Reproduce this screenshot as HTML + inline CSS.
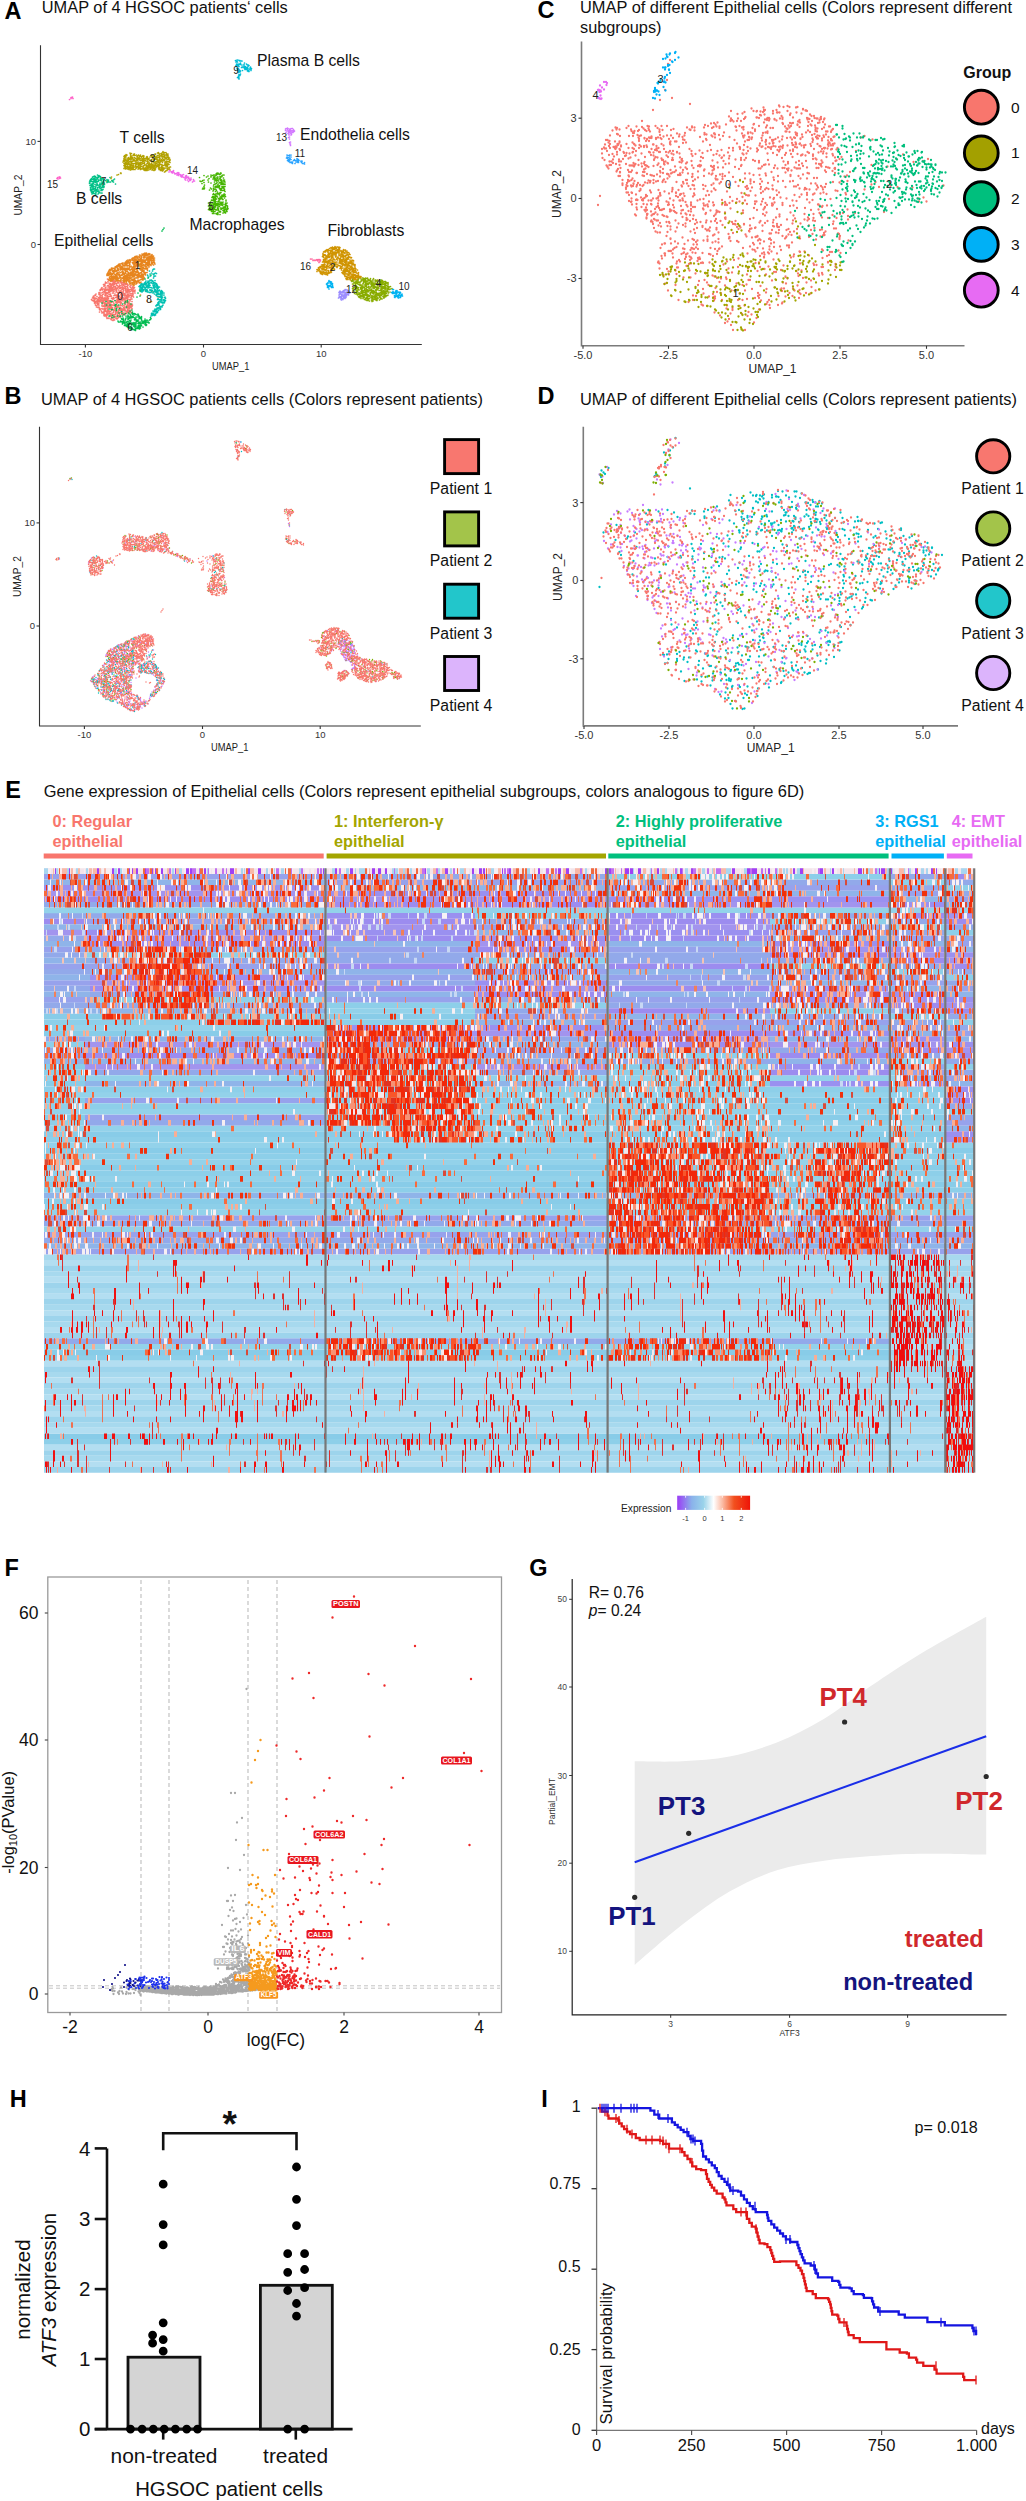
<!DOCTYPE html><html><head><meta charset="utf-8"><style>html,body{margin:0;padding:0;background:#fff;overflow:hidden}svg{display:block}text{font-family:"Liberation Sans",sans-serif}</style></head><body><svg width="1026" height="2501" viewBox="0 0 1026 2501"><rect width="1026" height="2501" fill="#fff"/><text x="4.4" y="18.7" font-size="23.5" font-weight="bold">A</text><text x="41.8" y="13.4" font-size="16.3" fill="#111" textLength="246" lengthAdjust="spacingAndGlyphs">UMAP of 4 HGSOC patients‘ cells</text><text x="4.4" y="404.3" font-size="23.5" font-weight="bold">B</text><text x="41" y="404.5" font-size="16.3" fill="#111" textLength="442" lengthAdjust="spacingAndGlyphs">UMAP of 4 HGSOC patients cells (Colors represent patients)</text><g><path transform="scale(.5)" stroke="#F8766D" stroke-width="3.4" stroke-linecap="round" d="M215 558h0m-4 6h0m0 1h0m1 0h0m0 1h0m2 0h0m0 0h0m2-3h0m1-3h0m0 0h0m1 6h0m3 1h0m1-4h0m2-2h0m0 0h0m1 2h0m1-1h0m0 4h0m0 1h0m1-3h0m0-3h0m1 0h0m1 1h0m0 3h0m0 1h0m1-3h0m0 4h0m0-5h0m1 2h0m2-3h0m0 6h0m2-3h0m1-2h0m0 4h0m0-4h0m0 1h0m1 3h0m0 0h0m1 0h0m3-4h0m0 2h0m1 2h0m1-2h0m0 1h0m2 0h0m2 0h0m1 0h0m3 1h0m18 9h0m-1 0h0m-1-1h0m-1-1h0m-1 1h0m-3-3h0m-1 4h0m-1-2h0m0-1h0m-4-1h0m0-1h0m-1 2h0m0-4h0m0 1h0m0 6h0m-1-6h0m0 4h0m0-5h0m-2 0h0m0 0h0m-1 5h0m0 0h0m0-4h0m-1-1h0m-1 6h0m0 0h0m0-2h0m0-4h0m-2 0h0m0 2h0m0-2h0m-1 7h0m0-4h0m-1 3h0m0 1h0m-1 0h0m0-6h0m0 0h0m0 5h0m0-6h0m-1 7h0m-1-4h0m0 0h0m0 0h0m-2 3h0m-1-1h0m0-3h0m-1 3h0m-1 1h0m-1 0h0m0 1h0m0 0h0m-1-4h0m-1 0h0m-1-1h0m-2 3h0m0 2h0m-2-6h0m0 4h0m-1 1h0m-1-2h0m0-4h0m0 6h0m-1 1h0m0-7h0m0 7h0m0-5h0m-1 0h0m-1-2h0m0 7h0m-1-3h0m0 2h0m0-5h0m-1 3h0m0-2h0m-1 0h0m0 5h0m-1 0h0m0 0h0m0 0h0m-1-2h0m0-4h0m-1 5h0m-1-3h0m-1 3h0m-1-3h0m-3 3h0m-1 1h0m-1-4h0m0-3h0m-2 4h0m0 1h0m0-4h0m-1 0h0m-3 6h0m-4 5h0m1-1h0m0 2h0m1-3h0m1-2h0m1 3h0m0-1h0m1 1h0m0 1h0m1-2h0m1 0h0m1 5h0m1-2h0m0 1h0m0-4h0m1 4h0m0-1h0m1-3h0m1 3h0m0-1h0m0 1h0m1-2h0m1-1h0m0 0h0m1 1h0m0 1h0m1-2h0m0 1h0m1 3h0m1-4h0m0 3h0m0-1h0m0 0h0m0 1h0m1-5h0m1 6h0m1-4h0m0 5h0m0 0h0m0-3h0m0 1h0m1 1h0m0-5h0m0 5h0m1-6h0m0 2h0m0 2h0m0 1h0m1-1h0m1 2h0m1-3h0m0 0h0m0 3h0m0-5h0m0 4h0m2-2h0m0 4h0m2-6h0m0 3h0m2-3h0m1 6h0m0-4h0m0-3h0m0 5h0m0-1h0m0 2h0m2-5h0m0 0h0m2 3h0m0 0h0m2-3h0m1-1h0m0 6h0m0 0h0m1 0h0m0-5h0m0-1h0m1 7h0m0-7h0m0 5h0m2-2h0m1-1h0m1 1h0m1-2h0m0 4h0m0-1h0m0 2h0m3-5h0m1 0h0m0-1h0m0 4h0m0 1h0m1 2h0m1-5h0m0 4h0m2-3h0m0 1h0m0-1h0m1 4h0m0-2h0m0-5h0m1 3h0m1 2h0m2 2h0m0-4h0m1 4h0m2-2h0m0-2h0m0 2h0m0-3h0m1-2h0m1 5h0m0 2h0m0-7h0m1 5h0m0 2h0m0-4h0m0 4h0m1-1h0m0-5h0m1-1h0m0 6h0m1 1h0m1-3h0m0 2h0m0 4h0m-4 3h0m0-3h0m0 1h0m-2 4h0m0-4h0m-2 4h0m0-3h0m0 0h0m-2-1h0m0 4h0m0 0h0m-1-7h0m0 7h0m-1-1h0m0 1h0m-2-1h0m0-4h0m0 4h0m0-2h0m-1 2h0m-1-6h0m0 6h0m0 1h0m-1-7h0m-1 0h0m0 2h0m-1 5h0m0-1h0m-1-1h0m-1-2h0m0 2h0m0-2h0m-1 3h0m0-3h0m0 2h0m-1-3h0m-1-2h0m0 3h0m-1 3h0m0 1h0m-1 0h0m0-5h0m0 4h0m0-6h0m0 1h0m-1 6h0m0-2h0m0-3h0m0 0h0m-1 3h0m0-4h0m0-1h0m-2 1h0m-1 1h0m-1-2h0m-2 4h0m0 3h0m-1-6h0m0 6h0m-2-1h0m-1 1h0m0-7h0m-2 7h0m0-3h0m-2 3h0m-1-5h0m-2 0h0m-4 2h0m0 2h0m-2-5h0m0 4h0m-1-5h0m0 5h0m-2-3h0m-1 1h0m0-1h0m0 5h0m-1-6h0m-1 3h0m-1-3h0m0 1h0m0-1h0m-1 6h0m0-2h0m-1-5h0m0 7h0m0-5h0m0 4h0m-1-6h0m-2 0h0m0 4h0m-1-4h0m-1 1h0m0 4h0m-1 2h0m-2-5h0m-1 4h0m-2-1h0m0-4h0m0 3h0m0 0h0m-1-1h0m0 2h0m0-4h0m0 0h0m-6 3h0m-1 3h0m-1-1h0m0 1h0m-7 8h0m2-3h0m1-1h0m0-1h0m1-1h0m0-1h0m1 2h0m0 3h0m0-3h0m0 2h0m1 2h0m0-1h0m2 1h0m0-2h0m2 1h0m1-4h0m1 6h0m1-1h0m1 1h0m0-4h0m2 1h0m0 1h0m1-3h0m0-2h0m1 4h0m0-2h0m0 0h0m1 5h0m1-2h0m1-2h0m0 0h0m0-3h0m1 6h0m0-1h0m0-3h0m1 2h0m2 1h0m0 2h0m1-3h0m1 3h0m0-4h0m1 1h0m0 1h0m1-5h0m1 4h0m0-4h0m0 0h0m0 7h0m1-4h0m1-2h0m0 0h0m0 1h0m0 3h0m1-3h0m0 3h0m0 0h0m0-1h0m1 1h0m1-4h0m1 0h0m3-1h0m0 1h0m1-1h0m0 5h0m1-1h0m2 2h0m0 1h0m0-2h0m1-2h0m1 2h0m3-2h0m2 0h0m1 4h0m0-6h0m1 1h0m0 3h0m1 1h0m0-5h0m1-1h0m1 2h0m0 5h0m0-5h0m1-2h0m1 5h0m2-2h0m1 1h0m0-4h0m1 1h0m0 2h0m0 4h0m1-1h0m0 0h0m1-3h0m0 1h0m0 1h0m1 0h0m0 2h0m2-7h0m0 4h0m0 1h0m0 2h0m1-3h0m0 3h0m0-3h0m2 0h0m0-1h0m0 2h0m0-5h0m1 5h0m1 0h0m0-4h0m0 1h0m1 1h0m0 4h0m0-5h0m1 4h0m0-5h0m2-1h0m0 2h0m0-2h0m1 7h0m2 0h0m1-1h0m0-3h0m1-2h0m1-1h0m0 6h0m2-6h0m1 2h0m-3 9h0m-4-1h0m0 5h0m0-7h0m-1 7h0m0-1h0m-2-2h0m-1 3h0m0-3h0m0-1h0m0 1h0m-1 0h0m-1 0h0m0 1h0m0-2h0m-1-2h0m0 0h0m0 4h0m-2 0h0m0-1h0m-1-3h0m0-1h0m0 3h0m-1 2h0m-1 2h0m-2-5h0m-1-2h0m-2 5h0m-1 2h0m0-1h0m0-2h0m0-3h0m-1 3h0m-1 1h0m-1-3h0m0 3h0m-1-4h0m0 2h0m0 2h0m0-5h0m-1 2h0m-1-1h0m-1 4h0m0-4h0m0 3h0m-1 3h0m-1-2h0m0-2h0m-1 2h0m0-3h0m0 0h0m-2-1h0m-2 6h0m-1-3h0m-2-1h0m-2 1h0m0 1h0m0-3h0m0 3h0m0 0h0m-1-1h0m-2-2h0m0-1h0m0 5h0m-2-2h0m0 1h0m0-4h0m-2-1h0m0 7h0m-1-4h0m0 4h0m0-3h0m0 0h0m0-4h0m-2 2h0m0 5h0m-1-6h0m0 6h0m0 0h0m-1-1h0m-1-5h0m-1 4h0m0 2h0m-1-3h0m-1-3h0m0 0h0m-1 5h0m0-4h0m-1 1h0m0-1h0m0 5h0m0-2h0m0-4h0m0 1h0m0-1h0m-3 0h0m0 3h0m-1-3h0m0-1h0m-1 1h0m0 1h0m0 0h0m0-2h0m-1 2h0m0 0h0m0 1h0m-1 3h0m-1-3h0m0-3h0m-2 1h0m0 0h0m0 3h0m0 3h0m0-5h0m-1 2h0m0 3h0m-1-5h0m0 0h0m-2 1h0m0 2h0m0-2h0m-1 0h0m0 4h0m-1-1h0m0-5h0m0 3h0m-1-4h0m0 0h0m-1 2h0m-1-1h0m-1 0h0m-1-1h0m7 10h0m1 1h0m1 3h0m2-4h0m1 5h0m0-5h0m0 4h0m1-5h0m1 5h0m0-4h0m6 2h0m0-2h0m2 3h0m2-2h0m0 2h0m0 0h0m0 0h0m1-2h0m0-2h0m1 2h0m0 2h0m1-4h0m1 1h0m0-1h0m0 4h0m1-4h0m1-1h0m1 4h0m0-2h0m0 0h0m1 5h0m0-2h0m1-1h0m1 0h0m0-4h0m1 5h0m0-2h0m1 2h0m1-1h0m0-3h0m0 5h0m0-3h0m1 2h0m0-2h0m0 3h0m0 1h0m1-4h0m0-1h0m1 5h0m0-5h0m0-1h0m1 6h0m2-4h0m1-2h0m1 2h0m0-2h0m2 5h0m1 0h0m0-4h0m0 1h0m1 1h0m0-2h0m0 5h0m1 0h0m0 0h0m1-2h0m0-2h0m1 1h0m0 2h0m1 0h0m2 1h0m1-5h0m0 5h0m0-4h0m1 0h0m0-3h0m0 7h0m0-7h0m3 3h0m1 1h0m2 3h0m1 0h0m0-4h0m1 3h0m1-5h0m1 0h0m1 5h0m1-2h0m1 1h0m0 1h0m0 0h0m0 0h0m0-1h0m1 2h0m0-4h0m0 0h0m0-3h0m1 2h0m0 3h0m1 0h0m1 2h0m0-3h0m0-2h0m1-1h0m0 1h0m1 4h0m0-1h0m0-5h0m1 4h0m0-4h0m0 3h0m1 4h0m0-4h0m0 2h0m0 2h0m2-7h0m0 5h0m0-4h0m0-1h0m0 4h0m0-1h0m1-1h0m-1 7h0m-2 3h0m-1 2h0m-2-5h0m0 6h0m0-7h0m-1 5h0m0-4h0m0 3h0m-2 2h0m-1-1h0m0-2h0m0-3h0m-2 0h0m-1 6h0m-2 0h0m0-2h0m0-2h0m-1-1h0m0 3h0m0-2h0m-1-1h0m0-1h0m-1 3h0m-1 2h0m0-1h0m-1 3h0m0-5h0m-1 4h0m-1-2h0m0-3h0m0 4h0m-1-3h0m0 2h0m-1 0h0m0-3h0m0 4h0m0-5h0m-1 5h0m0-1h0m0-3h0m-1 3h0m0-2h0m0 1h0m-1 1h0m-1 2h0m0-3h0m-4 2h0m0-4h0m0 5h0m-1 0h0m-1-3h0m0 4h0m0-5h0m-1 2h0m-1-4h0m0 0h0m0 4h0m-1 1h0m-1 1h0m0-2h0m-1-1h0m-2-3h0m0 1h0m0 0h0m-1 4h0m0-3h0m0 0h0m0 3h0m-1-3h0m-1 0h0m0 5h0m0-5h0m-2-2h0m0 7h0m0 0h0m-1-2h0m-2 0h0m0 2h0m-1-5h0m0 1h0m0 3h0m0 0h0m0-4h0m-1-2h0m0 6h0m-3-3h0m0 2h0m0-4h0m0 6h0m-1-2h0m0-5h0m0 3h0m-1 1h0m0-3h0m-1 5h0m0 1h0m-1-5h0m-2 0h0m-1-1h0m-1 5h0m-2-4h0m-1 2h0m-1-3h0m0 2h0m0-3h0m0 8h0m5 2h0m0-2h0m2 1h0m1 0h0m0 0h0m1 6h0m0-2h0m0-4h0m0 2h0m0 1h0m0 2h0m0-6h0m1 4h0m1 2h0m1-1h0m1 0h0m0 1h0m2-6h0m0 1h0m0 2h0m0 4h0m0 0h0m1-2h0m1-1h0m1-4h0m1 4h0m0-4h0m0 3h0m1-1h0m0 2h0m0-1h0m2 4h0m0-4h0m0 0h0m1 3h0m0-1h0m1 1h0m0 0h0m1 0h0m0-4h0m1 3h0m2 0h0m0 2h0m0-6h0m1 6h0m2-2h0m1-3h0m0 3h0m2-3h0m1-1h0m1 4h0m1 2h0m0-7h0m0 2h0m2 5h0m0 0h0m0-6h0m0 1h0m0 0h0m1 2h0m1 2h0m1-5h0m1 0h0m2 1h0m0 3h0m0-5h0m0 5h0m1-2h0m0 2h0m0-2h0m2-1h0m0 1h0m1 3h0m1-1h0m1-3h0m0 2h0m1-1h0m2 0h0m0-1h0m1-2h0m1 1h0m2-1h0m0 1h0m1 2h0m1-2h0m1-1h0m1 0h0m2 1h0m1 0h0m0 1h0m-23 8h0m-1-2h0m-1 1h0m-1 0h0m-1 2h0m0-3h0m-1 0h0m-1 5h0m-1 1h0m0-2h0m0-4h0m-2 5h0m-1-4h0m0 0h0m0 1h0m-3-1h0m0 5h0m0-4h0m-1-2h0m0 1h0m-1 2h0m-1 1h0m-1 0h0m-1-1h0m0-2h0m0 1h0m-1 5h0m0-2h0m0 0h0m-2-5h0m0 0h0m-2 4h0m0 1h0m-2-1h0m-2 1h0m-1-3h0m-1-2h0m-3 0h0m15 8h0m2 1h0m1-1h0m2 0h0"/><path transform="scale(.5)" stroke="#E7851E" stroke-width="3.4" stroke-linecap="round" d="M304 511h0m0-2h0m-2 2h0m-2-3h0m-1 1h0m-1-2h0m-1 2h0m-1 0h0m0-1h0m-1 2h0m-1-1h0m-1-3h0m0 4h0m0-1h0m-1-2h0m0 4h0m0-1h0m0 1h0m-1-1h0m0 1h0m-1-3h0m0-2h0m0 1h0m-1 4h0m-1-4h0m0 4h0m-1-2h0m0-1h0m-1 2h0m-2 1h0m0-3h0m-4 2h0m-1 0h0m0 0h0m-19 9h0m4-1h0m0-1h0m0 0h0m1-1h0m2 2h0m1-3h0m2-2h0m0 6h0m0-2h0m0-1h0m1-3h0m1 1h0m0-1h0m1 5h0m1-6h0m0 3h0m1-1h0m1 3h0m1 2h0m0 0h0m1-5h0m0-1h0m1 2h0m1 1h0m0 3h0m1-7h0m0 7h0m1-3h0m0 2h0m1 0h0m0-3h0m0-1h0m0-1h0m0 4h0m1 2h0m3-4h0m0-1h0m1-2h0m0 6h0m2-6h0m0 1h0m0 2h0m3 4h0m0-1h0m0 1h0m0-3h0m0 0h0m1-1h0m0 2h0m0 0h0m0-2h0m0-3h0m1 7h0m0-2h0m2-1h0m0 2h0m0-4h0m1-2h0m0 6h0m0-3h0m0-3h0m0 7h0m1-1h0m1 0h0m0-4h0m1 4h0m0-3h0m0 1h0m0-1h0m0 2h0m0-2h0m1-2h0m0 6h0m0-7h0m2 0h0m0 5h0m0-2h0m1 0h0m0-3h0m1 2h0m0 3h0m1 2h0m0-2h0m0-5h0m2 4h0m0 4h0m0 0h0m0 5h0m0 1h0m-1-3h0m0 1h0m-1-3h0m-1 4h0m0-5h0m-1 7h0m0 0h0m-1-5h0m0 5h0m0-6h0m-1-1h0m0 7h0m0-6h0m0 3h0m-1-4h0m-2 1h0m-1 5h0m0-3h0m0 2h0m-1-5h0m0 7h0m-1-7h0m0 1h0m0 3h0m0 1h0m-1-3h0m0 2h0m0 0h0m-1 3h0m0-3h0m0-4h0m0 0h0m0 7h0m-1-2h0m0 2h0m-1-7h0m0 0h0m-1 7h0m0-7h0m-1 2h0m0 3h0m0-5h0m-1 1h0m-1 2h0m0 2h0m-1-3h0m-1-1h0m0 3h0m-1 0h0m-1 2h0m0-6h0m0 2h0m-1 5h0m0-2h0m-1-2h0m-1 3h0m0-6h0m-1 3h0m0-1h0m0 5h0m0-7h0m-2 2h0m-1-1h0m0 2h0m0-2h0m-1-1h0m0 2h0m0 4h0m0 0h0m-1 0h0m0 1h0m0-7h0m0 6h0m0-3h0m-1 3h0m0-5h0m-1 5h0m-1 0h0m0 1h0m-1-5h0m0 1h0m0-3h0m-1 2h0m0 2h0m-1 1h0m0-3h0m0 4h0m0-3h0m0 4h0m-1-3h0m-1 1h0m0 0h0m0 0h0m0-4h0m-1 1h0m-1 5h0m0-6h0m-1 4h0m-1-5h0m-3 4h0m0-3h0m0-1h0m0 2h0m0 2h0m-2 3h0m0-2h0m0-5h0m-1 1h0m0 5h0m0-1h0m-1-2h0m0 2h0m-1 1h0m0-2h0m0-4h0m-1 3h0m0 1h0m-1-3h0m0 2h0m0 0h0m-1 2h0m0-3h0m0 0h0m-1 4h0m0-1h0m0 2h0m-1-3h0m-1 3h0m-2-1h0m0 0h0m-3 0h0m-1 1h0m-1 0h0m0 0h0m-13 7h0m0 0h0m2 1h0m0-2h0m1 1h0m0-2h0m2 2h0m0-3h0m1-1h0m2-2h0m0 4h0m0 1h0m0-3h0m1-2h0m0 6h0m1-3h0m1-3h0m0 7h0m1-2h0m0-1h0m0 2h0m1 1h0m0-2h0m1 1h0m1-5h0m0 5h0m1-3h0m0-2h0m2 3h0m0-1h0m1 0h0m1-3h0m0 0h0m0 4h0m1-2h0m1-2h0m1 2h0m1-2h0m0 4h0m1 0h0m1-1h0m0 0h0m0 0h0m2 0h0m1-2h0m0 0h0m0 4h0m0-1h0m1 2h0m0-6h0m2 4h0m2 2h0m2 0h0m1-6h0m0 7h0m1-3h0m0-2h0m0-2h0m0 1h0m0-1h0m1 4h0m0-3h0m0 5h0m2 0h0m0 0h0m1-4h0m0 1h0m2-2h0m0 3h0m1 2h0m0-1h0m0-2h0m1 1h0m1-3h0m1 0h0m0 1h0m1 2h0m0-3h0m1 0h0m1 4h0m0-4h0m0 4h0m1-1h0m0-2h0m0-1h0m1 5h0m1 1h0m0-5h0m0 2h0m2 0h0m1-2h0m0-1h0m0 6h0m3-4h0m0 2h0m0-3h0m1 3h0m0-1h0m0-3h0m1 5h0m0-5h0m2-1h0m0 4h0m1-1h0m0-2h0m1 1h0m1-2h0m0 1h0m1-1h0m0 6h0m0-4h0m0 2h0m1-3h0m1 0h0m2 2h0m1-3h0m0 0h0m2 0h0m0 0h0m2 2h0m3-2h0m-15 8h0m0 1h0m0 4h0m0-1h0m-1-2h0m-1 0h0m0-2h0m-2 1h0m-1 1h0m-2 5h0m0-1h0m0-1h0m0 1h0m0-5h0m-1 0h0m0 6h0m0-6h0m0 5h0m-1-4h0m-1 2h0m0-4h0m0 3h0m-1 4h0m0-7h0m0 6h0m-1-2h0m-1-2h0m0 2h0m-1-3h0m0 3h0m-1-3h0m0-1h0m-1 2h0m-3 5h0m-1-3h0m0 2h0m-1 1h0m0 0h0m0-1h0m0-3h0m-1 0h0m-2 4h0m-1-5h0m-1 5h0m0-3h0m-1-4h0m0 0h0m0 7h0m-1-1h0m0-2h0m0-2h0m-2 3h0m0-3h0m-1 0h0m0-2h0m0 2h0m-1 1h0m-1 0h0m-2 2h0m0-1h0m-1-4h0m-1 2h0m-1 1h0m-1-3h0m0 1h0m0 1h0m-1 5h0m-1-6h0m0-1h0m0 4h0m0-3h0m-1 1h0m-1 2h0m0 0h0m0 3h0m0-4h0m-1 0h0m0-2h0m-1 4h0m0-5h0m0 3h0m-1-1h0m-1-2h0m-1 3h0m-1 1h0m0-3h0m-1 0h0m0 6h0m0-6h0m0 2h0m0-2h0m-1 6h0m-1-4h0m-1-2h0m-1 3h0m0-3h0m-3 1h0m-1 3h0m0-2h0m0-1h0m-1 1h0m-1-2h0m0 3h0m-1 2h0m-1-1h0m-1 2h0m0 0h0m0-2h0m-1-1h0m-1-4h0m0 4h0m0-3h0m-1 3h0m0 3h0m-1 0h0m-1-6h0m-1 5h0m0-6h0m0 5h0m-1 2h0m-1-3h0m0-2h0m-1 2h0m0-2h0m0-2h0m-2 5h0m0-2h0m-1 0h0m-1 2h0m0-2h0m0 1h0m0 1h0m-1 0h0m-1 2h0m-3 7h0m0-2h0m0 3h0m1-1h0m1-5h0m0 1h0m1 2h0m0 3h0m0-7h0m1 6h0m1-1h0m0-2h0m1-3h0m0 0h0m1 4h0m0 0h0m0-3h0m0 1h0m1 3h0m1-2h0m0 4h0m0 0h0m1-4h0m0 2h0m1 0h0m0-1h0m2-3h0m0 0h0m0 2h0m1-3h0m1 0h0m0 4h0m1 1h0m1 2h0m1 0h0m0-2h0m1-2h0m0 3h0m1-3h0m0-1h0m2 4h0m0-5h0m0 4h0m0-2h0m0-1h0m1 4h0m2-6h0m0 7h0m0-1h0m0-2h0m2-3h0m0 6h0m2 0h0m0-1h0m1-6h0m0 5h0m1-1h0m0 2h0m0-3h0m1-1h0m1-1h0m0-1h0m0 5h0m0-5h0m1 4h0m0-1h0m1 3h0m0-3h0m0 3h0m0-2h0m1 3h0m1-6h0m0-1h0m1 3h0m1 3h0m0 0h0m1 0h0m0 0h0m1 1h0m1-5h0m0 2h0m1-3h0m0 6h0m0-1h0m0-2h0m1 2h0m1-3h0m1 3h0m1-5h0m0 4h0m1-2h0m0-3h0m0 7h0m0-4h0m1 0h0m0-3h0m0 2h0m0 0h0m0 4h0m1-3h0m0 3h0m1-5h0m0-1h0m0 2h0m0 4h0m0-2h0m0-2h0m0-1h0m0 4h0m0 0h0m0-2h0m1-1h0m0 5h0m0-3h0m1-3h0m0-1h0m0 6h0m1-4h0m1 3h0m1-2h0m1 3h0m0-1h0m1-3h0m0-1h0m1 6h0m0-1h0m1-6h0m0 7h0m1-2h0m0-4h0m2 1h0m0-1h0m0 6h0m0-4h0m1 2h0m0 2h0m1 0h0m0-4h0m1-1h0m0 5h0m0 0h0m1 0h0m0 0h0m1-5h0m0-1h0m0 5h0m1-5h0m0 4h0m1 0h0m1-1h0m0 3h0m1 0h0m1-2h0m1-4h0m1 2h0m0 1h0m1 0h0m0-1h0m0-1h0m1-1h0m0 5h0m0-2h0m3-3h0m-5 11h0m-1-1h0m-1-3h0m0 6h0m0-4h0m0 3h0m0-3h0m-2 5h0m0-2h0m0-3h0m-1 2h0m0-4h0m-2 7h0m0-4h0m0-1h0m-2 0h0m0-1h0m-2 1h0m-2 2h0m0-4h0m0 1h0m0 0h0m0 1h0m-1-1h0m0 3h0m-3-1h0m0 1h0m-3 1h0m0 2h0m0-7h0m-1 1h0m0 1h0m0 0h0m0 5h0m0-6h0m-2 5h0m-1-6h0m0 0h0m0 2h0m0-1h0m-1 1h0m0 5h0m-2-3h0m0 0h0m0 2h0m-2-5h0m0 2h0m-1 2h0m-1 2h0m0-2h0m0 0h0m0-5h0m-1 3h0m0 4h0m-2-7h0m0 6h0m0-3h0m-1-3h0m-1 2h0m0 3h0m-1-4h0m0 3h0m-1 1h0m0-5h0m0 3h0m-1 1h0m0-1h0m0 3h0m-1-4h0m0 1h0m-1 4h0m-1-6h0m0 1h0m0 3h0m-1-2h0m-1 2h0m0-1h0m-2 0h0m-1 3h0m-1-4h0m-1 1h0m0-4h0m-1 1h0m-1 3h0m-1 1h0m-1 0h0m0 1h0m-1-3h0m0-1h0m-1 1h0m0 2h0m0-4h0m-2 6h0m0-4h0m-1 3h0m0-2h0m0-3h0m-1 2h0m-1 1h0m0-3h0m-1 3h0m0 2h0m-1-6h0m0 2h0m0 5h0m0-4h0m-1 0h0m0-2h0m0 6h0m0-4h0m0 2h0m-2 0h0m0 2h0m-1-7h0m0 2h0m0 1h0m0 0h0m-1-3h0m-1 5h0m0 2h0m-1-6h0m-1 4h0m0-2h0m-2 4h0m2 2h0m0 0h0m1-1h0m1 2h0m1-2h0m1 0h0m1 1h0m8 1h0m1-1h0m1-1h0m1 1h0m2 0h0m2 1h0m2-2h0m0 2h0m0 0h0m0 0h0m1-1h0m4 0h0m1-1h0m0 3h0m1 1h0m0-2h0m1 2h0m1-2h0m0-1h0m0 1h0m1-1h0m2 5h0m0-3h0m0-2h0m0-1h0m2 1h0m0-1h0m0 1h0m1-1h0m0 1h0m1 1h0m0 0h0m1 2h0m1 0h0m1 1h0m0-4h0m1 5h0m0-4h0m3 3h0m0-4h0m1 5h0m1-5h0m0 5h0m0-1h0m1-4h0m0 4h0m1 1h0m0-2h0m0-1h0m0 2h0m0 0h0m1 1h0m1-6h0m0 4h0m0-3h0m1 0h0m0 3h0m1-2h0m1 2h0m0 3h0m0-1h0m0 1h0m0-4h0m1 3h0m0-1h0m0 0h0m1-3h0m1-2h0m0 0h0m0 3h0m0-3h0m2 4h0m0 1h0m0-4h0m0 0h0m0 4h0m1 1h0m1-6h0m0 6h0m1-1h0m1-1h0m3-4h0m0 0h0m1 0h0m-14 8h0m-3 0h0m-1 3h0m-2-2h0m0 1h0m-1-2h0m-3 0h0m-2 0h0m-1 0h0m20 12h0m2 1h0m10 0h0m12 1h0m1 1h0m10 0h0m-33 7h0m34 3h0m3 1h0m-15 9h0m-2 1h0m-7-2h0"/><path transform="scale(.5)" stroke="#00C0B2" stroke-width="3.4" stroke-linecap="round" d="M309 538h0m-2 0h0m-1 1h0m-1 3h0m-6 0h0m-4 8h0m5-2h0m3-2h0m3 2h0m2 2h0m1-3h0m2-1h0m2 1h0m-2 5h0m-3 1h0m-1 3h0m-6-4h0m-1 0h0m-3 3h0m-1-3h0m-12 15h0m0 0h0m4 0h0m1-1h0m1 1h0m0-2h0m1-1h0m1-2h0m0 4h0m1 1h0m2-2h0m1-3h0m1 2h0m0 3h0m2-1h0m0 1h0m0-5h0m1-1h0m0-1h0m1 1h0m1 4h0m1-5h0m0 6h0m0-1h0m1-4h0m0 0h0m1 2h0m1-1h0m0 5h0m1-2h0m0 2h0m1-2h0m2 0h0m0-4h0m1 6h0m2 0h0m6 7h0m-2 1h0m-1-2h0m-1-2h0m0 3h0m-1-5h0m0 6h0m0-3h0m-1-2h0m0-1h0m-1 3h0m-1 2h0m0-6h0m-1 0h0m-1 2h0m0 0h0m0 4h0m0-3h0m-1 1h0m-1 0h0m0 1h0m-1-3h0m-4 5h0m0 0h0m-2-4h0m-1-3h0m0 7h0m-1-2h0m0-5h0m0 3h0m-1-2h0m0 3h0m0-1h0m-1 1h0m0 3h0m-1-2h0m0-1h0m0 2h0m-1 0h0m0-4h0m0 0h0m-1 3h0m-1 2h0m0-1h0m-1-5h0m0 1h0m-2 5h0m0-6h0m-1 4h0m0 0h0m0-5h0m-1 1h0m0 5h0m0-3h0m-1-1h0m-1 5h0m0-6h0m0 0h0m0 3h0m-2-4h0m-1 3h0m0-3h0m0 2h0m0 2h0m0 3h0m-2-4h0m0 2h0m-1-1h0m-1 1h0m2 7h0m0-1h0m0 1h0m0-4h0m1 0h0m1 7h0m1 0h0m0-2h0m0-3h0m1 3h0m1-4h0m0 2h0m1 3h0m0-1h0m0-2h0m1 2h0m1-2h0m2-3h0m1 2h0m0 4h0m0 0h0m1-1h0m0 2h0m0-4h0m0 3h0m1 0h0m1-2h0m0 3h0m0-4h0m1 2h0m1-5h0m4 4h0m0-1h0m0 1h0m0 1h0m0-1h0m1 1h0m0 0h0m2-1h0m0 3h0m1-3h0m0 0h0m0-4h0m1 5h0m2-5h0m1 7h0m1-7h0m0 3h0m1 2h0m0 2h0m1-4h0m0 4h0m0 0h0m1-2h0m2-4h0m1 3h0m0-3h0m0 6h0m0-4h0m1-2h0m0 0h0m0 4h0m1 1h0m2-1h0m0-1h0m2 3h0m1 0h0m1-2h0m2 2h0m3 7h0m0-4h0m-2 0h0m0 0h0m-1 4h0m0-5h0m-1 2h0m0 0h0m-1-2h0m-1 6h0m0-3h0m0 2h0m0-1h0m0-5h0m-1 0h0m0 4h0m0-1h0m0 1h0m0-4h0m0 4h0m-1 1h0m-2 0h0m0 0h0m0-1h0m0 0h0m-1 1h0m0-3h0m-1 3h0m0-1h0m-1-1h0m0 0h0m-1-1h0m0 2h0m0-3h0m-1 4h0m0-5h0m0 7h0m-1-6h0m0 5h0m-3-2h0m-1-4h0m-1 0h0m-1 2h0m0-1h0m0 0h0m-4 0h0m-3 0h0m-2-1h0m-2 0h0m-11 0h0m31 9h0m0 6h0m1-1h0m0-1h0m1-4h0m1 6h0m2-6h0m0 1h0m0 5h0m2-5h0m0 1h0m0-3h0m0 3h0m1-2h0m0 3h0m0 2h0m1-2h0m1-2h0m3 5h0m1-4h0m1-1h0m1 2h0m0 1h0m0 4h0m-1 1h0m-1 1h0m0-3h0m0 5h0m0-5h0m-1 6h0m0-5h0m-1 4h0m0-5h0m-1 0h0m-1 4h0m0 2h0m-2-6h0m-1 2h0m0 2h0m0 1h0m-2-3h0m-2 3h0m0 2h0m0-4h0m-2 4h0m0-2h0m0 2h0m-4 5h0m0 0h0m0-1h0m2-2h0m0 2h0m1-1h0m0-1h0m1-1h0m0 1h0m0 0h0m2 1h0m0 5h0m0 0h0m1-3h0m2 1h0m3-1h0m0 2h0m1-3h0m1-1h0m-5 8h0m0 1h0m0-3h0m-1 1h0m0 2h0m-2-3h0m-1 5h0m-1-5h0m0 2h0m-1-2h0m0 7h0m-1-7h0m0 1h0m-1 3h0m0 3h0m0 0h0m0-5h0m-1 2h0m-1 3h0m-1-5h0m-1 4h0m0-2h0m-3 2h0m-3 5h0m0 2h0m1-3h0m1 5h0m0-3h0m1-1h0m0 3h0m0-3h0m1 2h0m1-1h0m0 2h0m0-6h0m1 7h0m2-1h0m0-2h0m1-2h0m1 0h0m2-1h0m-13 7h0"/><path transform="scale(.5)" stroke="#00BC51" stroke-width="3.4" stroke-linecap="round" d="M328 456h0m-2 3h0m-2 3h0m-22 88h0m-6 6h0m-6 2h0m-10 24h0m-4 4h0m-2 8h0m6-2h0m-25 12h0m0-3h0m-4 2h0m-1 3h0m-20-5h0m0 0h0m-6 2h0m-3-1h0m-9 1h0m-8 3h0m9 4h0m7 0h0m10 1h0m1 1h0m0-3h0m1 0h0m5 1h0m8-2h0m8 6h0m9-6h0m2 12h0m-4 2h0m-17 1h0m-4-6h0m-6 4h0m0-4h0m0 3h0m-8-1h0m-2 0h0m-5-1h0m7 13h0m13-5h0m6 1h0m4 2h0m3-2h0m5 4h0m0-1h0m1-4h0m3 2h0m1 3h0m0-1h0m3-4h0m1 1h0m0 2h0m0-5h0m1 3h0m2 3h0m1-3h0m2 1h0m1 1h0m3 1h0m1 0h0m0-1h0m0-1h0m1 2h0m0 0h0m25 7h0m-1 2h0m0-4h0m-1 4h0m-10-1h0m-7-2h0m0-1h0m0-2h0m0 6h0m-2-3h0m0 1h0m-1-1h0m0-1h0m0 2h0m-1 0h0m0-3h0m0-1h0m0 0h0m-1 3h0m0-4h0m0 2h0m-1-2h0m-3 2h0m-2 5h0m0-5h0m0 4h0m-1-1h0m-1 0h0m-1 2h0m-1-4h0m-2-2h0m0 1h0m-1-1h0m0 2h0m-2 0h0m0 0h0m0-1h0m-1 0h0m0 2h0m0-4h0m-2 4h0m-1-2h0m-1 3h0m0-3h0m-1 4h0m0-5h0m-1 4h0m0 0h0m0 2h0m-1-5h0m-3-2h0m0 4h0m-1 2h0m-4 0h0m-1-2h0m0 0h0m-1-4h0m-1 7h0m-1-2h0m-2-5h0m-1 1h0m-5-1h0m-7 2h0m-4 1h0m-5-3h0m-1 0h0m18 10h0m1 2h0m3 0h0m1-2h0m0 0h0m0 0h0m1 1h0m2 1h0m0-1h0m1 2h0m0 2h0m0-3h0m1 1h0m0 1h0m1-6h0m0 0h0m0 2h0m1 2h0m0-2h0m0 4h0m1 0h0m1 1h0m0 0h0m1-7h0m0 4h0m2 0h0m0 1h0m2-2h0m0 4h0m1-4h0m1 1h0m2 2h0m0-5h0m1 5h0m0-4h0m1 1h0m1-3h0m1 6h0m2 0h0m2 1h0m1-2h0m1 1h0m0 0h0m1-6h0m1 6h0m1-2h0m0 3h0m0-1h0m1-3h0m0-3h0m0 0h0m1 3h0m1-3h0m0 3h0m1 4h0m0 0h0m0-4h0m1 3h0m0-6h0m1 7h0m0-2h0m1 0h0m1-1h0m1 3h0m0 0h0m1 0h0m1-1h0m0-4h0m1 4h0m1 0h0m0-4h0m1 5h0m0 0h0m0-4h0m1 2h0m0 1h0m1-4h0m0 3h0m1-1h0m0 2h0m1 0h0m0-5h0m1 6h0m0-4h0m0 1h0m1-3h0m0 4h0m1-1h0m1-4h0m2 5h0m0-3h0m2 3h0m0 1h0m1-6h0m-6 9h0m0 1h0m0 0h0m-1 1h0m-1-1h0m-1-1h0m-4 5h0m-3-3h0m-1-2h0m0 3h0m0-4h0m-1 4h0m0 0h0m-1 2h0m0-2h0m0-1h0m-1 3h0m-1-4h0m0 2h0m0-2h0m0 4h0m0-1h0m-1-2h0m0 0h0m0 4h0m0-2h0m-1-1h0m0 2h0m0-2h0m0 1h0m-1 2h0m-3-1h0m0-4h0m0 3h0m-1-4h0m0 3h0m-1-1h0m-1-2h0m0 5h0m0-2h0m-1-3h0m-1 3h0m-1-3h0m0 0h0m-1 0h0m-2 1h0m-1 4h0m-2-6h0m-1 7h0m0-6h0m0-1h0m-2 7h0m0-4h0m0-3h0m0 6h0m-1-6h0m0 3h0m0 3h0m0-6h0m-1 1h0m-1-1h0m0 5h0m-1-2h0m0 2h0m-1-2h0m-1-1h0m-1 1h0m0-2h0m0 2h0m-1 0h0m-4-3h0m13 9h0m3 0h0m1 2h0m1-2h0m1 2h0m0 0h0m0-3h0m0 3h0m1-2h0m2 2h0m0 0h0m2 0h0m0 1h0m1-1h0m1 2h0m0-2h0m0-2h0m0 1h0m3-1h0m2 0h0m2-1h0m1 2h0m2-2h0"/><path transform="scale(.5)" stroke="#D09400" stroke-width="3.4" stroke-linecap="round" d="M680 495h0m0 0h0m-2-1h0m0 1h0m-1 0h0m-2-1h0m0 0h0m-1 0h0m-2 1h0m-1 0h0m-1 0h0m0-2h0m0 1h0m-4 1h0m-1-1h0m-3 1h0m-14 8h0m1 0h0m2-1h0m0-1h0m2-1h0m1-1h0m0 3h0m0-2h0m0-1h0m1 1h0m1 3h0m0-2h0m0 0h0m1 0h0m0-2h0m2-2h0m1 4h0m1 1h0m0-6h0m1 4h0m0 0h0m1 3h0m1 0h0m0-1h0m0-5h0m1 0h0m0 3h0m1-3h0m0 0h0m1-1h0m0 3h0m1-3h0m1 1h0m0-1h0m1 2h0m0-1h0m0 2h0m1 3h0m2-5h0m0 4h0m0-4h0m1 4h0m0-2h0m0 0h0m1 4h0m0-3h0m0 0h0m0 3h0m1-2h0m0 2h0m0-4h0m0 3h0m1-3h0m1 1h0m0 2h0m0-2h0m0-2h0m0-2h0m0 1h0m1 2h0m0-3h0m0 1h0m2 5h0m1-1h0m3 1h0m1 0h0m0 0h0m1-3h0m0 3h0m1-2h0m0 0h0m2 0h0m1 0h0m0 1h0m3 1h0m6 7h0m-1-1h0m-1-2h0m-1-1h0m0 5h0m0-5h0m-2 4h0m0 1h0m-1-4h0m0 3h0m0-5h0m0 3h0m0-1h0m-1 4h0m0 1h0m0 0h0m-2-7h0m0 7h0m-1-4h0m-1-1h0m-1-1h0m-1 5h0m0-4h0m0 0h0m0 5h0m-1-6h0m0-1h0m-1 6h0m0-5h0m0 4h0m-1 1h0m0-4h0m0 4h0m-1-6h0m0 2h0m-1 2h0m-1 2h0m-1 1h0m-1-5h0m-1 3h0m0-5h0m0 2h0m0 5h0m-1-5h0m-2-1h0m-2 0h0m0 2h0m-1-1h0m0 3h0m-1-3h0m0 1h0m-1-2h0m0 5h0m-1-3h0m-1-3h0m0 4h0m0-2h0m-2 1h0m0-3h0m0 0h0m0 7h0m0-1h0m0-4h0m-1 5h0m0-1h0m-1 0h0m0-4h0m-1 5h0m0-3h0m-2-4h0m0 2h0m-1 1h0m0-1h0m0 2h0m-1 1h0m-2-3h0m0 1h0m-1-3h0m0 1h0m0 5h0m0-1h0m0 1h0m-4 1h0m-1-7h0m-1 0h0m0 5h0m-1 2h0m-1 0h0m-1-2h0m0-5h0m0 6h0m-1-1h0m0-2h0m0 4h0m-1 2h0m2 6h0m0-4h0m0-3h0m2 7h0m1 0h0m0-2h0m0-1h0m1 3h0m0-1h0m0-1h0m0-1h0m1-3h0m1-1h0m0 5h0m0-5h0m0 0h0m1 3h0m0 3h0m1-4h0m0 1h0m0-2h0m1 1h0m0 0h0m0 1h0m1-3h0m1 0h0m1 3h0m0-2h0m2-1h0m1 6h0m0 0h0m1-4h0m0 1h0m1-2h0m0 3h0m2-2h0m0 2h0m1 3h0m1 0h0m0-1h0m3-4h0m0-2h0m0 2h0m2-2h0m0 0h0m0 6h0m1 1h0m0-1h0m0-2h0m2-2h0m1 2h0m1 1h0m1 1h0m1 0h0m1-4h0m0 3h0m1-3h0m2 5h0m0-7h0m1 2h0m0 5h0m1-1h0m0 0h0m1-3h0m0-3h0m0 7h0m1-1h0m0-1h0m0-4h0m2-1h0m1 7h0m0-5h0m0-1h0m1 4h0m0 0h0m0 0h0m0 1h0m1 1h0m1-3h0m1 3h0m0-4h0m0 3h0m1-1h0m1-4h0m0 5h0m1-3h0m1-1h0m1 0h0m2 2h0m1-1h0m4 6h0m0 5h0m0-4h0m-1-1h0m-1 5h0m-1-2h0m0-4h0m0 5h0m-1-3h0m0 4h0m-2-4h0m0 5h0m0-4h0m0 2h0m0-3h0m-1-2h0m0 5h0m-1 0h0m0 2h0m0-3h0m-1 3h0m-1-1h0m-1-2h0m0 0h0m-2 0h0m0 0h0m-1-1h0m0-2h0m-1 1h0m0 3h0m0-5h0m0 0h0m0 7h0m-1 0h0m-1-6h0m0 3h0m0-1h0m-1-1h0m0 3h0m0 0h0m-2-5h0m-1 3h0m0 4h0m-1-1h0m0-5h0m-1 0h0m0-1h0m0 7h0m-1-4h0m0 3h0m-1-1h0m0-5h0m0 2h0m-1 2h0m0 3h0m-1-3h0m0-2h0m0-1h0m-1 5h0m0-2h0m0-4h0m0 0h0m0 3h0m-1 3h0m-3-6h0m0 0h0m-1 4h0m-2 0h0m-1 2h0m0-1h0m-1-5h0m-1 7h0m0-3h0m0 3h0m-3-2h0m0-2h0m0-3h0m-1 1h0m0-1h0m-1 1h0m0 4h0m0-3h0m0-1h0m-3 5h0m0 0h0m0-6h0m-1 7h0m0-3h0m0-2h0m0-2h0m-1 0h0m0 4h0m0-1h0m-1-1h0m-1-1h0m0 3h0m0 2h0m-1-3h0m0 3h0m-1-3h0m0 1h0m0 3h0m-1-5h0m-1 3h0m-1-3h0m0 1h0m0 1h0m-1-4h0m0 5h0m-1-1h0m0 1h0m-1-2h0m-1-1h0m0-1h0m-1-1h0m0 4h0m0-2h0m-1 2h0m-1 0h0m-8 11h0m3 0h0m0-2h0m2 0h0m1-3h0m1 0h0m1 3h0m1 0h0m0-4h0m1 2h0m0-2h0m2 6h0m0-7h0m0 5h0m0-1h0m1-3h0m1 6h0m0-1h0m1 0h0m1 0h0m0-1h0m0 1h0m0 1h0m0-4h0m0 0h0m1 0h0m1-2h0m0 4h0m0-3h0m0 4h0m1-6h0m1 5h0m1-1h0m2 3h0m0-5h0m1-1h0m1 5h0m0-5h0m1 3h0m0 3h0m1-3h0m1-2h0m0 3h0m0-3h0m0 4h0m1-4h0m1 4h0m0-4h0m1 3h0m1-4h0m0 1h0m3 0h0m0-1h0m0 4h0m2 2h0m0-7h0m1 5h0m1-3h0m1 1h0m1 0h0m2 1h0m0-1h0m1 4h0m2-2h0m0-5h0m1 4h0m1-2h0m0 2h0m0-4h0m0 0h0m1 2h0m1-1h0m1 1h0m0-1h0m0 1h0m2 2h0m0 0h0m1-3h0m0-1h0m1 2h0m1 4h0m0-5h0m0-1h0m0 7h0m1-7h0m0 3h0m0 1h0m1-4h0m0 3h0m0 1h0m0 1h0m0-4h0m0 6h0m1-3h0m0 0h0m0-2h0m1-1h0m1 3h0m1 0h0m0-1h0m1 1h0m1 1h0m1 2h0m1-3h0m0-4h0m0 6h0m1 1h0m0-3h0m0 0h0m1-3h0m2 0h0m1 1h0m1 2h0m1 0h0m0-3h0m0 1h0m0 5h0m5 5h0m-3-2h0m-1 3h0m0-4h0m0 1h0m-2-1h0m-1 5h0m0-2h0m-1 2h0m0 1h0m0-3h0m0 1h0m-1 0h0m0-5h0m0 2h0m-1 0h0m0 1h0m-1 4h0m0-3h0m-1-4h0m0 3h0m-1 0h0m-2 0h0m0 2h0m0-5h0m-1 4h0m0-3h0m0 6h0m-1-7h0m-1 1h0m-1 4h0m0 2h0m0 0h0m-1-4h0m0 0h0m-1 4h0m0-2h0m-1 0h0m0 0h0m0-5h0m0 6h0m0-1h0m0-4h0m0 4h0m-1-2h0m0 3h0m0-1h0m-1-4h0m-1-1h0m0 7h0m-1-5h0m0 2h0m-1 3h0m0-3h0m0 1h0m0-2h0m-2 3h0m0-6h0m-2 0h0m-1 4h0m0-3h0m-3 0h0m-11 1h0m0 1h0m-2-2h0m-2 2h0m0 1h0m0-3h0m-2-1h0m0 3h0m0-3h0m-1 2h0m0 4h0m0-4h0m0 0h0m-1 4h0m-3-6h0m-1 5h0m0 2h0m0-1h0m-1-1h0m0 0h0m-2-4h0m0 0h0m-1 5h0m0-4h0m-1 1h0m-2 2h0m-1-2h0m-1 0h0m0-1h0m0-2h0m-1 0h0m-1 1h0m0 6h0m0-3h0m0 3h0m-1-7h0m0 2h0m-1-1h0m0 2h0m-2-3h0m0 6h0m-2 0h0m-1-3h0m-1-3h0m0 6h0m-1-5h0m0 0h0m-1 3h0m-1 0h0m-1-1h0m0 4h0m6 1h0m1 3h0m2-3h0m0 0h0m0 1h0m0 3h0m1-1h0m0-1h0m1 3h0m1-5h0m0 2h0m1-2h0m1 2h0m0-2h0m0 3h0m1 1h0m2 0h0m0-3h0m1 0h0m0 4h0m1-1h0m0 1h0m1-1h0m0-1h0m0-1h0m1 0h0m0 4h0m1-3h0m1-2h0m0 2h0m1-2h0m1 1h0m1-1h0m1 0h0m1 0h0m1-1h0m21 1h0m1 1h0m1-1h0m0 2h0m0 0h0m1 1h0m1-1h0m1 3h0m0-1h0m0-3h0m0 0h0m1 5h0m1-7h0m1 3h0m0 1h0m0-1h0m0 0h0m1 1h0m0 0h0m2 0h0m1 1h0m1 2h0m0-5h0m0 0h0m1 3h0m0-5h0m0 7h0m0-5h0m0 3h0m1-2h0m1 0h0m0 0h0m0 1h0m1-2h0m0 0h0m0-1h0m0 3h0m1-2h0m2 3h0m1 2h0m0-1h0m1-4h0m0 4h0m0-4h0m1 3h0m0-5h0m1 0h0m1 6h0m0-5h0m0 6h0m0-6h0m0 5h0m1-1h0m0 1h0m0 1h0m1-1h0m0-6h0m0 1h0m0 6h0m2-7h0m1 3h0m0 4h0m1 0h0m2-6h0m0 6h0m0-3h0m5 5h0m0 1h0m-1 2h0m0-3h0m-2 3h0m0 0h0m0-1h0m-1-1h0m0-2h0m0 1h0m-1 1h0m-1 2h0m0 2h0m0-2h0m-1 3h0m0-6h0m-1 2h0m-1-2h0m-1 3h0m0-2h0m0 2h0m-1 3h0m0-7h0m-1 3h0m-1 3h0m0 0h0m0-1h0m0-2h0m-2 2h0m0-5h0m0 6h0m0-3h0m-1-3h0m0 5h0m0-1h0m0 0h0m0-1h0m-1 0h0m-1-3h0m0 2h0m-1-2h0m0 2h0m0 2h0m-1 0h0m0-3h0m0 1h0m0 2h0m-1-4h0m0 5h0m0-5h0m0 4h0m-1 1h0m0-1h0m0 3h0m-1-2h0m-1-3h0m-1 1h0m-1 4h0m-1-2h0m0-2h0m-1 4h0m0-7h0m0 7h0m0-1h0m-1-4h0m0 5h0m-1-2h0m-1-4h0m-1 0h0m11 7h0m3 1h0m4-1h0m5 0h0"/><path transform="scale(.5)" stroke="#89AC00" stroke-width="3.4" stroke-linecap="round" d="M747 557h0m-1 2h0m-5-2h0m-4 2h0m-1 0h0m0-1h0m0 0h0m-1-2h0m-2 1h0m-2 1h0m0-2h0m-2 2h0m-1 1h0m0-2h0m-2-1h0m0 3h0m-1-3h0m-3 2h0m-5 0h0m-12 1h0m-2 3h0m1 1h0m1-3h0m0 2h0m2 0h0m1 3h0m1 0h0m1 1h0m1-2h0m1 1h0m0-3h0m1 4h0m0 1h0m0-2h0m0 2h0m1 0h0m0-5h0m1 5h0m1-4h0m0 2h0m0-4h0m3 3h0m0 1h0m2-1h0m1-2h0m1-1h0m0 1h0m1-2h0m2 7h0m1-4h0m0-3h0m0 1h0m0 5h0m0-2h0m0-1h0m1 0h0m1-1h0m1 2h0m0-3h0m0 0h0m0 0h0m0 3h0m0-2h0m1 3h0m0-5h0m0 3h0m0 4h0m1-5h0m1 0h0m0 2h0m0-2h0m1 5h0m0-3h0m2-3h0m0 1h0m0-1h0m1 5h0m1 0h0m0 1h0m1-2h0m0-5h0m0 1h0m1 5h0m1-6h0m0 3h0m1-1h0m0 1h0m0 3h0m1 0h0m0-2h0m1 3h0m0-2h0m0-3h0m1 4h0m1-4h0m0 4h0m1 0h0m0 1h0m3-3h0m0-4h0m1 0h0m0 7h0m0-5h0m2-1h0m0 1h0m1-1h0m0 2h0m1 3h0m0-6h0m0 4h0m1-2h0m2 5h0m1 0h0m0 0h0m1-4h0m0-3h0m1 5h0m2-5h0m0 7h0m0-4h0m0 1h0m0 1h0m1 0h0m1-1h0m0 2h0m0 1h0m0-6h0m2 5h0m1-3h0m1 4h0m1 0h0m0-4h0m0 4h0m1-2h0m0-2h0m1 1h0m0 3h0m2-1h0m2-1h0m0 2h0m0-1h0m5 7h0m-2 1h0m-1 0h0m-1-1h0m-1-4h0m0 5h0m0-2h0m-1 1h0m-2-2h0m-1 4h0m-1-1h0m0-4h0m0-1h0m0 0h0m-1 4h0m0-2h0m0 1h0m0 3h0m-1 0h0m-1-2h0m0-4h0m0 5h0m-1 0h0m-2-1h0m0 1h0m0-5h0m0-1h0m0 7h0m-1-2h0m0 2h0m-1-5h0m-1 5h0m0-7h0m-1 4h0m0-4h0m-3 1h0m-1 5h0m0-4h0m0 5h0m0-5h0m-1-2h0m0 1h0m0 1h0m-1 1h0m-1 3h0m0-5h0m-2 5h0m0 1h0m0-7h0m-1 1h0m-1 4h0m-1-4h0m0 0h0m0-1h0m0 6h0m0-6h0m-1 2h0m0-1h0m0 2h0m0-3h0m-1 5h0m-1-2h0m0-1h0m0 4h0m-1-4h0m0 0h0m-2-2h0m0 4h0m0 1h0m-1 1h0m0-5h0m0 4h0m-4 0h0m-1 1h0m0-6h0m0 5h0m0-4h0m-3 0h0m0 6h0m-1-2h0m0-2h0m0 1h0m-1 0h0m0 1h0m-1-4h0m0 2h0m0 1h0m0 1h0m-1-2h0m0-2h0m-1 6h0m-1-1h0m0 0h0m-1 0h0m-1 1h0m0-5h0m-1 3h0m0 2h0m-2-1h0m0-4h0m-1 1h0m-1 4h0m0-4h0m-1 0h0m0-3h0m-1 1h0m-2 6h0m0-6h0m-1-1h0m-1 7h0m-1-1h0m0-1h0m-2 0h0m0 2h0m0-1h0m0-3h0m-1-1h0m0 2h0m0 2h0m0-6h0m0 0h0m-1 7h0m-1-1h0m-1 0h0m-1 1h0m0-7h0m-2 0h0m0 9h0m1 4h0m0-4h0m0-1h0m0 4h0m1-4h0m0 2h0m1 5h0m3-5h0m1 1h0m0 1h0m0-4h0m1 1h0m0 4h0m0-5h0m0 5h0m1 1h0m1 0h0m0-5h0m0 6h0m1-4h0m0 0h0m0-3h0m0 3h0m1 0h0m1 1h0m3-2h0m0 0h0m1 5h0m1-6h0m0 2h0m0 2h0m1 1h0m0-1h0m0-1h0m0 3h0m1-6h0m1 5h0m0-1h0m3-3h0m0 3h0m1 0h0m1 1h0m1-2h0m0-3h0m1 2h0m1 3h0m0 0h0m0-3h0m0 1h0m1 1h0m1-1h0m2-3h0m0 5h0m0-6h0m1 4h0m1-4h0m1 5h0m1-2h0m1-1h0m0 3h0m0 2h0m1-3h0m1 2h0m1-6h0m1 5h0m1-4h0m0 0h0m1 6h0m0-7h0m2 4h0m0 0h0m1-1h0m0 3h0m0-2h0m2-3h0m0-1h0m0 4h0m2-2h0m2 3h0m0-5h0m3 5h0m0 0h0m0-1h0m1-2h0m0-2h0m1 5h0m0-4h0m0 6h0m1-1h0m0-3h0m2-2h0m1 6h0m0-6h0m0 4h0m3-2h0m0-2h0m0 5h0m2-4h0m0 4h0m1 0h0m0 1h0m2-3h0m0 1h0m0-1h0m0-3h0m0 2h0m1 4h0m1-4h0m0-3h0m1 2h0m1 1h0m2-1h0m0 0h0m3-1h0m-4 7h0m-3 2h0m0 0h0m-1 4h0m0-6h0m-1 7h0m-2-4h0m-1-3h0m0 7h0m-1-3h0m0-2h0m0-1h0m-1 6h0m0-6h0m-1 3h0m0-1h0m0 4h0m0-1h0m0-2h0m0-3h0m0 6h0m-1-4h0m-1-1h0m0 2h0m-1 0h0m0 0h0m0-4h0m-2 2h0m0-2h0m0 5h0m-1 2h0m0-5h0m-1 4h0m0-2h0m-1-3h0m0 6h0m-1-3h0m-2 0h0m0 2h0m0-4h0m-2 4h0m0-2h0m0 3h0m-1-1h0m0-3h0m-1 3h0m0 0h0m-1-2h0m0-3h0m-2 3h0m0 1h0m-1-4h0m0 5h0m-1-5h0m-1 1h0m-1-2h0m0 4h0m-1-1h0m-1-1h0m-1-1h0m0-1h0m0 7h0m-1-7h0m-1 1h0m-1 5h0m0-3h0m0-2h0m0 4h0m-1 1h0m0-4h0m-1 5h0m-3-7h0m0 5h0m0 2h0m-1-2h0m-1-1h0m-1 2h0m0-2h0m0-4h0m0 5h0m-1-3h0m0-1h0m0 6h0m-1-5h0m0 2h0m-1-3h0m0 3h0m0-3h0m0-1h0m0 6h0m-1 0h0m0-1h0m-2-4h0m0 5h0m0-6h0m-1 5h0m0-3h0m0 4h0m0-5h0m-1 3h0m0 3h0m-1-4h0m0-3h0m-1 3h0m0-1h0m0 5h0m-1-7h0m0 2h0m-1 1h0m-1 3h0m0-2h0m-1 0h0m-1-3h0m0 2h0m0 1h0m-1 1h0m0-1h0m-2 2h0m0 0h0m-1-2h0m0-4h0m0 2h0m-2-2h0m0 4h0m-3-1h0m8 6h0m0 0h0m1 1h0m1 1h0m0-2h0m1-1h0m1 0h0m1 1h0m0 4h0m0-3h0m2-1h0m2 4h0m0 0h0m0-3h0m1-2h0m1 0h0m0 3h0m1 4h0m0-5h0m2 4h0m0-1h0m1-1h0m0 0h0m1 1h0m0 0h0m1 0h0m0-1h0m0-2h0m0 1h0m1-2h0m0 2h0m0-3h0m1 6h0m0-6h0m0 1h0m0 6h0m0-7h0m1 0h0m0 7h0m0 0h0m1-6h0m0 4h0m0-4h0m1 4h0m0-4h0m3 1h0m0 1h0m2 2h0m0-3h0m0-1h0m1 1h0m0 0h0m0 2h0m0 1h0m1 2h0m0-2h0m1-3h0m0-2h0m1 7h0m1-4h0m0-3h0m1 3h0m0 2h0m1-4h0m0 2h0m0 4h0m0 0h0m1-2h0m0-5h0m1 1h0m1 6h0m0-5h0m1 2h0m0 1h0m1 0h0m0-1h0m3-4h0m0 2h0m1 1h0m0 0h0m1 2h0m0 1h0m0-6h0m1 4h0m2 2h0m2-5h0m1 0h0m0-1h0m0 4h0m1 0h0m0-3h0m0 2h0m2-1h0m2-1h0m-13 7h0m-5 1h0m0 0h0m0 0h0m0-1h0m-1 1h0m-1-1h0m-6 2h0m-2-1h0m0 2h0m-1-3h0m-4 2h0m-3-1h0m0 0h0m0-1h0m-1 0h0m-1 1h0m-2-1h0"/><path transform="scale(.5)" stroke="#00B3F2" stroke-width="3.4" stroke-linecap="round" d="M654 567h0m1-1h0m0 1h0m1 0h0m1-3h0m1-2h0m0-1h0m1 2h0m1 3h0m1-3h0m0 1h0m1 1h0m0-1h0m0 3h0m1-3h0m2 3h0m1 7h0m0 1h0m-1-4h0m0-1h0m0 3h0m-1-5h0m-1 7h0m-1-6h0m0 4h0m-1-2h0m-1 1h0m-1-1h0m-1 0h0m0 2h0m0-1h0m-1 1h0m0 2h0m-2-4h0m0 0h0m0 4h0m0-3h0m-1-3h0m-1-1h0m5 10h0m127 1h0m1 4h0m0-4h0m1 0h0m4 4h0m1-2h0m1 1h0m1-1h0m10 7h0m0 0h0m0 1h0m-1 2h0m-1-1h0m0 1h0m-1-6h0m-1-1h0m0 3h0m0 4h0m0-6h0m-1 1h0m0 1h0m-1 2h0m0-4h0m0 6h0m-1-7h0m0 7h0m0-1h0m-1 1h0m-1 0h0m0-7h0m-1 1h0m0 0h0m0-1h0m0 2h0m-1 2h0m-1 0h0m0 1h0m0-3h0m-1 0h0m-2 5h0m-1-6h0m0 2h0m0-2h0m0 1h0m-2 1h0m0-3h0m-1 3h0m-1-2h0m-1 0h0m6 9h0m1 1h0m0-3h0m0 1h0m1-1h0m2 0h0m0 1h0m2-1h0m0 1h0m1 2h0m0 0h0m1 1h0m0 0h0m0-4h0m0 1h0m3 2h0m1 0h0m0-3h0m2 0h0m1 0h0m1 0h0"/><path transform="scale(.5)" stroke="#9C8DFF" stroke-width="3.4" stroke-linecap="round" d="M679 583h0m1-1h0m1 1h0m4 0h0m1 0h0m1-2h0m1 1h0m1-1h0m0 1h0m1-3h0m0 1h0m0 1h0m2-2h0m0 0h0m2 3h0m1-1h0m0-1h0m0 0h0m1 1h0m0 2h0m2 0h0m0 0h0m2 2h0m-1 0h0m0 1h0m-1 0h0m-1 4h0m0-2h0m-1-1h0m0 0h0m0 2h0m-1 0h0m0 0h0m-1 0h0m-1 2h0m0-3h0m0 1h0m-1 1h0m0-5h0m-1 0h0m0 3h0m0 2h0m0-4h0m-1 1h0m0 3h0m0-4h0m-1 4h0m0 1h0m-1-1h0m0-5h0m0 6h0m-1-7h0m0 7h0m0-1h0m-1-6h0m0 1h0m0 1h0m-1 4h0m-1-6h0m0 5h0m0 1h0m0 1h0m0 0h0m0-6h0m-1 5h0m0 0h0m-1-2h0m0-4h0m-1 1h0m0 3h0m-2 0h0m0-3h0m0 4h0m-1 1h0m0-5h0m-1 11h0m1-2h0m0 0h0m1 1h0m0-2h0m3 4h0m0-2h0m0-1h0m0 5h0m0-6h0m0 5h0m0-5h0m0 6h0m1-7h0m0 2h0m1 3h0m1-5h0m1 7h0m0-2h0m1-3h0m1 1h0m1-3h0m0 0h0m0 2h0m0 2h0m1 1h0m0-5h0m0 3h0m0 2h0m1-5h0m0 2h0m1-2h0m0 3h0m1-3h0m-10 8h0"/><path transform="scale(.5)" stroke="#FF689E" stroke-width="3.4" stroke-linecap="round" d="M621 518h0m3 0h0m10 1h0m3 0h0m2 0h0m2 1h0m-1 1h0m0 2h0m0 0h0m-2 2h0m-2-4h0m0 1h0m0-2h0m-1 1h0m-3-1h0m-2 1h0m-2-1h0m-2 1h0"/><path transform="scale(.5)" stroke="#B2A100" stroke-width="3.4" stroke-linecap="round" d="M326 303h0m-77 8h0m3-2h0m1 2h0m0 0h0m1-1h0m6-4h0m1 4h0m0-2h0m1 3h0m1-4h0m3 4h0m1-2h0m0 2h0m1-3h0m0 1h0m1-1h0m1 3h0m3-1h0m4 1h0m0-1h0m4 0h0m5 1h0m16 0h0m2-1h0m3 0h0m3-2h0m1 0h0m0 1h0m4 2h0m0-5h0m0 0h0m1 5h0m0-5h0m1-1h0m0 2h0m1 0h0m1 3h0m0-2h0m3-1h0m0 4h0m1-4h0m0 2h0m1 0h0m0 0h0m0-3h0m0 4h0m2-5h0m0 4h0m2-1h0m0-2h0m0 2h0m1-3h0m0 5h0m2 0h0m1-5h0m1 4h0m0-2h0m0 3h0m1 0h0m0 1h0m0 0h0m2 0h0m0-3h0m4 11h0m-1-3h0m-2-2h0m0 2h0m0 1h0m-1 2h0m-1-4h0m0-1h0m-1 1h0m-1 2h0m0 1h0m-1-4h0m0 0h0m-1 3h0m-1 1h0m-1-6h0m0 3h0m0 0h0m-1 4h0m0-7h0m-1 7h0m0-5h0m0 5h0m-1-6h0m-1 0h0m0 4h0m-1-5h0m0 2h0m-1 5h0m-1-7h0m-2 5h0m0-1h0m-1-3h0m0 2h0m0 4h0m0-1h0m-1-3h0m0-1h0m-2 1h0m-1 4h0m-1-7h0m0 4h0m0-1h0m-1 0h0m0 4h0m-1-2h0m0-2h0m-1-1h0m-1 0h0m0-1h0m0 5h0m0-1h0m-1 2h0m0-5h0m-1-2h0m-1 7h0m-1-2h0m-1-4h0m0 0h0m-1 1h0m-1 5h0m0-7h0m-3 2h0m-2 3h0m0 1h0m0 1h0m-1 0h0m-1-2h0m-1 2h0m0-5h0m-1-1h0m0 3h0m-1-2h0m0 1h0m0 0h0m0 3h0m-2-1h0m-2 0h0m-1-5h0m0 4h0m-1 3h0m0-3h0m0 3h0m0-7h0m0 1h0m-1 5h0m0-1h0m0 1h0m-2-5h0m0 6h0m-1-3h0m0-2h0m0 2h0m-1-3h0m-1-1h0m-1 7h0m0-2h0m-1-4h0m0-1h0m-1 3h0m0 3h0m0 0h0m-1-2h0m0 2h0m-1 1h0m0-1h0m0 0h0m-1-2h0m0-3h0m0-1h0m0 7h0m-1-5h0m0-1h0m-1 5h0m-2-1h0m-1-1h0m0 0h0m-1-1h0m0 0h0m-1 4h0m-2-3h0m0 0h0m-1 2h0m-1-4h0m-1 2h0m-1-4h0m0 7h0m0-2h0m0 0h0m-1 1h0m0 1h0m0-6h0m0 2h0m-2 2h0m-1 2h0m0-1h0m-1 0h0m0-3h0m-1 4h0m0-1h0m0-2h0m-1 2h0m-2 0h0m-1-4h0m-1-2h0m0 6h0m0 1h0m-1-4h0m-1 0h0m-1 2h0m0-4h0m0 6h0m-2 5h0m1-3h0m1 6h0m0-5h0m2 2h0m0 3h0m0-6h0m1 6h0m0-1h0m0-1h0m1-4h0m1 6h0m0-3h0m2-1h0m0-2h0m0 0h0m1 5h0m0-2h0m0 0h0m1-3h0m0 6h0m1 0h0m0-3h0m0 0h0m2-1h0m1 1h0m1-1h0m0-3h0m1 4h0m0 3h0m0-3h0m0 2h0m0 0h0m2-3h0m0 4h0m1-5h0m0-1h0m1 6h0m1-6h0m1 1h0m0-2h0m0 7h0m2-1h0m0-4h0m1 1h0m0 2h0m1-5h0m1 6h0m0 0h0m0-6h0m0 1h0m2 4h0m0-3h0m3 4h0m0 0h0m1-1h0m0-4h0m1 4h0m0 2h0m1-6h0m0 0h0m2 4h0m1 2h0m0-4h0m0-2h0m1 6h0m0-6h0m1 6h0m0-5h0m0 1h0m0 0h0m1 4h0m0-1h0m0-4h0m1 3h0m0 1h0m0-5h0m1-1h0m1 1h0m1 1h0m2 5h0m1-4h0m0-1h0m0 4h0m1-2h0m1 0h0m2 2h0m0-5h0m0 6h0m0-1h0m2-4h0m1 0h0m1 5h0m0 0h0m1-3h0m2-2h0m1 1h0m0-2h0m1 5h0m0-1h0m2-1h0m1 0h0m0 3h0m1-1h0m1-3h0m1 4h0m1-6h0m0 3h0m0 0h0m0-4h0m1 0h0m1 2h0m0 1h0m0 2h0m1-3h0m1 0h0m1-1h0m0 4h0m0 1h0m2-3h0m0-1h0m0-2h0m0 3h0m1-1h0m0-1h0m0 1h0m2-1h0m0 4h0m1-3h0m2-1h0m0 0h0m1 0h0m1 4h0m0-1h0m0 3h0m1-3h0m2-2h0m0 2h0m0 2h0m1 0h0m1-3h0m1 4h0m0 0h0m2-3h0m0-1h0m1-3h0m0 4h0m0-4h0m1 5h0m0-4h0m1 13h0m-1 0h0m-2-5h0m0 6h0m-1-6h0m-2 2h0m0-1h0m0 3h0m-1 0h0m-1-1h0m0-3h0m-1 3h0m-1 0h0m0-3h0m0 2h0m-1-3h0m-1 2h0m-2 1h0m-1 4h0m-2-4h0m0-2h0m0 3h0m0 2h0m0-4h0m0 5h0m-1-2h0m0 2h0m0-6h0m-3 0h0m-1 6h0m0-4h0m-1-3h0m0 5h0m0-2h0m0-3h0m0 6h0m-1-5h0m0 2h0m-1 2h0m-1-3h0m0 3h0m0-1h0m-2 1h0m0-1h0m-1-2h0m0 5h0m0-1h0m-2-3h0m0-2h0m0 5h0m-1-1h0m-1 2h0m0-4h0m0 0h0m-1 2h0m-1-1h0m0 2h0m0-5h0m-1 5h0m0-4h0m0 3h0m-1 1h0m0-1h0m0 2h0m0-7h0m-1 0h0m0 2h0m0 4h0m0-1h0m0-3h0m-2-1h0m-1 1h0m0 1h0m0 2h0m0 2h0m0-4h0m-1-1h0m0-1h0m-1 3h0m0-2h0m0 5h0m-1-7h0m0 3h0m0 3h0m0-4h0m-2 2h0m0 0h0m0 3h0m-1-1h0m0 0h0m-1 0h0m0-4h0m0 2h0m-1 2h0m-1-4h0m-1-1h0m-2 2h0m-1 3h0m-1 1h0m0 0h0m0-3h0m-2-4h0m-1 5h0m-1-4h0m0 3h0m-1-2h0m0-1h0m0 0h0m-1 5h0m0-6h0m0 2h0m-1 5h0m0-5h0m-1 1h0m0 1h0m-1 3h0m0-3h0m0-3h0m0-1h0m-1 4h0m0 2h0m-1-6h0m-2 7h0m0-2h0m0-4h0m-1 0h0m-1-1h0m0 0h0m0 6h0m0-2h0m0-1h0m-3 3h0m-1 1h0m0-4h0m-1 1h0m0 0h0m0 0h0m0-4h0m0 3h0m-1 4h0m-1-1h0m0 0h0m-1-6h0m0 3h0m0-3h0m-1 7h0m0 0h0m0 0h0m-1-2h0m0-4h0m0 3h0m0-4h0m0 1h0m-1 2h0m0-1h0m0 3h0m-1 1h0m-1 0h0m0-5h0m0 5h0m-2 0h0m0-1h0m0 2h0m-1-7h0m0 2h0m-1 3h0m-1-4h0m-1 4h0m-1-3h0m0 5h0m0-6h0m0 4h0m-1-1h0m0-3h0m-1 5h0m-1-3h0m0 6h0m3 1h0m2-1h0m1-1h0m1 2h0m2 0h0m0 0h0m1 1h0m1-3h0m1 1h0m1 0h0m0 3h0m1-2h0m1-2h0m1 3h0m2-3h0m0 1h0m1 1h0m0 1h0m3 0h0m0 0h0m2-2h0m4 1h0m0 0h0m1 0h0m2-1h0m2 2h0m0-3h0m0 1h0m1 0h0m1 1h0m1 0h0m2-1h0m0 0h0m1 1h0m1 2h0m1-2h0m0-1h0m1 4h0m0-3h0m0 2h0m0-4h0m1 1h0m0 4h0m1 0h0m1-3h0m1-2h0m0 5h0m0-2h0m2-2h0m1 3h0m2-4h0m1 3h0m1-2h0m0 1h0m1-1h0m0 0h0m1-1h0m1 4h0m1 0h0m1-2h0m0-2h0m1 1h0m1 4h0m0-5h0m1 4h0m0-3h0m1 3h0m1-2h0m6-2h0m1 1h0m0 2h0m0-3h0m2 3h0m1-3h0m0 0h0m0 5h0m2-5h0m0 3h0m0 2h0m0-1h0m0-1h0m0-3h0m1 3h0m1-2h0m0 5h0m2-3h0m0-3h0m0 2h0m0 2h0m1-2h0m1-2h0m2 7h0m0-7h0m1 5h0m1 0h0m1-5h0m0 5h0m1-4h0m0 2h0m1 0h0m0 0h0m0 0h0m1-3h0m0 0h0m2 2h0m1 2h0m-11 4h0m-87 2h0m0 1h0m-1-1h0m-4 3h0m-3 1h0m-12 7h0m1-3h0m1 7h0m-8 2h0m-3-1h0"/><path transform="scale(.5)" stroke="#00C087" stroke-width="3.4" stroke-linecap="round" d="M198 351h0m-3-1h0m-14 9h0m0 0h0m2-1h0m0-1h0m1 2h0m1-5h0m1 2h0m1 3h0m0-6h0m2-1h0m0 6h0m0-6h0m0 0h0m0 5h0m0 0h0m1-1h0m0-2h0m0 4h0m1-5h0m0 1h0m1 5h0m2-2h0m0-2h0m1 0h0m0 1h0m0 2h0m0-2h0m1-2h0m1-2h0m0 3h0m2-2h0m1 0h0m0 0h0m1 3h0m0 1h0m0-1h0m0 0h0m0-3h0m1 6h0m0-2h0m2 0h0m0 0h0m1 1h0m0 0h0m2 1h0m0-2h0m7 2h0m6-4h0m9 3h0m-2 6h0m0-4h0m-2 3h0m-1-2h0m-3 3h0m-3 0h0m-1-4h0m0 3h0m-2 1h0m0-2h0m-1 3h0m-3-4h0m-2 5h0m-1 0h0m0 0h0m0 0h0m-1-5h0m0 2h0m-1 3h0m0-1h0m-2 2h0m0 0h0m0-3h0m-1 3h0m0-6h0m-1 0h0m-1 0h0m-1 5h0m0-6h0m-3 2h0m0-2h0m-1 3h0m-1 0h0m-1 4h0m0-3h0m0-1h0m-1 1h0m0-2h0m-1-2h0m-1 4h0m0-1h0m0 2h0m-1-2h0m0-2h0m-1 3h0m0-2h0m-1-2h0m-1 3h0m0 1h0m0 0h0m0 3h0m-1-1h0m-1-3h0m0 0h0m-2 0h0m-1-2h0m0 2h0m-2-2h0m0 0h0m0 3h0m-1 3h0m0-3h0m1 7h0m1 4h0m1-7h0m1 4h0m0 2h0m0-4h0m0 0h0m1 2h0m0 1h0m0-5h0m0 1h0m1 2h0m0 0h0m0 2h0m0-3h0m1 4h0m0-2h0m0-2h0m1 3h0m1 0h0m2-4h0m0 0h0m1 6h0m0-1h0m1-2h0m0 0h0m1-2h0m2-1h0m0 6h0m1-4h0m0 0h0m0 0h0m2 3h0m0 0h0m1-2h0m0-3h0m1 4h0m1-1h0m1-3h0m0 0h0m1-1h0m0 7h0m1 0h0m1-4h0m0 2h0m2-3h0m0 5h0m0 0h0m0-2h0m0-2h0m1-2h0m0 4h0m0 1h0m1-5h0m22-1h0m-25 11h0m-2 0h0m0 2h0m-1 0h0m0-1h0m-1-2h0m0 3h0m-2-5h0m-1 0h0m0 0h0m-1 4h0m0 0h0m-1 3h0m-2-5h0m0 4h0m0-4h0m0 5h0m-1-4h0m-1 2h0m0 1h0m0 0h0m-1-2h0m0 2h0m-1-2h0m0-1h0m0 2h0m0-3h0m0 4h0m0-5h0m-1 4h0m0-1h0m-1 2h0m-1-5h0m-1 6h0m0-6h0m0 2h0m-1-3h0m0 2h0m0 5h0m-1-5h0m-1 1h0m0 1h0m-1-2h0m0 4h0m-1 0h0m0-2h0m0 2h0m-1-3h0m0 1h0m0-1h0m0-1h0m2 7h0m1 3h0m0-4h0m2 2h0m1 1h0m0-2h0m1 2h0m3 2h0m0-3h0m1-1h0m0 3h0m0-3h0m4 3h0m2-3h0m0 1h0m1-1h0m0-1h0m3 2h0m2 0h0"/><path transform="scale(.5)" stroke="#F166E8" stroke-width="3.4" stroke-linecap="round" d="M339 341h0m3 2h0m3 0h0m2-2h0m0 0h0m26 10h0m-6-2h0m-2 1h0m-3 0h0m-2-1h0m-2-3h0m-1 3h0m0 2h0m-1-6h0m0 1h0m0 0h0m0 3h0m-1-3h0m-1 0h0m0 4h0m-1-3h0m-3 0h0m0 1h0m-1-2h0m-2-2h0m-1 0h0m-1 2h0m0-1h0m0 1h0m-2-1h0m0-1h0m-5 0h0m23 8h0m2 2h0m1-2h0m0 0h0m2 2h0m0 0h0m2 1h0m2 3h0m1-5h0m0-1h0m0 0h0m0 4h0m1-1h0m0-2h0m1 3h0m0-2h0m2 1h0m0-1h0m2 1h0m0 2h0m0-3h0m0 2h0m1 0h0m0 1h0m1 1h0m3-2h0m0 3h0m0-3h0m5 3h0m2 3h0m-2 0h0m-2 2h0m-4-4h0m-1 1h0m-1-1h0m-2 3h0m-2-3h0m-4 0h0"/><path transform="scale(.5)" stroke="#45B500" stroke-width="3.4" stroke-linecap="round" d="M448 350h0m-2 0h0m-2 1h0m-2-4h0m0-1h0m-1 1h0m0-1h0m-1 3h0m-1 0h0m-1-1h0m-2-2h0m0 2h0m-2-2h0m0 3h0m-2 2h0m0-3h0m-3 2h0m-2 0h0m-2 1h0m-3-1h0m-14 1h0m-9 4h0m14-1h0m3-2h0m2 5h0m4-4h0m0 1h0m4 4h0m1-3h0m1-2h0m0 0h0m1 4h0m1 0h0m0-3h0m2 4h0m0 0h0m2-3h0m1 2h0m0-3h0m1 4h0m0-4h0m3 4h0m1-5h0m0 3h0m1 2h0m1 1h0m0-5h0m0 0h0m2-1h0m3 3h0m0 0h0m3 8h0m0 0h0m-1-4h0m0 0h0m0 3h0m-2 3h0m0-6h0m-1 2h0m-2 5h0m0-2h0m-1-2h0m0-3h0m-1 5h0m0 2h0m0 0h0m-1-6h0m0 0h0m-1 4h0m-2 1h0m-1-4h0m-1-1h0m-2 4h0m-1-3h0m0 5h0m0-7h0m-2 1h0m-2-1h0m0 4h0m-7 2h0m-5-2h0m-1-4h0m-8 5h0m0-5h0m0 5h0m-3-3h0m0-1h0m-1 6h0m-2-4h0m-2-1h0m8 11h0m1-3h0m18 2h0m1-3h0m2-1h0m0 6h0m1-6h0m1 5h0m0-1h0m0 2h0m0 1h0m2-2h0m1-1h0m0 2h0m1-2h0m0 3h0m0-6h0m2 3h0m0 2h0m0 0h0m1-3h0m0 2h0m0 1h0m3-5h0m0 0h0m0-1h0m2 5h0m0-4h0m1 6h0m0 0h0m1-6h0m1 4h0m1-4h0m0 5h0m2-5h0m0-1h0m0 5h0m0 10h0m-1-3h0m0 0h0m0-2h0m0 1h0m-1-1h0m0 3h0m-1-5h0m-2 5h0m-1-5h0m0 0h0m-1 2h0m-1 1h0m0-2h0m0 4h0m-1-1h0m-1-2h0m-1-1h0m-6 4h0m-1-2h0m-1 4h0m-1-5h0m0 0h0m-2 0h0m0 1h0m0-1h0m-1-1h0m0 3h0m0 0h0m0-4h0m-1 6h0m-3-4h0m-2-2h0m-2 4h0m-10-4h0m-1 2h0m-2-2h0m-1 2h0m21 11h0m0 0h0m1-2h0m1 2h0m2 1h0m1-2h0m0 3h0m3-4h0m0 1h0m1-4h0m1 3h0m0 1h0m1 0h0m0-1h0m2 3h0m1-5h0m0 2h0m2-2h0m2 5h0m2 0h0m1 1h0m1-3h0m1 0h0m0 3h0m0 0h0m1-2h0m1 4h0m-1-1h0m-1 4h0m-2-3h0m-1-1h0m0 7h0m-1 0h0m-1-2h0m0-3h0m-1 3h0m0-5h0m-1 3h0m-1 3h0m0-4h0m-1 0h0m-1 3h0m0 2h0m-1-1h0m-1-1h0m-2-3h0m-1-2h0m-1 6h0m0-5h0m0-1h0m-1 6h0m-1-6h0m0 7h0m0-6h0m0 3h0m0 2h0m-1-2h0m-1-2h0m-1 5h0m-1-1h0m0-5h0m0 2h0m0 1h0m0 1h0m-2-4h0m0 2h0m-1 0h0m-7 11h0m4-2h0m0 2h0m2-6h0m0 1h0m2 5h0m0-5h0m1-1h0m1 1h0m1 3h0m1-2h0m0 1h0m0-1h0m0 5h0m0 0h0m1-3h0m0 1h0m0-4h0m0 4h0m1 0h0m1 2h0m0-4h0m3 4h0m1-4h0m0 0h0m0 3h0m0-3h0m1-1h0m1 1h0m1-3h0m1 5h0m1 2h0m1-3h0m1 3h0m2-2h0m1-1h0m5 2h0m1-6h0m0 2h0m2 4h0m1 8h0m0-2h0m-1-1h0m-2-3h0m-1 7h0m0-3h0m0-2h0m0 3h0m-1 0h0m0-4h0m-1 6h0m0-1h0m-2 0h0m-1-5h0m0-1h0m-1 3h0m-2-1h0m-1 0h0m-2 0h0m0 0h0m-1 3h0m0-4h0m-1-1h0m-2 4h0m0 3h0m0-5h0m0 1h0m0 0h0m-1-3h0m-1 1h0m0 2h0m-2 0h0m0-3h0m-1 6h0m0 0h0m0-3h0m0 1h0m-1 2h0m0-5h0m-1 4h0m-1 2h0m-1-5h0m0-1h0m0 1h0m0-2h0m0 4h0m0-2h0m-3 0h0m0 5h0m-2-7h0m0 6h0m0-2h0m-1 2h0m-1-4h0m0 1h0m0-2h0m-1 2h0m0 4h0m-1-4h0m-1 1h0m0 7h0m2 1h0m0 0h0m0-2h0m1-2h0m0 0h0m0 1h0m1 0h0m0 1h0m0 2h0m1-1h0m1 3h0m0 1h0m0-3h0m1-2h0m0 5h0m1-4h0m0-2h0m0 3h0m1 3h0m1-7h0m0 6h0m1-3h0m1-1h0m0-2h0m1 7h0m1-4h0m1 1h0m1 0h0m1 0h0m1-4h0m0 1h0m2 3h0m0-2h0m1 4h0m3 1h0m0-7h0m1 3h0m1-1h0m0 0h0m1-2h0m2 5h0m0-4h0m2 6h0m0-7h0m0 4h0m1 1h0m0-2h0m2-1h0m1 1h0m1 3h0m0-1h0m0-2h0m0-1h0m0 0h0m1 5h0m1-4h0m0-3h0m1 1h0m-5 7h0m0 2h0m-2-1h0m-3 1h0m-5-2h0m-1 5h0m-1-5h0m-3 2h0m0 3h0m-1-3h0m0 3h0m0-4h0m-2 3h0m0 0h0m-1-1h0m-4 0h0m-1-3h0m-1 3h0m-1 0h0"/><path transform="scale(.5)" stroke="#FF61C7" stroke-width="3.4" stroke-linecap="round" d="M139 199h0m3-4h0m0 2h0m1-2h0m1 0h0m0 0h0m1-1h0m1 3h0m-32 160h0m1 0h0m0-2h0m1 3h0m2-4h0m1 0h0m0 3h0m0-2h0m1-1h0m1 2h0"/><path transform="scale(.5)" stroke="#00BCD6" stroke-width="3.4" stroke-linecap="round" d="M489 126h0m-5-4h0m-1 0h0m-2 4h0m0 1h0m-1-5h0m0-1h0m-1 0h0m-3-1h0m-1 4h0m-1-4h0m0 3h0m-2 1h0m-1-3h0m1 10h0m1-1h0m0-2h0m0 5h0m1-3h0m0 2h0m0-1h0m2-3h0m1 4h0m0-3h0m0 2h0m1 2h0m0 0h0m1-5h0m1 1h0m1 0h0m0-1h0m2 7h0m1-1h0m0-4h0m0 5h0m1-1h0m3-5h0m0 6h0m0-1h0m0-2h0m0-2h0m1 5h0m1-1h0m1-1h0m0 1h0m2-6h0m0 7h0m1-6h0m1 1h0m0 5h0m1-2h0m1-3h0m1 1h0m3 3h0m2 3h0m0 0h0m-1 2h0m0 2h0m0-4h0m-2-1h0m0 2h0m-2 5h0m0-3h0m0 0h0m-1 3h0m-1-6h0m-1 5h0m0-2h0m0-4h0m-1 2h0m0 0h0m0 1h0m-1-2h0m0 2h0m-2-3h0m0 3h0m-1-2h0m0 2h0m-1-2h0m-4 4h0m-4 1h0m-1-1h0m-1-1h0m-1 2h0m-1 1h0m0-4h0m0-2h0m0 1h0m-2 3h0m0-3h0m0 0h0m-1-1h0m0 0h0m3 8h0m1 4h0m1 2h0m0-1h0m1 1h0m0-7h0m0 5h0m1-1h0m-3 10h0m0-4h0m0 0h0m0 3h0m-1-1h0m0-4h0m0 1h0m-1 2h0m-1 0h0"/><path transform="scale(.5)" stroke="#D277FF" stroke-width="3.4" stroke-linecap="round" d="M571 258h0m0 0h0m0 3h0m1-4h0m2 0h0m0 5h0m1-6h0m0 3h0m1-2h0m0 0h0m0 0h0m1 5h0m1 0h0m0-1h0m1-3h0m1 2h0m0 2h0m1 1h0m0 0h0m0-3h0m1 1h0m0-4h0m2 5h0m0-5h0m1 5h0m0-5h0m1 4h0m1-2h0m1 2h0m0 2h0m1-1h0m-3 3h0m-2 0h0m-1 4h0m0-3h0m-1 1h0m0 3h0m-2-4h0m0-2h0m-2 1h0m0 5h0m0-1h0m-1-4h0m-1 2h0m-4-2h0m5 10h0m2 3h0m0-4h0m2 10h0m-2 1h0m1 3h0m1 3h0m0-3h0"/><path transform="scale(.5)" stroke="#29A3FF" stroke-width="3.4" stroke-linecap="round" d="M574 310h0m2 1h0m3-1h0m3 0h0m15 9h0m-2-1h0m-1-1h0m-5 2h0m0 0h0m0 0h0m-7 0h0m0-5h0m-2 4h0m0-1h0m-1-5h0m0 0h0m0 6h0m-1-3h0m-1 4h0m-2-4h0m0 2h0m-1-3h0m-1 2h0m2 5h0m2-1h0m0 3h0m1-2h0m1 0h0m1 3h0m0 1h0m2 0h0m1-1h0m0 1h0m1 1h0m1-2h0m0 1h0m0 2h0m2-6h0m3 6h0m0-6h0m2 3h0m0-3h0m2 3h0m0-4h0m2 5h0m0-3h0m1 3h0m0-3h0m1-1h0m4 1h0m0 0h0m0 1h0m1 2h0m1-3h0m0 1h0m1 4h0m1 0h0m3-2h0m0 0h0m0 3h0"/></g><g><path transform="scale(.5)" stroke="#C77CFF" stroke-width="2.8" stroke-linecap="round" d="M481 884h0m-9 8h0m1 8h0m15-4h0m12 3h0m-25 15h0m101 109h0m2 1h0m-1 23h0m2 6h0m-322 26h0m11-6h0m7 0h0m47-1h0m4 2h0m2 13h0m0-1h0m-35-2h0m-8-3h0m-16 3h0m-6 1h0m-12 1h0m55 7h0m2-2h0m2 1h0m28 4h0m-3 2h0m-2 3h0m-4-3h0m-4 3h0m-3 0h0m-1 1h0m-3-1h0m-16 1h0m-24-6h0m-4 4h0m-12-4h0m-2 1h0m-3 1h0m95 10h0m1 0h0m72 4h0m-45 6h0m-25-5h0m-156 5h0m-6 0h0m-10-2h0m-64 2h0m58 8h0m1-3h0m47-1h0m148 0h0m41 0h0m16-2h0m-228 9h0m-1 1h0m-1 1h0m-16 9h0m22-4h0m-26 8h0m261 15h0m8-4h0m-22 10h0m-5 7h0m3-1h0m24 4h0m-20 1h0m-12 6h0m255 79h0m-1 2h0m-16-2h0m-365 8h0m4 1h0m352-5h0m3-1h0m24 1h0m22 2h0m-40 7h0m-5-1h0m-2 6h0m-1-6h0m-343 3h0m-2 1h0m-3 0h0m-7 2h0m0 0h0m-14-7h0m-1 0h0m-1 3h0m-14 4h0m-11 8h0m0-3h0m0 0h0m6-2h0m2 2h0m0 2h0m3-6h0m2 3h0m1-3h0m1 7h0m1-1h0m9-3h0m3 2h0m2 0h0m10-5h0m1 7h0m1-1h0m8-3h0m1 1h0m375-4h0m0 5h0m1 1h0m0-2h0m0-1h0m2 1h0m1 1h0m1-2h0m0-2h0m1 0h0m0 2h0m1-3h0m0 0h0m1 1h0m1-1h0m1 4h0m0 3h0m1-4h0m0 3h0m0-1h0m1-4h0m1 6h0m0-5h0m0 0h0m0-2h0m1 5h0m0-4h0m0 2h0m1 3h0m2 0h0m1-6h0m2 7h0m1-5h0m0 5h0m1-2h0m5-2h0m4 11h0m-1 0h0m-1-2h0m-1-4h0m0 3h0m-2-3h0m0 3h0m-1 3h0m-1-4h0m-2 5h0m-1-1h0m-1-1h0m0-4h0m-1 5h0m-2 0h0m0 0h0m0-2h0m-1 1h0m0 2h0m0-4h0m-1 3h0m-1-3h0m0-1h0m-1 2h0m-1-1h0m0-2h0m0 1h0m-1 4h0m0 0h0m-2-2h0m0 0h0m-1-1h0m-1 1h0m-1 2h0m0-6h0m-1 1h0m-1 6h0m0-7h0m-2 1h0m-1 4h0m-2-5h0m-11 4h0m-11-4h0m-14 7h0m-337-5h0m-7-1h0m-1 2h0m-3-1h0m-2 1h0m-10 3h0m-4-3h0m-1 0h0m-1-2h0m0-1h0m-1 5h0m-6 1h0m-1-4h0m0 0h0m-1 0h0m-11 3h0m0 0h0m-1 1h0m-1-4h0m0 4h0m-1-2h0m-1-2h0m-2 0h0m-4 3h0m-3-4h0m-2 1h0m-1 3h0m-2-3h0m0 5h0m-20 8h0m1-1h0m1-1h0m6-3h0m1 1h0m3 0h0m0-3h0m2 7h0m3-7h0m2 7h0m4-1h0m0-5h0m1-1h0m3 3h0m1 0h0m4 4h0m0-2h0m2 1h0m0-1h0m1-1h0m1-1h0m0-1h0m0 1h0m5-1h0m1-2h0m0 7h0m4-3h0m0-4h0m18 6h0m13-4h0m14 2h0m348 3h0m8-1h0m2-3h0m16 3h0m0-3h0m3-1h0m2 5h0m0-2h0m2-3h0m3 5h0m0-5h0m0 5h0m0 0h0m1 0h0m1-2h0m0 0h0m1 2h0m1-4h0m2 3h0m1 1h0m0-5h0m2-1h0m0 4h0m1-5h0m0 5h0m1-4h0m0 5h0m1-1h0m1 2h0m0-5h0m0 2h0m3-1h0m1-2h0m1 6h0m1-3h0m5 10h0m-6-4h0m0 1h0m-1 4h0m-1-4h0m-1-3h0m-1 7h0m0-7h0m-3 7h0m-2-3h0m-1 2h0m-1-1h0m0 0h0m-2 2h0m0-5h0m-1 2h0m-1 3h0m0-6h0m-1 5h0m-1-5h0m-1 5h0m-1-1h0m0-5h0m0 5h0m-1-3h0m-2 5h0m0-3h0m0 0h0m-1-3h0m-1 5h0m-3-3h0m-27 2h0m-358-5h0m-31 1h0m-1-1h0m0 3h0m-2 1h0m0-1h0m0 4h0m-2-2h0m0-1h0m-2 3h0m-2-2h0m-7-4h0m-1 2h0m0-1h0m-2 3h0m-2 2h0m0-5h0m-1 2h0m-1 2h0m0-1h0m-9-2h0m-2 2h0m-2-4h0m-3 0h0m-1 0h0m-1 2h0m0 0h0m-2 4h0m0-1h0m-4 0h0m-4-5h0m-1 3h0m-2 2h0m0 2h0m1 0h0m3 0h0m4 2h0m1-1h0m0 4h0m0-4h0m3 2h0m1-1h0m4 1h0m0-2h0m6 6h0m0-7h0m4 5h0m0-4h0m2 0h0m3 4h0m3-5h0m1 6h0m2 0h0m1-6h0m1 2h0m0-2h0m4 7h0m0 0h0m4-1h0m3-4h0m0-2h0m0 4h0m0-1h0m1-2h0m2 2h0m0 1h0m0-1h0m3-3h0m5 4h0m2-3h0m3 0h0m16 4h0m3-3h0m389-2h0m1 3h0m0-2h0m1 2h0m1 4h0m2-5h0m1 5h0m0-2h0m2 0h0m1-4h0m3 1h0m0 4h0m1 0h0m0-2h0m1-2h0m0 2h0m0 2h0m1-2h0m2 3h0m0-1h0m0-1h0m1 2h0m2-7h0m0 0h0m1 0h0m2 6h0m0 0h0m4 0h0m9 0h0m17 6h0m-9 0h0m-6-2h0m-15 5h0m-3 0h0m-4-5h0m0 2h0m-1 1h0m-1-1h0m-2-2h0m-1-1h0m-4 0h0m-2-1h0m-1 1h0m-386 6h0m-1-3h0m-3 3h0m-4-3h0m-17-3h0m-4 5h0m0 1h0m0-4h0m0 4h0m-2-5h0m-3 4h0m-2 0h0m-1 0h0m-2 1h0m-2-4h0m-2 0h0m-5 3h0m-2-5h0m-1 1h0m-1 0h0m0 1h0m0-3h0m-4 3h0m-1 1h0m-3 1h0m-4 2h0m-1-6h0m-1 3h0m-5 0h0m-3-1h0m-1 1h0m-1 2h0m0-6h0m-1 4h0m-2-1h0m-1 0h0m-3 0h0m-2 2h0m-1-4h0m0 3h0m-1-2h0m-12 9h0m2-1h0m2-2h0m6 0h0m4 4h0m3 0h0m1 0h0m0-4h0m10 0h0m1 0h0m1 0h0m4 5h0m7 1h0m2-3h0m1-1h0m2 5h0m0-5h0m1 1h0m7 2h0m0-3h0m4 1h0m0-3h0m0 4h0m3-4h0m4 1h0m7 4h0m5-2h0m1 1h0m1-1h0m0 2h0m1-4h0m1-1h0m1 1h0m3 0h0m5 6h0m1-6h0m1 4h0m7-4h0m2 3h0m1-2h0m6 5h0m389-5h0m5-2h0m1 4h0m0 2h0m0-4h0m0 0h0m6 1h0m13 0h0m1 4h0m6-5h0m21-1h0m9-1h0m9 8h0m-15 6h0m-22 0h0m-26-4h0m-1 0h0m-1-2h0m-1 1h0m-1-1h0m-1 0h0m-1 2h0m0-1h0m-1 1h0m-1 1h0m-10 3h0m-3-1h0m-2 0h0m-371 1h0m-5-5h0m-5 1h0m0 3h0m-5 1h0m0 0h0m-3 1h0m-1-1h0m-8-5h0m-3 0h0m-6 3h0m-3 1h0m0-3h0m-12 0h0m-1 1h0m-1 4h0m0-2h0m-10-3h0m-3 2h0m-2 3h0m-2-7h0m0 0h0m-2 3h0m0 3h0m-1-1h0m-4 2h0m-1-5h0m-2 1h0m-11 2h0m-2 2h0m-5-1h0m0 1h0m-1-6h0m-2 5h0m-3-1h0m-6 2h0m-4-1h0m-7 5h0m9 3h0m8-2h0m3-2h0m3 4h0m1-6h0m3 4h0m7-2h0m1-2h0m7 0h0m6 2h0m1 2h0m7-2h0m6 3h0m2 1h0m2-1h0m1-4h0m1 6h0m1-7h0m15 1h0m9-1h0m1 1h0m12 0h0m2 3h0m1-2h0m2 4h0m5 0h0m7-5h0m0 1h0m0 4h0m1-4h0m362 0h0m14-1h0m28-1h0m4 3h0m4-3h0m37 4h0m30 9h0m-34-3h0m-9-2h0m-69 1h0m-5 0h0m-2 3h0m-351 2h0m-7 0h0m-1 0h0m-1-4h0m-6 5h0m-1-4h0m-41 1h0m-12-3h0m-2 0h0m-1 0h0m-1-1h0m-2 0h0m0 0h0m-1 5h0m-1-2h0m-4 3h0m-12-2h0m-2-3h0m-4 0h0m-2 0h0m-4 6h0m-10 0h0m0-1h0m-1-3h0m-1 2h0m-3 1h0m-1-6h0m-2 7h0m-11-2h0m-4 2h0m-3-7h0m0 1h0m-1 6h0m-1-1h0m-1-4h0m-4 7h0m4 3h0m2 2h0m2 1h0m4-4h0m1-3h0m1 1h0m4 2h0m1 0h0m0-2h0m3 2h0m1 1h0m3 3h0m11-4h0m3 4h0m3-6h0m4 2h0m3 2h0m2 2h0m0-1h0m1-6h0m3 7h0m3-1h0m0-3h0m5-2h0m2 6h0m2-2h0m2 2h0m2-1h0m9-1h0m51-4h0m8 1h0m3 0h0m3 3h0m0 2h0m407-7h0m18 3h0m-428 9h0m-1 1h0m-7-4h0m-2 0h0m-4 5h0m0-1h0m-48-3h0m0 3h0m-3 0h0m-2-2h0m-1 1h0m-1 3h0m-2-2h0m-2 1h0m-3-3h0m-2 2h0m-3-3h0m-4 0h0m-1 3h0m-9 1h0m-1-1h0m-2-2h0m-9 4h0m-3 0h0m-3-3h0m-3 1h0m-4 2h0m-10-3h0m-1 0h0m1 4h0m3 2h0m8 2h0m2-1h0m6 1h0m8 3h0m3-2h0m1 1h0m4-2h0m6-4h0m2 6h0m1-5h0m3 5h0m3 0h0m2-4h0m4-2h0m1 0h0m2 7h0m3 0h0m0-4h0m52 1h0m2 2h0m2-4h0m1 0h0m1 2h0m2-3h0m-5 8h0m0 3h0m-7-4h0m-3 5h0m-38-3h0m-1 2h0m-1-1h0m-3-1h0m0-2h0m-4 0h0m-2 2h0m-9-1h0m-1 3h0m0-2h0m-1-1h0m-1 2h0m-5-3h0m-16 1h0m-5 5h0m-2-4h0m0-2h0m-3 1h0m-2 5h0m-3-3h0m-3-3h0m19 15h0m3-6h0m6 2h0m3-1h0m3 3h0m3-2h0m1-1h0m5 4h0m9-2h0m1-4h0m2 7h0m10-7h0m8 0h0m1 0h0m0 2h0m1 4h0m0-4h0m1 2h0m2 2h0m2 0h0m0-1h0m18 0h0m1-3h0m3-1h0m-7 14h0m-4-5h0m-2 1h0m-3 3h0m-1-2h0m-3 0h0m-2-3h0m-4 6h0m-6-2h0m-11-3h0m-1 3h0m-2-2h0m-2-3h0m-6 0h0m0 6h0m-6 1h0m-1-2h0m-8-1h0m-2-4h0m-8 3h0m20 5h0m3 0h0m4 5h0m1-3h0m2 3h0m1 0h0m2-5h0m1 2h0m0-2h0m5 0h0m4 6h0m3-5h0m0 3h0m4 2h0m0-5h0m1-1h0m1 6h0m0-2h0m3-3h0m0 5h0m0-5h0m1 2h0m1 2h0m6-5h0m1 0h0m0 3h0m-4 5h0m-10 0h0m-2 3h0m-3 2h0m-2 0h0m-2 0h0m-2-2h0m-1 2h0m-7-4h0"/><path transform="scale(.5)" stroke="#7CAE00" stroke-width="2.8" stroke-linecap="round" d="M473 886h0m20 6h0m-2 5h0m1 4h0m-15 12h0m-334 43h0m-3 1h0m445 64h0m-13 3h0m7 1h0m-245 45h0m-18-1h0m-1 0h0m-2-1h0m-63 3h0m9 1h0m5 1h0m16 2h0m21-1h0m10 3h0m3 0h0m3-2h0m3-1h0m253 3h0m17 6h0m-12 4h0m-253-6h0m-5 4h0m-2-2h0m0 4h0m-2-3h0m-11-1h0m-41 0h0m-5-2h0m-5 0h0m-6 5h0m23 9h0m2-5h0m1 4h0m4-4h0m10 1h0m17 4h0m11-2h0m6 0h0m17 3h0m-8 7h0m-23-7h0m-6 1h0m-1-1h0m0 2h0m-26 2h0m-5-1h0m-1-3h0m-4 5h0m-6-2h0m82 7h0m7 4h0m3-1h0m14 2h0m68 5h0m-60 0h0m-4-1h0m0 3h0m-7-4h0m-2-2h0m-162 3h0m-10 3h0m-75 1h0m72 7h0m2-6h0m3 2h0m1 4h0m24-4h0m1 4h0m6-3h0m155-3h0m6 6h0m49 1h0m2-7h0m3 0h0m9 11h0m-18-1h0m-228 1h0m-6 2h0m-8 2h0m-3-2h0m0-1h0m6 9h0m15 0h0m222-1h0m14-1h0m6 4h0m-11 6h0m-244-5h0m-7 4h0m238 9h0m3 2h0m25 5h0m-10 2h0m-12 0h0m-1-2h0m-1-3h0m-3 2h0m2 9h0m2-3h0m3 1h0m14 1h0m4 0h0m-2 7h0m0 4h0m-5-2h0m-14 0h0m-2-2h0m-7 0h0m-1 4h0m0-5h0m16 11h0m256 75h0m-9 0h0m-10-6h0m-10 5h0m-16 9h0m1-5h0m2-1h0m12-1h0m10 5h0m4-2h0m25 4h0m-8 8h0m-36-3h0m-3-2h0m-8 1h0m-343-1h0m-1 3h0m-20-3h0m-2 3h0m-9 1h0m-5 0h0m-9 4h0m1 5h0m1-4h0m35-1h0m333 1h0m8-2h0m6 4h0m1-3h0m9 5h0m2-3h0m2 0h0m10 3h0m4-6h0m3 6h0m1-1h0m7 0h0m0-4h0m5 0h0m8 2h0m9 0h0m2 0h0m1 2h0m0 1h0m3-3h0m3 8h0m-12-3h0m-3 1h0m-1 0h0m-9 0h0m-20 2h0m0 3h0m-2-1h0m-14 1h0m-2-4h0m-342-2h0m0 1h0m-7 0h0m-7 1h0m-7-2h0m-3 6h0m-8-7h0m-5 3h0m-2-2h0m-7 0h0m-7-1h0m-1 4h0m-1-2h0m-1 3h0m-6 2h0m-13 7h0m2-5h0m7-1h0m3 3h0m3 0h0m7 3h0m4-4h0m0 1h0m15-3h0m4 0h0m12 3h0m6 1h0m351 1h0m2 1h0m3-1h0m4-5h0m0 1h0m1 2h0m20-2h0m24 1h0m1 1h0m8 3h0m1 0h0m-9 7h0m-3-4h0m-6 0h0m-4-1h0m-29 3h0m0-2h0m-14 1h0m-374 5h0m-1-3h0m-3 3h0m0-2h0m-1 0h0m-2 0h0m-5-2h0m-9 2h0m-4 2h0m-23-4h0m0 1h0m-4-2h0m0 7h0m3 2h0m1 4h0m2-3h0m3 1h0m3 1h0m0-3h0m6 1h0m8 2h0m2 1h0m2-4h0m2 1h0m0 1h0m2 2h0m0-5h0m8 5h0m1-2h0m3-5h0m1 0h0m0 4h0m20 2h0m5 0h0m366-6h0m44 7h0m6-2h0m0-4h0m5 0h0m1 1h0m5 4h0m6-2h0m19 3h0m6 0h0m21 6h0m-5-3h0m0 5h0m-9-2h0m-1-1h0m-2 0h0m-5-3h0m-2 3h0m-5-1h0m-11-2h0m-14 3h0m-6-2h0m-1-2h0m-3 3h0m-401-1h0m-25 1h0m-10 3h0m0-5h0m-2-1h0m0 7h0m-4-7h0m-4 1h0m-1 3h0m-1-1h0m-6 0h0m0-3h0m-2 6h0m-1 1h0m-5-4h0m-6 1h0m-1-1h0m-21 5h0m8 6h0m30-4h0m3 0h0m6-2h0m4 0h0m3 5h0m14-1h0m11 3h0m2 0h0m2-1h0m0-1h0m358 0h0m0 1h0m1-5h0m9 3h0m54-1h0m7-2h0m4 4h0m2 1h0m1 1h0m14 0h0m1-4h0m3-2h0m6 3h0m2-3h0m11 4h0m8 3h0m-9 1h0m-2 6h0m-11-3h0m-2 2h0m-7 1h0m-5-2h0m-8 1h0m-2-3h0m-2 4h0m-6-1h0m-6 0h0m-5 1h0m-6-3h0m-12 3h0m-383 0h0m-1-2h0m-29-4h0m-14 0h0m-13 5h0m-11-1h0m-7 1h0m-10-6h0m-1 3h0m-21 2h0m-7 6h0m15 3h0m6-3h0m11 3h0m3-5h0m11 1h0m0 1h0m8-1h0m0 2h0m16-4h0m1 1h0m417 3h0m8-4h0m1 7h0m1-2h0m24 1h0m2-5h0m5 1h0m9 0h0m11 0h0m6 4h0m9 0h0m5 0h0m3-6h0m16 1h0m0 1h0m2 1h0m0 2h0m3-4h0m8 3h0m2 6h0m-4 4h0m-4-4h0m0 1h0m-2-1h0m-23 4h0m0-3h0m-1 0h0m-11 4h0m-4 0h0m-11-7h0m-3 3h0m-1-1h0m-2 1h0m-1 3h0m0-1h0m-1 2h0m-11-4h0m-1-1h0m-3 2h0m-27-2h0m-2 2h0m-1 1h0m0-4h0m-1 0h0m0-1h0m-4 0h0m-1 3h0m-418-1h0m-9 2h0m-5 2h0m-3 1h0m-3-7h0m-1 1h0m-8 0h0m-12 1h0m-6 5h0m-4-5h0m-8 2h0m-4-4h0m-16 6h0m4 5h0m1 2h0m10-1h0m10-1h0m2 0h0m4-1h0m2 1h0m14 4h0m19 0h0m3-1h0m6-2h0m62 3h0m415-6h0m0 0h0m11 0h0m-489 7h0m-1 6h0m-30-5h0m-6 6h0m-5-1h0m-2-2h0m-2-1h0m-4-2h0m-1 6h0m-2-7h0m-9 3h0m2 8h0m1 3h0m10-1h0m5-1h0m1-3h0m2 6h0m6-5h0m5 4h0m5-5h0m8 5h0m7-3h0m0 1h0m0-4h0m4 2h0m2-1h0m9 2h0m53 4h0m1-5h0m-9 6h0m-1 2h0m-53 1h0m-5-3h0m-19 4h0m-1 3h0m-11-3h0m0-3h0m-4-1h0m-7 3h0m0 3h0m24 9h0m-4 1h0m-4 2h0"/><path transform="scale(.5)" stroke="#00BFC4" stroke-width="2.8" stroke-linecap="round" d="M472 885h0m10-1h0m1 19h0m-6 9h0m-333 47h0m-3-2h0m429 62h0m10 10h0m-1 21h0m-255 15h0m-2 3h0m-71 5h0m9 6h0m2-3h0m31 0h0m15 0h0m265 3h0m27 6h0m-23-5h0m-2 2h0m-266 4h0m-2-5h0m-16-1h0m-9 7h0m-10-4h0m-16-2h0m5 9h0m4 3h0m4 1h0m0-1h0m3-5h0m4 5h0m25-3h0m33-1h0m11 14h0m-15 0h0m-38-2h0m-8-2h0m148 18h0m-5-5h0m-228 6h0m-6-6h0m-4 3h0m-71 1h0m64 5h0m3 4h0m184-3h0m79 4h0m-3 9h0m-257-4h0m-8 11h0m9-2h0m8-2h0m228 4h0m6 1h0m7-3h0m4-2h0m4-2h0m1 5h0m-13 8h0m-2 1h0m-3-5h0m-249-1h0m243 11h0m16 1h0m10 16h0m1-2h0m1 13h0m-9-5h0m-8-1h0m-7 1h0m-5-1h0m-3 3h0m257 79h0m9 18h0m-417 2h0m-2-2h0m-14 8h0m2 1h0m1-1h0m446 3h0m-18 2h0m-28 5h0m-387-6h0m-11 2h0m0 4h0m0-1h0m-1-1h0m-8-4h0m-2 4h0m-3-2h0m-1-2h0m-6 5h0m0-2h0m-2 0h0m-3 2h0m-7 9h0m9-1h0m10-3h0m6 0h0m14 4h0m2-1h0m0-2h0m2 2h0m38-2h0m397 5h0m-391 4h0m-8-5h0m-2 4h0m-3 2h0m-33-4h0m-11 2h0m-9-2h0m-8 4h0m-3-2h0m-2-4h0m-2 7h0m-2 0h0m-7-2h0m-4 8h0m8 0h0m4 1h0m2-6h0m6 3h0m6 3h0m0-6h0m5 1h0m2 2h0m5-2h0m11 3h0m1 3h0m0-5h0m26-2h0m7 0h0m5 6h0m458 8h0m-71-5h0m-389 4h0m-1-2h0m-3 0h0m-1 0h0m-4 1h0m-1 3h0m-5 0h0m-22-2h0m0 2h0m-1 0h0m-6-3h0m-6-1h0m-5 1h0m-3-2h0m-6 2h0m0 0h0m-4-1h0m-4 0h0m-9 0h0m-5 0h0m0 0h0m-2-1h0m-1 3h0m-1-5h0m-7 14h0m13-2h0m6-2h0m4 5h0m2-6h0m11 2h0m3-1h0m4 5h0m2-7h0m25 7h0m1-1h0m3 0h0m2-5h0m0 0h0m1 2h0m0 3h0m6-3h0m0 1h0m1-4h0m4 6h0m10-5h0m3 3h0m2-3h0m1 5h0m1-3h0m0-2h0m1 2h0m0 3h0m1-1h0m459-5h0m-40 13h0m-18 0h0m-397-5h0m-3 3h0m-1 3h0m0-3h0m0-3h0m-6 0h0m-4 7h0m-2-1h0m-1-5h0m-3 0h0m-3 1h0m-4 5h0m-1-3h0m-1-2h0m-2 3h0m-1-5h0m-2 1h0m-1 6h0m-1 0h0m-18-7h0m-2 7h0m-3-2h0m-3 0h0m-2-4h0m-4 5h0m-6-5h0m0 3h0m-2-3h0m-1 1h0m-2-2h0m-4 0h0m0 1h0m-1 2h0m-2 3h0m-2-5h0m-3-1h0m-2 1h0m0 4h0m-4-2h0m-2-2h0m-2 5h0m-2-6h0m-2 4h0m-1 1h0m-1-5h0m-1 4h0m-9 0h0m-1 1h0m-3 8h0m1 2h0m0-1h0m0 0h0m10-4h0m2 5h0m1-4h0m0 0h0m3 2h0m2-5h0m3 0h0m5 0h0m2 4h0m1-3h0m8 5h0m6-5h0m0 6h0m0-5h0m1 2h0m3 1h0m1-5h0m9 1h0m6 5h0m22-4h0m2-2h0m6 0h0m1 0h0m1 1h0m3 1h0m5 1h0m4 0h0m2-2h0m2 0h0m4 3h0m3 3h0m0-3h0m1 2h0m3-1h0m0 1h0m1-5h0m2 4h0m0 0h0m1-2h0m0-2h0m372 5h0m47-3h0m53 5h0m-50 2h0m-416 5h0m-2-2h0m-4-1h0m-3 1h0m-2-2h0m0 1h0m-5-1h0m-57-1h0m-4-2h0m-2 7h0m-3-5h0m0 5h0m-1-7h0m-15 0h0m-9 6h0m-1 1h0m-1-4h0m-4 0h0m-5 3h0m0-4h0m-2-1h0m-6 6h0m-6-1h0m-5-3h0m-3 3h0m-3-2h0m0 3h0m-2-2h0m0 6h0m2-1h0m1-2h0m4 4h0m0 0h0m2-1h0m0 3h0m2-1h0m0-3h0m2 2h0m1 0h0m0-2h0m5 3h0m3 1h0m0-5h0m7 5h0m3 0h0m0 1h0m17-4h0m3 4h0m7-7h0m5 1h0m0 2h0m0 2h0m3-2h0m3 3h0m4-4h0m1-1h0m3-1h0m52 0h0m2 7h0m0-6h0m0 4h0m7 1h0m3-3h0m1-1h0m-8 13h0m-3-3h0m-2-3h0m-52 1h0m-4 5h0m0-5h0m-4-1h0m-15 4h0m0-3h0m-6 3h0m-1-4h0m-5 2h0m-2 2h0m-6-2h0m-1-3h0m0 4h0m-5 0h0m-3-3h0m-1 2h0m0-3h0m-2 5h0m-1 0h0m-4 1h0m-12-1h0m-2-4h0m6 8h0m2-1h0m7 4h0m6 1h0m7-1h0m4-4h0m0 1h0m1 6h0m0-3h0m1-1h0m1-2h0m0 4h0m4-3h0m4 1h0m4 2h0m2-1h0m0 1h0m0-2h0m1 3h0m0-3h0m1 4h0m6-6h0m2 5h0m1 0h0m4-6h0m1 5h0m58-1h0m7-1h0m1 2h0m-6 4h0m-2 0h0m-5 5h0m-1 1h0m-1-2h0m-2-1h0m-1 3h0m-44-6h0m-1 4h0m-7 0h0m-1-1h0m-5 1h0m-1-5h0m-10 3h0m-13 2h0m0 0h0m-3 0h0m-2-4h0m-8 4h0m-1-2h0m-8-1h0m13 8h0m2 5h0m0-6h0m4 5h0m0 1h0m2-5h0m3 1h0m4-2h0m0 2h0m12 0h0m1-3h0m19 4h0m4 1h0m12-5h0m2 0h0m1 4h0m1 3h0m1-1h0m26-6h0m-6 9h0m-7 5h0m-2-1h0m-19 1h0m-31-2h0m-4 2h0m-8-4h0m-2 0h0m-5-1h0m23 9h0m5-1h0m1 3h0m5-2h0m3 0h0m7 1h0m1 3h0m2-6h0m9 7h0m4-6h0m9 3h0m2-1h0m-15 5h0m-6 0h0m-1 7h0m-7-5h0m-3 1h0"/><path transform="scale(.5)" stroke="#F8766D" stroke-width="2.8" stroke-linecap="round" d="M469 883h0m1 3h0m2-4h0m2 0h0m3 1h0m1 1h0m0-1h0m18 10h0m-1-1h0m-1 3h0m-2-4h0m-1-1h0m-2 5h0m-2-7h0m-1 3h0m0 3h0m0-2h0m-4 0h0m-3-4h0m0 1h0m0 2h0m0-1h0m-1 1h0m-1-1h0m-1 5h0m0 0h0m-1-1h0m0-3h0m0 2h0m-1-3h0m-2 4h0m0-1h0m-1-1h0m0-2h0m0 5h0m-1-2h0m2 6h0m0 0h0m1 4h0m0-3h0m2 1h0m0-2h0m0 1h0m2 2h0m1 1h0m3-6h0m1-1h0m0 1h0m1-1h0m3 1h0m0-1h0m1 1h0m0 2h0m1 0h0m0 2h0m1-3h0m0 3h0m0-5h0m2 3h0m0 2h0m1-1h0m0 0h0m1 2h0m0-4h0m0-1h0m1 2h0m2 3h0m0 0h0m2-4h0m0 2h0m1-4h0m1 5h0m0 2h0m1-4h0m0 0h0m-5 6h0m-1 0h0m-2-1h0m-14 0h0m0 6h0m-1-4h0m0 5h0m-2 0h0m0-7h0m-1 1h0m0 2h0m-2 10h0m1 0h0m1 1h0m0-3h0m1 1h0m0 0h0m0 3h0m2-6h0m-2 7h0m-334 37h0m0 0h0m-2 2h0m-3 2h0m449 62h0m-2 0h0m-1-4h0m-1 0h0m-2 4h0m0-4h0m-1 3h0m-1 0h0m-1-2h0m-3-1h0m0 0h0m0 0h0m-1-1h0m0 3h0m-1-2h0m-3 1h0m0 0h0m0 3h0m1 4h0m4 2h0m1-5h0m0 3h0m1 0h0m0-3h0m0 7h0m2-3h0m0-2h0m1-1h0m2 6h0m0-3h0m1-1h0m0-3h0m1 0h0m1 3h0m2-2h0m1-1h0m-7 8h0m-3 4h0m-1-4h0m-1 5h0m2 3h0m2 6h0m-1 4h0m-247 21h0m0-2h0m-1-2h0m-3 0h0m-1 3h0m0-2h0m0 2h0m-2-3h0m0 4h0m-2 0h0m0 0h0m-1-2h0m0 2h0m-1-2h0m-3 1h0m-2-3h0m-1 1h0m-1 0h0m-4 2h0m0 1h0m-1-1h0m-41 0h0m-1 0h0m0 1h0m-1 0h0m-4-2h0m-2 1h0m-1-2h0m-12 11h0m0-4h0m1 2h0m0-4h0m1 4h0m1-3h0m1 2h0m1-3h0m1-1h0m2 6h0m1-1h0m4-2h0m0 2h0m1-3h0m0 5h0m0-6h0m1 5h0m3 0h0m0 0h0m1-5h0m2 4h0m0 0h0m1 1h0m0 0h0m1 1h0m2-7h0m1 4h0m0-1h0m1 3h0m0-3h0m0-1h0m2-2h0m0 6h0m1-1h0m1-2h0m0-1h0m1 5h0m1-7h0m0 2h0m2 4h0m0-2h0m0 2h0m1-3h0m2 4h0m0-6h0m1 5h0m0-4h0m0 1h0m1-1h0m0 4h0m1 1h0m2 0h0m2-3h0m0 1h0m0 0h0m1-2h0m0 3h0m2 1h0m2 0h0m2-3h0m2-3h0m2-1h0m0 4h0m1-1h0m0 0h0m1 4h0m1-7h0m1 2h0m1 2h0m1-1h0m0 4h0m1-3h0m1 3h0m0-2h0m2-3h0m0 4h0m0-1h0m1-4h0m1 0h0m2 4h0m0-1h0m1-4h0m0 5h0m1 2h0m0-1h0m2-5h0m2 1h0m0 2h0m1-1h0m0 4h0m1-4h0m1 1h0m2-2h0m0-2h0m0 5h0m0 0h0m2-5h0m0 7h0m1-3h0m0 0h0m1 3h0m0-7h0m1 0h0m0 5h0m0-4h0m0 0h0m1 4h0m0-1h0m1-3h0m1 3h0m0 2h0m0 1h0m2-1h0m234 0h0m1-6h0m0 4h0m2-3h0m2 4h0m1-3h0m0 0h0m0-2h0m1 7h0m2-7h0m0 4h0m12 3h0m15 8h0m0 0h0m-5-3h0m0 1h0m-1 2h0m-1-3h0m0 0h0m-4-1h0m-1 4h0m0-3h0m0-3h0m-1 6h0m0-3h0m-1-4h0m-1 6h0m0-4h0m-2 4h0m-2-3h0m-1-2h0m0 0h0m0 0h0m-2 2h0m-2 3h0m0 1h0m-2-1h0m0 1h0m-1-6h0m0 6h0m-2-7h0m0 6h0m-1-3h0m-1 0h0m-1 2h0m0-4h0m-2 2h0m-235 4h0m0-4h0m0-2h0m-1 1h0m0 4h0m0-4h0m-1 4h0m0-1h0m-2-4h0m-1 4h0m-2-1h0m0 2h0m0-6h0m-2 6h0m-1-6h0m-1 3h0m-1-2h0m0 2h0m0 0h0m-1-2h0m-1 3h0m-1-1h0m0 4h0m-2-3h0m0-1h0m0 1h0m0-3h0m-1 3h0m0-2h0m0 3h0m-3-1h0m0-3h0m0-1h0m-2 4h0m0 1h0m0 2h0m-1-5h0m-1 1h0m0 3h0m0 0h0m0-4h0m0-1h0m-2 4h0m0-4h0m-3-1h0m0 6h0m-2 1h0m-1-2h0m0-4h0m-1 3h0m-2 2h0m-1-5h0m-1 3h0m-1 0h0m-2-1h0m-1-3h0m0 1h0m-1 5h0m0-5h0m-1 5h0m-1-1h0m0-4h0m-3 3h0m-1-1h0m-1-1h0m-1 5h0m0-4h0m-1 1h0m-1-3h0m0 3h0m0 1h0m0 0h0m-1-5h0m0 3h0m0-3h0m-1 5h0m0-2h0m-1-2h0m-2 2h0m0 0h0m-1 4h0m-1 0h0m0-6h0m0 2h0m-2-3h0m0 0h0m-1 0h0m-1 1h0m0 6h0m0-7h0m0 0h0m0 4h0m-1-3h0m-1 1h0m-1 0h0m0-2h0m-1 5h0m0 2h0m-3-3h0m0-2h0m-1 1h0m0-2h0m-2 3h0m-1-4h0m-2 6h0m0 0h0m-1-1h0m0-4h0m0 1h0m-1-2h0m0 6h0m-1-1h0m-2 1h0m0-6h0m0 6h0m-1-6h0m0 3h0m-1-3h0m0 6h0m0 0h0m-1-6h0m0 5h0m0-2h0m0 0h0m-2-3h0m-1 3h0m-1-3h0m0 1h0m0 6h0m-1-4h0m-2-2h0m0 3h0m-1-1h0m-1 3h0m2 3h0m0 4h0m2 1h0m0-3h0m0-2h0m1 3h0m0-3h0m0-1h0m0 3h0m0 4h0m1 0h0m1-6h0m0 2h0m1 4h0m1-5h0m0 2h0m1-4h0m0 7h0m1-6h0m1 0h0m0 2h0m2 2h0m0-1h0m0 3h0m1 0h0m0-4h0m0 3h0m0-4h0m0 1h0m2-2h0m0 1h0m0-2h0m0 0h0m0 5h0m2-4h0m1 5h0m0 0h0m0 0h0m0-4h0m0 3h0m1-4h0m2 0h0m2 1h0m0-2h0m0 2h0m1 1h0m1 0h0m1-3h0m3 6h0m0-3h0m0-1h0m1 4h0m1-6h0m0 0h0m0 4h0m1 0h0m1-3h0m0 3h0m0-1h0m0 0h0m1 0h0m0 3h0m1 1h0m1-5h0m1-1h0m1 0h0m0 5h0m1-5h0m1 4h0m0-4h0m0-1h0m1 0h0m2 4h0m2 0h0m0 2h0m1-5h0m1 5h0m0 0h0m0-6h0m2 2h0m0 3h0m0-1h0m1 2h0m0-2h0m1 0h0m0-4h0m0 1h0m0-1h0m0 3h0m1 1h0m0 1h0m0 2h0m0-2h0m1-2h0m2 1h0m0 3h0m0-6h0m0 3h0m0-3h0m1 6h0m0-5h0m1 2h0m0 3h0m1-1h0m0-3h0m2-3h0m0 5h0m1 2h0m1-2h0m1-4h0m1-1h0m1 7h0m0-1h0m1-5h0m1 3h0m0 3h0m0-1h0m1 1h0m1-4h0m0 2h0m1-3h0m0 5h0m0-5h0m1 3h0m1-2h0m0-3h0m3 7h0m0-4h0m1 0h0m0 3h0m0-2h0m3 1h0m2-1h0m1-2h0m0-1h0m1 5h0m0-3h0m0 2h0m1 1h0m1 0h0m0-3h0m0-3h0m1 0h0m0 7h0m1-2h0m0-1h0m0 3h0m1-6h0m1 2h0m1 0h0m246-3h0m1 1h0m5 0h0m15 0h0m1 0h0m3 1h0m-262 13h0m-7-1h0m-1-2h0m0 3h0m-1-6h0m-1 1h0m-1 3h0m0 0h0m0 0h0m-1-2h0m-1-1h0m0 5h0m-5-5h0m-1 2h0m-1-2h0m0 2h0m0 2h0m-1-5h0m-1 2h0m-1-3h0m0 1h0m-1 1h0m0 3h0m0-4h0m0 6h0m0-2h0m0-3h0m-2 0h0m0 0h0m0 5h0m-2-6h0m-1 2h0m0 2h0m0-3h0m0-2h0m-1 2h0m-5-1h0m0-1h0m-1 4h0m-1 2h0m-1 0h0m0-3h0m-1-2h0m0 6h0m0-5h0m-1 1h0m-1-3h0m0 4h0m0-2h0m-1-2h0m0 6h0m-1-6h0m-2 3h0m0 0h0m-1 0h0m0 1h0m-1-3h0m0 4h0m-1-3h0m-1-1h0m-1 5h0m0-6h0m-1 3h0m-1-2h0m-1 1h0m0 5h0m0-7h0m0 0h0m-1 4h0m0-4h0m-1 7h0m0-7h0m-1 3h0m0 4h0m-1 0h0m0-3h0m0 2h0m0-4h0m-1 2h0m0-1h0m-1 3h0m-1-6h0m0 4h0m-1-3h0m0 2h0m0-2h0m-2 3h0m-1 0h0m-1-1h0m-1 2h0m0-3h0m0 1h0m-2 0h0m0-2h0m-2 0h0m-1-1h0m0 4h0m-3-3h0m-3 4h0m0 0h0m-2-5h0m-1 4h0m0-3h0m-1 1h0m0 1h0m-1-2h0m-1-1h0m0 5h0m-1-3h0m-1 2h0m0-3h0m0 0h0m-1 5h0m-1-3h0m-1-3h0m-1 0h0m0 5h0m0-5h0m-1 4h0m0 0h0m-1-4h0m0 1h0m-1 3h0m-1-2h0m-1 1h0m-2-2h0m0 3h0m-2-4h0m-1 3h0m-11 12h0m4-3h0m1 0h0m0 1h0m83-5h0m4 2h0m2-1h0m7 1h0m4-1h0m1 2h0m2 1h0m0-1h0m0 1h0m0-3h0m1 1h0m1 0h0m2 2h0m1 1h0m6-2h0m0 1h0m0 0h0m0 3h0m1 0h0m1-3h0m2 3h0m72-1h0m2-2h0m0 3h0m2-3h0m0 2h0m2 0h0m1 1h0m1 0h0m1-2h0m0-1h0m1 1h0m0-1h0m6 4h0m-1 6h0m0 0h0m-1-6h0m-2 1h0m0 2h0m-2 1h0m0 0h0m-2-1h0m0 3h0m-4-2h0m-1 3h0m-3-6h0m-2 6h0m0-3h0m-1 3h0m-1-4h0m0 0h0m-1 2h0m-2-4h0m-3 2h0m0 1h0m0-4h0m-4 7h0m-2-5h0m-3 2h0m-5-3h0m-9 4h0m-17 1h0m-4 0h0m0 1h0m-1-2h0m0 2h0m0-3h0m0 2h0m-2-1h0m-2 1h0m0-5h0m0 3h0m-1 1h0m0-2h0m-1-1h0m0 0h0m-3 3h0m-2-1h0m0 0h0m-1-4h0m-1 2h0m-1 2h0m-2-2h0m-7-2h0m-120 0h0m-11 4h0m-1 3h0m-2-2h0m-13 2h0m-3 0h0m0 0h0m-2 0h0m-1 0h0m0-1h0m0-3h0m-1 0h0m-1 0h0m-1-2h0m-1 1h0m0 3h0m-1-1h0m-1 1h0m0 1h0m-1 1h0m0-2h0m-3-1h0m-1 0h0m-1-2h0m0 0h0m0 0h0m0 5h0m0 0h0m-2-4h0m-1 3h0m-3 1h0m-64-3h0m0 3h0m0-2h0m-1-1h0m-3 1h0m-1 2h0m2 1h0m64 3h0m0 3h0m1-5h0m0 0h0m1 2h0m0 2h0m1 0h0m0-5h0m2 5h0m0 0h0m2-4h0m0 5h0m1-4h0m1 4h0m0-2h0m1 1h0m0-5h0m0 3h0m1 3h0m0-1h0m0 2h0m1-6h0m1 3h0m1 2h0m0-1h0m1-5h0m0 5h0m1 0h0m1-1h0m0-2h0m3 0h0m1 1h0m1-2h0m0 2h0m1 0h0m1 3h0m1-6h0m0 0h0m1 7h0m1-6h0m0 2h0m0 2h0m4-2h0m2 1h0m1-3h0m0 6h0m1-1h0m0-2h0m1 1h0m1 0h0m4 1h0m3-3h0m1 2h0m2 1h0m2-6h0m141 0h0m7 5h0m2-3h0m1 1h0m1-1h0m1-1h0m5 3h0m0-3h0m2 3h0m11 0h0m2 1h0m3-1h0m0-1h0m3 4h0m0-5h0m0 5h0m9-1h0m9-6h0m3 2h0m0 4h0m2-3h0m1-3h0m1 4h0m0-2h0m3 1h0m1 1h0m3 3h0m1-4h0m0 0h0m0-3h0m1 7h0m0-6h0m1 4h0m0-3h0m1 5h0m2-3h0m1-2h0m2 0h0m0 0h0m0 3h0m1 1h0m0 5h0m0-1h0m0 5h0m-3-7h0m-1 3h0m-2 4h0m0-6h0m0 2h0m-2-2h0m0 2h0m0 0h0m0-1h0m0-1h0m-3 4h0m0 2h0m-1-7h0m0 6h0m-2 0h0m0-3h0m-1 3h0m-1 1h0m-1-6h0m-1 6h0m0-1h0m-1-4h0m-3 1h0m-1 3h0m-5-6h0m-13 4h0m-1 3h0m-4-6h0m-173 1h0m-22 1h0m0-3h0m-1 0h0m0 3h0m0 4h0m0-7h0m0 0h0m-1 4h0m0 3h0m0-2h0m-1-5h0m-1 5h0m0 2h0m-1-6h0m-1 0h0m-2 5h0m-1-6h0m0 7h0m-1-1h0m0-3h0m-3 2h0m0 0h0m-1-2h0m-1-2h0m-1 3h0m-1 2h0m0 0h0m-2-3h0m-3-2h0m0 6h0m-1-1h0m0-2h0m0-4h0m-1 5h0m0 2h0m-1-1h0m0 1h0m0-5h0m0 1h0m-1 3h0m0-2h0m0 0h0m-1-2h0m-2 3h0m-1-4h0m2 8h0m0 4h0m0 1h0m0-1h0m0-1h0m2 0h0m0-4h0m1 5h0m0 1h0m1-2h0m1-4h0m0 2h0m1 1h0m0 2h0m1-2h0m2 4h0m0-1h0m1 0h0m0 1h0m0-6h0m0 2h0m0-3h0m1 6h0m1 1h0m1-2h0m1-4h0m0 3h0m0 0h0m3 2h0m0 0h0m0-6h0m0 0h0m1 2h0m1 0h0m2 2h0m0 3h0m1 0h0m0-6h0m0 5h0m1-1h0m0-4h0m0 6h0m3-6h0m0 0h0m198 3h0m1-2h0m2 2h0m1-2h0m10 4h0m2-4h0m2 2h0m4-1h0m0 3h0m0-4h0m1 2h0m0 1h0m2-1h0m0 0h0m0-4h0m2 5h0m0-5h0m0 1h0m3-1h0m1 1h0m2-1h0m0 0h0m1 0h0m0 3h0m2 3h0m1-1h0m0 2h0m1-3h0m1-2h0m1-1h0m0 6h0m0-6h0m2 1h0m1 2h0m1 2h0m0 0h0m0-2h0m1 5h0m0 6h0m-1-1h0m-1 0h0m-6-3h0m-2 0h0m0 2h0m-3 1h0m-1 0h0m-1-4h0m-1 3h0m-3 1h0m-3 1h0m-1-2h0m-1 2h0m0-7h0m0 7h0m-222-3h0m-2 0h0m-3-1h0m0-1h0m-1 1h0m0 1h0m-1-3h0m-1 5h0m-1-6h0m0 1h0m-2-1h0m-1 3h0m0 3h0m0-6h0m0 3h0m-1-3h0m0 7h0m0-3h0m-2-4h0m-1 5h0m-1 0h0m0-4h0m0 2h0m-1-2h0m-2 5h0m0-4h0m-1-2h0m0 3h0m242 10h0m2-2h0m0 2h0m0 1h0m2-2h0m1 2h0m0-6h0m1 2h0m0 1h0m0-2h0m0 5h0m2-3h0m0-1h0m1 0h0m1 2h0m2 3h0m2 0h0m0-7h0m1 4h0m2 1h0m1-3h0m1 5h0m0-7h0m0 4h0m2-2h0m0-2h0m1 3h0m0-2h0m2 5h0m0-5h0m0 0h0m1 1h0m2 8h0m-6 4h0m0-5h0m-1 6h0m0-6h0m-4-1h0m-1 7h0m-1-6h0m0 1h0m-1 3h0m0-5h0m-1 4h0m-1 1h0m0 0h0m0 0h0m-3-5h0m-1 0h0m0 5h0m-1-4h0m0-1h0m0 7h0m-1 0h0m0-4h0m0 4h0m-1-3h0m-1 2h0m-1-6h0m0 3h0m-1-1h0m-3 0h0m0 1h0m-2 3h0m-4 8h0m0-6h0m1 5h0m1 0h0m1-1h0m0 1h0m0-2h0m1-3h0m1 2h0m0 4h0m3-6h0m2 4h0m0-2h0m0 4h0m0-2h0m2 3h0m0-6h0m1 2h0m1 2h0m0 1h0m1-1h0m0-4h0m2 2h0m0 2h0m1-3h0m0-1h0m1 5h0m0-2h0m0-4h0m0 5h0m0 0h0m2-3h0m1 5h0m0-4h0m1 1h0m0 0h0m1-3h0m1 3h0m1-3h0m0 3h0m2 1h0m1-3h0m4 5h0m1-7h0m0 6h0m3-6h0m0 5h0m1 1h0m1 5h0m-1 2h0m0-5h0m0 2h0m-2 3h0m0-1h0m0 0h0m-1 1h0m-1-4h0m0 3h0m-2-3h0m0 6h0m0-7h0m0 5h0m-2-5h0m-1 7h0m0-4h0m-3 1h0m-1 1h0m-1-3h0m-4 4h0m0-2h0m-2-2h0m0 1h0m-1 3h0m-1 0h0m-1 0h0m-1-6h0m0 5h0m-1-5h0m-2 1h0m0 4h0m-3 0h0m0-2h0m0 3h0m-1-2h0m-1 2h0m-1-1h0m0-5h0m-1 0h0m0 3h0m0 3h0m-1-4h0m0 1h0m-1 1h0m-2 1h0m6 3h0m0 1h0m1 0h0m1 4h0m1 0h0m0-4h0m1 1h0m0-2h0m1 5h0m2-4h0m2 4h0m1 1h0m0 0h0m2 1h0m0-4h0m1 1h0m0 3h0m2-7h0m1 2h0m1 5h0m1-5h0m0-1h0m5 3h0m2-3h0m1 2h0m2-1h0m0 2h0m2-4h0m1 1h0m-128 36h0m2-3h0m-4 6h0m346 31h0m21 7h0m-1 0h0m-2 0h0m0 0h0m-1-1h0m-7-4h0m0 0h0m-1 4h0m0-3h0m0 1h0m-1 3h0m0-6h0m0 6h0m0-2h0m0-2h0m0-1h0m-1 4h0m0-4h0m-1 6h0m0-2h0m-1-5h0m0 6h0m0 0h0m0-6h0m-1 0h0m0 7h0m0-2h0m-1-2h0m0 0h0m-2-2h0m-1 3h0m0-1h0m0-2h0m0-1h0m0 5h0m-1-2h0m0-1h0m-1 0h0m-1 0h0m0 3h0m-1-2h0m0 0h0m0-2h0m-1-1h0m0 3h0m0 3h0m-1-3h0m-2 3h0m0-5h0m-1 1h0m-1 5h0m-1-4h0m-2 4h0m-1 0h0m0 0h0m-1-1h0m-1-1h0m0 1h0m0-1h0m-1 1h0m-2 1h0m-367 7h0m3 1h0m0-1h0m1-1h0m2 1h0m0-2h0m0 1h0m3-1h0m0 3h0m1 0h0m2 0h0m1 0h0m1-2h0m1 2h0m1-1h0m4 1h0m342-2h0m1 2h0m3-5h0m0 5h0m1-5h0m3-2h0m2 1h0m0 1h0m0 1h0m0 4h0m1-3h0m0 1h0m2 2h0m1-2h0m0-1h0m0 2h0m1-4h0m0 2h0m2-3h0m0 5h0m1-5h0m0-1h0m0 4h0m2 1h0m0-3h0m0 0h0m0 2h0m2-2h0m0 4h0m0-2h0m1 1h0m1-2h0m1 1h0m0-4h0m1 4h0m0 3h0m1-4h0m0 2h0m2-4h0m1 0h0m0-1h0m1 4h0m1 3h0m0-5h0m0 2h0m0-4h0m1 4h0m2-4h0m1 6h0m1-4h0m0 2h0m1 0h0m1-4h0m0 3h0m0 4h0m1-7h0m0 3h0m0-3h0m0 2h0m1-2h0m0 4h0m0 0h0m1-1h0m1 1h0m1 1h0m1-3h0m3-2h0m0 4h0m0 3h0m0-5h0m0 3h0m0-1h0m1 3h0m2-4h0m1 1h0m1 2h0m4 7h0m-1 1h0m-2-2h0m-1 0h0m-1 1h0m-1-2h0m0-3h0m-1 7h0m-1-2h0m0-5h0m-1 6h0m-1-6h0m0 1h0m0 0h0m-1 6h0m0 0h0m-1-3h0m0-3h0m0 2h0m-1-1h0m-2 5h0m0-4h0m-1-1h0m0-2h0m0 1h0m-2-1h0m0 4h0m-1-4h0m0 2h0m0-2h0m-2 4h0m-1 0h0m0-4h0m0 7h0m-1-6h0m-2 6h0m0-6h0m-1 5h0m-1-2h0m-2 2h0m-1-4h0m0 0h0m-2 2h0m0-2h0m0 2h0m-1-4h0m-4 4h0m0 2h0m0-5h0m0-1h0m-1 1h0m0-1h0m-1 0h0m0 3h0m0 3h0m-1-2h0m0 1h0m0-4h0m-2 1h0m-2 3h0m0-2h0m-1-1h0m-2 2h0m0 1h0m0-5h0m0 0h0m-1 4h0m0 1h0m0-2h0m-1 2h0m-1-3h0m0 5h0m0-5h0m-1 1h0m-1 4h0m0-1h0m-1 0h0m-2-5h0m-1 4h0m0-3h0m0-2h0m-1 1h0m-337 5h0m-2 1h0m0-5h0m-1 5h0m-1-2h0m0-3h0m-1 0h0m0-1h0m0 6h0m-2-4h0m0-2h0m-1 5h0m0 1h0m0-2h0m-1-1h0m-2-2h0m0 3h0m0-3h0m-1 4h0m0-2h0m-2-4h0m0 7h0m-1-2h0m0 0h0m0-3h0m-1-2h0m0 6h0m0 0h0m-1-5h0m0-1h0m0 1h0m-1-1h0m0 1h0m-1 1h0m0 1h0m0 2h0m-1-4h0m-1 1h0m0-1h0m-1 4h0m0-1h0m-1-4h0m-2 1h0m-1 4h0m0-1h0m0-1h0m0 4h0m-1-1h0m-2 0h0m-1-6h0m-1 4h0m-2 3h0m-1-3h0m-1-2h0m0 3h0m-2-1h0m0-1h0m-1 0h0m-1 0h0m-6 4h0m-13 7h0m1 1h0m2-4h0m0 2h0m1 0h0m0 1h0m3 1h0m1 0h0m1-6h0m1 5h0m0-3h0m0-1h0m3 0h0m1 5h0m2-3h0m1 3h0m0 0h0m0-4h0m2 4h0m0-3h0m0 1h0m0-4h0m1 3h0m0 2h0m1-2h0m0 1h0m0-3h0m1-2h0m2 3h0m1-1h0m0 3h0m1-3h0m0 2h0m0-3h0m0 0h0m1 4h0m0-2h0m1 1h0m1-3h0m1 3h0m0-3h0m0 1h0m1 0h0m0-2h0m1 0h0m1 1h0m0 6h0m1-5h0m0 2h0m1 2h0m1-3h0m0 3h0m1-2h0m0-4h0m1 5h0m0 2h0m1-4h0m1 1h0m0 3h0m0-5h0m1 0h0m1-1h0m0 0h0m0 1h0m2-1h0m0 1h0m0 0h0m1 2h0m0 2h0m0 0h0m1-4h0m0 1h0m0 3h0m0 1h0m0-7h0m1 0h0m0 1h0m0 1h0m1-2h0m0 5h0m0 2h0m1-7h0m0 3h0m1-3h0m1 1h0m0 1h0m1 0h0m0 4h0m1-3h0m2 4h0m0-5h0m1 1h0m0-2h0m1 4h0m0 1h0m1-4h0m0 0h0m0 5h0m312-7h0m3 0h0m4 2h0m2 1h0m2-1h0m3 1h0m1 0h0m0 1h0m0-2h0m1-1h0m1 6h0m1-6h0m1 2h0m0 2h0m5 1h0m1 0h0m1-5h0m0 1h0m0 4h0m0-2h0m1 0h0m0-1h0m1-2h0m0 4h0m1-4h0m0 5h0m1-4h0m0 5h0m0-6h0m0-1h0m1 5h0m0 1h0m1 1h0m1-7h0m1 5h0m0 1h0m1-1h0m1-2h0m0 3h0m1-2h0m1-2h0m0 4h0m0-1h0m1 1h0m0-2h0m0-2h0m1 0h0m1-2h0m0 0h0m2 3h0m0 1h0m0-1h0m1 0h0m0-1h0m1 5h0m0-2h0m0-3h0m1-1h0m1-1h0m1 6h0m1-4h0m3-2h0m1 1h0m0-1h0m0 6h0m1-4h0m0 0h0m4 0h0m1-2h0m1 6h0m1 1h0m0-5h0m4 3h0m1-3h0m2 5h0m5-1h0m1-5h0m0-1h0m1 6h0m3 0h0m2-2h0m0 3h0m3-5h0m3 1h0m3 8h0m-6 3h0m-1 0h0m-2-5h0m-2 5h0m-2-3h0m0-3h0m-2 6h0m-1-1h0m-2-4h0m-4 2h0m-2-2h0m-1 3h0m-1 2h0m-1-4h0m-3 4h0m-1-6h0m-1 5h0m-1 0h0m-1-1h0m-1 3h0m-1-5h0m-2 2h0m0-1h0m0 4h0m-1-7h0m-2 3h0m0-2h0m0 3h0m0-3h0m-1 6h0m-2-3h0m-1 0h0m-1 2h0m-2-3h0m-1-3h0m0 0h0m0 3h0m-1-2h0m0 3h0m-2 2h0m-1-6h0m-1 2h0m-1 1h0m0-2h0m0 6h0m0-3h0m-1 1h0m-1 2h0m0-2h0m0 0h0m-3-2h0m-1-1h0m0 4h0m-2-1h0m-1 2h0m0-4h0m-1 4h0m-1-3h0m-1 0h0m-3 3h0m-330-5h0m-1-2h0m-2 4h0m-2-3h0m-1 0h0m-1 0h0m0 1h0m0 0h0m-1 3h0m-2-2h0m-1-3h0m0 3h0m-1 1h0m0 2h0m-1-4h0m-1 2h0m-1-3h0m0 4h0m0-4h0m0 2h0m-1 3h0m0-5h0m-2 0h0m-1 6h0m0-1h0m-1-1h0m0 2h0m0-3h0m-3 0h0m0-1h0m-1 3h0m-1-6h0m-1 4h0m0 2h0m-2-2h0m0-1h0m0-3h0m-1 7h0m0-4h0m0-2h0m-1 2h0m-1 3h0m0-3h0m-1 1h0m-1-4h0m0 0h0m-1 0h0m0 6h0m-1 1h0m0-7h0m-1 3h0m0 3h0m0-6h0m-1 1h0m-1 3h0m0 1h0m-2-5h0m-1 3h0m-1 3h0m0-2h0m-6 2h0m-2-4h0m-1 1h0m-1-3h0m-2 0h0m0 5h0m-4-4h0m-2 5h0m-2-6h0m0 0h0m0 6h0m-2-3h0m-1-3h0m-2 1h0m-1 6h0m0-1h0m-3-4h0m-4 3h0m-3 2h0m-13 8h0m0-2h0m0 2h0m2 0h0m0-2h0m2 1h0m0-2h0m0-2h0m1 4h0m0-2h0m5 2h0m1-4h0m0-2h0m1 6h0m2-6h0m0 7h0m2-4h0m1 2h0m1 0h0m0-1h0m1 0h0m3-1h0m2-2h0m0 4h0m1-5h0m1 5h0m0-5h0m1 6h0m1-1h0m1-3h0m1 2h0m1-2h0m1 3h0m3 1h0m2-2h0m1 1h0m1-1h0m2 2h0m2-1h0m1 0h0m1-3h0m0 2h0m1 0h0m1-4h0m1 1h0m1 1h0m0 0h0m1-2h0m1 4h0m1-4h0m2 5h0m1 0h0m1 1h0m4-2h0m1-1h0m0-1h0m1 1h0m0 3h0m1-2h0m1-4h0m0 6h0m1-5h0m0 1h0m1 4h0m0-4h0m0 3h0m1-1h0m1-1h0m0-2h0m1 6h0m0-4h0m2 1h0m1-1h0m1-3h0m1 2h0m1 2h0m1-1h0m0 4h0m0-1h0m3-6h0m8 5h0m328 0h0m1 1h0m1 0h0m1-3h0m0 0h0m0-2h0m1 1h0m1 3h0m1-4h0m2 1h0m2 1h0m1-1h0m0 2h0m1-1h0m1-1h0m1 3h0m0-1h0m0-2h0m1-1h0m1 6h0m1-6h0m0-1h0m1 5h0m0-5h0m1 0h0m0 4h0m1-1h0m1-3h0m1 7h0m0 0h0m2-5h0m2-1h0m2 3h0m0 0h0m0 0h0m0-4h0m1 2h0m0-1h0m0 4h0m0-3h0m2 3h0m0-2h0m0-3h0m2 0h0m2 4h0m0 1h0m11-2h0m1-2h0m3 1h0m4 4h0m1-2h0m0 2h0m2-3h0m1 2h0m0 2h0m1-7h0m0 7h0m0-6h0m0 2h0m2-2h0m5 4h0m3-3h0m2 2h0m2 3h0m4-4h0m0 1h0m4 2h0m2 5h0m-3 2h0m-1-3h0m-4 1h0m-1-1h0m-1-1h0m0 1h0m-1 2h0m0 0h0m-5 0h0m0 0h0m0-1h0m-1 3h0m-1-5h0m-1 3h0m0 3h0m-1-3h0m-4 2h0m0-6h0m-1 6h0m0-1h0m-4 0h0m-2-2h0m0 2h0m0 0h0m-1-1h0m-22-2h0m-1 1h0m0-3h0m-1 3h0m0-3h0m-1 3h0m-1 1h0m-1-1h0m-1-3h0m-1 5h0m-1-1h0m-1 2h0m0-1h0m0-1h0m-1-4h0m0 6h0m0 1h0m-1-4h0m0 4h0m-1-1h0m0-3h0m-2 3h0m-1-2h0m0-2h0m0 3h0m-1-3h0m-1-1h0m0 1h0m0 2h0m0-3h0m-1 6h0m-1-2h0m0-1h0m-1-2h0m0 1h0m0 3h0m-1-6h0m-1 5h0m-1-3h0m0-2h0m-2 0h0m-4 1h0m-323 3h0m-2 1h0m-3 1h0m-12-3h0m-3 0h0m0 3h0m-1 0h0m0-1h0m0-1h0m-1 1h0m0 1h0m-1-5h0m0-1h0m0 0h0m0 3h0m-1-2h0m0 6h0m0-7h0m-2 6h0m-1-5h0m0 6h0m0-7h0m-1 3h0m0 4h0m-1-3h0m0-1h0m-2 1h0m-1 1h0m-1 2h0m-1-3h0m0-1h0m0 2h0m-1-4h0m-1 6h0m0-4h0m0-3h0m-1 1h0m0 0h0m0-1h0m0 2h0m-2 2h0m0-1h0m-1-2h0m0 6h0m-1-2h0m-1-4h0m-3 3h0m0 2h0m-1-3h0m0-1h0m0 2h0m0 2h0m-2-4h0m0 2h0m-1 1h0m0-3h0m-1 1h0m-4 3h0m-1 0h0m-1-5h0m-3 4h0m-3 1h0m-1 0h0m-1-3h0m-2-2h0m-1 1h0m0-1h0m-3 2h0m-2-1h0m-3 5h0m0-2h0m-2-1h0m-1 1h0m-1-4h0m-3 1h0m0 4h0m-1-4h0m-1 3h0m-1-5h0m-1 1h0m-1 4h0m0 2h0m-2 0h0m-1-1h0m-1-4h0m0 0h0m-1 5h0m0-2h0m-2 1h0m-1-3h0m-2 6h0m5 6h0m4-5h0m0 3h0m1 2h0m2-2h0m0 2h0m1-3h0m1 2h0m2-1h0m2-4h0m0 4h0m2 0h0m0 2h0m0-4h0m1 2h0m1-5h0m0 7h0m2-1h0m1-5h0m0-1h0m1 6h0m0-4h0m3-2h0m4 4h0m0 3h0m2-7h0m1 5h0m1 0h0m2-1h0m0 3h0m0-7h0m1 0h0m1 2h0m0-1h0m0 4h0m2 0h0m0-5h0m1 0h0m0 2h0m2 1h0m0-3h0m2 6h0m0-5h0m3 1h0m2-2h0m5 5h0m0 1h0m1-5h0m0-1h0m1 1h0m1 2h0m0 3h0m1 0h0m0-4h0m0 1h0m0 0h0m1-2h0m1 3h0m1-3h0m1 3h0m0-3h0m0 2h0m0-2h0m1 0h0m1 4h0m0-1h0m0-4h0m2 2h0m1-1h0m0 6h0m0-3h0m1-3h0m1 1h0m0 2h0m0 3h0m0-3h0m1 1h0m3-5h0m5 2h0m0 4h0m5-4h0m7 1h0m0-3h0m3 2h0m382 2h0m4-3h0m1 3h0m2 3h0m0-1h0m1 1h0m0-5h0m1 1h0m0 3h0m2-4h0m1-2h0m1 2h0m0-2h0m0 6h0m1-4h0m0 3h0m2-4h0m0 6h0m0-2h0m1 0h0m1-5h0m0 1h0m1 3h0m1-1h0m1 2h0m0-4h0m1 0h0m0 2h0m2 1h0m0-3h0m1 3h0m0-2h0m0 1h0m1 3h0m0 0h0m0-1h0m2 1h0m0-3h0m1 0h0m4 3h0m2 1h0m3-1h0m2 1h0m2-1h0m41 9h0m-4-1h0m-1 1h0m0-2h0m-1 0h0m-5-2h0m-1 4h0m-1-2h0m0 1h0m-2 1h0m-1-2h0m0-3h0m-4 2h0m-1-2h0m0 4h0m-1-3h0m-1 0h0m-2-1h0m-1 4h0m0-4h0m-4 2h0m-2 3h0m-1-1h0m-1-1h0m-1-3h0m0 3h0m-2 2h0m0-5h0m-2-1h0m-1 0h0m0-1h0m0 3h0m0-3h0m0 4h0m0-1h0m-2 3h0m-1-2h0m0 2h0m-1-2h0m-1 3h0m0-7h0m0 2h0m0 3h0m-1 1h0m0-3h0m0 0h0m0 0h0m0 3h0m0-2h0m-1 0h0m0-4h0m-1 5h0m-1 0h0m0-2h0m0 3h0m0-1h0m-1-4h0m-2 1h0m-1 1h0m0 1h0m-1 0h0m0-4h0m-1 6h0m-2 0h0m0 1h0m-2-7h0m-1 0h0m0 5h0m0 2h0m0-4h0m-1-2h0m-2 1h0m0 5h0m-1-3h0m-1-3h0m0 5h0m-2-6h0m0 0h0m-1 7h0m-1-3h0m-2-3h0m-11 0h0m-31 5h0m-1 1h0m0-1h0m-1-1h0m0 1h0m-2-1h0m-1-1h0m0-1h0m-1 3h0m-347 1h0m0-4h0m-2 4h0m-4-4h0m-2 4h0m-2-5h0m-3 4h0m-5-2h0m-1 2h0m-1-6h0m-3 0h0m-1 2h0m-1-1h0m0 1h0m0 0h0m-3 4h0m-1 1h0m-1-5h0m-4 0h0m0 0h0m0 3h0m-1-1h0m-1 3h0m0 0h0m-1-2h0m-1-1h0m-1-1h0m-1-1h0m0 1h0m-1-2h0m-2 2h0m-3 4h0m0-6h0m-4 6h0m0-4h0m-2 3h0m-1-2h0m-4 1h0m0-2h0m0-1h0m-4 4h0m-1 1h0m0-3h0m0-3h0m-2 2h0m-1 4h0m-2-1h0m-2 0h0m0-4h0m0 2h0m-2 0h0m-3 1h0m0-5h0m-1 6h0m-1-4h0m-2-1h0m-2 4h0m-1-1h0m0 3h0m-1-7h0m-1 6h0m0-5h0m-1 3h0m0-3h0m-1 4h0m-1-4h0m0 2h0m-1-1h0m-1 0h0m-5 0h0m0-1h0m-5 6h0m-1-1h0m0 1h0m-4 4h0m1 4h0m2-2h0m4-5h0m1 5h0m2 0h0m2 2h0m0-4h0m2-2h0m2 5h0m0-3h0m1-1h0m2 0h0m0-1h0m1 5h0m2-3h0m0-3h0m0 7h0m1-6h0m3 3h0m1 1h0m1 0h0m2-5h0m1 7h0m1 0h0m0-3h0m3 1h0m0-5h0m0 5h0m2-2h0m0-1h0m2 3h0m1-3h0m0 2h0m2-2h0m1 0h0m1-2h0m0 7h0m3-4h0m1 3h0m1-1h0m0-1h0m3-2h0m1 5h0m0-1h0m0-4h0m5 0h0m1 5h0m2-7h0m1 2h0m3 0h0m1-2h0m0 1h0m1-1h0m5 0h0m1 0h0m0 7h0m2-2h0m0-3h0m1 0h0m5 5h0m0 0h0m0-5h0m1 1h0m5 1h0m0 0h0m1 2h0m2-5h0m0 2h0m1-1h0m0 3h0m1-5h0m0 2h0m4-2h0m3 4h0m1 2h0m0 1h0m1-1h0m1-1h0m2-3h0m2 2h0m340-2h0m1-1h0m0 2h0m1-3h0m0 1h0m0 4h0m2 2h0m1-2h0m0 2h0m0-1h0m1-1h0m1 1h0m0-6h0m1 5h0m1-2h0m0 4h0m0-6h0m2 1h0m1 3h0m0-4h0m0 6h0m42-5h0m5 5h0m0-2h0m1-5h0m0 1h0m0 0h0m1 0h0m0 6h0m1-6h0m1 1h0m4 3h0m0-3h0m1 3h0m1 0h0m1-1h0m2 3h0m1-3h0m1-4h0m4 3h0m0 2h0m0-4h0m0 5h0m1 1h0m1-2h0m0 1h0m1-3h0m0-2h0m3-1h0m0 7h0m0-4h0m1-3h0m0 7h0m0-6h0m2-1h0m2 3h0m0 4h0m0-7h0m1 2h0m0-2h0m0 6h0m0 1h0m1-6h0m1-1h0m0 4h0m0 0h0m1 1h0m0-1h0m0-4h0m1 0h0m0 1h0m1 3h0m0 1h0m0-3h0m1 1h0m0 0h0m0-1h0m0 0h0m1 5h0m1-4h0m1-1h0m2 1h0m1-3h0m0 5h0m1-3h0m0 1h0m0 1h0m1 0h0m1-1h0m1-2h0m2 5h0m0-4h0m1 0h0m1-1h0m0 3h0m1 3h0m1 0h0m0-7h0m0 3h0m0-1h0m0-1h0m3 6h0m0-4h0m1-2h0m1 0h0m0 6h0m0-1h0m0-5h0m1 3h0m0-1h0m0 0h0m1-2h0m1 4h0m2 2h0m1-4h0m0-2h0m0-1h0m0 6h0m1 1h0m4 0h0m13 8h0m-2 0h0m-5-2h0m-1 0h0m-1 0h0m-1-2h0m-3 1h0m0 0h0m-2 1h0m0-5h0m-1 4h0m-1 1h0m0-3h0m-2 4h0m0 1h0m0-1h0m0-3h0m0 2h0m-3-1h0m0-3h0m-1-1h0m-1 5h0m0-2h0m0-2h0m-2-1h0m-1 0h0m0 3h0m-1 0h0m-1-3h0m0 1h0m-1 4h0m0-4h0m-1 6h0m0-4h0m-1 1h0m0-2h0m0-1h0m-1 6h0m0 0h0m-3 0h0m0-5h0m-1-2h0m0 1h0m-3 2h0m0-3h0m0 2h0m-2-2h0m0 1h0m0 4h0m0 1h0m-1 0h0m0 0h0m-2-6h0m0 2h0m-1 1h0m0 0h0m-2-1h0m0-2h0m-2 6h0m-1-2h0m0 3h0m-1-7h0m-1 7h0m-1-5h0m-2 1h0m0-1h0m-1-2h0m-1 6h0m-1 1h0m-1-6h0m-1 4h0m-1 1h0m-3-2h0m0 3h0m0-6h0m-1-1h0m0 0h0m-1 0h0m-1 1h0m0 6h0m-1-6h0m0 2h0m-1 4h0m-1-7h0m0 3h0m0 2h0m0 2h0m-2-3h0m0 0h0m0-3h0m-4 0h0m0 4h0m-1 0h0m0-3h0m0 3h0m-1-4h0m0 2h0m-1-3h0m-1 3h0m0 4h0m-1-2h0m0-4h0m0-1h0m0 6h0m-1-2h0m-5 3h0m0-4h0m0 3h0m-10 1h0m-1-1h0m-3-1h0m-2 1h0m0 1h0m-1 0h0m-2 0h0m-21-7h0m0 1h0m-3 0h0m-5 3h0m-1-3h0m-2 0h0m-332 6h0m-4 0h0m-2-6h0m-1 2h0m0 4h0m-1-2h0m-1-2h0m-3-3h0m-1 7h0m-3-5h0m-3 0h0m-2-1h0m-1 6h0m-1-2h0m0 1h0m0 1h0m0-1h0m-4-5h0m-1 6h0m0-7h0m-1 6h0m0-1h0m0-5h0m-2 5h0m0-5h0m-1 7h0m-4 0h0m-1 0h0m0-2h0m-1-2h0m0 2h0m-4-3h0m0 5h0m-1-1h0m0 0h0m-1 0h0m-9 0h0m-1-5h0m-2-1h0m-2 7h0m0-5h0m-1 0h0m-1 5h0m0-2h0m0-1h0m-2-3h0m-3 6h0m-2 0h0m-1-2h0m0 0h0m-4-2h0m0-1h0m-1 1h0m-3 4h0m-1-6h0m-1-1h0m-1 1h0m0-1h0m-3 3h0m-1-1h0m-3-2h0m0 6h0m-1-5h0m-1 2h0m-2 2h0m0-3h0m0 5h0m-1-4h0m-2 0h0m0 3h0m-4-1h0m0-4h0m-2 5h0m0-5h0m-1 1h0m0-2h0m0 4h0m0 2h0m0 1h0m-2-3h0m0-3h0m-1 0h0m-1 1h0m-1 2h0m0 3h0m0-7h0m0 7h0m-2-3h0m0 1h0m-1 1h0m-1-2h0m-2 3h0m0-1h0m0 1h0m-1-6h0m-1 6h0m-1-3h0m-2 0h0m-1 0h0m-2 1h0m0-4h0m0 3h0m-1-2h0m-2 5h0m-1-1h0m-8 8h0m6 1h0m1-4h0m3 1h0m3-1h0m0 4h0m1-5h0m1 0h0m1-1h0m1-1h0m1 2h0m0-2h0m0 4h0m2 0h0m2-1h0m2 1h0m2 3h0m1 0h0m2-6h0m0 0h0m1-1h0m4 0h0m9 3h0m3-1h0m1 2h0m1-1h0m0-3h0m1 0h0m1 3h0m1 4h0m0-3h0m1 0h0m4 1h0m0 2h0m1-2h0m0 2h0m0-2h0m1 2h0m2-6h0m1 1h0m0-2h0m3 4h0m0 2h0m3-4h0m1-1h0m1 0h0m5 3h0m0 1h0m0-4h0m0 0h0m4-1h0m0 4h0m6 0h0m4-4h0m3 1h0m8-1h0m4 2h0m4 1h0m4-2h0m0-1h0m3 3h0m2-1h0m3-1h0m0 0h0m1 2h0m1 4h0m0-5h0m1 1h0m0-2h0m1 4h0m0-4h0m0 4h0m1 2h0m0-1h0m1-6h0m1 7h0m0 0h0m0-1h0m2 1h0m1-5h0m0 4h0m1 0h0m0 1h0m1-4h0m3 1h0m0 0h0m2 0h0m350-1h0m1 3h0m0-5h0m0 2h0m0 4h0m1-7h0m1 3h0m0 3h0m0-5h0m1 5h0m0-4h0m2 5h0m0-4h0m1-2h0m1 1h0m0 1h0m0-2h0m1 1h0m1-2h0m0 3h0m1-3h0m1 5h0m0-1h0m1-1h0m0 3h0m0-2h0m1-1h0m1 3h0m0 1h0m1 0h0m1 0h0m1-6h0m0 4h0m0 2h0m2-6h0m0 3h0m1-1h0m0 1h0m1-1h0m8-2h0m1 4h0m3-3h0m0 4h0m2 0h0m0-4h0m0-2h0m0 4h0m1-4h0m0 1h0m2 6h0m0-1h0m1-3h0m0 2h0m0 1h0m1 0h0m2-1h0m1-3h0m0 2h0m1 1h0m0-1h0m1-4h0m0 5h0m0-3h0m0-1h0m1 5h0m1 1h0m0-3h0m0-1h0m1 0h0m2 4h0m1-4h0m0 3h0m0-4h0m1 2h0m0-4h0m0 6h0m1-2h0m0-1h0m1 3h0m0-4h0m0 5h0m1-1h0m0-6h0m1 7h0m1 0h0m2-7h0m2 4h0m1 1h0m0-2h0m0 4h0m1-4h0m1-1h0m0-1h0m1 1h0m1-2h0m0 4h0m1 1h0m1 1h0m1-2h0m1-1h0m0-2h0m1 2h0m1 3h0m0 1h0m1-7h0m1 3h0m2 2h0m1 1h0m2 0h0m0-2h0m2 2h0m1-3h0m2 1h0m0-3h0m1-1h0m0 4h0m0-2h0m0 5h0m2-1h0m0 0h0m0-4h0m1-1h0m0 3h0m1 1h0m1 1h0m0-1h0m0 1h0m0-3h0m1 0h0m1 3h0m0-3h0m1-1h0m0-2h0m1 0h0m0 1h0m0 4h0m3-4h0m0 1h0m1 2h0m0 0h0m3-2h0m3 1h0m1 0h0m1 2h0m1 0h0m2-2h0m0 1h0m3 0h0m1 2h0m0 1h0m0-3h0m1-4h0m0 6h0m1-3h0m0 0h0m0-1h0m0 2h0m1-2h0m2 0h0m1 5h0m0-4h0m1 2h0m1-3h0m0 3h0m0-2h0m1 0h0m3 3h0m0 0h0m0 1h0m1 3h0m-1 0h0m-1-1h0m0 1h0m-1-2h0m0 1h0m-2 4h0m0-4h0m-2 0h0m-1 5h0m0-4h0m0 1h0m0-2h0m-1 0h0m0 4h0m0 0h0m-1-3h0m0-1h0m0 2h0m-5 2h0m0-3h0m0 1h0m-1 1h0m0-3h0m-13-1h0m-1 1h0m-3 0h0m0 2h0m-2-2h0m0 3h0m-1-3h0m0-1h0m0 1h0m-1 4h0m-1 1h0m-1-3h0m-3-2h0m-1-1h0m0 6h0m-1 1h0m0-6h0m0 1h0m-1 3h0m0 0h0m-1-3h0m0 2h0m-3-4h0m0 6h0m0-5h0m-1 5h0m0-6h0m0 7h0m-1-7h0m0 4h0m0-4h0m-1 3h0m-1-1h0m-1 1h0m0 2h0m-1 0h0m0-5h0m0 7h0m-1-2h0m0-3h0m-2 2h0m-1 3h0m-1-3h0m0 0h0m0 2h0m0 1h0m-1 0h0m0-6h0m0 3h0m0-1h0m-2 1h0m0 1h0m-2-5h0m-1 7h0m0-4h0m0-2h0m-1 6h0m0-4h0m-2-1h0m0-1h0m0 2h0m0-1h0m-1 3h0m0-3h0m-1 5h0m0-3h0m-1-4h0m0 7h0m-1-1h0m0-5h0m0 5h0m-1 1h0m-1-7h0m-1 0h0m0 4h0m-1-2h0m0 3h0m-1-5h0m0 2h0m-1 5h0m0-7h0m0 7h0m0-3h0m-1-3h0m-1 2h0m-1-2h0m-1 6h0m0-3h0m-2-4h0m0 2h0m-1 3h0m0-2h0m-2 0h0m0 0h0m-2-3h0m0 0h0m-18 0h0m-4 1h0m0 1h0m-1 0h0m0-2h0m0 5h0m-1-5h0m0 4h0m-1 3h0m0-5h0m0 3h0m0-5h0m0 7h0m-1-5h0m0 0h0m0-2h0m0 6h0m-1-6h0m-1 4h0m-1 3h0m-1-5h0m0-2h0m-1 7h0m0-7h0m0 1h0m-1-1h0m0 2h0m0 2h0m-1 3h0m0-2h0m0-2h0m-3 2h0m0-2h0m-1 1h0m0-4h0m0 4h0m-1 2h0m-347-2h0m-2-4h0m-3 0h0m-2 3h0m-1-2h0m0-1h0m0 4h0m0 1h0m-4-1h0m-1-1h0m-4-2h0m-1-1h0m-31 0h0m-1 2h0m-13 2h0m-1-2h0m-2-1h0m-1 2h0m-1 2h0m-2-4h0m-2 1h0m0 2h0m0-3h0m-2 2h0m-1-3h0m-1 7h0m0-3h0m0-3h0m-1 6h0m-1-1h0m0-1h0m0-3h0m-1-1h0m0-1h0m-2 6h0m-3-1h0m0 1h0m0 1h0m-1-7h0m0 1h0m-1 2h0m0-2h0m0 4h0m-1 1h0m0-4h0m-1 3h0m-2 2h0m-1-5h0m-1 2h0m-1-2h0m-1 1h0m-1 1h0m0 3h0m-1-4h0m-1 2h0m-2 0h0m-3 2h0m0-6h0m-1 4h0m-5-3h0m-1-2h0m-2 3h0m-3 1h0m0 3h0m-1-4h0m0-2h0m0 3h0m0 3h0m-3-5h0m-1 5h0m-1-6h0m0 4h0m-1 1h0m-3 0h0m-2-1h0m0-4h0m0 4h0m0-3h0m-1 5h0m-2-1h0m0-2h0m0 0h0m-1 0h0m0-2h0m-1 5h0m-8-6h0m-3 3h0m-1-1h0m-1 1h0m-2 6h0m1 1h0m3-1h0m3-2h0m0 5h0m0 0h0m3 1h0m1-5h0m0 3h0m4 0h0m0 1h0m1-2h0m1-1h0m1 4h0m3-2h0m0-4h0m0 7h0m0-3h0m0-1h0m2 0h0m0 0h0m3-2h0m2 4h0m1-1h0m0-3h0m2 4h0m0 1h0m0-4h0m5 2h0m1 0h0m1 2h0m1 0h0m0-2h0m0 3h0m0 0h0m1-2h0m1 0h0m1-5h0m1 6h0m3-3h0m0 0h0m2 1h0m0 0h0m1 3h0m1-6h0m2 2h0m1 1h0m1-1h0m0 2h0m0-3h0m0-1h0m1 3h0m1 3h0m1-1h0m2 1h0m1-6h0m1 1h0m0-2h0m1 4h0m3-3h0m1 1h0m1 4h0m2-3h0m1 4h0m0-2h0m1-4h0m0 5h0m0-3h0m1-3h0m0 5h0m0 1h0m1 0h0m2-5h0m3-1h0m32 4h0m7 2h0m2-1h0m13 2h0m4-6h0m0 3h0m2 0h0m0 2h0m1-6h0m4 7h0m0-5h0m1-1h0m1 1h0m1 2h0m1-1h0m351-2h0m0-1h0m0 1h0m1 1h0m3-1h0m43 0h0m2-1h0m1 2h0m2 1h0m1-1h0m1 1h0m0 0h0m0-2h0m0 1h0m3 2h0m4-2h0m1 1h0m0 2h0m2-1h0m0-3h0m5 0h0m0 0h0m1 1h0m1 1h0m1 0h0m0-2h0m0 2h0m0-1h0m5 0h0m2-2h0m3 0h0m-436 8h0m-3 0h0m-1 6h0m-5 0h0m-3-4h0m0 1h0m0 0h0m-1 1h0m0-1h0m-1 0h0m0 2h0m-2 1h0m-47-2h0m-1 3h0m0-4h0m0 3h0m-2-1h0m0 2h0m0-5h0m-1 4h0m0-4h0m-1-1h0m-1 0h0m0 3h0m-3 0h0m0 3h0m-1-2h0m0-3h0m-1 5h0m0 0h0m-3-4h0m-1-3h0m-2 1h0m-3 5h0m-1-1h0m-2-4h0m0-1h0m-2 4h0m-3 0h0m-1 2h0m-1 1h0m-2-1h0m0-2h0m-1 0h0m0 1h0m0-2h0m-1 0h0m-2 2h0m-5-1h0m0-1h0m-1 2h0m0-1h0m-1 1h0m-1 1h0m0-1h0m-1 2h0m-1-2h0m-1 1h0m0-4h0m-2-1h0m-1 0h0m0 5h0m-1-4h0m-1-1h0m-1 3h0m0-1h0m0 4h0m0-6h0m-2 6h0m-1-4h0m-1 4h0m0 0h0m-3-6h0m-1 3h0m0-4h0m-6 0h0m0 4h0m-3-3h0m-1 0h0m-3 3h0m-2-4h0m4 8h0m6 5h0m2-1h0m3-1h0m5 3h0m1 1h0m0-5h0m1 5h0m0-4h0m3-1h0m1 3h0m1 2h0m3-5h0m2 2h0m0-4h0m0 4h0m1 0h0m1 0h0m0 1h0m1-4h0m0 2h0m4 4h0m1-5h0m1 4h0m1-1h0m0-5h0m1 0h0m1 7h0m0-4h0m0-2h0m0 6h0m0-1h0m1-5h0m2-1h0m2 6h0m1-5h0m1 6h0m1-6h0m0 5h0m0-3h0m0-1h0m1 2h0m1-1h0m0 4h0m2-3h0m1 3h0m1-2h0m1-4h0m0 2h0m2 1h0m4-4h0m0 0h0m1 2h0m3-1h0m0 5h0m1-3h0m0-1h0m1-2h0m2 1h0m0 5h0m0-5h0m2 5h0m45 0h0m4 0h0m1-3h0m2-1h0m2-1h0m2 4h0m1-1h0m0-2h0m3-2h0m-9 11h0m-3 1h0m-1 2h0m0-5h0m-5 4h0m-1 1h0m-29 1h0m0-1h0m-4 1h0m-1-1h0m-2-1h0m-3 0h0m-1 0h0m0 2h0m-1-4h0m0 1h0m-3-4h0m0 2h0m-1 4h0m-1-3h0m-2-1h0m0 1h0m0 1h0m-4 1h0m0-1h0m-1-4h0m-1 5h0m-1 1h0m-1 1h0m-1 0h0m-1-3h0m0 1h0m-2 2h0m0-2h0m-1 2h0m0 0h0m0-2h0m-3-2h0m-2 3h0m-1-3h0m0 1h0m0 0h0m0 0h0m-2-2h0m0 2h0m-1 3h0m-2-3h0m0-4h0m-1 0h0m-1 1h0m0 6h0m-4 0h0m0-7h0m0 3h0m-2 4h0m-1-3h0m-2 3h0m-3-1h0m0-5h0m0 4h0m-1 1h0m0-4h0m-1 0h0m-2-2h0m0 7h0m-1-4h0m0 2h0m-2 2h0m-1 0h0m-3-7h0m0 1h0m0 6h0m0-5h0m-1 1h0m-3 1h0m0-2h0m4 7h0m0-1h0m1 2h0m1-2h0m2 0h0m1 4h0m1-3h0m2 5h0m2-4h0m1 0h0m1 0h0m1-1h0m1-1h0m0 7h0m1-2h0m0-5h0m0 0h0m0 4h0m1-4h0m0 6h0m0-1h0m1 1h0m1-1h0m1-3h0m1 1h0m0-2h0m0 3h0m0 0h0m3-1h0m0 1h0m3 2h0m1 1h0m0-5h0m1 0h0m0-1h0m1 1h0m1 1h0m0-2h0m0 0h0m2 1h0m1 2h0m2 3h0m2-5h0m1 4h0m2-6h0m4 2h0m0 4h0m4 1h0m0-6h0m0 6h0m1-4h0m1 1h0m2 2h0m1-5h0m0-1h0m1 4h0m0 2h0m0-4h0m1 3h0m0-1h0m2-1h0m0 2h0m1-2h0m0 1h0m2 1h0m2 2h0m1 0h0m1-3h0m2 0h0m5-1h0m0 0h0m1 2h0m0 2h0m1 0h0m2-4h0m19 4h0m6-7h0m1 1h0m2-1h0m-10 9h0m-2 1h0m-3 5h0m0-3h0m-4 3h0m-1-1h0m-1-6h0m0 3h0m-2 4h0m-1 0h0m-1-2h0m-3-1h0m-3 2h0m-2 1h0m-1-5h0m-1 3h0m-1-3h0m0 3h0m-1 0h0m-1-3h0m0 0h0m-1-1h0m0-1h0m-2 2h0m-1-1h0m-1 6h0m-8-3h0m-3 2h0m-1-1h0m0-4h0m-1 4h0m-2 1h0m0 1h0m-2-5h0m-3 4h0m0-2h0m-1-2h0m0 0h0m0 2h0m0-4h0m-1 7h0m-1-1h0m-1-5h0m0 5h0m-2-1h0m-1-1h0m0 0h0m-1 2h0m5 3h0m3-1h0m1 5h0m1 0h0m0-2h0m0 2h0m0-4h0m2 4h0m1 2h0m1 0h0m1-4h0m0-2h0m1 1h0m1 0h0m2 1h0m4 1h0m0-4h0m2 3h0m1 0h0m1-2h0m1 2h0m1 0h0m0-3h0m1 5h0m1-2h0m0-3h0m0 6h0m1 1h0m0-7h0m4 1h0m0 5h0m0 1h0m1-2h0m0 0h0m0 2h0m1-3h0m0-3h0m2 5h0m0-1h0m1 1h0m1 0h0m0-4h0m1-2h0m1 0h0m1 0h0m1 1h0m0 0h0m1-1h0m4 1h0m1 4h0m1-1h0m0 0h0m5-4h0m-17 10h0m-1-2h0m-1 0h0m0 4h0m-1-2h0m-1-1h0m-1 2h0m-1-2h0m-4 2h0m0 1h0m-1 1h0m-1-5h0m0 6h0m-2-1h0m-3 0h0m0 0h0m-1-2h0m-1 2h0m0-5h0m-3 1h0m-1 2h0m-1-3h0m-1 0h0"/></g><path d="M40.5 45.2V344.5H421.8" stroke="#333" stroke-width="1.1" fill="none"/><path d="M37.5 141.4L40.5 141.4" stroke="#333" stroke-width="1.1" fill="none" /><text x="36" y="144.8" font-size="9.5" text-anchor="end" fill="#333">10</text><path d="M37.5 244.5L40.5 244.5" stroke="#333" stroke-width="1.1" fill="none" /><text x="36" y="247.9" font-size="9.5" text-anchor="end" fill="#333">0</text><path d="M85.4 344.5L85.4 347.5" stroke="#333" stroke-width="1.1" fill="none" /><text x="85.4" y="356.6" font-size="9.5" text-anchor="middle" fill="#333">-10</text><path d="M203.5 344.5L203.5 347.5" stroke="#333" stroke-width="1.1" fill="none" /><text x="203.5" y="356.6" font-size="9.5" text-anchor="middle" fill="#333">0</text><path d="M321.2 344.5L321.2 347.5" stroke="#333" stroke-width="1.1" fill="none" /><text x="321.2" y="356.6" font-size="9.5" text-anchor="middle" fill="#333">10</text><text x="230.7" y="369.7" font-size="10.3" text-anchor="middle" fill="#222" textLength="37.4" lengthAdjust="spacingAndGlyphs">UMAP_1</text><text font-size="10.3" fill="#222" text-anchor="middle" textLength="40.8" lengthAdjust="spacingAndGlyphs" transform="translate(21.6 195.1) rotate(-90)">UMAP_2</text><path d="M39.5 426.7V726H420.8" stroke="#333" stroke-width="1.1" fill="none"/><path d="M36.5 522.9L39.5 522.9" stroke="#333" stroke-width="1.1" fill="none" /><text x="35" y="526.3" font-size="9.5" text-anchor="end" fill="#333">10</text><path d="M36.5 626L39.5 626" stroke="#333" stroke-width="1.1" fill="none" /><text x="35" y="629.4" font-size="9.5" text-anchor="end" fill="#333">0</text><path d="M84.4 726L84.4 729" stroke="#333" stroke-width="1.1" fill="none" /><text x="84.4" y="738.1" font-size="9.5" text-anchor="middle" fill="#333">-10</text><path d="M202.5 726L202.5 729" stroke="#333" stroke-width="1.1" fill="none" /><text x="202.5" y="738.1" font-size="9.5" text-anchor="middle" fill="#333">0</text><path d="M320.2 726L320.2 729" stroke="#333" stroke-width="1.1" fill="none" /><text x="320.2" y="738.1" font-size="9.5" text-anchor="middle" fill="#333">10</text><text x="229.7" y="751.2" font-size="10.3" text-anchor="middle" fill="#222" textLength="37.4" lengthAdjust="spacingAndGlyphs">UMAP_1</text><text font-size="10.3" fill="#222" text-anchor="middle" textLength="40.8" lengthAdjust="spacingAndGlyphs" transform="translate(20.6 576.6) rotate(-90)">UMAP_2</text><text x="257" y="66" font-size="15.7" fill="#111">Plasma B cells</text><text x="300" y="139.5" font-size="15.7" fill="#111">Endothelia cells</text><text x="119.5" y="142.8" font-size="15.7" fill="#111">T cells</text><text x="76" y="203.8" font-size="15.7" fill="#111">B cells</text><text x="189.5" y="230" font-size="15.7" fill="#111">Macrophages</text><text x="54" y="246.3" font-size="15.7" fill="#111">Epithelial cells</text><text x="327.5" y="236" font-size="15.7" fill="#111">Fibroblasts</text><text x="120" y="299.5" font-size="10" text-anchor="middle" fill="#222">0</text><text x="137.5" y="268.5" font-size="10" text-anchor="middle" fill="#222">1</text><text x="149" y="302.5" font-size="10" text-anchor="middle" fill="#222">8</text><text x="130" y="330.5" font-size="10" text-anchor="middle" fill="#222">6</text><text x="152.5" y="161.5" font-size="10" text-anchor="middle" fill="#222">3</text><text x="103.5" y="185" font-size="10" text-anchor="middle" fill="#222">7</text><text x="192.5" y="173.5" font-size="10" text-anchor="middle" fill="#222">14</text><text x="211" y="209.5" font-size="10" text-anchor="middle" fill="#222">5</text><text x="52.5" y="187.5" font-size="10" text-anchor="middle" fill="#222">15</text><text x="236" y="74" font-size="10" text-anchor="middle" fill="#222">9</text><text x="281.5" y="141" font-size="10" text-anchor="middle" fill="#222">13</text><text x="300" y="157" font-size="10" text-anchor="middle" fill="#222">11</text><text x="305.5" y="270" font-size="10" text-anchor="middle" fill="#222">16</text><text x="332.5" y="271" font-size="10" text-anchor="middle" fill="#222">2</text><text x="351.5" y="292.5" font-size="10" text-anchor="middle" fill="#222">12</text><text x="378.5" y="286.5" font-size="10" text-anchor="middle" fill="#222">4</text><text x="404" y="290" font-size="10" text-anchor="middle" fill="#222">10</text><rect x="444.6" y="439.6" width="34" height="34" fill="#F8776F" stroke="#000" stroke-width="2.9"/><text x="461" y="493.8" font-size="15.8" text-anchor="middle" fill="#111">Patient 1</text><rect x="444.6" y="511.9" width="34" height="34" fill="#A3C44A" stroke="#000" stroke-width="2.9"/><text x="461" y="566.2" font-size="15.8" text-anchor="middle" fill="#111">Patient 2</text><rect x="444.6" y="584.2" width="34" height="34" fill="#22C6CB" stroke="#000" stroke-width="2.9"/><text x="461" y="638.6" font-size="15.8" text-anchor="middle" fill="#111">Patient 3</text><rect x="444.6" y="656.5" width="34" height="34" fill="#DCB4FC" stroke="#000" stroke-width="2.9"/><text x="461" y="711" font-size="15.8" text-anchor="middle" fill="#111">Patient 4</text><text x="537.6" y="18.4" font-size="23.5" font-weight="bold">C</text><text x="580" y="13.4" font-size="16.3" fill="#111" textLength="432" lengthAdjust="spacingAndGlyphs">UMAP of different Epithelial cells (Colors represent different</text><text x="580" y="33.2" font-size="16.3" fill="#111">subgroups)</text><text x="537.4" y="404.3" font-size="23.5" font-weight="bold">D</text><text x="580" y="404.5" font-size="16.3" fill="#111" textLength="437" lengthAdjust="spacingAndGlyphs">UMAP of different Epithelial cells (Colors represent patients)</text><path transform="scale(.5)" stroke="#F8766D" stroke-width="4.6" stroke-linecap="round" d="M1340 120h0m-4 8h0m-2 32h0m-4 20h0m14 16h0m-24 4h0m60 8h0m147 7h0m31-4h0m1 2h0m8 1h0m8-2h0m4 2h0m13 1h0m3-1h0m19 8h0m-2-1h0m-1 0h0m-5-3h0m0 1h0m-31 3h0m-22-2h0m-7 2h0m-16-2h0m-2 2h0m0-2h0m-7 3h0m-7-1h0m-1 1h0m-6-1h0m-4-5h0m-41 5h0m-156-2h0m169 8h0m10-1h0m4-3h0m31 6h0m2 1h0m4-7h0m3 5h0m17-2h0m8-2h0m1 0h0m4 0h0m21 5h0m1-3h0m12-2h0m10 2h0m17 2h0m29 8h0m-1 2h0m-6-1h0m0-4h0m-1 2h0m-6 1h0m-2 0h0m-4-1h0m-1-4h0m-5 0h0m-4 6h0m-3-1h0m-1 2h0m-1-3h0m-28-1h0m-21 0h0m0 3h0m-2-6h0m-3 5h0m-11 2h0m0-1h0m-10 0h0m-1-2h0m-3 0h0m-1 2h0m-4 1h0m-12-3h0m-4-1h0m-1 0h0m-22-1h0m-1 2h0m-2 2h0m-12-1h0m-14 0h0m-4-4h0m-174 9h0m138 5h0m6-1h0m7-1h0m26-4h0m0 1h0m3-2h0m3 3h0m7-1h0m8 0h0m46 3h0m6-5h0m4 1h0m15 0h0m12 5h0m15 0h0m3 1h0m3-1h0m10-3h0m1 0h0m0 0h0m2-3h0m0 0h0m1 5h0m17-1h0m7-2h0m12 4h0m3-6h0m0 5h0m7-1h0m14 9h0m-2 0h0m-8-4h0m-2 6h0m-17 0h0m-1-4h0m-7 0h0m-2-2h0m-5 3h0m-17 2h0m-4-5h0m0 1h0m-13 2h0m-3 3h0m-2-4h0m-7 2h0m-4-5h0m-32 3h0m-2 4h0m-14-3h0m-10-4h0m-1 1h0m-20 5h0m-3 1h0m-5-3h0m-7 2h0m-1-1h0m-19-4h0m-13 4h0m-6 0h0m-2-4h0m-4 5h0m-11-2h0m-6-2h0m-2 5h0m-19 0h0m-5 0h0m0-2h0m-10 2h0m-40-3h0m-11 0h0m-12 0h0m-13 1h0m-3-1h0m-11 2h0m-11-1h0m-16-1h0m-26 3h0m-6 6h0m8-2h0m1-3h0m5 3h0m14-3h0m9 3h0m1 3h0m6 0h0m7 0h0m2-2h0m9-3h0m3 3h0m3 2h0m4-5h0m1 3h0m2 3h0m15-7h0m4 3h0m0 4h0m6-3h0m17 0h0m5-2h0m32 1h0m2 1h0m8 1h0m35-5h0m15 0h0m34 5h0m14-2h0m18-3h0m5 6h0m0-3h0m25 4h0m6-7h0m5 0h0m25 7h0m2 0h0m0-6h0m2 1h0m41 3h0m15 1h0m0-3h0m3 4h0m1-6h0m9 1h0m8 5h0m3 0h0m8-2h0m2-2h0m1-1h0m-4 6h0m-10 5h0m-5 2h0m-12 0h0m0 0h0m-6-3h0m-5 2h0m-4-6h0m-8 1h0m-8 4h0m-10 2h0m0-4h0m-2 2h0m-1-4h0m-12-1h0m-44 2h0m-4-1h0m-5 1h0m0 0h0m0 0h0m-1 5h0m-20-4h0m-4-2h0m-5 0h0m0 2h0m-7 4h0m-5-4h0m-36-2h0m-10 5h0m-8-1h0m-1-2h0m-1 0h0m-5 4h0m-10-2h0m-4 0h0m0-3h0m-39 0h0m-1 5h0m-10-2h0m-5-2h0m-12 4h0m-8 0h0m-14-1h0m-1-6h0m-37 7h0m-7-1h0m-7-4h0m-2 0h0m0-1h0m-30 4h0m-2-1h0m-14 3h0m20 1h0m18 0h0m8 0h0m11 3h0m1 3h0m1-6h0m10 4h0m0 1h0m5 2h0m0-1h0m4-3h0m2 1h0m1-1h0m2 1h0m0-2h0m0-1h0m9 3h0m0 2h0m4-3h0m5 1h0m2 2h0m4-5h0m11 5h0m8-2h0m12-3h0m7 1h0m1 5h0m34-5h0m12 4h0m13-5h0m5 2h0m10 4h0m6-7h0m13 2h0m27-2h0m1 3h0m0-2h0m11 1h0m1 1h0m4 3h0m1-3h0m19 1h0m17-1h0m11 3h0m5-3h0m8 4h0m1-6h0m9 3h0m7-1h0m3 4h0m4-4h0m2 1h0m11 2h0m0-1h0m4-3h0m20 3h0m7-3h0m2 2h0m0 1h0m2 0h0m3-5h0m5 5h0m4-3h0m9 0h0m5 4h0m5-4h0m2-1h0m53 2h0m7-3h0m16 7h0m-76 8h0m-5-6h0m-2-1h0m-3 5h0m0 1h0m-2 0h0m-1-5h0m-12 0h0m-18-1h0m-1 4h0m-25 3h0m-8 0h0m-1-2h0m-7 1h0m-25-3h0m-12 3h0m0-6h0m-1 7h0m-1-4h0m-1-3h0m-5 7h0m-7-7h0m0 2h0m-1 2h0m-7-3h0m-4 6h0m-22-7h0m-3 0h0m-5 3h0m-16 4h0m-5-7h0m-56 0h0m-7 3h0m-34 2h0m-3-5h0m-3 6h0m-13-3h0m-3 0h0m-9 0h0m-1 2h0m-42-3h0m-6 0h0m-14 0h0m-13 3h0m-26 0h0m0-2h0m-9 0h0m-11-1h0m-2 3h0m-2-5h0m-3 0h0m-4 15h0m2-6h0m8 3h0m2-4h0m7 6h0m4 1h0m0-2h0m2 2h0m0-2h0m2-5h0m0 2h0m1 0h0m1-2h0m5 3h0m0 2h0m11-5h0m15 0h0m1 1h0m2 2h0m8-1h0m3 3h0m6 1h0m0-2h0m5-1h0m1 3h0m12-5h0m1 0h0m6 3h0m10-4h0m4 3h0m13-3h0m1 1h0m17 5h0m62-4h0m59 4h0m1 1h0m8-5h0m7 4h0m24-3h0m4 3h0m2-1h0m7-4h0m4 5h0m3 1h0m4-1h0m4-2h0m4 1h0m7 1h0m3-1h0m4 1h0m0 1h0m1-4h0m9 0h0m10-1h0m2 0h0m3 4h0m2-5h0m2 6h0m5-7h0m4 3h0m5 0h0m0 4h0m3-5h0m10-2h0m1 4h0m13-4h0m4 4h0m2 1h0m15-4h0m1 3h0m4-3h0m0 0h0m1 2h0m4-3h0m0 3h0m46 11h0m-37-6h0m-2 3h0m-9-1h0m-2 1h0m-7-2h0m-5-1h0m-1 1h0m-1-1h0m-1 7h0m-3-5h0m-2 5h0m-14-5h0m-42 4h0m0-3h0m-6 2h0m-15-5h0m-5 3h0m-2 4h0m-3-3h0m-13-2h0m-11-1h0m-15 3h0m-2-3h0m0 6h0m-13-6h0m-5 5h0m-9-2h0m-7-2h0m-14 3h0m0-5h0m-8 0h0m-15 4h0m-8 2h0m-13-2h0m-7 2h0m-16-1h0m-16 1h0m-4-4h0m-33 4h0m-6 0h0m-12-4h0m-11-2h0m-3 5h0m-1-1h0m0-3h0m-3 3h0m-7-2h0m-25-2h0m-6 6h0m-4-4h0m0 0h0m-3-2h0m-8 0h0m-17 4h0m-1-2h0m-8 0h0m-1-1h0m-10-1h0m-6 6h0m-2-5h0m-3 0h0m-5 1h0m0 9h0m14 3h0m7-2h0m9 1h0m0-5h0m13 0h0m1 2h0m4 5h0m1-5h0m6 1h0m6-2h0m1-1h0m5 7h0m12-4h0m15-3h0m2 1h0m2 5h0m5 1h0m0-6h0m11-1h0m2 0h0m12 0h0m1 7h0m4-6h0m6 2h0m4 2h0m7-5h0m0 1h0m5 2h0m24 1h0m8 0h0m14-2h0m22 4h0m6-2h0m6 3h0m9 0h0m8-6h0m29 2h0m2 2h0m6-2h0m42 0h0m11-1h0m8 4h0m16 0h0m2-4h0m10 2h0m13 0h0m7 3h0m2-1h0m1-1h0m6 2h0m4-7h0m3 2h0m8 3h0m11-4h0m9 2h0m7 0h0m12 1h0m1 3h0m140-2h0m50 9h0m-63 0h0m-110-4h0m-4 4h0m-9-3h0m-17-1h0m-20 5h0m-2-2h0m-5 1h0m0-6h0m-41 2h0m-21 2h0m-72 0h0m-10 0h0m-11 3h0m-12-7h0m-1 5h0m-14-2h0m-1 1h0m-37 0h0m-4-2h0m-17-2h0m-21 6h0m-4-3h0m-15 1h0m-9-2h0m-13 3h0m-8-2h0m-4-1h0m-2 3h0m-19-3h0m-29 1h0m-4 2h0m-7-5h0m-4 6h0m-8 1h0m-10-6h0m-2 6h0m-21-3h0m4 4h0m10 3h0m4 0h0m0 0h0m3 3h0m12-3h0m4 0h0m25 3h0m10-6h0m6 7h0m5 0h0m1-3h0m19-4h0m9 7h0m7-7h0m2 0h0m2 4h0m3-1h0m4 3h0m1 1h0m8-7h0m2 0h0m13 4h0m4-4h0m0 5h0m2-3h0m7 5h0m2-2h0m9-3h0m18 0h0m24-1h0m10 4h0m12-3h0m11 5h0m24-7h0m7 0h0m17 0h0m4 2h0m8 0h0m0 3h0m0 0h0m18-5h0m31 3h0m9 4h0m0-3h0m16 1h0m6-3h0m6 5h0m8-5h0m20 5h0m11-6h0m2 4h0m21 2h0m5-5h0m2-1h0m154 3h0m19-2h0m-71 11h0m-32-3h0m-87 5h0m-4-1h0m-9-1h0m-1-2h0m0-3h0m-1 2h0m-3-2h0m-24 7h0m-8-3h0m-8-2h0m-9 5h0m-18-5h0m-21 1h0m-12-2h0m-7 0h0m-3 1h0m-4 3h0m-41-3h0m-1 2h0m-12 2h0m-19-6h0m-5 7h0m-10 0h0m-8-3h0m-3 2h0m-3-2h0m-20-1h0m-2 2h0m-1-3h0m-3 2h0m-12-1h0m-13 4h0m-10 0h0m-11-2h0m-21-4h0m-1-1h0m-7 6h0m-6-4h0m-8 2h0m-10 2h0m0 0h0m-3-2h0m-2-1h0m-2-1h0m-6 3h0m-7-3h0m-6-2h0m-2 3h0m0-1h0m-1 3h0m-3-2h0m-3 0h0m-3 0h0m-7-3h0m-13 2h0m-7-2h0m-10 2h0m-3 0h0m-4 3h0m0 1h0m-2-3h0m4 6h0m16 6h0m1-2h0m2-3h0m5-2h0m15 4h0m8 1h0m24-2h0m3-2h0m29 5h0m6-4h0m15 2h0m11 1h0m14-1h0m8-2h0m13-2h0m9 7h0m12-2h0m1-2h0m16 2h0m3-4h0m0 2h0m50-1h0m39-1h0m4 0h0m27-1h0m7 1h0m10-1h0m4 0h0m5 2h0m2 3h0m1-4h0m6 4h0m10-4h0m3 0h0m4 0h0m33-1h0m4 0h0m13 5h0m9-5h0m6 6h0m4-5h0m1-1h0m0 2h0m30 6h0m-6 7h0m-24-5h0m-18-2h0m-34 3h0m-3-1h0m-9 3h0m-25 1h0m-10-5h0m-28-1h0m-11 7h0m-1-4h0m-12 3h0m-12 0h0m-8-3h0m-9 0h0m-32-2h0m-13 3h0m-5 1h0m-15-2h0m-2 2h0m-5-2h0m-33 1h0m-9-1h0m-11-2h0m-4 5h0m-1-3h0m-1 3h0m-3 0h0m-7-6h0m-4 1h0m-3 2h0m-5 2h0m-2-1h0m-1 0h0m-8-2h0m-5-1h0m-7 4h0m-10 2h0m-3-1h0m-7-2h0m-5-4h0m-3 0h0m-1 7h0m-11-5h0m-1 0h0m-11-2h0m-4 0h0m-1 7h0m-17-7h0m0 1h0m-3 7h0m3 0h0m18 1h0m7 4h0m23-5h0m20 0h0m12 1h0m8 6h0m7-2h0m4-4h0m45 1h0m1-1h0m5 6h0m6-4h0m12-3h0m23 5h0m1-5h0m0 7h0m3 0h0m10-1h0m0-5h0m5-1h0m16 2h0m24 3h0m11 2h0m20-1h0m26-3h0m9-3h0m25 0h0m16 0h0m4 5h0m13 0h0m14-1h0m6 0h0m55-3h0m62 11h0m-56-2h0m-12 0h0m-4 3h0m-13-1h0m-35 3h0m-9 0h0m-36-5h0m-6 1h0m-14-1h0m-10 1h0m-8-3h0m-12 6h0m-12-3h0m-16 1h0m-7 3h0m0-5h0m-21-2h0m-9 4h0m-29 0h0m-3 3h0m-12 0h0m-41-5h0m-12-2h0m0 7h0m-2-7h0m-5 7h0m-1-3h0m-13 0h0m-22 0h0m-5-3h0m-1 3h0m-9-2h0m-4 1h0m-5 3h0m0-6h0m-6 2h0m-1 3h0m-3-4h0m-2 5h0m-5-1h0m-14 1h0m-7-4h0m-2 5h0m-4-7h0m-4 2h0m-3 1h0m0-3h0m-2 6h0m-9-6h0m0 7h0m0 3h0m7 5h0m1-5h0m2 2h0m7-1h0m1 2h0m3-1h0m1-4h0m0 0h0m6 5h0m1-3h0m6 0h0m5 2h0m2-2h0m76 1h0m1 2h0m13-1h0m8-2h0m3 1h0m18-1h0m5 2h0m12-2h0m35-1h0m19 3h0m14 2h0m3-2h0m10 3h0m16-7h0m2 6h0m23-3h0m26 3h0m17-1h0m4 0h0m4-3h0m38 1h0m2 4h0m6-3h0m3 3h0m5-1h0m2-6h0m91 1h0m15 5h0m23-2h0m14 2h0m30 1h0m62-4h0m-158 8h0m-54 3h0m-4-1h0m-25-2h0m-13 0h0m-14 0h0m-6-1h0m-3-2h0m-1 3h0m-10-2h0m-46 4h0m-7-2h0m-1-1h0m-8 0h0m-4-2h0m-3 3h0m-4 4h0m-5-5h0m-20 4h0m-5-5h0m-2 1h0m-40 5h0m-23-3h0m-3-3h0m-5 6h0m-8-1h0m-8-4h0m-18 0h0m-8 0h0m-24 2h0m-12-4h0m0 3h0m-1 4h0m-15 0h0m-12-3h0m-17 1h0m-19-1h0m0-2h0m-2 4h0m-27-4h0m1 7h0m0 0h0m3 0h0m2 5h0m5-5h0m1 1h0m8 3h0m20 1h0m10-5h0m18 3h0m0 0h0m0-2h0m1 5h0m17-4h0m14-2h0m0 1h0m8 3h0m0 1h0m2-2h0m5-1h0m21 0h0m1 3h0m23 1h0m6-1h0m65-4h0m9 4h0m4 1h0m2 0h0m13 0h0m11-5h0m32 4h0m4-5h0m31 5h0m14-1h0m11-3h0m0 4h0m12-1h0m3-2h0m12 0h0m6-2h0m6 3h0m38-2h0m1 3h0m155 6h0m-10 2h0m-59 1h0m-117 0h0m-47 1h0m-15-5h0m-26 3h0m-12-2h0m-13 1h0m-1 2h0m-7-3h0m-14 3h0m-41-4h0m-11 4h0m-14-4h0m-53 4h0m-7 1h0m-14-6h0m-17-1h0m-4 5h0m-9-3h0m0 0h0m-4-2h0m-12 5h0m-23-4h0m-1 3h0m-3 1h0m-7 0h0m-12-5h0m-2 1h0m-3 3h0m-3 2h0m-4-3h0m-9 4h0m0 0h0m-10-2h0m-63-5h0m58 10h0m4 2h0m1-1h0m9-3h0m3 0h0m9 0h0m2 1h0m11 0h0m5 0h0m1 0h0m13 6h0m1-6h0m16 2h0m4 2h0m10-4h0m12 0h0m2 0h0m5 0h0m5 3h0m11 1h0m13-4h0m12 6h0m11-4h0m8 2h0m18-5h0m6 4h0m1 3h0m8-1h0m6-4h0m8 3h0m6-2h0m7 3h0m4-5h0m20 2h0m3 0h0m11 0h0m7 3h0m13 1h0m5-2h0m16 1h0m20-5h0m8 1h0m26 3h0m6-5h0m213 3h0m15 0h0m-199 8h0m-9 1h0m-1 2h0m-5-3h0m-2-2h0m-1 0h0m-49 2h0m-7 1h0m-15-2h0m-19-1h0m-1 2h0m-1 0h0m-10-1h0m-4 4h0m-8-5h0m-12-1h0m-16 0h0m-40 2h0m-4 0h0m-6-1h0m-16 1h0m-1 1h0m-11 2h0m-1-4h0m-4 2h0m-3 0h0m-18 3h0m-4 0h0m-4-5h0m0 2h0m-7 2h0m-2-3h0m-11 2h0m-14 3h0m-2-5h0m-8-1h0m-2 1h0m-20 2h0m-3 2h0m-10-5h0m-1-1h0m-8 1h0m-2 6h0m-5-7h0m-4 6h0m-10 1h0m0-7h0m0 7h0m-9-6h0m-68 1h0m78 9h0m15 1h0m2 0h0m0 3h0m2-3h0m1 0h0m8 3h0m8-5h0m8-2h0m2 4h0m3 0h0m2-1h0m3-1h0m12 5h0m0-4h0m3 2h0m5 1h0m15-1h0m3-1h0m11 2h0m5 1h0m0-5h0m24-1h0m1 2h0m14 2h0m12 0h0m3 2h0m25-6h0m25 4h0m22-5h0m6 4h0m13-1h0m2-3h0m25 2h0m40-2h0m16 0h0m12 4h0m15-1h0m58 0h0m73 5h0m-58 2h0m-24 0h0m-6 2h0m-15 2h0m-24-2h0m-2-2h0m-12 2h0m-18 0h0m-22 3h0m-6-6h0m-22 4h0m-26-4h0m-3 6h0m-4-3h0m-40-2h0m-36-1h0m-11-1h0m-6 1h0m-2 4h0m-19-3h0m-1 2h0m-24 3h0m-7-1h0m-7-1h0m-2-2h0m-9 0h0m-9-1h0m-3-2h0m-25 6h0m-10-1h0m-4-4h0m-3 3h0m-3 1h0m-2 2h0m-8-3h0m-1 0h0m0 2h0m-22 1h0m-2-2h0m23 8h0m0-2h0m15 3h0m1 1h0m19-7h0m5 1h0m2 1h0m30 0h0m8 2h0m2 3h0m11-1h0m42-6h0m4 6h0m18-2h0m1 2h0m0 0h0m0-3h0m49 3h0m7-2h0m45-1h0m7-2h0m15 6h0m16-2h0m19 2h0m7-4h0m2 3h0m9-2h0m17-1h0m12 1h0m17 0h0m23-4h0m0 7h0m-29 4h0m-37-1h0m-4-1h0m-11 0h0m-14 6h0m-15-6h0m-1 6h0m-38-7h0m-1 5h0m-11-3h0m-5 4h0m-9-4h0m-2 3h0m-48-3h0m-7 2h0m-23-2h0m-7 4h0m-4-4h0m-8 1h0m-9-2h0m-1 4h0m-11-1h0m-7 1h0m-2-5h0m-12 2h0m-7-2h0m-2 7h0m-14 0h0m-6-6h0m0 0h0m-12 5h0m-1-2h0m-5 0h0m-13 2h0m-4-5h0m-3 0h0m-8 3h0m-2-3h0m-1 2h0m4 5h0m11 3h0m5 2h0m13-1h0m6 1h0m13 2h0m12-5h0m5 3h0m19-5h0m15 4h0m0 2h0m15 1h0m25-5h0m21-2h0m3 0h0m2 1h0m3 5h0m4-3h0m3 4h0m7-6h0m0-1h0m12 3h0m11 4h0m14-4h0m21 1h0m2 1h0m6-1h0m0-4h0m1 6h0m3 0h0m4-4h0m56 1h0m48-3h0m6 9h0m-4 0h0m-17 6h0m-7-4h0m-4 1h0m-11-4h0m-7 4h0m-28-2h0m-6 5h0m-11-5h0m-4 2h0m-15 0h0m-14 0h0m-19 2h0m-15-6h0m-7 1h0m-3 1h0m-1 5h0m-1-1h0m-21-4h0m-44-2h0m0 3h0m-14 3h0m-2-3h0m-3 2h0m-3-3h0m-17-2h0m-6 3h0m-7 4h0m-30 0h0m-10-4h0m-30 4h0m-3-7h0m7 9h0m5 0h0m15-1h0m55 2h0m36 5h0m3-2h0m8-4h0m20 3h0m9-2h0m25 3h0m48-2h0m3 0h0m10-2h0m5 1h0m20 3h0m3-5h0m3 6h0m42-2h0m21 3h0m2-5h0m0 4h0m1 0h0m27-3h0m2 1h0m2 4h0m-1 6h0m0-3h0m-38-2h0m-9 6h0m-14-5h0m-18 3h0m-1-4h0m-26 0h0m-1 2h0m-2 2h0m-5-5h0m-25 5h0m-2 1h0m-19 0h0m-4-5h0m0-1h0m-3 2h0m0 0h0m-1 0h0m-7 1h0m-11-2h0m-34 3h0m0-2h0m-1 3h0m-21 1h0m-22-5h0m0 6h0m-30-1h0m-20-3h0m-24 3h0m0-1h0m-8-5h0m-4 15h0m1 0h0m12 0h0m8-4h0m6 4h0m20-6h0m12-1h0m4 4h0m3-3h0m12 0h0m8 1h0m10 3h0m6-2h0m6 2h0m24-3h0m13 0h0m3 2h0m29 2h0m10-5h0m4 6h0m1-7h0m7 3h0m14-3h0m0 7h0m6-2h0m36 0h0m113-4h0m-119 14h0m0-4h0m-4 0h0m-14 2h0m-12 1h0m-9-1h0m-31-4h0m-8 4h0m-56 0h0m-50-4h0m-2 6h0m-5-6h0m-18-1h0m-16 6h0m-29-5h0m-3 7h0m16 6h0m3 0h0m2 0h0m4-3h0m3-3h0m17 1h0m3 1h0m12 2h0m2-4h0m2 1h0m3 1h0m8 0h0m25-2h0m9 2h0m5 4h0m3-4h0m1-1h0m47-1h0m19 3h0m4 1h0m2 3h0m4-7h0m11 1h0m13 2h0m4 4h0m19-3h0m37 3h0m10 0h0m35-4h0m2 2h0m31 0h0m4 5h0m-17-2h0m-4 0h0m-2 6h0m-40 1h0m-18-7h0m-12 5h0m-34-2h0m-16 0h0m-2-2h0m-7 4h0m-1-4h0m-4 2h0m-29 0h0m-61 1h0m-13 1h0m-3-1h0m-13-2h0m-14 0h0m-6-1h0m-10 2h0m-3 2h0m-4-4h0m-1 1h0m-4 2h0m-18-1h0m-15 0h0m0 4h0m-1-4h0m-6 5h0m1 5h0m22-2h0m24 3h0m2-4h0m7-1h0m3 2h0m1 2h0m13-1h0m1 1h0m0 1h0m2-3h0m1 3h0m26-6h0m51 5h0m43-5h0m8 2h0m0 1h0m19 4h0m35-4h0m5-2h0m58 3h0m9-4h0m2 12h0m0 1h0m-29 2h0m-27 0h0m-82-2h0m-7 1h0m-43-6h0m-14 3h0m-35 2h0m-13 1h0m-1-1h0m-3 1h0m-7-4h0m-13 5h0m-2-7h0m-20 3h0m-2-3h0m-4 3h0m-1 4h0m-34 0h0m-2-4h0m-1 2h0m38 10h0m2 0h0m17-3h0m5-4h0m69 1h0m29 5h0m44 0h0m17-1h0m30-2h0m61-1h0m5 0h0m10 4h0m3 0h0m25-1h0m0-5h0m-1 12h0m-67 1h0m-10 1h0m-31-2h0m-33-2h0m-14 4h0m-19-5h0m-39 0h0m-78 4h0m-28 0h0m-14 2h0m-3-5h0m-15-1h0m8 13h0m11-1h0m15-1h0m38-1h0m21 0h0m13 4h0m30-6h0m9 0h0m30 4h0m38 0h0m16-5h0m4 0h0m44 3h0m41 0h0m1 4h0m6-5h0m1 3h0m-39 7h0m-9-4h0m-22 5h0m-4-3h0m0-1h0m-118 5h0m-1-3h0m-10 2h0m-8-1h0m-5-3h0m-48 2h0m-14 0h0m-34 11h0m65-4h0m11-2h0m5 5h0m25-1h0m34 3h0m24-7h0m3 0h0m44 1h0m22 4h0m6 2h0m41-2h0m9-4h0m1 13h0m-28-3h0m-74 1h0m-28-3h0m-8 1h0m-35 1h0m-33-1h0m-21 0h0m-45 0h0m-22-2h0m7 13h0m70-3h0m25-2h0m32 5h0m12-1h0m15 1h0m14-3h0m29 0h0m28 1h0m2-2h0m1 5h0m4-5h0m18 0h0m3 4h0m10-1h0m32 1h0m-10 6h0m-9-1h0m-11 2h0m-2-2h0m-20 0h0m-47-1h0m-13 5h0m-3-4h0m-37 1h0m-37 0h0m-8-3h0m-8 4h0m-19-1h0m-21 4h0m6 1h0m26 1h0m9 1h0m1 1h0m2 2h0m0-4h0m48 5h0m16 0h0m16-2h0m6-4h0m2 4h0m39-4h0m14 1h0m14-1h0m13 4h0m-33 9h0m-1 2h0m-26-7h0m-3 4h0m-13-3h0m-37-1h0m-9 0h0m-32 0h0m-16 1h0m-42-1h0m-9 4h0m-20-4h0m46 9h0m3 2h0m48 0h0m25 1h0m10-1h0m44-3h0m6 2h0m17 0h0m-16 6h0m-22 3h0m-53 1h0m0-4h0m-12 1h0m-24 8h0m11 6h0m21-4h0m23 1h0m13-4h0m6 5h0m10 7h0m-18-4h0m-37 6h0m-8 8h0m5-3h0m53 2h0m-46 5h0m4 10h0m24 0h0"/><path transform="scale(.5)" stroke="#00BF7D" stroke-width="4.6" stroke-linecap="round" d="M1685 252h0m-11-2h0m-2 0h0m13 7h0m34 10h0m-12 0h0m-18 1h0m-15 1h0m-1 0h0m5 6h0m9 4h0m4-1h0m1-1h0m6-4h0m2 2h0m14 0h0m7 0h0m5 0h0m1-2h0m11 6h0m24-3h0m4 3h0m3-1h0m20 8h0m-35-6h0m-3 0h0m-10 1h0m-23 6h0m-18-6h0m-17 10h0m6 1h0m4 2h0m12 0h0m7-5h0m6-1h0m5 4h0m18 2h0m20-3h0m3 2h0m25 1h0m1-1h0m15-1h0m3 1h0m0-3h0m27 12h0m-6 1h0m0-1h0m-34-1h0m-16 2h0m-3-7h0m-10 5h0m-19 2h0m-6-4h0m-1-3h0m-18 6h0m-5-1h0m-40-2h0m-1 4h0m2 1h0m2 4h0m14-4h0m18 0h0m2 7h0m7-3h0m6-1h0m25 2h0m4-3h0m3 4h0m5-1h0m14 2h0m8-5h0m2-1h0m9 5h0m11 0h0m5-5h0m12 4h0m5-3h0m13-1h0m1-1h0m0 11h0m-4 2h0m-2-1h0m-2 3h0m-18-6h0m-1 0h0m-9 3h0m-7-4h0m-7 7h0m-2-2h0m-5-3h0m-29 5h0m-20-6h0m-18 4h0m-6 1h0m-11 1h0m-1-7h0m-17 7h0m-9-5h0m15 11h0m11-3h0m13-1h0m37 1h0m1 2h0m4 3h0m5-6h0m1 4h0m2 2h0m1-7h0m6 2h0m5 2h0m8-3h0m4 3h0m21-4h0m6 3h0m16 1h0m5-3h0m0 6h0m2 0h0m6-4h0m3 1h0m1-2h0m13-2h0m9 9h0m0 1h0m-8-1h0m0 4h0m-2-4h0m-1 6h0m-3-7h0m-4 7h0m0-6h0m-3-1h0m-5 6h0m-10-3h0m-1 0h0m-6-2h0m-6 3h0m-1-1h0m-1-3h0m-10 2h0m-4 1h0m-16 1h0m-3-3h0m-1 4h0m-4 0h0m-9 1h0m-10-2h0m-12-4h0m-3 2h0m-2 2h0m-24-4h0m-39 1h0m-6 0h0m0 11h0m8 3h0m21-1h0m1 0h0m2-4h0m2-2h0m15 0h0m3 0h0m11 7h0m10-6h0m6 2h0m0-3h0m2 2h0m4 0h0m2 2h0m1-3h0m4 4h0m23-4h0m2 2h0m11 1h0m0 3h0m5-6h0m4 3h0m6 3h0m4-2h0m0-4h0m8 5h0m21-3h0m13-3h0m1 2h0m3 2h0m21 5h0m-7 0h0m-4-1h0m-1 3h0m-14-3h0m-7 2h0m-21 0h0m-7 0h0m-1 2h0m-2 2h0m-2-3h0m-2-2h0m-7 2h0m-7 1h0m-1 1h0m-5-2h0m-1 0h0m-19 4h0m-20-3h0m-5-1h0m-3-1h0m-3 1h0m-3-1h0m-2 1h0m-10 2h0m-1-3h0m-8 1h0m-1-2h0m0 1h0m-50 1h0m-8 3h0m12 3h0m10 1h0m7-1h0m22 5h0m1-3h0m13 0h0m5-3h0m4 6h0m1-2h0m1-4h0m2 7h0m6-5h0m30 0h0m2 3h0m6 1h0m1 0h0m8-3h0m11 4h0m6-6h0m34 4h0m1-4h0m4 0h0m10 6h0m2-6h0m9 1h0m7 8h0m-5-2h0m-5 3h0m-9 4h0m-10-2h0m0 0h0m-1-4h0m-2 6h0m-11-4h0m-3 0h0m-8 0h0m-15 3h0m-3-3h0m-1 1h0m-13-3h0m-6 5h0m-1-4h0m-1 5h0m-10 0h0m-2-4h0m-11-1h0m-5 0h0m-12 0h0m-8 1h0m-13 2h0m-1-1h0m-4-3h0m-3 1h0m-10-1h0m-1 3h0m-2-4h0m-21 4h0m-3-2h0m-23 3h0m22 3h0m11 0h0m1 5h0m35 0h0m11 1h0m6 1h0m0 0h0m2-7h0m19 7h0m2-5h0m5 2h0m8-2h0m9 0h0m21 5h0m11-3h0m9-2h0m7 5h0m3-3h0m5 0h0m5 3h0m5-5h0m6 3h0m2-5h0m12 4h0m5 3h0m2-3h0m-2 4h0m-8 2h0m-4-2h0m-8 1h0m-1 5h0m0-2h0m-12-1h0m-2 3h0m-5-5h0m-9-1h0m-10 3h0m-3-2h0m-9 2h0m-13-2h0m-2 0h0m-7 5h0m-3-6h0m-7 3h0m-34-2h0m-4 1h0m-34 3h0m-13 1h0m-1-4h0m-2-2h0m-7 3h0m-4 11h0m22 1h0m7-7h0m5 4h0m12 0h0m17-4h0m20 0h0m0 0h0m8 5h0m4 2h0m11-6h0m17-1h0m1 4h0m3-3h0m3 2h0m11 2h0m4 2h0m6-1h0m6-6h0m1 5h0m24-1h0m5 1h0m11-4h0m-4 8h0m-36 5h0m-4-1h0m-10 0h0m-1-5h0m-6 7h0m-8 0h0m-5-5h0m-4 2h0m-2-1h0m-30 3h0m0 0h0m-9-3h0m-27 0h0m-20-1h0m0-2h0m-3 4h0m-14 2h0m-5-1h0m-18-1h0m-32 2h0m9 2h0m33 2h0m9 1h0m13 0h0m0 1h0m0 0h0m13-3h0m7 3h0m4-2h0m10-2h0m14 2h0m1 4h0m4-4h0m0 0h0m8 2h0m1-4h0m1 2h0m21 0h0m8 5h0m7-5h0m20-1h0m5 0h0m4 2h0m3 1h0m7 1h0m-14 9h0m-7-4h0m-23 0h0m-2 0h0m-5 5h0m-21 0h0m-6-2h0m-3-1h0m-7-3h0m-4 5h0m-31 1h0m-4-3h0m-9-1h0m-17 2h0m-9-1h0m-18-1h0m-23 2h0m-50 9h0m77 0h0m18-2h0m46-3h0m5 4h0m18-3h0m3 0h0m11 3h0m2-3h0m3 3h0m10 5h0m-43-2h0m-23 2h0m-7-2h0m-3 6h0m-1-5h0m-18-1h0m-8 1h0m-6 2h0m-25-3h0m-4 1h0m-3 6h0m-24-1h0m41 6h0m10-3h0m14 0h0m0 6h0m17-5h0m3-2h0m6 3h0m8-2h0m7 5h0m11-5h0m10 4h0m4 1h0m6-1h0m-15 10h0m-6-6h0m-2 6h0m-40-1h0m-6 0h0m-4 0h0m-2 1h0m-75 7h0m12-2h0m11-1h0m16 4h0m14-5h0m29-2h0m26 3h0m15 4h0m3-4h0m-15 7h0m-16-1h0m-4 4h0m-67 0h0m-16 0h0m-4-3h0m9 13h0m15 0h0m42-2h0m46-5h0m-16 8h0m-31 1h0m-30 1h0m-23-2h0m-26 3h0m32 5h0m38 1h0m22 2h0m8 3h0m6-4h0m9 1h0m-5 5h0m0 2h0m-19 2h0m-2-1h0m-1-2h0m-24 5h0m-4 0h0m0 6h0m17 0h0m1 2h0m28-6h0m-9 10h0m-13 5h0m-8-7h0m-28 0h0m38 10h0m6 9h0m-3 1h0"/><path transform="scale(.5)" stroke="#A3A500" stroke-width="4.6" stroke-linecap="round" d="M1486 364h0m-6-3h0m-21 15h0m30 11h0m-44 19h0m27 0h0m13 1h0m-2 20h0m-8-3h0m-25 3h0m142 16h0m-133 0h0m-2 3h0m-7 9h0m26-7h0m3 4h0m117 1h0m-113 8h0m-20-1h0m11 4h0m120 3h0m4 9h0m32 14h0m-14 20h0m-6-5h0m-9 6h0m-21 0h0m-94 0h0m-1-4h0m-4 3h0m-14 0h0m-42 9h0m22-4h0m6 4h0m8 0h0m5-4h0m21-2h0m20 6h0m50 0h0m40-7h0m12 1h0m15 4h0m57 8h0m-18-1h0m-1-2h0m-2 0h0m-29 1h0m-12-1h0m-2 3h0m-10-3h0m-2 4h0m-5-6h0m-20 4h0m0-1h0m-21-1h0m-7 5h0m-21-4h0m0 2h0m-10-5h0m-3 7h0m-7-7h0m-8 3h0m-2 0h0m-6 1h0m-44 3h0m-6-5h0m-1 1h0m-13 1h0m-1 0h0m-42 3h0m-7-1h0m-11-1h0m-29 9h0m2 1h0m1-2h0m32-1h0m21-4h0m28 0h0m2 3h0m1 1h0m12 0h0m26 3h0m14-5h0m5 2h0m7 1h0m0-1h0m4 2h0m0 1h0m2-1h0m7-2h0m2-4h0m1 5h0m41 1h0m3 0h0m1-6h0m22 4h0m13 0h0m1-1h0m17-2h0m8 4h0m31-4h0m16 1h0m11-1h0m1 6h0m7-4h0m3 9h0m-3 0h0m-23 1h0m-29-2h0m-2 4h0m-12 0h0m-2-5h0m-15 1h0m-5 3h0m-7-5h0m-10 1h0m-5 4h0m-1 1h0m-4-2h0m-11-2h0m-3-3h0m-11 3h0m-14-1h0m-3 1h0m-13-2h0m-8 5h0m-6 0h0m-18 1h0m-25-3h0m-12-2h0m-3 5h0m-8-1h0m-4-1h0m0-2h0m-10 2h0m-15 2h0m-7-1h0m-2-2h0m-15-3h0m-7 4h0m-2 1h0m-18-2h0m-8-1h0m-1 4h0m-21 7h0m5-4h0m0 3h0m7 0h0m5-1h0m21-4h0m52 2h0m1 0h0m4 0h0m1 5h0m41-5h0m20 1h0m8 4h0m45 0h0m15-4h0m55 3h0m3-6h0m58 6h0m11 4h0m-15 5h0m-29-1h0m-1-1h0m-9 1h0m-5-3h0m-2 0h0m-36 1h0m-8 1h0m-16 2h0m-12-6h0m-20-1h0m-18 1h0m-59 1h0m-5 1h0m-6-2h0m-16-1h0m-37 3h0m-12 4h0m-7-7h0m-6 6h0m-18 0h0m-8-5h0m7 13h0m17-1h0m2-3h0m21 2h0m86-4h0m0 2h0m17 4h0m6-6h0m3 4h0m27 0h0m5 0h0m7 1h0m27-5h0m13 4h0m20 2h0m12-2h0m35 1h0m12-3h0m12 5h0m-70 6h0m-36 2h0m-1 0h0m-61-3h0m-9-3h0m-7 3h0m-3 2h0m-17 1h0m-19-2h0m-10-1h0m-3 0h0m-29 2h0m-62-6h0m21 12h0m1 1h0m0 0h0m26-2h0m14-3h0m5 5h0m45-2h0m9 0h0m5-3h0m4 2h0m2 5h0m9 0h0m1-3h0m5 0h0m52 1h0m26-3h0m8 3h0m8 2h0m5-1h0m12-3h0m9 4h0m9-5h0m2-1h0m31 2h0m1 0h0m-16 7h0m-5 3h0m-10 2h0m-32-1h0m-20-3h0m-1-2h0m-69 3h0m-6-1h0m-30 3h0m-8 0h0m-1-4h0m-14-2h0m-24 6h0m-6-6h0m-3 2h0m-33-2h0m-19 7h0m1 1h0m60 2h0m8 1h0m4 0h0m11 1h0m26-4h0m7 6h0m20 0h0m27-1h0m36-5h0m11 7h0m25-3h0m11-1h0m2 6h0m-22 2h0m-26 0h0m-23 1h0m-57-4h0m-1 4h0m-3-2h0m-5 0h0m-11 0h0m-17 0h0m-24 2h0m-8-4h0m-5 0h0m-10 1h0m-1-1h0m-7 4h0m-2-1h0m28 11h0m17-2h0m1 0h0m6 1h0m28-3h0m4 0h0m12 3h0m12-1h0m13-2h0m7 4h0m18-6h0m15 1h0m-10 10h0m-13-2h0m-16 5h0m-10-6h0m-4 2h0m-21 1h0m-24 2h0m-2-2h0m7 7h0m7-1h0m7 2h0m31-1h0m3 4h0m6-1h0m20-5h0m3 6h0m1-6h0m1 0h0m0 10h0m-16 5h0m-11 0h0m-12-6h0m-21-1h0m-5 7h0m-8-4h0m22 9h0m6 0h0m0 0h0m2 1h0m26 1h0m7 2h0m-24 7h0m-7 5h0m8-1h0m0-1h0m3 3h0"/><path transform="scale(.5)" stroke="#00B0F6" stroke-width="4.6" stroke-linecap="round" d="M1351 104h0m-1 2h0m-10 1h0m-1 2h0m-6 0h0m-7 9h0m5-1h0m3-4h0m1 1h0m22 1h0m-7 5h0m-5 4h0m-1-1h0m-18 12h0m4 0h0m1 0h0m5-3h0m0-2h0m3 0h0m-1 9h0m0 1h0m-8-1h0m4 11h0m6-4h0m-10 8h0m-1 3h0m-14 9h0m1 1h0m1-3h0m4-1h0m0-3h0m7 4h0m1-1h0m2 2h0m-4 9h0m-19 8h0m0 1h0m2-7h0m0 2h0m1 5h0m0-3h0m3 1h0m3 2h0m14-2h0m-12 9h0m-6-1h0m-5-5h0m-2 12h0m4 1h0"/><path transform="scale(.5)" stroke="#E76BF3" stroke-width="4.6" stroke-linecap="round" d="M1208 164h0m4 0h0m2 2h0m-1 4h0m-9 5h0m-4-4h0m-4 9h0m1 0h0m1 0h0m3 1h0m1 2h0m6-4h0m-7 12h0m-2-7h0m-2 12h0m2 1h0m3 1h0m1-1h0"/><path transform="scale(.5)" stroke="#00BFC4" stroke-width="4.6" stroke-linecap="round" d="M1351 876h0m-5 19h0m-6 6h0m-1 10h0m-11-6h0m2 22h0m0 6h0m-113 3h0m-14 5h0m-3 9h0m7-5h0m3 3h0m102-1h0m1 2h0m-3 3h0m-1 1h0m-107 1h0m178 23h0m176 5h0m9 1h0m24 0h0m4 0h0m10 4h0m-31 4h0m-28-1h0m-16-1h0m-2 1h0m-6 1h0m-7-1h0m-7 1h0m-5-6h0m-40 5h0m23 6h0m28-4h0m7 6h0m1 1h0m4-6h0m3 4h0m17-2h0m8-2h0m1 0h0m4 1h0m21 1h0m13-2h0m9 3h0m44 11h0m-5-5h0m-1 4h0m-7-1h0m-5-1h0m-1-4h0m-9 6h0m-5-1h0m-27-1h0m-23-4h0m-3 5h0m-21-1h0m-9 3h0m-12-2h0m-4-2h0m0 0h0m-22-1h0m-1 2h0m-31-3h0m-24 12h0m26-4h0m76 0h0m27 5h0m21 0h0m9-3h0m2 0h0m1-3h0m25 2h0m11 3h0m4 0h0m9 9h0m-32-2h0m-20-2h0m-1-2h0m-24 4h0m-24 3h0m-14-1h0m-24-6h0m0 1h0m-28 3h0m-7 2h0m-32-1h0m-23-1h0m-8 3h0m-24-2h0m-49-1h0m-18 3h0m-20-3h0m-5 7h0m56-2h0m33 2h0m8 1h0m96-1h0m23 2h0m25 1h0m35 1h0m3-1h0m0-5h0m2 0h0m40 4h0m15-2h0m3 3h0m1-5h0m20 6h0m29-6h0m34 9h0m-30 2h0m-15 0h0m-21 0h0m-14 3h0m-3-1h0m-1 0h0m-10 0h0m-4-6h0m-8 1h0m-18 5h0m0-3h0m-3-3h0m-11 0h0m-43 1h0m-9 1h0m0 0h0m-1-1h0m-1 5h0m-19-4h0m-9-2h0m0 3h0m-7 3h0m-4 1h0m-1-5h0m-53 2h0m-21 0h0m0-3h0m-54 1h0m-59 11h0m18 0h0m145-4h0m9 6h0m18-5h0m8 5h0m3-6h0m33 6h0m8-5h0m4 5h0m3 0h0m4-2h0m13-5h0m10 3h0m13-1h0m2 1h0m11 1h0m24 0h0m8 0h0m3 0h0m7 0h0m13-3h0m10 1h0m24 3h0m23-2h0m6-1h0m1 0h0m5 0h0m27 5h0m12-1h0m3-1h0m-56 10h0m-53-2h0m-2 2h0m-12-7h0m-19 3h0m-4 3h0m-20 0h0m-9-1h0m-1-1h0m-31-2h0m-14 0h0m-14 1h0m-6-3h0m-229 1h0m-61 1h0m245 11h0m1 0h0m8-5h0m7 5h0m23-4h0m5 4h0m2-1h0m10 1h0m11-2h0m11 2h0m3-1h0m3 2h0m1-1h0m0 2h0m1-5h0m19-1h0m2-1h0m2 4h0m18-2h0m3-1h0m28 2h0m1 1h0m17-2h0m3-2h0m28 2h0m4 2h0m47 0h0m20-2h0m15 5h0m12-2h0m19-1h0m0-3h0m-85 11h0m-4-1h0m-5 2h0m-18 2h0m-17-5h0m-15 0h0m-33-1h0m-13 6h0m-28-6h0m-31 1h0m-40-2h0m0 5h0m-18 0h0m-16-4h0m-24 6h0m-185-6h0m0 0h0m-63 0h0m47 12h0m2-4h0m177 1h0m5 3h0m21 1h0m27-3h0m58-3h0m55 5h0m4-2h0m73-1h0m22 4h0m19-4h0m5-1h0m25 2h0m4-3h0m22 5h0m27-1h0m7-4h0m12 3h0m5-3h0m31 14h0m-21-3h0m-2-1h0m-44 3h0m-1-1h0m-6-4h0m-65 3h0m-41 1h0m-3-4h0m-42 5h0m-125 1h0m-58 1h0m-216-7h0m42 14h0m64-1h0m46-5h0m19 0h0m55 5h0m25 2h0m34-7h0m0 3h0m49-2h0m9 3h0m22 3h0m152-5h0m62-1h0m12 6h0m9-3h0m11-4h0m5 7h0m8 0h0m9 0h0m0 1h0m-11 5h0m-6 0h0m-29 2h0m-3-6h0m-31 0h0m-4 2h0m-3 0h0m-36-2h0m-3-1h0m-13 6h0m-86-5h0m-46 5h0m-45-6h0m-25 3h0m-4 4h0m-4 0h0m-34-5h0m-4 5h0m-53-4h0m-2-2h0m-34 5h0m-3-5h0m-146 7h0m3 6h0m0 0h0m166-4h0m164-2h0m109 4h0m22-1h0m32 1h0m9 3h0m7-6h0m6-1h0m32 1h0m10 1h0m0 3h0m9-3h0m39-1h0m4 6h0m7-2h0m2-5h0m24 6h0m-61 3h0m-4 0h0m-8 5h0m-9-4h0m-24 3h0m-20-3h0m-5-2h0m-5 7h0m-14-2h0m-2-3h0m-45 5h0m-2-1h0m-187-6h0m-48 5h0m-5-3h0m-6 1h0m-16-1h0m-38 4h0m0-5h0m-23 2h0m-1-3h0m-26 2h0m-25 3h0m-43 5h0m123 2h0m45 0h0m44 2h0m67-1h0m65-3h0m104 1h0m4 2h0m11-5h0m12 4h0m3 3h0m12 0h0m5 0h0m17-5h0m15-2h0m11 4h0m42 2h0m20 2h0m-19 1h0m-2 3h0m-20 2h0m-17-3h0m-4-2h0m-30 2h0m-29-2h0m-21 1h0m-1-1h0m-18 0h0m-17 4h0m-10 0h0m-4-3h0m-13-2h0m-4 2h0m-65 4h0m-39-6h0m-32 0h0m-4 5h0m-80-1h0m-15 3h0m-91-6h0m57 13h0m18 1h0m51-2h0m18-5h0m43 6h0m10 1h0m2-2h0m4 1h0m8 1h0m25-5h0m42 4h0m32 1h0m5-5h0m41 2h0m36 3h0m12-5h0m5 4h0m22-2h0m13-3h0m6 3h0m36-4h0m0 7h0m10-2h0m6-1h0m3-3h0m9 2h0m11 2h0m7-1h0m12-1h0m0 2h0m2-4h0m-6 12h0m-66-5h0m-21 3h0m-10-3h0m-88 6h0m-71-6h0m-5 6h0m-5-6h0m-124 6h0m-28-2h0m-66 3h0m-69-7h0m-54 5h0m96 5h0m51 1h0m6 0h0m66 3h0m10-3h0m58 0h0m44 3h0m4-5h0m23 0h0m65 0h0m11 2h0m12-3h0m44 7h0m12-6h0m32 5h0m19-2h0m44-3h0m-31 8h0m-13 4h0m0-4h0m-20 4h0m-34-3h0m-1 4h0m-1-2h0m-27 0h0m-10 2h0m-5 1h0m-32 0h0m-2-6h0m-49 1h0m-15 2h0m-100 3h0m-14 0h0m-30-1h0m-78-3h0m-40 2h0m-161 9h0m183 0h0m0-5h0m61 3h0m6-4h0m23 1h0m0 0h0m21 3h0m27 0h0m9-2h0m14 4h0m1-1h0m3-4h0m69-1h0m145 0h0m30 3h0m39-3h0m-7 9h0m-36 1h0m-27-1h0m-44 2h0m-30-3h0m-79 3h0m-30-3h0m-51 6h0m-19-3h0m-125 2h0m-65-5h0m-41 6h0m135 9h0m1-2h0m21-5h0m17 4h0m35-4h0m28 0h0m65 4h0m59 3h0m5-2h0m39-5h0m1 5h0m24 0h0m6 0h0m20-4h0m31 2h0m-32 9h0m-28-3h0m-4 2h0m-4 2h0m-16-1h0m-10 3h0m-8-6h0m-5 6h0m-4 0h0m-11-1h0m-26-4h0m-58 3h0m-107 1h0m-19-6h0m-50 13h0m60 0h0m9-4h0m162 3h0m11-1h0m56-1h0m51 2h0m11-4h0m3 1h0m-18 13h0m-17 0h0m-31-6h0m-63 6h0m-55-1h0m-115-1h0m-11-3h0m-40-1h0m38 11h0m44 1h0m4-3h0m2 6h0m183-4h0m31 1h0m28-3h0m-150 14h0m-19-3h0m-65 3h0m-53-4h0m-8 4h0m-39-3h0m-48 10h0m168-2h0m1 0h0m27 3h0m32-4h0m22 2h0m4-2h0m22-1h0m20 1h0m7-3h0m55 2h0m-119 13h0m-67-4h0m-38 3h0m-45-1h0m-39 0h0m-49 4h0m11 6h0m34-5h0m111 4h0m181-3h0m2 3h0m19-4h0m-50 11h0m-10-1h0m-81 2h0m-23-1h0m-13-2h0m-20 2h0m-69 2h0m-14-6h0m-29-1h0m-11 6h0m5 5h0m47 2h0m33 2h0m18-3h0m42-1h0m113-2h0m17 0h0m21 2h0m-62 5h0m-35 4h0m-53 0h0m-1-1h0m-7-2h0m-43 5h0m-79 0h0m33 6h0m30-4h0m46 0h0m11 6h0m3-5h0m9 3h0m49 1h0m25 1h0m11 0h0m2-3h0m37 2h0m3-2h0m3-1h0m1 2h0m20 1h0m3-1h0m-14 6h0m-12 0h0m-17 4h0m-10-4h0m-5 1h0m-14 2h0m-8-3h0m-5-2h0m-11 4h0m-22-1h0m-18 3h0m-29 0h0m-21 1h0m-3-1h0m-3-1h0m0 0h0m-16 2h0m-48-3h0m-30-3h0m-24 4h0m-35 10h0m54-2h0m2 2h0m32-2h0m0-1h0m26 1h0m69-1h0m46 3h0m5-5h0m37 1h0m2 4h0m14-4h0m54 2h0m-44 10h0m-35-7h0m-72 7h0m-44 0h0m-7-7h0m-14 1h0m-8 1h0m-39 5h0m-6-4h0m-51-3h0m-5 4h0m-20 1h0m-6 1h0m-2-1h0m11 9h0m17 0h0m13 1h0m1-4h0m10 0h0m37-3h0m19 4h0m7-2h0m59-1h0m18 0h0m47 3h0m50 2h0m38 1h0m15-5h0m-16 13h0m-11-5h0m-58 3h0m-14 2h0m-5-2h0m-22-4h0m-44-1h0m-2 0h0m-20 6h0m-4 1h0m-13-5h0m-61 0h0m-23 2h0m-21-2h0m-19 4h0m-5 1h0m67 3h0m22 2h0m3 0h0m9 3h0m40-3h0m7-3h0m5 1h0m36 1h0m28 3h0m45-3h0m44 8h0m-32-3h0m-8 4h0m-9 1h0m-2-2h0m-1-3h0m-17 6h0m-8-4h0m0 2h0m-83-1h0m-2 0h0m-12 1h0m-1 2h0m-11-3h0m-44-2h0m-44 6h0m64 4h0m15-2h0m1 1h0m10 5h0m26-5h0m1 0h0m36-1h0m25 6h0m37-6h0m32 0h0m6 3h0m3-2h0m2 0h0m-51 6h0m-64 4h0m-12 1h0m-16 0h0m-15 2h0m-4-2h0m-33-2h0m-10-2h0m-12 0h0m-9 6h0m-25 3h0m34 1h0m22-2h0m17 0h0m11-1h0m5 1h0m3 1h0m70 5h0m10-5h0m21 4h0m1-2h0m-25 11h0m-43-2h0m-15 1h0m-2-3h0m-13 1h0m-1 2h0m-43-3h0m34 6h0m61 0h0m-22 13h0m-4-3h0m-39-2h0m-11 4h0m10 8h0m7-1h0m30 0h0m28-4h0m-44 10h0m-10 6h0m28 9h0m-4 1h0m-20-1h0"/><path transform="scale(.5)" stroke="#C77CFF" stroke-width="4.6" stroke-linecap="round" d="M1341 879h0m17 7h0m-21 13h0m-5 7h0m-118 28h0m121-4h0m-136 19h0m115 10h0m-109-6h0m1 13h0m139-1h0m-24 4h0m252 12h0m36 9h0m-1 0h0m-57-2h0m27 10h0m52 7h0m-97-1h0m-247 6h0m187 0h0m123-2h0m2 5h0m72 4h0m-23 0h0m-20 2h0m-47 1h0m-5-2h0m-36 5h0m-7-5h0m-93 5h0m-8-7h0m-4 5h0m-103-2h0m-12 1h0m-53-1h0m-4 4h0m-21-1h0m-6 7h0m13-2h0m23-1h0m16 2h0m40 3h0m0 0h0m6-3h0m315-2h0m-40 11h0m-101-4h0m-55 6h0m-22-1h0m-52-5h0m-11 3h0m-38 2h0m-45-1h0m-9-4h0m-8 6h0m19 3h0m1 3h0m11-2h0m5 3h0m4-4h0m4 2h0m10-1h0m8 0h0m17 2h0m8-2h0m12-3h0m8 6h0m72 0h0m59-3h0m198 5h0m-42 5h0m-1-5h0m-21 7h0m-87-2h0m-1 1h0m-26 0h0m-112-4h0m-65 1h0m-74 1h0m-26-2h0m-19-1h0m13 10h0m2-2h0m31 6h0m5-5h0m6 5h0m5-3h0m10-2h0m48-2h0m123 6h0m108-4h0m98 4h0m87-3h0m-22 6h0m-102 6h0m-76-5h0m-2 3h0m-122-1h0m-13-2h0m-66 5h0m-8-3h0m-8 3h0m-6 0h0m-18-5h0m-3 0h0m-70 0h0m-27-2h0m35 8h0m17 0h0m6 5h0m87-3h0m87 3h0m161 1h0m7-6h0m28 1h0m6 0h0m162 6h0m-7 7h0m-93 1h0m-84-4h0m-45-3h0m-94 6h0m-7 0h0m-10-1h0m-46 2h0m-19-5h0m-59 4h0m-1-4h0m-1 4h0m-32-6h0m-3 3h0m-47-2h0m-3 2h0m-52-1h0m14 7h0m4 0h0m9 5h0m6 1h0m3-7h0m35 7h0m6-2h0m6-3h0m27 3h0m11 0h0m1 2h0m6-3h0m23-2h0m5 1h0m2-3h0m6 5h0m27 2h0m52-2h0m58-5h0m20 6h0m61-4h0m38 3h0m119-5h0m12 5h0m84 1h0m7-1h0m-185 10h0m-25-4h0m-37-1h0m-36 4h0m-14 1h0m-7-1h0m-20-6h0m-124 1h0m-2 2h0m-28 1h0m-10 1h0m-54-4h0m-10 3h0m-2-2h0m-10 0h0m-15-1h0m-3 0h0m-25 5h0m-27-5h0m59 14h0m1 0h0m14-7h0m31 4h0m2 3h0m4 0h0m19-1h0m20-4h0m31 3h0m28-2h0m32 3h0m191 0h0m14-3h0m201-2h0m-65 7h0m-121 6h0m-82-1h0m-42 1h0m-24-6h0m-105 0h0m-67 3h0m-17 3h0m-4-4h0m-31 2h0m-3-1h0m-13 2h0m-28 10h0m10 0h0m28-1h0m18 1h0m12-3h0m44 1h0m13 2h0m10-7h0m92 2h0m12 2h0m20-1h0m63 4h0m124-1h0m79-3h0m-48 5h0m-119 3h0m-41-3h0m-93 1h0m-15 0h0m-28-1h0m-15 3h0m-21 4h0m-38-3h0m-2-3h0m-12 0h0m-45 2h0m-8-1h0m-4 1h0m-15 3h0m-6 1h0m-7-3h0m-21 0h0m6 10h0m3-5h0m9 1h0m17 4h0m63-1h0m82 1h0m66 0h0m26-3h0m23-3h0m1 7h0m87-7h0m1 4h0m9-1h0m48 3h0m154 2h0m-176 1h0m-111 4h0m-57-3h0m-132 5h0m-28 0h0m-18-1h0m-66-1h0m19 4h0m10 6h0m10-5h0m2 2h0m61 2h0m29-1h0m111-2h0m41 4h0m88-7h0m-81 10h0m-33 5h0m-23-2h0m-46-1h0m-48 1h0m-29-4h0m-48 4h0m-1-5h0m-9 1h0m-5 4h0m-15-3h0m-1 3h0m-12-2h0m-11 4h0m3 5h0m29 0h0m21-1h0m20 3h0m2-1h0m68-2h0m1 4h0m3 0h0m17-2h0m30-3h0m27 0h0m23 2h0m24 1h0m10 2h0m0-5h0m21 4h0m87 1h0m114 7h0m-173-3h0m-63-1h0m-121 5h0m-17-6h0m-4 0h0m-61 6h0m-30 0h0m27 1h0m27 1h0m22 5h0m6-4h0m5 1h0m39-2h0m12 3h0m237 2h0m6-2h0m-120 4h0m-176 2h0m-44 3h0m-19-5h0m-10 0h0m-2 3h0m-10-2h0m-23-1h0m23 8h0m9 6h0m7-4h0m23 5h0m5 0h0m13-3h0m21-1h0m2-1h0m18 1h0m29 3h0m97-2h0m52-2h0m56 2h0m49 6h0m-14 1h0m-79-1h0m-31 5h0m-8 0h0m-20-2h0m-7-5h0m-30 3h0m0 0h0m-75-3h0m-7 7h0m-34 0h0m-35 0h0m-27 3h0m33 3h0m47 0h0m28 1h0m32-4h0m14 5h0m92-1h0m36-1h0m35-3h0m42 2h0m43 0h0m-40 11h0m-49 0h0m-156-3h0m-153-2h0m52 11h0m145-1h0m53-2h0m6 3h0m26 1h0m20-2h0m15-2h0m46 0h0m-130 13h0m-139-4h0m-12 0h0m-53-3h0m-17 11h0m32-2h0m148-1h0m138 14h0m-67-6h0m-63 2h0m-5 3h0m-112-2h0m-7 1h0m-19 0h0m-20-2h0m-3 2h0m-25-3h0m8 12h0m34 0h0m8 1h0m3-1h0m43 0h0m3 1h0m59 1h0m13-3h0m41-2h0m7-2h0m45 7h0m21-5h0m47 5h0m21 1h0m-33 5h0m-22 1h0m-22-6h0m-4 1h0m-109-1h0m-33 7h0m-5-3h0m-46 3h0m-2-3h0m-16 2h0m-59-5h0m35 8h0m11 5h0m35-1h0m40-2h0m9 1h0m56-3h0m19 5h0m26-6h0m73 4h0m25 2h0m-102 3h0m-67 3h0m-105-3h0m-37 6h0m-22 3h0m58-1h0m60 6h0m27-7h0m94 4h0m110-4h0m-119 8h0m-125 7h0m-14-4h0m-73 1h0m-10 5h0m209 0h0m35 4h0m1-1h0m51 1h0m-61 7h0m-51 0h0m-52-4h0m27 11h0m5-3h0m143 11h0m-42 4h0m-124-1h0m-92-4h0m-25 2h0m41 11h0m1-6h0m47 4h0m73 2h0m39-7h0m43 1h0m-169 8h0m162 7h0m-52 8h0m-49 2h0m-12 0h0m-28-2h0m-18 10h0m13 5h0m66 0h0m-72 1h0m67 22h0"/><path transform="scale(.5)" stroke="#F8766D" stroke-width="4.6" stroke-linecap="round" d="M1351 877h0m-16 7h0m1 1h0m4-5h0m11 11h0m-6 3h0m-4-3h0m-14-1h0m10 12h0m0-1h0m-5 5h0m9 10h0m-23 18h0m4-1h0m0-3h0m7 4h0m3 1h0m-14 2h0m-2-1h0m-100 4h0m112 4h0m-10 9h0m-5-1h0m-4 2h0m-107 12h0m119-6h0m235 20h0m20 2h0m35 9h0m-7-4h0m-78-3h0m0 4h0m-218 1h0m166 7h0m143 1h0m28 8h0m-7-1h0m-18-4h0m-7 5h0m-1 2h0m-49-4h0m0 3h0m-16 0h0m-15 1h0m-57-2h0m-14 0h0m-39 10h0m38-5h0m3-2h0m3 3h0m15-1h0m51-2h0m45 6h0m17-3h0m20 1h0m67 8h0m-13-2h0m-12 3h0m-2 0h0m-34-2h0m-2-2h0m-22 4h0m-20 1h0m-12-6h0m-47 4h0m-13 3h0m-18-1h0m-16-1h0m-19-4h0m-18 4h0m-23-3h0m-20 4h0m-5 0h0m-11 0h0m-99-2h0m-39 7h0m29 3h0m6-1h0m7 1h0m11-5h0m6 5h0m4-2h0m0-4h0m3 6h0m18-3h0m23 1h0m36-1h0m45-3h0m48 5h0m156 0h0m21 1h0m10-1h0m3-3h0m62 13h0m-22-4h0m-32 1h0m-11-4h0m-16 6h0m-17-3h0m-37 2h0m-141-5h0m-10 6h0m-9-4h0m-1 0h0m-15 2h0m-43 2h0m-27 0h0m-8 1h0m-51-1h0m-3 1h0m-11-6h0m-1 6h0m-1-6h0m-30 4h0m-2-1h0m-21 11h0m2 0h0m25-7h0m49 4h0m10-1h0m2-1h0m2-1h0m13 2h0m7 2h0m3-5h0m38 1h0m4 6h0m30-6h0m12 4h0m1 2h0m12-7h0m5 2h0m56-2h0m11 7h0m5-2h0m19-2h0m33-1h0m28 4h0m17-1h0m3-4h0m27 1h0m2 1h0m13-2h0m15 4h0m6-5h0m9 2h0m9 4h0m5-2h0m6-4h0m2 2h0m27-1h0m10 5h0m7 0h0m6 1h0m11-4h0m26 10h0m-47-5h0m-22 6h0m-1 1h0m-48-2h0m-2 2h0m-3-7h0m-4 4h0m-60 3h0m-15-3h0m-44 2h0m-170-1h0m-13-3h0m-3-1h0m-9 1h0m-1 5h0m-17 0h0m-17 0h0m-8-6h0m-19 0h0m-10 6h0m-15 0h0m-15 0h0m-2-1h0m-15 1h0m-12 6h0m2-5h0m8 2h0m8 2h0m5 2h0m0-3h0m2 3h0m2-5h0m6 0h0m0 2h0m15 4h0m12-7h0m10 1h0m8 4h0m1-2h0m5 1h0m13-4h0m6 2h0m0 5h0m5 0h0m9-5h0m31 3h0m98 2h0m43 0h0m30-7h0m7 6h0m4-1h0m49-5h0m2 5h0m9-3h0m4 4h0m40 1h0m2-1h0m11-4h0m0-2h0m5 2h0m16 0h0m22 3h0m18-2h0m16 4h0m50-3h0m14-1h0m38 12h0m-14-2h0m0 0h0m-34-2h0m-16 2h0m-12-2h0m-19 2h0m-70 1h0m-3-4h0m-9-2h0m-8 0h0m-6 0h0m-2 5h0m-3-4h0m-2 5h0m-55-2h0m-54-4h0m-15 3h0m-29-1h0m-43 1h0m-44 0h0m-16 2h0m-4-5h0m-38 4h0m-12-3h0m-7 6h0m-3 0h0m-3-4h0m-11-2h0m-4 6h0m-1-1h0m-26-2h0m-6 3h0m-19 0h0m-7-6h0m-5 5h0m-3-6h0m-1 0h0m-16 4h0m-5-4h0m-5 9h0m14 3h0m7-2h0m9 1h0m15 3h0m9-4h0m24-1h0m19 3h0m5 1h0m25 0h0m10-4h0m4 2h0m7-3h0m29 3h0m1 3h0m7-4h0m13-2h0m22 5h0m57-4h0m8 0h0m41 1h0m35 2h0m2-3h0m9 1h0m13 0h0m9 3h0m22 1h0m0-3h0m38 0h0m2 3h0m46-1h0m24 2h0m21-3h0m4-1h0m22-3h0m12 4h0m3 2h0m7-2h0m10 3h0m25-7h0m13 12h0m-13-3h0m-6 6h0m-1-2h0m-28-3h0m-15 1h0m-26 3h0m-4 1h0m-47-3h0m-11 1h0m-18 0h0m-1-5h0m-11 7h0m-2 0h0m-1-6h0m-17-1h0m-9 7h0m-17-3h0m-89 2h0m-44-4h0m-33 1h0m-13-2h0m-1 1h0m-41-2h0m-38 4h0m0 2h0m-3-5h0m-24-1h0m-10 6h0m-1 0h0m-2-3h0m-8-2h0m-6 5h0m-18-6h0m-13 6h0m-31-2h0m-8 1h0m-11 0h0m-17 1h0m10 9h0m3 0h0m1-6h0m2 3h0m13-4h0m13 6h0m15-2h0m21 0h0m40-2h0m2-1h0m43 1h0m59 1h0m102 4h0m37-5h0m28 2h0m8-4h0m26 5h0m3 1h0m4-3h0m20 1h0m11 3h0m6 0h0m8-4h0m11-3h0m19 6h0m29 0h0m6-2h0m6-1h0m9-3h0m5 2h0m9 5h0m2-6h0m31 5h0m7-4h0m5 0h0m13-1h0m1-1h0m2 2h0m15 5h0m2 7h0m-2-4h0m-18 2h0m-10-3h0m-1 0h0m-12 1h0m-12 4h0m0-6h0m-3 1h0m-15 6h0m-16-4h0m-3 0h0m-9-1h0m-7 3h0m-6 1h0m-2-6h0m-22 6h0m-54 0h0m-12 0h0m-7-2h0m-10-4h0m-4 6h0m-5-1h0m-18 0h0m-14 2h0m-6-1h0m-5-1h0m-18-5h0m-5 6h0m-117-2h0m-11 1h0m-7 2h0m-32-5h0m-21 5h0m-24-4h0m-29 0h0m-23 1h0m-5-4h0m-1 7h0m-1-7h0m-20 0h0m-2 2h0m-6-1h0m-2 0h0m-42 6h0m-2-4h0m0 0h0m18 9h0m1-2h0m21-1h0m3 5h0m3-1h0m2-3h0m22 3h0m2 0h0m37-5h0m15 1h0m8 4h0m16 1h0m43-6h0m132 5h0m28 1h0m5-4h0m6 0h0m32 5h0m34-4h0m20-3h0m30 5h0m5-1h0m3-4h0m19 6h0m9 1h0m21-7h0m6 1h0m5 1h0m50 2h0m3 2h0m1-4h0m6 5h0m2-3h0m51 2h0m-5 2h0m-2 7h0m-9-1h0m-15 1h0m-16-7h0m-9 3h0m-11-3h0m-7 2h0m-6-2h0m-19 7h0m-28-7h0m-3 0h0m-5 0h0m-2 5h0m-17-4h0m-1-1h0m-28 6h0m-4-2h0m-17-4h0m-7 0h0m-1 4h0m-86-1h0m-49 1h0m-12-1h0m-12 0h0m-17-2h0m-24 6h0m-21-1h0m-12-1h0m-48 2h0m-8-7h0m-16 3h0m-17-3h0m-5 3h0m-17 3h0m-5-3h0m-20-2h0m-9 3h0m-27 2h0m-1-2h0m-16 1h0m-4 0h0m8 8h0m12 0h0m6 0h0m38 1h0m6-1h0m18 1h0m9-4h0m39 3h0m55-3h0m14 1h0m35 2h0m21 1h0m46-6h0m18 7h0m34-5h0m26-1h0m7 0h0m48 6h0m12 0h0m12-2h0m14-4h0m0 6h0m21-4h0m1-2h0m47 6h0m0-4h0m7 3h0m31 1h0m20-4h0m28 2h0m5 2h0m3 8h0m-22-3h0m-6 3h0m-4-5h0m-42-2h0m-19 7h0m-1-4h0m-8 4h0m-6-7h0m-7 7h0m-21-2h0m-6 0h0m-110-1h0m-121-3h0m-7 2h0m-43 2h0m-72 2h0m-22 0h0m-50-7h0m-22 2h0m-13 1h0m-9 1h0m0 0h0m-14 3h0m-8 0h0m7 5h0m10-4h0m4 0h0m7 2h0m12-2h0m59 7h0m19-5h0m16 4h0m7-6h0m101 3h0m4 3h0m10-3h0m86-1h0m18 3h0m31-4h0m53 1h0m34 0h0m12 4h0m5-2h0m11-2h0m16-1h0m23 5h0m1-1h0m14-1h0m8 1h0m4-2h0m23-2h0m15 1h0m11 4h0m3-6h0m-16 10h0m0-2h0m-14 3h0m-9 2h0m-27 2h0m-3-2h0m-4-1h0m-17 2h0m-22-2h0m0 0h0m-20 0h0m-34 0h0m-14-2h0m-10-2h0m-10 3h0m-28 3h0m-13-6h0m-79 2h0m-26 1h0m-38 4h0m-56-6h0m-8 2h0m-8-1h0m-57-2h0m-5 6h0m-1 0h0m-7-3h0m-15 0h0m-27 2h0m-1-4h0m-19-1h0m-2 3h0m-14 4h0m-8-1h0m-3-1h0m-53 7h0m57-2h0m33 3h0m25 0h0m3-5h0m1 0h0m31 4h0m4 2h0m4-5h0m2-1h0m7 4h0m19-2h0m70 4h0m32-4h0m18 1h0m50 4h0m27-5h0m25 1h0m26-3h0m12 0h0m28 3h0m31 3h0m1-2h0m13-4h0m6 7h0m43-4h0m23 4h0m6-7h0m26 2h0m6-1h0m25-1h0m11 5h0m-21 9h0m-6-6h0m-8 2h0m-4-1h0m-2 6h0m-4-2h0m-11-2h0m-8 0h0m-9-3h0m-12 6h0m-10-4h0m-9 0h0m-11 3h0m0 1h0m-5 0h0m-43-6h0m-4 7h0m-1 0h0m-8-5h0m-13 4h0m-10-6h0m-11 2h0m-47 0h0m-21 3h0m-7 0h0m-12-4h0m-47 1h0m-51 0h0m-9 4h0m-97-1h0m-5 0h0m-14-1h0m-7-3h0m-7 5h0m-20-5h0m-9 4h0m-6 0h0m-9-5h0m-4 4h0m-9 0h0m-2-1h0m-1 1h0m-8 2h0m0-5h0m-6 5h0m15 6h0m14 0h0m14-1h0m35-2h0m9 4h0m24-5h0m2 5h0m9 0h0m44-4h0m1 5h0m18-4h0m4 3h0m35-2h0m100 4h0m49-2h0m1 0h0m67-5h0m2 7h0m46-5h0m1 3h0m41 1h0m2 0h0m23 0h0m21-5h0m-71 9h0m-9-2h0m-5 5h0m-6-3h0m-19 2h0m-36 3h0m-14-7h0m-37 1h0m-4-1h0m-3 6h0m-81-1h0m-25-1h0m-66 1h0m-55-1h0m-31-4h0m-9 7h0m-3-7h0m-14 2h0m-20 3h0m-10-1h0m-5-2h0m-2 3h0m-16 2h0m-5 0h0m-6-6h0m-10 1h0m0 1h0m17 5h0m1 2h0m11 0h0m5 5h0m3-3h0m29-2h0m3-1h0m7 3h0m3 1h0m8 1h0m1-6h0m73 2h0m3 1h0m10 3h0m25-3h0m50 4h0m64-5h0m31-2h0m27 3h0m17-1h0m21 1h0m17 1h0m4 0h0m30 0h0m28-3h0m5-1h0m-55 12h0m-9 2h0m-12-3h0m-27 1h0m-27-2h0m-14 5h0m-1-7h0m-10 6h0m-7-6h0m-22 3h0m-34 3h0m-45 1h0m-55 0h0m-22-4h0m-41-1h0m-13 5h0m0-6h0m-8 4h0m-32-1h0m-5-1h0m-3-2h0m-30-1h0m-1 0h0m0 6h0m-21-4h0m31 10h0m2 3h0m2-6h0m5 3h0m3 0h0m35 0h0m49 3h0m12-3h0m16 1h0m21-4h0m21 4h0m62-1h0m12-1h0m38 1h0m6 2h0m17-4h0m85-1h0m29 0h0m30-1h0m-15 10h0m-8 0h0m-44 1h0m-1-3h0m-28 5h0m-29 1h0m-11 0h0m-16-4h0m-46 1h0m-6 4h0m-2-7h0m-45 6h0m-21 0h0m-1 0h0m-2-4h0m-4 2h0m-3-1h0m-12-2h0m-66 1h0m-19-1h0m-5 4h0m-8-4h0m-18-1h0m-19 0h0m-2 5h0m-12-2h0m16 5h0m19 0h0m13 1h0m50 0h0m6 3h0m3 3h0m6-6h0m13 4h0m40-4h0m29 2h0m6 0h0m1-1h0m61 4h0m4-2h0m19-4h0m9 1h0m4 3h0m13 2h0m7 1h0m10-1h0m4-1h0m1-3h0m76 8h0m-25-2h0m-20 5h0m-25-3h0m-3 2h0m-34-4h0m-24 1h0m-46 4h0m-3 0h0m-14-5h0m-25 1h0m-1-1h0m-23 2h0m-55-2h0m-37 1h0m-30 0h0m-16 2h0m-15 0h0m-5 0h0m18 7h0m81 2h0m11-3h0m32 5h0m0-2h0m0 3h0m34-4h0m11 2h0m10-2h0m1-1h0m54 5h0m12-7h0m17 7h0m18-6h0m26 3h0m4-4h0m25 3h0m5 2h0m31 8h0m-9-1h0m-4-1h0m-10 2h0m-8-5h0m-14 3h0m-37-2h0m-84 0h0m-13 4h0m-8-3h0m-1-2h0m-45 3h0m-13 1h0m-23-4h0m0 7h0m-22-3h0m-27-2h0m-3-2h0m-9 3h0m-25 2h0m-21 4h0m1 0h0m63 1h0m49 5h0m64-4h0m11-2h0m19 5h0m3-5h0m18 5h0m13-2h0m4 1h0m51-1h0m29 3h0m25-2h0m10-5h0m11 3h0m-5 7h0m-22 4h0m-5-1h0m-17-5h0m-167 1h0m-46 2h0m-1 0h0m-9 0h0m-43 0h0m-2-2h0m-17 1h0m-26 5h0m-3 0h0m-7 5h0m12-4h0m3 4h0m22-1h0m1-1h0m23 1h0m13 0h0m104-2h0m18 5h0m9-2h0m16 0h0m44-3h0m1 0h0m9-1h0m7 7h0m48-6h0m6 0h0m2-1h0m19 3h0m-11 8h0m-27-1h0m-66 0h0m-6-2h0m-152 1h0m-29 6h0m-1-2h0m-14-1h0m-3-2h0m-7 1h0m-2 4h0m-23-3h0m-16-3h0m-5 5h0m-7 6h0m36 0h0m6 0h0m20-3h0m1 6h0m14-4h0m6 4h0m4 0h0m13-2h0m6-5h0m4 5h0m22 2h0m16-6h0m33 3h0m1 0h0m8 3h0m36-7h0m5 7h0m7-4h0m20 1h0m20-3h0m27 6h0m53-1h0m-1 6h0m-9-3h0m-24 6h0m-71-3h0m-22 2h0m-15 0h0m-18-6h0m-10 5h0m-2-4h0m-10 6h0m-49-6h0m-6 3h0m-13 0h0m-3-3h0m-36-1h0m-6 0h0m-5 4h0m-22 3h0m-1-7h0m-9 6h0m-1 1h0m-24-7h0m15 10h0m8 2h0m8 0h0m6-4h0m11 6h0m3-1h0m8 1h0m22 1h0m15-1h0m13 0h0m12-4h0m15-1h0m39 1h0m0 4h0m5 0h0m9-5h0m5 5h0m10-3h0m3-1h0m11 1h0m11-3h0m3 3h0m11 3h0m5 0h0m22 1h0m4-3h0m6 1h0m53 0h0m13 0h0m10-1h0m-18 10h0m-17-1h0m0-3h0m-7 1h0m-37 3h0m-4-3h0m-47-3h0m-3 3h0m-67 0h0m-20 0h0m-41-1h0m-3 2h0m-21-1h0m-49-3h0m-3 5h0m-13-3h0m-5 4h0m39 2h0m21 3h0m47-2h0m9 2h0m4 2h0m11 1h0m97 1h0m20-5h0m0-1h0m25-1h0m14 3h0m2 0h0m15 2h0m-6 4h0m-9 4h0m-16-1h0m-44-4h0m-27 5h0m-6-1h0m-32 0h0m-3-4h0m-68 5h0m-5-5h0m-74 6h0m-5 2h0m22 1h0m39 5h0m26-4h0m16 3h0m17-2h0m1 4h0m17-1h0m80 0h0m36-2h0m36 2h0m8 7h0m-26-4h0m-30 4h0m-11 1h0m0-6h0m-9 1h0m-21 0h0m-42 4h0m-31-3h0m-3-2h0m-14 3h0m-7 4h0m-38-2h0m-5-5h0m-39 4h0m-1 0h0m-8 10h0m1 1h0m59-1h0m4-3h0m78 0h0m33 3h0m13-6h0m23 2h0m1 5h0m18-2h0m9 2h0m16-4h0m7 3h0m-10 5h0m-8-1h0m-11 1h0m-25 2h0m-15 2h0m-20-4h0m-7 0h0m-31 2h0m-3 2h0m-31-1h0m-15-2h0m-2-2h0m-40 5h0m-9 0h0m-20-1h0m14 5h0m5-1h0m51-2h0m85 7h0m5-4h0m2-3h0m13 2h0m34-1h0m-13 7h0m-26 0h0m-23 7h0m-16-7h0m-35 1h0m-1-1h0m-1 7h0m-37-4h0m-1 0h0m-8-1h0m-3-2h0m-6 4h0m32 11h0m3-4h0m32-1h0m12-1h0m13 4h0m7 2h0m18-1h0m1 0h0m3-5h0m-5 11h0m-11-1h0m-18 1h0m-1-1h0m-2-3h0m-5 7h0m-20-1h0m-14 3h0m69 1h0m-5 9h0m-34 0h0m-2-1h0m-16-2h0m-4 3h0m31 9h0m1 3h0m0 1h0"/><path transform="scale(.5)" stroke="#7CAE00" stroke-width="4.6" stroke-linecap="round" d="M1334 880h0m-2 8h0m7 22h0m-8 0h0m4 10h0m-4 4h0m-120 10h0m-10 15h0m3 2h0m108-6h0m3 6h0m16-1h0m1 0h0m-132 15h0m4-5h0m1 7h0m102-2h0m5 1h0m175 26h0m60 15h0m-10-1h0m-50 0h0m-60 8h0m99-2h0m25-3h0m29 6h0m55-7h0m7 4h0m-14 10h0m-145 1h0m-183-2h0m-14 0h0m-49 3h0m272 2h0m153-1h0m-133 7h0m-307 6h0m82 2h0m199 2h0m59 4h0m17-4h0m44 5h0m36 0h0m-129 2h0m-41 1h0m-16 4h0m-101-2h0m-130 0h0m-22 0h0m2 10h0m197-5h0m130 3h0m70-2h0m210 11h0m-46 2h0m-76-1h0m-33 0h0m-96-3h0m-38-2h0m-75 3h0m-50 0h0m-106 4h0m243 4h0m228 11h0m-27-2h0m-191-3h0m-81 0h0m35 9h0m79-3h0m238 4h0m-73 11h0m-53-1h0m-55-2h0m-78 2h0m-105-2h0m-41-2h0m-112-2h0m37 10h0m74-2h0m246 2h0m200 3h0m-24 9h0m-234-6h0m-12 2h0m-25 3h0m-160-5h0m-10 6h0m24 6h0m248 2h0m180-2h0m0 9h0m-25-5h0m-4 0h0m-47 4h0m-101-3h0m-35 4h0m-114-2h0m-159 1h0m-48-3h0m-38 6h0m-31-7h0m-1 3h0m120 6h0m34-1h0m82 1h0m93 0h0m10 4h0m146-2h0m47 0h0m48 3h0m-133 4h0m-183 4h0m-199 6h0m494-3h0m4 2h0m12 12h0m-119-2h0m-66-1h0m-101-4h0m-128 7h0m-11-5h0m-102 11h0m110 0h0m35-2h0m4 3h0m109-4h0m73 5h0m5 0h0m18-1h0m90 8h0m-37-6h0m-296 1h0m-75 6h0m-15 0h0m-32-5h0m188 12h0m3-1h0m46-1h0m105 1h0m40 2h0m101-2h0m-249 5h0m-141 7h0m45 0h0m26 5h0m5 1h0m35-7h0m89 0h0m28 1h0m48 5h0m25 3h0m-160 0h0m-63 2h0m-70 7h0m103 3h0m44 1h0m11-6h0m3 1h0m119 13h0m-83-1h0m-14-2h0m-28 0h0m-94 3h0m187 3h0m-14 8h0m-93-1h0m-111 7h0m-10-6h0m-45 8h0m176 6h0m-23 13h0m83 6h0m-120 0h0m-21 2h0m-148 10h0m127-2h0m50 1h0m110-2h0m64 10h0m-26-3h0m-56 2h0m-83 0h0m-24-1h0m-127 10h0m231-3h0m7 4h0m32 1h0m-91 6h0m-39 0h0m-61 4h0m20 2h0m152 1h0m26 8h0m-191 0h0m-86 1h0m214 12h0m-40 3h0m-24-3h0m-32 3h0m-43 3h0m-29 0h0m-61-3h0m49 10h0m64-1h0m34 9h0m-54-6h0m-12 0h0m-7 2h0m-22 5h0m-10 1h0m81 25h0m38 11h0m0 7h0m-34-1h0m10 15h0"/><path d="M581.5 41.4V345.8H964.5" stroke="#7b7b7b" stroke-width="1.6" fill="none"/><path d="M578.5 118.2L581.5 118.2" stroke="#333" stroke-width="1.1" fill="none" /><text x="576.5" y="122.1" font-size="11" text-anchor="end" fill="#333">3</text><path d="M578.5 198.5L581.5 198.5" stroke="#333" stroke-width="1.1" fill="none" /><text x="576.5" y="202.4" font-size="11" text-anchor="end" fill="#333">0</text><path d="M578.5 278.5L581.5 278.5" stroke="#333" stroke-width="1.1" fill="none" /><text x="576.5" y="282.4" font-size="11" text-anchor="end" fill="#333">-3</text><path d="M583 345.8L583 348.8" stroke="#333" stroke-width="1.1" fill="none" /><text x="583" y="359.1" font-size="11" text-anchor="middle" fill="#333">-5.0</text><path d="M668.5 345.8L668.5 348.8" stroke="#333" stroke-width="1.1" fill="none" /><text x="668.5" y="359.1" font-size="11" text-anchor="middle" fill="#333">-2.5</text><path d="M754 345.8L754 348.8" stroke="#333" stroke-width="1.1" fill="none" /><text x="754" y="359.1" font-size="11" text-anchor="middle" fill="#333">0.0</text><path d="M840 345.8L840 348.8" stroke="#333" stroke-width="1.1" fill="none" /><text x="840" y="359.1" font-size="11" text-anchor="middle" fill="#333">2.5</text><path d="M926.5 345.8L926.5 348.8" stroke="#333" stroke-width="1.1" fill="none" /><text x="926.5" y="359.1" font-size="11" text-anchor="middle" fill="#333">5.0</text><text x="772.5" y="372.6" font-size="12" text-anchor="middle" fill="#222">UMAP_1</text><text font-size="12" fill="#222" text-anchor="middle" transform="translate(561 194) rotate(-90)">UMAP_2</text><path d="M583.3 426.8V725.9H958" stroke="#7b7b7b" stroke-width="1.6" fill="none"/><path d="M580.3 502.6L583.3 502.6" stroke="#333" stroke-width="1.1" fill="none" /><text x="578.3" y="506.5" font-size="11" text-anchor="end" fill="#333">3</text><path d="M580.3 580.5L583.3 580.5" stroke="#333" stroke-width="1.1" fill="none" /><text x="578.3" y="584.4" font-size="11" text-anchor="end" fill="#333">0</text><path d="M580.3 658.8L583.3 658.8" stroke="#333" stroke-width="1.1" fill="none" /><text x="578.3" y="662.7" font-size="11" text-anchor="end" fill="#333">-3</text><path d="M584 725.9L584 728.9" stroke="#333" stroke-width="1.1" fill="none" /><text x="584" y="739.2" font-size="11" text-anchor="middle" fill="#333">-5.0</text><path d="M669 725.9L669 728.9" stroke="#333" stroke-width="1.1" fill="none" /><text x="669" y="739.2" font-size="11" text-anchor="middle" fill="#333">-2.5</text><path d="M754 725.9L754 728.9" stroke="#333" stroke-width="1.1" fill="none" /><text x="754" y="739.2" font-size="11" text-anchor="middle" fill="#333">0.0</text><path d="M839 725.9L839 728.9" stroke="#333" stroke-width="1.1" fill="none" /><text x="839" y="739.2" font-size="11" text-anchor="middle" fill="#333">2.5</text><path d="M923 725.9L923 728.9" stroke="#333" stroke-width="1.1" fill="none" /><text x="923" y="739.2" font-size="11" text-anchor="middle" fill="#333">5.0</text><text x="770.7" y="752.3" font-size="12" text-anchor="middle" fill="#222">UMAP_1</text><text font-size="12" fill="#222" text-anchor="middle" transform="translate(561.5 577) rotate(-90)">UMAP_2</text><text x="728" y="188" font-size="11" text-anchor="middle" fill="#222">0</text><text x="735.5" y="296.5" font-size="11" text-anchor="middle" fill="#222">1</text><text x="889" y="188" font-size="11" text-anchor="middle" fill="#222">2</text><text x="660.5" y="82.5" font-size="11" text-anchor="middle" fill="#222">3</text><text x="595.5" y="99" font-size="11" text-anchor="middle" fill="#222">4</text><text x="963.3" y="77.7" font-size="16" font-weight="bold" fill="#111">Group</text><circle cx="981.3" cy="107.2" r="16.9" fill="#F8766D" stroke="#000" stroke-width="2.9"/><text x="1011" y="112.7" font-size="15.5" fill="#111">0</text><circle cx="981.3" cy="152.9" r="16.9" fill="#A3A000" stroke="#000" stroke-width="2.9"/><text x="1011" y="158.4" font-size="15.5" fill="#111">1</text><circle cx="981.3" cy="198.7" r="16.9" fill="#00BF7D" stroke="#000" stroke-width="2.9"/><text x="1011" y="204.2" font-size="15.5" fill="#111">2</text><circle cx="981.3" cy="244.4" r="16.9" fill="#00B0F6" stroke="#000" stroke-width="2.9"/><text x="1011" y="249.9" font-size="15.5" fill="#111">3</text><circle cx="981.3" cy="290.2" r="16.9" fill="#E76BF3" stroke="#000" stroke-width="2.9"/><text x="1011" y="295.7" font-size="15.5" fill="#111">4</text><circle cx="993.2" cy="456.3" r="16.6" fill="#F8776F" stroke="#000" stroke-width="2.9"/><text x="992.5" y="493.8" font-size="15.8" text-anchor="middle" fill="#111">Patient 1</text><circle cx="993.2" cy="528.5" r="16.6" fill="#A3C44A" stroke="#000" stroke-width="2.9"/><text x="992.5" y="566.2" font-size="15.8" text-anchor="middle" fill="#111">Patient 2</text><circle cx="993.2" cy="600.8" r="16.6" fill="#22C6CB" stroke="#000" stroke-width="2.9"/><text x="992.5" y="638.6" font-size="15.8" text-anchor="middle" fill="#111">Patient 3</text><circle cx="993.2" cy="673" r="16.6" fill="#DCB4FC" stroke="#000" stroke-width="2.9"/><text x="992.5" y="711" font-size="15.8" text-anchor="middle" fill="#111">Patient 4</text><text x="5.3" y="797.8" font-size="23.5" font-weight="bold">E</text><text x="43.7" y="796.5" font-size="16.3" fill="#111" textLength="760.6" lengthAdjust="spacingAndGlyphs">Gene expression of Epithelial cells (Colors represent epithelial subgroups, colors analogous to figure 6D)</text><text x="52.4" y="827.4" font-size="16.3" font-weight="bold" fill="#F8766D">0: Regular</text><text x="52.4" y="847.2" font-size="16.3" font-weight="bold" fill="#F8766D">epithelial</text><rect x="43.7" y="853.5" width="280" height="5" fill="#F8766D"/><text x="334" y="827.4" font-size="16.3" font-weight="bold" fill="#A3A500">1: Interferon-γ</text><text x="334" y="847.2" font-size="16.3" font-weight="bold" fill="#A3A500">epithelial</text><rect x="326.6" y="853.5" width="279.4" height="5" fill="#A3A500"/><text x="615.8" y="827.4" font-size="16.3" font-weight="bold" fill="#00BF7D">2: Highly proliferative</text><text x="615.8" y="847.2" font-size="16.3" font-weight="bold" fill="#00BF7D">epithelial</text><rect x="608.3" y="853.5" width="280.3" height="5" fill="#00BF7D"/><text x="875.3" y="827.4" font-size="16.3" font-weight="bold" fill="#00B0F6">3: RGS1</text><text x="875.3" y="847.2" font-size="16.3" font-weight="bold" fill="#00B0F6">epithelial</text><rect x="891.5" y="853.5" width="52.4" height="5" fill="#00B0F6"/><text x="951.7" y="827.4" font-size="16.3" font-weight="bold" fill="#E76BF3">4: EMT</text><text x="951.7" y="847.2" font-size="16.3" font-weight="bold" fill="#E76BF3">epithelial</text><rect x="946.8" y="853.5" width="25.7" height="5" fill="#E76BF3"/><path stroke="#f3e4ea" stroke-width="5.65" fill="none" d="M44 871.1h930"/><path stroke="#97a2ec" stroke-width="5.65" fill="none" d="M44 876.7h282M326 882.3h281M609 887.9h280M891 893.5h54M945 899.1h29M84 921.5h241M475 927.1h132M770 932.6h119M891 938.2h53M946 943.8h28M44 949.4h40m243 0h148m134 0h161M44 966.2h281M475 971.8h132M327 977.4h148m134 0h280M44 983h46m801 0h53M946 988.6h28M44 999.8h46m237 0h148m134 0h161M475 1016.6h132M609 1022.2h280M891 1027.8h53M946 1033.4h28M475 1050.1h132M44 1055.7h41M327 1061.3h148M900 1072.5h44M946 1078.1h28M85 1100.5h240M85 1117.3h240M946 1122.9h28M44 1218h563m2 0h280m2 0h83M44 1234.8h563m2 0h280m2 0h83M44 1251.6h563m2 0h280m2 0h83"/><path stroke="#92a9ea" stroke-width="5.65" fill="none" d="M326 876.7h281m284 0h54M609 882.3h280m56 0h29M891 887.9h54M945 893.5h29M44 904.7h282M44 915.9h281m445 0h119M475 921.5h132m284 0h53M770 927.1h119m57 0h28M891 932.6h53M44 938.2h40m862 0h28M84 949.4h241M44 955h40m243 0h280m2 0h161M90 960.6h235m2 0h148m134 0h280M475 966.2h132m284 0h53M44 971.8h46m680 0h119m57 0h28M891 977.4h53M327 983h148m134 0h161m176 0h28M44 988.6h46M90 994.2h235M475 999.8h132M44 1005.4h281m284 0h280M475 1011h132m284 0h53M770 1016.6h119m57 0h28M891 1022.2h53M609 1027.8h161m176 0h28M44 1039h41m390 0h132M327 1044.6h148M44 1050.1h281m284 0h280M327 1055.7h280m284 0h53M609 1061.3h161m176 0h28M900 1066.9h44M85 1072.5h240m150 0h132m339 0h28M946 1106.1h28M946 1117.3h28M85 1122.9h240M44 1223.6h563m2 0h280m2 0h83M44 1240.4h563m2 0h280m2 0h83M44 1341.1h845"/><path stroke="#93d2ea" stroke-width="5.65" fill="none" d="M607 876.7h2m280 0h2M607 893.5h2m280 0h2M44 910.3h930M325 927.1h2m280 0h2m280 0h2m53 0h2M325 943.8h2m280 0h2m280 0h2m53 0h2M325 960.6h2m280 0h2m280 0h2m53 0h2M325 977.4h2m280 0h2m280 0h2m53 0h2M325 994.2h2m280 0h2m280 0h2m53 0h2M325 1011h150m132 0h2m280 0h2m53 0h2M44 1027.8h283m280 0h2m280 0h2m53 0h2M325 1044.6h2m280 0h2m280 0h2m53 0h2M325 1061.3h2m280 0h2m280 0h2m53 0h2M44 1078.1h856m44 0h2M44 1094.9h902M44 1111.7h902M44 1128.5h902M44 1145.3h930M44 1162.1h930M44 1178.8h930M607 1195.6h2m280 0h2M44 1212.4h930M44 1229.2h930M607 1246h2m280 0h2M44 1346.7h281m2 0h280m2 0h280"/><path stroke="#8dcfe9" stroke-width="5.65" fill="none" d="M609 876.7h280M891 882.3h54M607 887.9h2m280 0h2m54 0h29M607 904.7h2m280 0h2M475 915.9h132M325 921.5h2m280 0h2m161 0h121m53 0h2M891 927.1h53M946 932.6h28M325 938.2h2m280 0h2m280 0h2m53 0h2M84 955h243m280 0h2m280 0h2m53 0h2M475 960.6h132M770 966.2h119M325 971.8h2m280 0h2m280 0h57M946 977.4h28M325 988.6h2m280 0h2m280 0h2m53 0h2M90 999.8h235M325 1005.4h284m280 0h2m53 0h2M770 1011h119M891 1016.6h53M44 1022.2h431m132 0h2m280 0h2m53 0h30M325 1039h2m280 0h2m280 0h2m53 0h2M44 1044.6h41M327 1050.1h148M325 1055.7h2m280 0h163m119 0h2m53 0h2M891 1061.3h53M946 1066.9h28M44 1072.5h41m240 0h150m132 0h163m119 0h11m44 0h2M44 1089.3h902M44 1106.1h902M946 1111.7h28M44 1122.9h41m240 0h621M44 1139.7h902M44 1156.5h930M44 1173.2h930M44 1190h930M44 1206.8h930M607 1223.6h2m280 0h2M607 1240.4h2m280 0h2M44 1357.9h281m2 0h280m2 0h280M44 1441.8h845"/><path stroke="#9c8cef" stroke-width="5.65" fill="none" d="M945 876.7h29M44 899.1h282M326 904.7h281M891 915.9h53M44 921.5h40m243 0h148m134 0h161m176 0h28M327 938.2h148m134 0h161M84 943.8h241M475 949.4h132M770 955h119M891 960.6h53M327 966.2h148m134 0h161m176 0h28M90 988.6h235m2 0h148m134 0h161M475 994.2h132M770 999.8h119M891 1005.4h53M609 1011h161m176 0h28M609 1033.4h161M327 1039h148M609 1044.6h161M891 1050.1h53M85 1055.7h240m445 0h119m57 0h28M770 1072.5h119M946 1100.5h28"/><path stroke="#8fb4e9" stroke-width="5.65" fill="none" d="M44 882.3h282M326 887.9h281M609 893.5h280M891 899.1h54M945 904.7h29M44 927.1h281M475 932.6h132M770 938.2h119M44 943.8h40m243 0h148m134 0h161m121 0h53M946 949.4h28M44 960.6h46M90 971.8h235m2 0h148m134 0h161M44 977.4h46m385 0h132M770 983h119M891 988.6h53M44 994.2h46m237 0h148m134 0h161m176 0h28M44 1011h281M609 1016.6h161M475 1022.2h132M770 1027.8h119M891 1033.4h53M85 1039h240m445 0h119m57 0h28M475 1044.6h132M44 1061.3h281m150 0h132m163 0h119M900 1078.1h44M85 1083.7h240m150 0h132m339 0h28M946 1128.5h28M44 1195.6h563m2 0h280m2 0h83M44 1246h563m2 0h280m2 0h83"/><path stroke="#88cce8" stroke-width="5.65" fill="none" d="M607 882.3h2m280 0h2M607 899.1h2m280 0h2M325 915.9h2m280 0h2m280 0h2m53 0h2M325 932.6h2m280 0h2m280 0h2m53 0h2M325 949.4h2m280 0h2m280 0h2m53 0h2M325 966.2h2m280 0h2m280 0h2m53 0h2M325 983h2m280 0h2m280 0h2m53 0h2M325 999.8h2m280 0h2m280 0h2m53 0h2M44 1016.6h431m132 0h2m280 0h2m53 0h2M44 1033.4h283m280 0h2m280 0h2m53 0h2M325 1050.1h2m280 0h2m280 0h2m53 0h2M44 1066.9h41m240 0h150m132 0h163m119 0h11m44 0h2M44 1083.7h41m240 0h150m132 0h163m119 0h11m44 0h2M44 1100.5h41m240 0h621M44 1117.3h41m240 0h621M44 1134.1h902M44 1150.9h930M44 1167.7h930M44 1184.4h930M44 1201.2h930M607 1218h2m280 0h2M607 1234.8h2m280 0h2M607 1251.6h2m280 0h2M44 1352.3h281m2 0h280m2 0h280M44 1436.2h845"/><path stroke="#9a90f0" stroke-width="5.65" fill="none" d="M44 887.9h282M326 893.5h281M609 899.1h280M891 904.7h54M327 915.9h148m134 0h161M84 932.6h241m2 0h148m134 0h161M475 938.2h132M770 943.8h119M891 949.4h53M946 955h28M90 977.4h235M475 983h132M770 988.6h119M891 994.2h53M946 999.8h28M327 1027.8h280M770 1033.4h119M891 1039h53M946 1044.6h28M770 1066.9h119M770 1083.7h119m11 0h44M946 1089.3h28M946 1134.1h28"/><path stroke="#a294ee" stroke-width="5.65" fill="none" d="M44 893.5h282M326 899.1h281M609 904.7h280M946 915.9h28M327 927.1h148m134 0h161M44 932.6h40M84 938.2h241M475 943.8h132M770 949.4h119M891 955h53M946 960.6h28M90 983h235M475 988.6h132M770 994.2h119M891 999.8h53M946 1005.4h28M327 1033.4h280M609 1039h161M85 1044.6h240m445 0h119m2 0h53M946 1050.1h28M85 1066.9h240m150 0h132M946 1094.9h28M946 1139.7h28"/><path stroke="#a7d9ee" stroke-width="5.65" fill="none" d="M44 1257.2h930M44 1274h930M44 1290.8h930M44 1307.5h930M44 1324.3h930M889 1341.1h85M325 1357.9h2m280 0h2m280 0h85M44 1374.7h930M44 1391.5h930M44 1408.3h930M44 1425h930M889 1441.8h85M44 1458.6h930"/><path stroke="#b3def1" stroke-width="5.65" fill="none" d="M44 1262.8h930M44 1279.6h930M44 1296.3h930M44 1313.1h930M44 1329.9h930M325 1346.7h2m280 0h2m280 0h85M44 1363.5h930M44 1380.3h930M44 1397.1h930M44 1413.8h930M44 1430.6h930M44 1447.4h930M44 1464.2h930"/><path stroke="#9dd4ec" stroke-width="5.65" fill="none" d="M44 1268.4h930M44 1285.2h930M44 1301.9h930M44 1318.7h930M44 1335.5h930M325 1352.3h2m280 0h2m280 0h85M44 1369.1h930M44 1385.9h930M44 1402.7h930M44 1419.4h930M889 1436.2h85M44 1453h930M44 1469.8h930"/><path stroke="#a8d6f0" stroke-width="5.65" fill="none" d="M44 871.1h4m8 0h2m9 0h2m7 0h2m8 0h2m26 0h3m3 0h2m50 0h2m5 0h3m25 0h1m33 0h2m1 0h1m21 0h2m6 0h1m6 0h3m15 0h2m23 0h2m6 0h3m11 0h3m6 0h1m3 0h6m27 0h2m1 0h3m5 0h2m5 0h2m15 0h3m8 0h2m10 0h2m8 0h4m27 0h3m33 0h3m55 0h2m20 0h2m24 0h1m16 0h1m9 0h2m3 0h2m10 0h1m7 0h3m14 0h3m7 0h1m13 0h5m13 0h3m30 0h1m5 0h2m1 0h2m9 0h3m30 0h1m12 0h1m24 0h2m7 0h2m8 0h2m3 0h1m11 0h1m4 0h2m10 0h3m2 0h2m27 0h3m3 0h6"/><path stroke="#f7eef2" stroke-width="5.65" fill="none" d="M48 871.1h3m9 0h2m11 0h2m9 0h1m17 0h2m2 0h4m12 0h1m7 0h2m27 0h2m23 0h2m23 0h2m1 0h3m22 0h3m23 0h1m4 0h1m6 0h1m10 0h2m4 0h1m12 0h4m2 0h3m15 0h1m11 0h3m1 0h1m22 0h1m13 0h2m3 0h3m65 0h2m9 0h3m8 0h2m15 0h4m3 0h1m4 0h1m23 0h2m4 0h2m5 0h2m16 0h2m6 0h2m18 0h2m8 0h3m1 0h2m14 0h2m13 0h2m11 0h2m91 0h1m31 0h3m37 0h2m2 0h2m16 0h3m36 0h1m21 0h3m8 0h2m5 0h2m3 0h2m8 0h3m8 0h1m1 0h1"/><path stroke="#f8b8a8" stroke-width="5.65" fill="none" d="M53 871.1h1m8 0h5m4 0h2m5 0h2m9 0h3m1 0h4m2 0h2m3 0h2m27 0h3m13 0h1m3 0h1m13 0h2m7 0h3m56 0h2m13 0h4m115 0h1m29 0h4m2 0h2m13 0h2m11 0h3m6 0h3m19 0h2m22 0h3m7 0h3m12 0h3m18 0h1m28 0h3m9 0h5m2 0h1m32 0h1m8 0h1m18 0h3m8 0h3m5 0h3m8 0h1m24 0h3m12 0h2m6 0h5m53 0h3m8 0h2m11 0h1m20 0h2m14 0h2m12 0h1m15 0h3m12 0h2m12 0h5m42 0h1m1 0h4"/><path stroke="#a040f4" stroke-width="5.65" fill="none" d="M55 871.1h1m13 0h1m27 0h2m13 0h2m4 0h2m9 0h1m2 0h1m3 0h2m7 0h1m6 0h1m2 0h1m5 0h2m12 0h1m10 0h3m1 0h2m12 0h2m24 0h4m14 0h2m8 0h3m62 0h1m11 0h2m13 0h3m19 0h3m3 0h3m4 0h2m38 0h1m19 0h3m24 0h2m5 0h3m1 0h2m17 0h1m6 0h2m27 0h2m18 0h3m5 0h3m36 0h2m2 0h2m14 0h4m1 0h3m5 0h3m16 0h2m21 0h2m9 0h2m39 0h3m12 0h3m2 0h5m11 0h2m23 0h2m5 0h3m17 0h3m9 0h2m24 0h4m17 0h1m1 0h4m5 0h2m23 0h2m14 0h2m3 0h1"/><path stroke="#f06a40" stroke-width="5.65" fill="none" d="M59 871.1h1m67 0h2m14 0h2m5 0h2m4 0h2m42 0h3m43 0h2m23 0h2m12 0h1m2 0h3m74 0h2m40 0h2m7 0h2m39 0h1m28 0h1m29 0h3m3 0h2m1 0h2m24 0h3m37 0h3m1 0h2m266 0h1m2 0h2m49 0h1m15 0h2m8 0h2m7 0h2m14 0h3"/><path stroke="#c070f0" stroke-width="5.65" fill="none" d="M146 871.1h3m20 0h2m21 0h4m3 0h1m8 0h1m6 0h2m5 0h2m2 0h1m49 0h3m12 0h1m9 0h2m14 0h2m1 0h2m17 0h2m53 0h1m27 0h3m11 0h2m15 0h2m49 0h2m1 0h2m37 0h3m6 0h2m23 0h2m29 0h3m7 0h1m29 0h1m23 0h2m5 0h1m10 0h3m11 0h2m7 0h5m29 0h2m9 0h2m2 0h1m9 0h2m41 0h2m55 0h2m31 0h1"/><path stroke="#f0300c" stroke-width="5.65" fill="none" d="M48 876.7h2m12 0h4m3 0h1m16 0h1m1 0h3m4 0h3m6 0h1m1 0h1m1 0h1m8 0h1m3 0h1m22 0h3m10 0h3m8 0h1m15 0h2m8 0h1m2 0h1m66 0h1m8 0h2m28 0h1m7 0h1m7 0h3m8 0h2m12 0h3m8 0h1m5 0h4m7 0h1m3 0h2m13 0h2m21 0h2m46 0h1m21 0h1m1 0h1m7 0h3m10 0h2m5 0h3m15 0h1m1 0h2m7 0h2m14 0h1m23 0h2m11 0h1m71 0h1m8 0h2m16 0h2m1 0h2m57 0h2m3 0h2m12 0h1m3 0h3m101 0h2m12 0h1m3 0h3m10 0h1m2 0h2m24 0h1m2 0h2M75 882.3h2m11 0h2m4 0h2m6 0h3m4 0h1m3 0h1m24 0h3m10 0h2m26 0h1m20 0h3m16 0h2m23 0h2m12 0h3m8 0h2m17 0h1m9 0h3m4 0h2m3 0h2m7 0h2m7 0h1m4 0h1m20 0h2m5 0h2m11 0h5m7 0h1m46 0h4m1 0h3m9 0h3m47 0h1m9 0h2m12 0h3m5 0h2m6 0h2m2 0h2m4 0h2m1 0h5m6 0h2m28 0h3m8 0h3m1 0h1m10 0h1m7 0h1m50 0h4m1 0h2m1 0h1m57 0h2m7 0h3m9 0h1m71 0h2m21 0h1m5 0h3m31 0h2m12 0h2m4 0h3M46 887.9h1m6 0h2m1 0h2m46 0h2m16 0h1m1 0h3m7 0h1m4 0h2m7 0h3m25 0h1m34 0h2m32 0h2m7 0h1m40 0h1m4 0h3m21 0h2m3 0h3m2 0h1m15 0h3m5 0h3m6 0h2m10 0h3m13 0h2m15 0h1m13 0h2m4 0h3m3 0h3m9 0h2m2 0h3m4 0h2m6 0h2m31 0h1m26 0h2m9 0h2m8 0h1m16 0h1m1 0h2m34 0h2m5 0h1m6 0h1m7 0h3m10 0h1m7 0h1m4 0h2m4 0h2m6 0h1m1 0h1m4 0h7m13 0h2m4 0h3m12 0h2m11 0h1m2 0h1m4 0h1m12 0h2m5 0h1m25 0h2m37 0h1m6 0h1m10 0h1m57 0h1m12 0h2m6 0h2m13 0h1m8 0h2m27 0h1M68 893.5h2m41 0h1m1 0h3m2 0h4m9 0h2m11 0h3m2 0h2m29 0h1m3 0h1m21 0h1m3 0h2m40 0h2m2 0h3m2 0h2m13 0h2m4 0h3m3 0h3m7 0h3m49 0h3m8 0h2m1 0h1m29 0h1m19 0h2m28 0h3m14 0h4m8 0h2m23 0h2m6 0h3m9 0h2m5 0h2m26 0h1m44 0h4m1 0h5m4 0h2m4 0h1m3 0h2m13 0h1m6 0h2m7 0h1m1 0h1m9 0h3m5 0h2m5 0h2m8 0h2m14 0h2m15 0h2m4 0h3m31 0h2m2 0h3m1 0h3m4 0h2m2 0h4m2 0h4m89 0h3m13 0h2m9 0h2m5 0h1m6 0h5m15 0h1m3 0h4m2 0h1m6 0h1m12 0h2M47 899.1h3m3 0h1m4 0h3m2 0h1m6 0h2m2 0h1m58 0h3m2 0h2m9 0h2m8 0h2m28 0h2m3 0h1m15 0h2m8 0h2m88 0h4m29 0h1m22 0h2m34 0h2m5 0h3m5 0h3m3 0h3m13 0h1m2 0h2m16 0h2m22 0h2m6 0h2m4 0h1m9 0h3m3 0h3m6 0h2m40 0h2m4 0h1m17 0h3m38 0h2m4 0h3m4 0h2m6 0h3m6 0h1m7 0h2m12 0h2m29 0h1m2 0h2m36 0h8m22 0h2m60 0h2m9 0h1m1 0h1m31 0h3m46 0h2m13 0h3m12 0h3M54 904.7h1m21 0h1m3 0h1m4 0h2m10 0h1m4 0h2m5 0h3m15 0h3m13 0h2m4 0h2m21 0h2m5 0h2m8 0h2m28 0h3m9 0h1m31 0h3m14 0h1m16 0h1m3 0h1m13 0h3m22 0h1m2 0h1m21 0h2m9 0h1m9 0h2m20 0h1m12 0h5m16 0h1m1 0h6m7 0h4m3 0h2m20 0h1m12 0h2m11 0h1m6 0h2m6 0h2m13 0h2m2 0h3m9 0h1m2 0h2m3 0h1m28 0h2m8 0h1m13 0h1m3 0h2m14 0h2m31 0h2m2 0h3m2 0h3m19 0h1m13 0h1m5 0h3m14 0h1m4 0h1m1 0h3m1 0h3m6 0h2m4 0h6m9 0h1m9 0h1m31 0h1m37 0h1m8 0h2m21 0h3m4 0h1m33 0h1m9 0h1m7 0h2m1 0h1m1 0h2m1 0h2m7 0h3M254 910.3h3m10 0h2m76 0h1m126 0h1m73 0h1m23 0h1m123 0h1m226 0h3m10 0h2m3 0h1m4 0h1M123 915.9h1m15 0h3m7 0h1m7 0h2m5 0h2m8 0h2m13 0h1m26 0h2m21 0h1m38 0h3m8 0h2m8 0h1m182 0h4m11 0h4m5 0h2m7 0h2m15 0h2m10 0h2m19 0h1m15 0h3m14 0h1m182 0h3m7 0h2m1 0h4m6 0h5m21 0h5m11 0h1m1 0h2m29 0h3m6 0h2m16 0h2m5 0h3m5 0h1m11 0h1m2 0h2m16 0h1m4 0h3M93 921.5h1m11 0h3m13 0h1m11 0h2m9 0h1m3 0h2m7 0h2m9 0h1m3 0h2m7 0h1m50 0h1m7 0h2m15 0h2m4 0h1m11 0h3m7 0h2m3 0h2m28 0h3m186 0h2m6 0h2m55 0h1m22 0h1m7 0h2m173 0h2m4 0h1m1 0h3m3 0h1m4 0h2m7 0h2m3 0h3m20 0h3m6 0h6m3 0h1m12 0h1m2 0h2m26 0h3m5 0h1m3 0h2m4 0h2m14 0h3M84 927.1h1m22 0h2m11 0h2m9 0h3m15 0h3m9 0h2m3 0h1m7 0h1m1 0h3m4 0h2m16 0h3m12 0h2m13 0h2m49 0h1m7 0h3m2 0h2m22 0h3m174 0h5m1 0h2m6 0h1m6 0h1m2 0h2m31 0h2m12 0h2m4 0h1m4 0h1m18 0h3m175 0h1m2 0h2m10 0h2m18 0h2m20 0h3m4 0h2m20 0h1m1 0h1m7 0h1m3 0h1m14 0h2m10 0h2m4 0h2m2 0h3m3 0h2m7 0h2m20 0h3m2 0h1M86 932.6h1m12 0h3m12 0h1m2 0h3m2 0h2m17 0h3m28 0h1m25 0h1m46 0h1m13 0h1m9 0h3m23 0h2m8 0h2m4 0h1m196 0h1m21 0h2m5 0h4m5 0h2m9 0h3m10 0h2m20 0h1m2 0h3m178 0h2m4 0h2m52 0h1m20 0h2m4 0h4m2 0h1m25 0h2m23 0h2m10 0h2m25 0h2m3 0h1M89 938.2h2m17 0h2m4 0h2m11 0h1m22 0h2m10 0h2m13 0h1m10 0h2m5 0h2m1 0h1m32 0h2m49 0h2m6 0h3m198 0h1m14 0h1m18 0h2m23 0h2m43 0h2m8 0h1m188 0h1m7 0h12m9 0h1m6 0h1m15 0h3m5 0h4m13 0h2m28 0h1m7 0h1m1 0h1m4 0h1m56 0h1M83 943.8h3m2 0h2m6 0h2m9 0h2m1 0h2m25 0h4m16 0h1m55 0h1m2 0h1m5 0h1m9 0h2m1 0h2m3 0h3m5 0h2m4 0h3m21 0h2m4 0h2m9 0h1m15 0h2m1 0h1m156 0h2m26 0h1m7 0h5m10 0h2m15 0h2m12 0h2m212 0h1m50 0h1m11 0h5m1 0h3m2 0h1m1 0h4m9 0h1m25 0h2m11 0h2m18 0h2m10 0h3M78 949.4h2m31 0h5m10 0h1m84 0h2m3 0h2m11 0h3m30 0h2m7 0h3m21 0h1m3 0h3m3 0h2m5 0h2m154 0h3m59 0h1m30 0h3m15 0h1m6 0h2m14 0h1m162 0h3m12 0h2m3 0h1m20 0h2m9 0h3m16 0h3m17 0h1m1 0h2m17 0h2m68 0h3m6 0h2m2 0h1m4 0h1M112 955h2m18 0h1m86 0h1m25 0h1m4 0h1m8 0h1m2 0h3m8 0h3m2 0h2m5 0h3m31 0h1m161 0h2m13 0h5m16 0h3m38 0h2m10 0h2m12 0h2m7 0h1m178 0h3m5 0h1m3 0h1m1 0h1m6 0h5m10 0h1m2 0h1m37 0h3m1 0h2m3 0h2m14 0h2m2 0h1m16 0h1m11 0h1m5 0h3m47 0h1M105 960.6h1m173 0h1m11 0h3m26 0h2m149 0h2m6 0h2m17 0h1m16 0h2m20 0h2m10 0h2m1 0h2m16 0h1m7 0h2m1 0h2m5 0h2m204 0h2m6 0h1m14 0h3m3 0h2m2 0h3m14 0h3m26 0h6m12 0h1m22 0h3m4 0h1m3 0h3m26 0h1m7 0h1m5 0h2M82 966.2h2m28 0h2m97 0h2m23 0h3m37 0h1m1 0h2m23 0h2m6 0h1m154 0h3m7 0h1m29 0h2m6 0h1m8 0h3m18 0h2m13 0h3m8 0h1m1 0h3m16 0h2m168 0h3m3 0h2m15 0h3m4 0h2m24 0h2m20 0h4m11 0h2m12 0h3m1 0h4m12 0h1m29 0h2m8 0h1m5 0h1m12 0h2M92 971.8h1m6 0h3m109 0h1m4 0h2m10 0h2m10 0h3m9 0h2m24 0h3m2 0h3m9 0h2m3 0h2m17 0h2m1 0h1m1 0h2m152 0h2m4 0h1m9 0h1m8 0h1m1 0h2m16 0h2m5 0h1m8 0h1m5 0h2m4 0h2m3 0h2m10 0h1m1 0h1m8 0h1m15 0h2m175 0h2m5 0h2m29 0h1m10 0h2m1 0h2m2 0h1m30 0h2m10 0h1m20 0h3m12 0h1m2 0h2m1 0h3m5 0h4m1 0h2m36 0h1M116 977.4h2m101 0h4m4 0h4m3 0h1m13 0h2m4 0h6m36 0h2m22 0h2m3 0h1m151 0h1m8 0h1m4 0h2m5 0h3m27 0h1m7 0h1m6 0h1m3 0h1m4 0h3m1 0h3m13 0h1m19 0h1m4 0h3m7 0h1m164 0h1m13 0h9m6 0h1m11 0h4m11 0h1m16 0h3m23 0h4m13 0h2m40 0h1m31 0h1m3 0h2M226 983h1m13 0h1m32 0h1m7 0h3m21 0h3m183 0h1m3 0h1m16 0h2m10 0h4m63 0h1m2 0h2m2 0h3m177 0h1m1 0h1m32 0h1m36 0h1m16 0h2m4 0h3m5 0h2m8 0h1m8 0h1m5 0h2m5 0h1m10 0h2m20 0h1m10 0h2M103 988.6h1m8 0h1m14 0h1m111 0h2m2 0h2m8 0h5m29 0h2m11 0h1m24 0h1m152 0h1m7 0h1m2 0h2m22 0h1m4 0h3m8 0h1m13 0h1m51 0h2m208 0h1m11 0h2m10 0h2m3 0h2m10 0h1m6 0h2m11 0h1m28 0h2m14 0h1m13 0h2m27 0h2M102 994.2h1m22 0h1m85 0h2m15 0h2m23 0h2m3 0h1m4 0h2m22 0h3m199 0h5m3 0h1m17 0h2m8 0h3m11 0h2m2 0h1m18 0h2m3 0h2m37 0h2m167 0h3m8 0h3m8 0h3m10 0h3m7 0h2m23 0h2m26 0h7m31 0h2m8 0h2m4 0h3m1 0h2m9 0h3m10 0h3M104 999.8h2m2 0h2m7 0h2m117 0h1m25 0h2m18 0h1m199 0h1m3 0h3m2 0h2m26 0h2m19 0h2m6 0h3m5 0h3m5 0h6m15 0h2m188 0h1m14 0h2m9 0h2m12 0h2m17 0h3m5 0h3m39 0h5m6 0h1m8 0h1m15 0h1M122 1005.4h1m110 0h1m14 0h2m2 0h1m23 0h2m11 0h2m186 0h2m5 0h2m5 0h2m52 0h3m1 0h1m3 0h4m7 0h1m18 0h1m11 0h3m169 0h2m22 0h2m9 0h2m7 0h2m1 0h2m1 0h2m13 0h2m4 0h1m1 0h3m31 0h2m5 0h2m46 0h2M142 1011h1m12 0h3m26 0h4m52 0h2m15 0h1m11 0h1m4 0h2m11 0h1m2 0h2m7 0h3m16 0h2m64 0h1m29 0h2m4 0h2m64 0h3m1 0h2m6 0h1m7 0h2m32 0h2m79 0h1m1 0h3m5 0h2m68 0h1m53 0h2m21 0h3m5 0h1m9 0h1m4 0h1m3 0h1m15 0h1m32 0h2m2 0h1m52 0h3m3 0h2m2 0h3m4 0h3m11 0h2m2 0h1m10 0h2m2 0h2M86 1016.6h2m123 0h2m16 0h2m19 0h1m25 0h2m9 0h1m7 0h2m3 0h2m9 0h1m38 0h1m39 0h3m1 0h2m98 0h2m43 0h1m75 0h1m3 0h2m3 0h1m21 0h1m5 0h2m27 0h1m41 0h2m12 0h2m10 0h3m30 0h1m1 0h2m9 0h1m2 0h2m13 0h3m32 0h1m10 0h1m1 0h2m4 0h1m13 0h2m12 0h2m1 0h5m8 0h2m3 0h1m15 0h2m4 0h2m33 0h1M87 1022.2h2m26 0h2m213 0h1m124 0h3m4 0h1m38 0h2m34 0h2m14 0h2m47 0h2m26 0h3m11 0h2m33 0h2m2 0h3m10 0h2m59 0h1m5 0h1m47 0h2m10 0h2m31 0h2m8 0h3m1 0h3m1 0h1m15 0h1m11 0h1m31 0h3m25 0h1M45 1027.8h3m15 0h3m29 0h1m9 0h2m74 0h1m84 0h2m26 0h1m191 0h1m11 0h2m28 0h3m17 0h2m9 0h2m7 0h1m21 0h1m17 0h1m10 0h1m4 0h2m24 0h1m99 0h1m18 0h1m27 0h2m20 0h1m23 0h3m44 0h1m17 0h1m46 0h2m1 0h2M125 1033.4h1m33 0h2m31 0h1m74 0h1m243 0h1m14 0h2m6 0h2m3 0h3m1 0h2m25 0h2m6 0h3m14 0h2m13 0h1m18 0h3m23 0h1m24 0h1m38 0h3m1 0h2m25 0h1m1 0h2m11 0h1m12 0h2m61 0h2m52 0h2m5 0h2m9 0h1m20 0h3M73 1039h3m28 0h1m30 0h2m1 0h5m12 0h2m13 0h1m1 0h2m1 0h2m12 0h3m1 0h1m37 0h3m41 0h1m18 0h2m3 0h2m179 0h2m3 0h1m21 0h2m23 0h1m4 0h1m21 0h1m35 0h1m16 0h3m9 0h1m10 0h2m1 0h3m5 0h2m8 0h1m11 0h1m27 0h2m5 0h3m5 0h2m6 0h2m5 0h3m8 0h1m9 0h2m35 0h3m11 0h2m17 0h1m16 0h2m10 0h2m20 0h4m19 0h2m23 0h2m40 0h3M68 1044.6h1m15 0h1m35 0h1m8 0h1m2 0h2m1 0h2m71 0h2m13 0h2m1 0h2m2 0h2m17 0h1m2 0h1m4 0h2m14 0h1m204 0h2m11 0h1m7 0h2m6 0h2m13 0h1m5 0h2m3 0h3m10 0h1m50 0h1m32 0h2m6 0h2m8 0h3m47 0h1m29 0h1m8 0h1m66 0h3m16 0h1m49 0h1m1 0h2m24 0h2m19 0h2m28 0h1m5 0h2M60 1050.1h3m2 0h2m8 0h1m5 0h1m30 0h3m17 0h1m9 0h2m9 0h2m10 0h3m2 0h1m1 0h1m29 0h3m16 0h3m1 0h1m49 0h4m10 0h3m20 0h2m2 0h1m2 0h2m163 0h2m26 0h1m4 0h2m20 0h2m2 0h3m7 0h1m14 0h3m18 0h3m49 0h2m25 0h1m8 0h2m5 0h7m5 0h1m13 0h1m6 0h1m11 0h1m9 0h1m8 0h4m17 0h1m72 0h3m31 0h2m21 0h1m10 0h4m44 0h2M50 1055.7h2m6 0h3m13 0h2m7 0h3m57 0h2m4 0h2m17 0h2m13 0h3m20 0h1m34 0h2m10 0h3m11 0h1m33 0h3m2 0h2m164 0h5m5 0h2m14 0h3m85 0h3m6 0h2m6 0h3m9 0h1m4 0h2m2 0h2m6 0h1m7 0h2m6 0h1m2 0h3m39 0h2m19 0h2m92 0h1m86 0h1m20 0h2m7 0h3M52 1061.3h2m21 0h2m31 0h3m9 0h3m2 0h1m16 0h1m24 0h1m54 0h3m17 0h1m14 0h2m227 0h2m2 0h1m91 0h3m9 0h3m21 0h2m50 0h3m10 0h1m17 0h3m10 0h3m10 0h1m51 0h3m36 0h2m1 0h1m48 0h2m21 0h3m3 0h3m5 0h1m14 0h2m36 0h2m6 0h2m3 0h1M54 1066.9h2m3 0h1m7 0h2m4 0h2m104 0h4m93 0h3m11 0h1m182 0h3m50 0h2m29 0h3m11 0h1m47 0h1m20 0h2m20 0h2m12 0h2m16 0h2m20 0h2m4 0h2m5 0h1m160 0h3m2 0h3m3 0h4m6 0h3m4 0h1m6 0h1m11 0h1m17 0h2m2 0h2m3 0h2M48 1072.5h1m10 0h2m1 0h3m3 0h3m3 0h2m9 0h3m7 0h2m67 0h3m44 0h1m324 0h3m2 0h1m76 0h1m24 0h1m12 0h1m35 0h1m12 0h2m10 0h1m10 0h1m2 0h1m8 0h1m6 0h1m13 0h1m3 0h2m166 0h1m2 0h2m11 0h2M53 1078.1h4m14 0h3m11 0h1m201 0h2m25 0h1m219 0h1m6 0h1m4 0h2m15 0h3m4 0h1m22 0h1m65 0h2m6 0h2m2 0h1m18 0h2m30 0h3m4 0h2m1 0h2m3 0h3m10 0h2m13 0h1m1 0h3m133 0h3m15 0h3m1 0h3m6 0h3m1 0h1m26 0h1m5 0h1M60 1083.7h3m1 0h1m37 0h2m41 0h1m27 0h2m9 0h3m56 0h1m57 0h1m173 0h2m3 0h3m42 0h1m7 0h2m16 0h2m44 0h2m30 0h1m8 0h3m20 0h2m25 0h3m15 0h2m14 0h3m12 0h3m19 0h2m129 0h2m3 0h3m12 0h1m16 0h2M57 1089.3h3m7 0h1m2 0h1m13 0h2m447 0h2m11 0h1m58 0h3m14 0h3m6 0h1m3 0h2m44 0h1m7 0h1m12 0h2m4 0h2m6 0h3m15 0h1m4 0h1m14 0h3m45 0h2m87 0h1m4 0h1m52 0h2m7 0h3m12 0h1M50 1094.9h2m10 0h3m3 0h1m2 0h1m48 0h1m185 0h1m164 0h5m17 0h2m16 0h1m17 0h2m19 0h2m6 0h1m21 0h1m9 0h1m24 0h1m20 0h2m7 0h2m1 0h1m1 0h2m10 0h1m3 0h5m7 0h1m1 0h1m41 0h2m8 0h4m20 0h1m6 0h1m16 0h2m43 0h2m13 0h3m105 0h3m1 0h1m10 0h1M45 1100.5h1m16 0h2m9 0h1m4 0h2m131 0h1m66 0h2m216 0h2m23 0h1m19 0h1m8 0h1m61 0h1m6 0h2m6 0h3m26 0h1m14 0h1m13 0h1m6 0h3m6 0h1m23 0h1m13 0h3m3 0h1m15 0h1m66 0h2m2 0h2m45 0h2m20 0h3m29 0h1m28 0h3M55 1106.1h2m14 0h1m13 0h2m89 0h2m313 0h2m15 0h1m8 0h2m3 0h1m16 0h1m27 0h1m2 0h2m66 0h2m12 0h6m21 0h2m7 0h1m28 0h2m128 0h2m44 0h3m2 0h3m6 0h1m39 0h3m13 0h1M74 1111.7h2m454 0h5m16 0h3m13 0h1m50 0h2m27 0h3m3 0h2m22 0h1m7 0h1m5 0h4m17 0h3m2 0h2m1 0h1m5 0h1m51 0h3m39 0h3m34 0h1m13 0h3m21 0h1m19 0h3m34 0h3m3 0h3m1 0h3m6 0h1M44 1117.3h1m7 0h3m5 0h3m1 0h1m9 0h2m63 0h2m18 0h2m38 0h1m57 0h2m23 0h2m193 0h1m12 0h2m12 0h1m27 0h3m3 0h1m31 0h2m11 0h1m1 0h3m31 0h2m3 0h2m3 0h1m10 0h1m33 0h2m26 0h1m19 0h2m3 0h1m7 0h2m2 0h2m3 0h3m102 0h2m44 0h3m36 0h1M45 1122.9h2m24 0h1m2 0h1m2 0h1m8 0h1m57 0h3m41 0h2m3 0h2m17 0h2m97 0h3m6 0h1m169 0h2m8 0h1m3 0h2m19 0h2m39 0h1m56 0h1m14 0h3m7 0h1m16 0h1m1 0h2m14 0h2m12 0h2m26 0h3m2 0h3m6 0h1m18 0h1m136 0h1M54 1128.5h3m27 0h2m2 0h2m238 0h3m13 0h2m136 0h1m37 0h3m15 0h1m14 0h1m15 0h3m2 0h3m5 0h2m38 0h1m24 0h2m3 0h2m4 0h3m7 0h3m18 0h1m9 0h2m28 0h1m17 0h1m23 0h1m29 0h1m59 0h3m25 0h1m7 0h1m1 0h2m20 0h1m10 0h1m24 0h2M363 1134.1h1m13 0h2m100 0h3m16 0h3m50 0h2m52 0h1m49 0h2m9 0h2m11 0h2m3 0h1m19 0h2m1 0h3m36 0h2m3 0h2m9 0h2m86 0h1m10 0h1m36 0h1m1 0h2m3 0h1M44 1139.7h2m13 0h1m1 0h1m13 0h2m11 0h1m4 0h3m122 0h2m58 0h1m49 0h1m33 0h1m131 0h3m13 0h4m4 0h4m14 0h1m3 0h1m12 0h2m15 0h1m18 0h3m29 0h2m11 0h1m2 0h1m16 0h1m11 0h1m28 0h2m3 0h2m26 0h2m5 0h3m8 0h3m3 0h2m125 0h1m74 0h3m6 0h1M57 1145.3h4m209 0h3m65 0h1m67 0h2m364 0h1m23 0h3m102 0h3m37 0h1M50 1150.9h1m9 0h2m78 0h3m1 0h3m27 0h2m35 0h2m148 0h1m14 0h2m403 0h1m12 0h2m11 0h1m114 0h1M69 1156.5h2m95 0h3m160 0h2m12 0h2m16 0h1m3 0h1m22 0h2m108 0h3m300 0h2m10 0h2m80 0h2m4 0h2m35 0h1m3 0h2m9 0h1M49 1162.1h1m52 0h3m221 0h2m20 0h2m143 0h2m270 0h2m2 0h2m14 0h2m104 0h2m44 0h1M44 1167.7h3m7 0h1m13 0h1m3 0h2m37 0h1m98 0h1m1 0h3m8 0h1m8 0h2m25 0h3m30 0h1m84 0h3m385 0h1m40 0h1m1 0h2m101 0h1m14 0h2m36 0h1M57 1173.2h1m20 0h2m4 0h2m164 0h1m106 0h2m9 0h2m3 0h1m532 0h1m50 0h2M45 1178.8h1m35 0h2m7 0h1m115 0h2m8 0h1m23 0h3m94 0h2m1 0h2m10 0h1m180 0h2m271 0h3m14 0h1m73 0h1m10 0h3M53 1184.4h3m1 0h1m3 0h3m6 0h3m1 0h3m221 0h2m16 0h1m33 0h1m175 0h1m64 0h3m174 0h1m15 0h1m30 0h3m77 0h4m29 0h2M60 1190h1m19 0h1m5 0h3m282 0h1m153 0h2m257 0h2m14 0h1m16 0h1m83 0h3m18 0h2m20 0h1m3 0h2M74 1195.6h2m68 0h2m70 0h3m9 0h2m1 0h2m7 0h3m2 0h2m12 0h2m27 0h1m44 0h2m11 0h2m10 0h3m6 0h2m10 0h3m8 0h1m38 0h2m7 0h4m26 0h1m21 0h2m11 0h2m46 0h2m14 0h2m16 0h2m1 0h2m223 0h1m76 0h2m31 0h1m5 0h3m7 0h3M48 1201.2h1m32 0h2m3 0h2m4 0h2m23 0h3m2 0h2m239 0h1m95 0h1m80 0h1m228 0h4m13 0h3m9 0h2m2 0h2m11 0h2m91 0h2m1 0h2M48 1206.8h1m8 0h2m2 0h1m9 0h2m1 0h2m256 0h3m11 0h3m225 0h1m200 0h1m4 0h2m3 0h3m14 0h2m7 0h3M60 1212.4h5m183 0h2m99 0h1m16 0h3m32 0h2m403 0h2m145 0h3M45 1218h2m7 0h1m17 0h1m15 0h2m66 0h1m32 0h1m27 0h2m7 0h4m92 0h1m10 0h5m1 0h2m21 0h3m8 0h1m3 0h2m2 0h2m1 0h1m41 0h1m2 0h1m27 0h1m10 0h1m9 0h1m22 0h3m8 0h2m24 0h2m1 0h3m28 0h3m205 0h2m4 0h1m1 0h1m12 0h2m17 0h1m78 0h1m11 0h2M63 1223.6h2m3 0h4m2 0h2m9 0h1m16 0h2m9 0h2m7 0h1m4 0h3m5 0h1m7 0h4m12 0h1m5 0h1m15 0h1m81 0h3m1 0h1m32 0h1m4 0h1m16 0h2m28 0h3m59 0h4m30 0h1m3 0h3m4 0h1m14 0h1m20 0h3m21 0h2m13 0h2m1 0h1m13 0h4m15 0h2m35 0h1m183 0h1m6 0h3m18 0h2m112 0h2m28 0h3M63 1229.2h3m19 0h1m57 0h1m9 0h2m6 0h1m8 0h3m204 0h2m420 0h1m1 0h1m5 0h1m2 0h3m143 0h3m10 0h1M68 1234.8h1m2 0h3m38 0h2m24 0h2m4 0h1m41 0h1m17 0h2m7 0h1m15 0h2m15 0h3m10 0h3m11 0h1m30 0h1m17 0h3m6 0h3m29 0h2m2 0h1m33 0h2m54 0h3m11 0h1m25 0h2m23 0h2m32 0h1m20 0h2m10 0h1m177 0h2m27 0h1m1 0h6m4 0h4m95 0h2m8 0h2m20 0h3m27 0h2M109 1240.4h1m2 0h1m8 0h1m5 0h3m14 0h2m3 0h3m7 0h2m60 0h3m40 0h2m40 0h1m15 0h3m1 0h2m23 0h2m88 0h1m12 0h1m2 0h4m4 0h2m24 0h1m16 0h1m42 0h1m244 0h1m14 0h2m6 0h2m86 0h1m3 0h1m5 0h3m5 0h2m10 0h1m14 0h2m3 0h2M65 1246h1m64 0h2m44 0h2m7 0h1m2 0h3m3 0h3m31 0h3m1 0h3m61 0h3m8 0h1m21 0h2m4 0h3m26 0h2m34 0h1m70 0h1m1 0h1m13 0h1m13 0h2m9 0h1m12 0h3m13 0h1m10 0h4m234 0h2m4 0h2m4 0h1m3 0h3m10 0h3m102 0h1m29 0h4M52 1251.6h1m19 0h1m29 0h2m21 0h1m55 0h1m23 0h2m9 0h2m45 0h2m5 0h2m8 0h3m4 0h1m3 0h1m8 0h3m19 0h3m21 0h3m11 0h1m2 0h1m84 0h2m23 0h4m1 0h3m23 0h1m12 0h1m43 0h3m41 0h3m164 0h2m5 0h2m18 0h1m99 0h1m71 0h2M45 1341.1h1m62 0h1m22 0h1m354 0h2m19 0h2m27 0h2m47 0h3m265 0h1m15 0h2M46 1346.7h2m11 0h2m22 0h2m25 0h1m38 0h3m24 0h3m80 0h1m47 0h1m243 0h2m266 0h1m47 0h3M45 1352.3h2m20 0h2m79 0h2m9 0h1m29 0h1m81 0h3m1 0h2m10 0h1m203 0h3m31 0h1m44 0h1m11 0h2m202 0h2m57 0h1M44 1357.9h1m62 0h1m14 0h1m370 0h1m26 0h1m9 0h2m2 0h1m2 0h2m2 0h2m48 0h3m7 0h2m174 0h2m54 0h2"/><path stroke="#f9ae94" stroke-width="5.65" fill="none" d="M52 876.7h1m6 0h3m10 0h2m37 0h2m12 0h2m3 0h1m1 0h1m6 0h2m23 0h1m4 0h3m15 0h1m18 0h1m24 0h3m11 0h2m10 0h1m37 0h2m3 0h2m12 0h1m25 0h1m12 0h1m26 0h2m42 0h1m20 0h2m3 0h3m6 0h3m4 0h2m8 0h4m3 0h1m15 0h1m13 0h1m22 0h1m5 0h1m5 0h1m4 0h2m1 0h2m5 0h1m31 0h1m2 0h2m12 0h2m1 0h2m20 0h2m8 0h2m6 0h2m26 0h3m6 0h2m20 0h1m19 0h2m6 0h3m6 0h1m20 0h1m13 0h2m94 0h2m11 0h3m2 0h2m32 0h2m28 0h2m2 0h1m2 0h3M62 882.3h1m44 0h2m5 0h1m29 0h3m34 0h3m21 0h3m15 0h2m7 0h1m1 0h1m26 0h3m3 0h2m4 0h3m7 0h2m4 0h2m10 0h1m33 0h2m6 0h3m23 0h2m21 0h2m6 0h1m7 0h2m4 0h3m5 0h2m21 0h2m7 0h4m3 0h1m2 0h3m3 0h2m8 0h3m1 0h3m80 0h1m13 0h2m10 0h1m8 0h1m7 0h3m18 0h2m5 0h3m2 0h2m19 0h1m2 0h3m1 0h1m4 0h2m5 0h1m8 0h3m3 0h1m4 0h3m9 0h3m22 0h1m33 0h2m3 0h3m28 0h2m85 0h3m11 0h2m13 0h1m12 0h1M60 887.9h3m8 0h1m9 0h2m11 0h3m18 0h2m43 0h1m45 0h3m13 0h2m20 0h1m7 0h1m11 0h2m5 0h1m1 0h2m7 0h2m3 0h2m18 0h2m12 0h3m18 0h3m16 0h3m8 0h1m19 0h2m13 0h2m14 0h3m22 0h2m15 0h1m39 0h4m24 0h3m20 0h2m3 0h5m9 0h1m3 0h2m4 0h3m6 0h2m14 0h2m34 0h1m11 0h1m5 0h1m6 0h3m7 0h2m20 0h2m2 0h2m12 0h3m5 0h1m32 0h2m1 0h2m2 0h3m23 0h1m95 0h1m3 0h1m25 0h3m23 0h1m12 0h1m11 0h1M48 893.5h3m9 0h3m2 0h1m18 0h2m18 0h2m10 0h2m8 0h1m14 0h1m6 0h1m16 0h1m1 0h2m7 0h3m24 0h3m17 0h2m3 0h2m9 0h3m4 0h2m17 0h3m17 0h3m26 0h2m18 0h4m15 0h5m26 0h2m10 0h2m11 0h2m1 0h1m26 0h1m12 0h1m4 0h1m33 0h2m7 0h1m34 0h1m51 0h3m29 0h2m25 0h3m7 0h3m24 0h2m42 0h1m21 0h1m7 0h3m14 0h1m27 0h2m1 0h1m95 0h2m50 0h1m8 0h2m5 0h2M45 899.1h1m4 0h1m5 0h1m8 0h2m19 0h2m30 0h2m5 0h1m3 0h1m13 0h4m18 0h2m48 0h2m35 0h3m6 0h1m18 0h3m12 0h2m10 0h1m8 0h1m40 0h1m31 0h1m7 0h1m47 0h3m4 0h2m23 0h1m11 0h1m35 0h1m12 0h3m2 0h2m16 0h2m4 0h2m14 0h2m18 0h2m2 0h1m18 0h3m3 0h2m11 0h2m68 0h1m8 0h2m37 0h3m3 0h3m14 0h2m23 0h2m90 0h3m10 0h2m4 0h3m22 0h2m5 0h1m13 0h1M57 904.7h1m4 0h1m8 0h3m4 0h2m66 0h2m8 0h2m1 0h3m12 0h1m6 0h1m2 0h2m1 0h1m12 0h2m31 0h1m1 0h2m8 0h2m31 0h1m3 0h1m2 0h3m10 0h1m1 0h1m28 0h2m1 0h3m14 0h1m10 0h2m11 0h1m10 0h2m8 0h1m2 0h1m3 0h2m72 0h1m1 0h1m4 0h2m9 0h2m29 0h2m3 0h2m2 0h2m14 0h3m48 0h2m1 0h2m23 0h1m32 0h3m15 0h2m13 0h2m12 0h4m18 0h1m27 0h2m25 0h2m1 0h1m52 0h1m23 0h2m29 0h1m4 0h1m10 0h1m3 0h1m7 0h2m23 0h1m22 0h2M566 910.3h2m9 0h2m91 0h1m79 0h3m157 0h2m1 0h1m13 0h1m9 0h2M88 915.9h3m11 0h2m25 0h3m11 0h3m4 0h2m29 0h1m16 0h1m3 0h3m5 0h2m1 0h1m4 0h2m7 0h2m11 0h1m11 0h1m22 0h2m8 0h2m16 0h3m8 0h1m5 0h2m180 0h3m46 0h1m32 0h2m1 0h1m6 0h2m188 0h2m28 0h1m4 0h1m15 0h2m22 0h2m8 0h3m2 0h1m18 0h2m8 0h2m5 0h3m16 0h3m6 0h3m17 0h1M115 921.5h2m8 0h1m1 0h3m29 0h2m5 0h2m7 0h3m6 0h1m17 0h2m7 0h3m2 0h2m2 0h2m11 0h1m11 0h3m13 0h2m20 0h1m3 0h2m4 0h2m5 0h3m3 0h3m7 0h1m2 0h1m176 0h1m4 0h3m35 0h1m45 0h2m15 0h2m171 0h1m26 0h2m2 0h1m16 0h2m5 0h2m8 0h1m2 0h2m30 0h3m15 0h1m1 0h2m57 0h3m9 0h3M102 927.1h1m7 0h1m11 0h1m4 0h1m41 0h4m17 0h3m46 0h4m2 0h1m10 0h2m30 0h1m11 0h3m7 0h3m1 0h1m2 0h2m189 0h1m3 0h1m12 0h1m14 0h1m1 0h4m2 0h4m11 0h1m15 0h2m7 0h1m210 0h1m7 0h2m4 0h1m3 0h2m4 0h3m10 0h2m26 0h2m4 0h1m3 0h1m24 0h3m4 0h1m8 0h2m16 0h2M103 932.6h2m6 0h2m14 0h3m14 0h3m14 0h1m6 0h2m29 0h2m5 0h1m26 0h2m5 0h3m22 0h1m21 0h2m188 0h2m4 0h2m4 0h2m29 0h1m15 0h1m6 0h1m12 0h1m19 0h3m6 0h3m1 0h1m181 0h2m6 0h3m2 0h1m3 0h3m1 0h1m7 0h1m69 0h2m9 0h3m38 0h2m5 0h3m2 0h2m4 0h2M84 938.2h3m23 0h2m9 0h2m8 0h1m13 0h1m13 0h3m17 0h2m3 0h1m19 0h2m16 0h3m1 0h1m14 0h3m6 0h3m10 0h2m7 0h1m5 0h4m11 0h1m5 0h1m176 0h3m7 0h3m9 0h1m8 0h4m47 0h3m10 0h2m19 0h2m173 0h1m11 0h2m1 0h1m48 0h4m24 0h3m4 0h3m4 0h2m12 0h3m2 0h3m54 0h2m3 0h2M81 943.8h2m20 0h1m18 0h2m24 0h2m20 0h1m8 0h2m8 0h1m17 0h1m15 0h1m1 0h1m39 0h1m7 0h2m17 0h1m22 0h2m7 0h2m172 0h1m30 0h1m11 0h2m38 0h2m8 0h2m3 0h2m7 0h3m161 0h1m1 0h2m19 0h2m13 0h1m2 0h2m8 0h2m2 0h3m12 0h2m6 0h3m4 0h2m5 0h3m47 0h1m9 0h2m28 0h3m19 0h1M88 949.4h1m11 0h1m6 0h3m133 0h2m5 0h3m51 0h1m198 0h2m1 0h3m6 0h2m7 0h2m3 0h1m11 0h1m49 0h1m12 0h2m156 0h1m5 0h2m1 0h1m4 0h1m6 0h2m6 0h2m6 0h3m1 0h2m23 0h1m4 0h1m23 0h1m10 0h2m3 0h1m19 0h2m6 0h2m6 0h1m5 0h1m5 0h4m14 0h2m20 0h3M103 955h4m8 0h2m7 0h2m7 0h3m95 0h3m4 0h2m30 0h1m5 0h1m40 0h2m2 0h1m164 0h3m2 0h2m1 0h2m25 0h1m20 0h2m4 0h2m12 0h1m10 0h2m29 0h2m179 0h1m21 0h1m10 0h2m8 0h3m33 0h3m4 0h3m13 0h1m22 0h3m42 0h3m3 0h2m10 0h1M110 960.6h3m5 0h2m9 0h1m111 0h1m8 0h1m24 0h1m12 0h1m6 0h1m7 0h2m181 0h3m11 0h3m3 0h3m22 0h2m8 0h1m33 0h3m7 0h1m181 0h1m18 0h3m10 0h3m13 0h2m13 0h1m2 0h2m31 0h2m13 0h2m9 0h3m6 0h1m9 0h2m36 0h1m7 0h3m6 0h2m4 0h2M122 966.2h1m79 0h3m3 0h1m78 0h3m9 0h1m164 0h2m7 0h2m27 0h3m10 0h1m24 0h1m16 0h2m4 0h2m20 0h2m189 0h1m5 0h2m15 0h2m23 0h2m10 0h1m16 0h1m4 0h2m6 0h1m17 0h2m4 0h1m48 0h2m8 0h3m2 0h1m17 0h2M130 971.8h2m113 0h1m13 0h3m9 0h2m207 0h1m36 0h1m10 0h2m51 0h1m209 0h2m1 0h1m6 0h1m2 0h1m29 0h2m8 0h2m10 0h1m7 0h2m15 0h1m21 0h1m12 0h2m31 0h2m21 0h1M96 977.4h2m133 0h3m44 0h2m5 0h1m194 0h2m2 0h2m46 0h2m16 0h2m14 0h1m28 0h2m181 0h4m14 0h1m35 0h3m30 0h2m36 0h2m14 0h3m22 0h1m9 0h1M105 983h2m5 0h1m2 0h2m1 0h2m9 0h1m7 0h2m88 0h2m1 0h2m22 0h2m9 0h1m10 0h3m8 0h2m3 0h2m20 0h3m190 0h2m25 0h2m1 0h2m31 0h1m5 0h1m209 0h1m1 0h1m1 0h2m9 0h5m27 0h1m9 0h1m2 0h2m28 0h1m1 0h1m58 0h1m21 0h1m9 0h2m1 0h2M93 988.6h2m9 0h3m2 0h3m6 0h2m107 0h2m1 0h6m28 0h2m38 0h2m198 0h2m25 0h1m19 0h2m32 0h3m6 0h1m3 0h1m193 0h2m1 0h2m4 0h3m35 0h2m2 0h2m2 0h2m20 0h2m8 0h3m30 0h2m25 0h2m5 0h2m20 0h2M131 994.2h1m101 0h2m1 0h1m39 0h1m1 0h3m195 0h2m4 0h2m33 0h2m22 0h2m3 0h2m1 0h3m26 0h1m215 0h1m9 0h2m21 0h2m1 0h3m4 0h2m1 0h5m2 0h3m19 0h1m31 0h2m11 0h1m19 0h3m13 0h2M90 999.8h3m5 0h2m24 0h2m89 0h1m15 0h1m1 0h1m6 0h1m16 0h2m8 0h2m21 0h2m3 0h1m9 0h1m16 0h2m160 0h1m9 0h2m12 0h4m41 0h3m14 0h2m2 0h2m14 0h1m234 0h2m3 0h2m23 0h4m10 0h3m1 0h1m16 0h2m1 0h1m2 0h1m5 0h2m38 0h1m11 0h1M114 1005.4h1m2 0h1m9 0h2m82 0h3m7 0h2m4 0h3m20 0h1m3 0h2m7 0h2m8 0h2m3 0h1m118 0h1m75 0h3m5 0h2m24 0h2m11 0h2m35 0h3m2 0h2m1 0h1m4 0h2m18 0h2m14 0h2m164 0h1m6 0h2m2 0h4m1 0h1m7 0h2m28 0h3m25 0h5m5 0h2m26 0h2m1 0h1m1 0h1m29 0h2m31 0h2m2 0h1M107 1011h2m24 0h1m1 0h2m3 0h2m6 0h3m29 0h2m7 0h3m38 0h2m5 0h1m14 0h3m4 0h2m15 0h3m2 0h1m24 0h1m125 0h3m97 0h1m10 0h2m40 0h2m117 0h1m38 0h3m11 0h1m5 0h2m46 0h1m6 0h1m28 0h2m24 0h1m65 0h2M67 1016.6h3m171 0h2m2 0h1m6 0h5m17 0h2m12 0h1m2 0h2m13 0h1m5 0h3m14 0h1m8 0h2m137 0h1m4 0h2m46 0h3m11 0h1m3 0h2m6 0h1m12 0h1m10 0h2m2 0h1m9 0h2m30 0h1m29 0h1m30 0h2m82 0h1m24 0h1m19 0h2m28 0h1m25 0h2m51 0h1m46 0h1M144 1022.2h2m187 0h3m98 0h3m39 0h3m55 0h1m15 0h2m9 0h3m17 0h2m32 0h2m83 0h3m122 0h1m6 0h3m56 0h1m7 0h2m14 0h3m4 0h1m36 0h3m11 0h1M71 1027.8h3m102 0h2m299 0h3m1 0h2m6 0h1m14 0h3m10 0h2m1 0h2m29 0h2m17 0h3m31 0h2m53 0h2m37 0h3m2 0h3m31 0h2m27 0h1m4 0h2m6 0h2m1 0h2m49 0h2m18 0h2m9 0h3m6 0h2m16 0h1m20 0h4m5 0h1m1 0h3m10 0h1m11 0h2m4 0h1m14 0h2m1 0h2M67 1033.4h2m14 0h2m1 0h3m139 0h3m298 0h2m43 0h1m6 0h3m27 0h2m43 0h2m36 0h3m66 0h1m42 0h3m19 0h2m4 0h1m46 0h3m5 0h1m3 0h1m6 0h1m21 0h1m39 0h3m8 0h1M49 1039h1m5 0h1m3 0h3m2 0h2m12 0h1m17 0h1m1 0h3m1 0h2m5 0h2m32 0h2m12 0h3m25 0h3m16 0h2m17 0h3m2 0h1m35 0h3m36 0h1m169 0h1m24 0h2m3 0h2m6 0h1m6 0h4m87 0h3m40 0h3m6 0h2m45 0h1m7 0h3m17 0h1m1 0h3m3 0h2m8 0h1m6 0h7m7 0h3m62 0h1m2 0h1m15 0h2m3 0h3m9 0h1m24 0h1m4 0h2m5 0h1m4 0h2m6 0h3m11 0h2m12 0h1M55 1044.6h3m19 0h1m27 0h2m10 0h1m3 0h2m14 0h2m3 0h1m1 0h3m23 0h3m21 0h2m21 0h2m19 0h1m14 0h2m27 0h3m4 0h2m29 0h2m173 0h2m20 0h1m35 0h2m26 0h2m7 0h1m21 0h1m6 0h2m1 0h3m15 0h8m61 0h3m2 0h5m13 0h2m22 0h2m5 0h1m3 0h1m30 0h3m27 0h1m35 0h1m31 0h2m42 0h2m20 0h3M68 1050.1h2m4 0h1m9 0h4m4 0h4m34 0h2m6 0h1m10 0h3m11 0h2m15 0h1m10 0h2m34 0h2m23 0h1m69 0h3m146 0h3m9 0h1m53 0h1m38 0h3m17 0h2m8 0h2m23 0h2m12 0h1m5 0h2m8 0h2m11 0h3m3 0h4m8 0h3m27 0h1m15 0h1m2 0h2m9 0h4m5 0h1m3 0h2m22 0h1m8 0h2m8 0h1m2 0h2m2 0h1m30 0h1m9 0h2m32 0h2m12 0h5m6 0h2m4 0h1m19 0h3M55 1055.7h2m35 0h1m10 0h1m8 0h3m101 0h1m10 0h7m10 0h3m9 0h2m19 0h2m14 0h1m1 0h1m174 0h2m29 0h2m3 0h2m4 0h1m9 0h1m8 0h1m4 0h2m32 0h1m45 0h3m36 0h1m5 0h2m13 0h1m30 0h2m17 0h3m2 0h1m44 0h4m23 0h3m22 0h3m2 0h2m9 0h1m4 0h2m26 0h2m72 0h3m3 0h2M50 1061.3h2m11 0h2m5 0h1m21 0h1m19 0h2m31 0h3m24 0h5m2 0h2m2 0h2m17 0h2m6 0h2m1 0h2m4 0h3m4 0h3m25 0h2m14 0h1m26 0h5m12 0h1m169 0h1m22 0h2m1 0h1m41 0h2m2 0h2m3 0h2m1 0h3m9 0h2m23 0h1m7 0h2m18 0h2m4 0h2m3 0h2m8 0h1m1 0h2m26 0h2m3 0h3m16 0h1m21 0h1m11 0h2m3 0h3m94 0h2m35 0h3m7 0h3m2 0h1m37 0h1M95 1066.9h1m31 0h1m57 0h2m25 0h2m51 0h3m13 0h1m22 0h2m18 0h2m145 0h1m18 0h1m3 0h1m8 0h1m8 0h2m22 0h1m30 0h2m5 0h2m19 0h1m5 0h2m44 0h1m35 0h3m13 0h1m4 0h2m25 0h1m3 0h2m9 0h2m8 0h2m140 0h2m6 0h2m6 0h4m11 0h4m30 0h1M49 1072.5h2m20 0h1m68 0h3m24 0h1m4 0h2m42 0h2m76 0h1m11 0h2m4 0h2m185 0h2m2 0h1m6 0h2m23 0h1m8 0h1m4 0h2m5 0h2m12 0h1m38 0h1m12 0h2m22 0h1m5 0h3m9 0h4m15 0h1m36 0h3m6 0h1m29 0h2m1 0h3m12 0h4m115 0h1m10 0h6m4 0h2m21 0h2m20 0h2M46 1078.1h1m13 0h1m14 0h2m1 0h2m409 0h2m88 0h1m11 0h2m20 0h1m16 0h1m9 0h3m8 0h1m32 0h3m5 0h3m57 0h2m80 0h1m2 0h2m18 0h3m29 0h1m40 0h1m23 0h3m1 0h1m1 0h3m10 0h1M58 1083.7h2m15 0h1m63 0h2m8 0h2m3 0h3m18 0h1m3 0h1m34 0h2m89 0h3m186 0h1m19 0h3m11 0h2m1 0h1m6 0h3m33 0h2m37 0h3m32 0h2m1 0h3m26 0h3m11 0h2m3 0h2m16 0h3m6 0h2m22 0h2m5 0h1m3 0h1m138 0h4m7 0h1m7 0h2m21 0h1M71 1089.3h1m6 0h3m119 0h3m40 0h2m237 0h3m2 0h2m5 0h2m16 0h2m1 0h2m42 0h2m8 0h2m21 0h3m16 0h1m9 0h1m22 0h3m1 0h1m3 0h1m8 0h2m6 0h3m4 0h3m78 0h2m105 0h2m41 0h1m39 0h2m5 0h1m14 0h1M60 1094.9h2m10 0h1m171 0h1m257 0h1m71 0h2m16 0h2m12 0h2m4 0h1m6 0h2m3 0h2m45 0h3m7 0h2m12 0h1m19 0h2m23 0h2m1 0h1m179 0h2m46 0h1M71 1100.5h1m16 0h2m41 0h2m84 0h3m16 0h2m61 0h1m185 0h2m122 0h1m11 0h1m28 0h2m24 0h1m55 0h1m17 0h2m4 0h1m1 0h1m159 0h2m7 0h2m22 0h2M45 1106.1h2m2 0h1m9 0h2m16 0h1m6 0h1m2 0h3m32 0h1m8 0h1m24 0h1m336 0h2m20 0h1m16 0h2m86 0h3m12 0h1m4 0h2m25 0h1m47 0h1m21 0h4m16 0h1m52 0h2m1 0h3m85 0h3m51 0h2m15 0h2M71 1111.7h2m417 0h3m15 0h3m33 0h1m33 0h1m6 0h2m35 0h1m12 0h3m12 0h1m4 0h1m12 0h3m15 0h1m1 0h3m8 0h2m18 0h1m41 0h1m105 0h2m27 0h1M48 1117.3h2m38 0h2m65 0h1m76 0h1m11 0h3m48 0h3m201 0h3m11 0h1m81 0h1m9 0h1m24 0h2m30 0h1m2 0h1m11 0h3m12 0h1m13 0h1m99 0h3m89 0h2m11 0h2m51 0h1M57 1122.9h2m4 0h2m3 0h1m3 0h1m48 0h3m8 0h2m5 0h3m7 0h1m18 0h3m83 0h1m2 0h1m14 0h2m25 0h5m25 0h1m213 0h1m3 0h2m19 0h1m12 0h1m34 0h4m4 0h1m12 0h1m4 0h3m6 0h2m4 0h5m18 0h1m11 0h1m22 0h1m4 0h2m6 0h2m5 0h2m10 0h2m115 0h1m3 0h1m53 0h1m17 0h2m10 0h3M60 1128.5h1m13 0h3m9 0h2m279 0h1m166 0h1m30 0h1m55 0h1m8 0h3m1 0h5m1 0h1m42 0h1m17 0h3m13 0h2m12 0h1m13 0h2m11 0h2m2 0h6m1 0h1m8 0h1m25 0h1m86 0h2m11 0h2m5 0h1M46 1134.1h1m6 0h3m1 0h2m3 0h2m8 0h1m101 0h3m38 0h1m99 0h2m18 0h2m147 0h4m7 0h2m27 0h2m37 0h1m20 0h2m22 0h1m6 0h1m8 0h3m50 0h1m3 0h3m4 0h3m7 0h3m14 0h1m6 0h2m9 0h1m23 0h2m8 0h1m146 0h1m47 0h2M65 1139.7h3m422 0h1m7 0h2m25 0h1m6 0h1m14 0h2m61 0h2m61 0h1m8 0h1m4 0h1m32 0h2m22 0h1m12 0h1m11 0h2m88 0h2m38 0h1m2 0h3m1 0h2M48 1145.3h1m25 0h2m36 0h2m7 0h3m211 0h1m25 0h1m63 0h1m348 0h2m12 0h3m3 0h1m12 0h3m85 0h2M57 1150.9h2m7 0h1m10 0h1m92 0h2m197 0h3m177 0h2m212 0h3m22 0h2m101 0h3m48 0h1M49 1156.5h2m2 0h1m3 0h1m2 0h2m9 0h2m11 0h2m1 0h2m3 0h1m42 0h2m213 0h3m240 0h3m190 0h1m12 0h2m5 0h1m3 0h1m4 0h1m8 0h2m65 0h3m33 0h2m11 0h2M44 1162.1h1m11 0h3m1 0h2m1 0h3m3 0h3m7 0h2m108 0h3m14 0h2m173 0h3m59 0h1m327 0h2m35 0h3m144 0h2M51 1167.7h2m3 0h3m10 0h3m2 0h1m44 0h2m14 0h1m66 0h1m91 0h2m110 0h1m100 0h2m17 0h3m243 0h3m26 0h2m88 0h2M60 1173.2h2m4 0h3m200 0h1m58 0h1m241 0h1m210 0h2m23 0h3m86 0h1m3 0h2M60 1178.8h5m153 0h1m55 0h2m24 0h1m57 0h3m8 0h2m119 0h1m292 0h3m11 0h3m95 0h2m59 0h2M58 1184.4h3m34 0h1m52 0h3m621 0h2m12 0h3m25 0h1m96 0h3m18 0h3m25 0h2M64 1190h2m18 0h1m26 0h2m182 0h3m37 0h1m26 0h3m16 0h3m50 0h2m96 0h3m243 0h1m2 0h3m21 0h1m110 0h3M55 1195.6h1m3 0h1m19 0h2m34 0h3m23 0h1m18 0h2m8 0h2m3 0h1m28 0h2m81 0h1m7 0h1m4 0h3m12 0h1m27 0h1m8 0h1m21 0h2m8 0h1m72 0h2m14 0h2m83 0h1m36 0h2m5 0h1m175 0h1m6 0h3m11 0h2m4 0h1m12 0h2m80 0h3m61 0h2m5 0h1M60 1201.2h1m2 0h3m9 0h1m1 0h3m165 0h2m63 0h3m83 0h3m10 0h1m111 0h2m23 0h2m219 0h2m9 0h1m1 0h1m8 0h2m13 0h2m124 0h2m22 0h3m5 0h2m7 0h2M68 1206.8h2m10 0h3m142 0h3m3 0h2m2 0h3m141 0h1m4 0h1m1 0h2m383 0h3m24 0h3m3 0h2m85 0h2m56 0h3M59 1212.4h1m14 0h1m2 0h1m276 0h4m12 0h1m175 0h2m30 0h2m188 0h1m14 0h5m3 0h3m19 0h2m85 0h1m14 0h2m13 0h2M57 1218h1m18 0h1m21 0h2m2 0h3m5 0h2m23 0h1m13 0h5m5 0h1m4 0h2m4 0h3m1 0h1m4 0h4m8 0h2m19 0h3m8 0h2m7 0h2m5 0h3m75 0h3m4 0h1m18 0h1m14 0h1m2 0h1m26 0h1m104 0h2m75 0h1m7 0h1m192 0h2m2 0h2m15 0h2m2 0h2m97 0h3m3 0h2m31 0h2m5 0h1M60 1223.6h3m9 0h1m3 0h1m6 0h2m33 0h2m49 0h2m32 0h1m42 0h2m30 0h1m11 0h2m14 0h2m3 0h2m4 0h1m43 0h1m29 0h1m3 0h2m10 0h2m40 0h3m9 0h2m8 0h2m8 0h1m10 0h3m4 0h2m10 0h3m29 0h1m39 0h2m193 0h1m11 0h1m126 0h1m44 0h1M47 1229.2h3m4 0h2m78 0h1m53 0h1m56 0h1m104 0h1m1 0h2m31 0h2m8 0h1m148 0h1m226 0h3m121 0h1M52 1234.8h4m49 0h2m22 0h2m70 0h2m51 0h4m12 0h2m16 0h2m24 0h1m54 0h1m33 0h3m21 0h3m39 0h2m4 0h2m11 0h2m1 0h1m2 0h1m23 0h2m8 0h3m11 0h2m225 0h2m7 0h1m25 0h2m84 0h1M53 1240.4h1m10 0h2m2 0h2m14 0h2m7 0h1m6 0h1m17 0h2m2 0h5m8 0h1m17 0h2m7 0h1m7 0h1m3 0h2m4 0h4m51 0h2m15 0h1m17 0h2m29 0h1m9 0h3m2 0h2m44 0h1m4 0h2m5 0h2m18 0h2m18 0h1m11 0h1m51 0h1m2 0h1m10 0h1m17 0h2m5 0h1m31 0h1m2 0h1m3 0h2m12 0h1m3 0h1m10 0h2m7 0h2m5 0h2m181 0h1m18 0h3m7 0h2m107 0h2m14 0h2m9 0h2m10 0h3M55 1246h2m3 0h2m8 0h1m7 0h2m22 0h2m10 0h2m26 0h4m2 0h2m21 0h1m31 0h1m45 0h3m5 0h1m31 0h1m25 0h3m15 0h1m38 0h1m73 0h2m9 0h2m17 0h1m4 0h3m2 0h1m10 0h1m1 0h2m23 0h1m36 0h2m215 0h2m18 0h2M57 1251.6h1m4 0h3m6 0h1m1 0h3m60 0h1m16 0h2m31 0h1m7 0h2m14 0h1m29 0h1m66 0h2m23 0h1m22 0h1m12 0h2m4 0h1m10 0h1m41 0h3m15 0h1m8 0h1m111 0h1m24 0h2m11 0h1m170 0h1m2 0h1m12 0h1m9 0h1m5 0h1m6 0h3m80 0h1m32 0h1M56 1341.1h3m46 0h1m12 0h1m16 0h3m360 0h1m13 0h2m360 0h2M68 1346.7h2m22 0h3m65 0h2m2 0h2m6 0h1m8 0h1m58 0h2m6 0h1m242 0h2m6 0h1m25 0h3m4 0h3m18 0h1m30 0h2m223 0h2m41 0h1m6 0h1M50 1352.3h2m19 0h2m78 0h1m13 0h2m61 0h1m38 0h1m290 0h3m23 0h1m6 0h1m204 0h1M64 1357.9h3m10 0h2m175 0h2m2 0h1m251 0h2m57 0h2m5 0h2m8 0h1m227 0h3m6 0h2"/><path stroke="#f86a3c" stroke-width="5.65" fill="none" d="M71 876.7h1m5 0h1m20 0h2m5 0h1m1 0h1m5 0h1m8 0h1m8 0h1m47 0h2m9 0h2m10 0h3m22 0h1m15 0h2m7 0h2m34 0h3m1 0h3m10 0h2m17 0h2m6 0h1m1 0h3m12 0h4m44 0h1m2 0h2m1 0h2m5 0h1m69 0h3m17 0h2m15 0h2m4 0h1m1 0h2m13 0h2m7 0h2m14 0h3m21 0h2m14 0h2m17 0h3m13 0h3m19 0h6m3 0h1m7 0h4m7 0h2m2 0h1m34 0h4m8 0h1m3 0h1m1 0h2m17 0h1m2 0h3m6 0h2m26 0h3m35 0h1m95 0h2m7 0h5m1 0h3M56 882.3h3m12 0h4m3 0h3m3 0h1m12 0h3m18 0h1m2 0h3m49 0h3m8 0h3m56 0h1m12 0h2m34 0h2m23 0h2m27 0h2m34 0h3m2 0h2m7 0h3m60 0h2m15 0h1m24 0h3m4 0h1m61 0h1m7 0h2m34 0h4m6 0h1m22 0h2m73 0h1m1 0h3m7 0h4m19 0h2m5 0h2m5 0h1m4 0h2m6 0h1m32 0h1m77 0h2m40 0h2m5 0h1M59 887.9h1m18 0h3m21 0h1m29 0h2m10 0h3m6 0h1m27 0h3m25 0h2m4 0h2m2 0h2m59 0h2m23 0h1m35 0h1m27 0h2m3 0h5m3 0h1m1 0h2m3 0h3m25 0h3m25 0h1m11 0h1m9 0h2m5 0h1m2 0h2m7 0h2m1 0h3m1 0h2m4 0h3m8 0h2m7 0h2m3 0h1m11 0h3m12 0h3m30 0h1m3 0h3m44 0h2m4 0h1m10 0h1m4 0h1m25 0h2m24 0h1m68 0h3m55 0h3m61 0h3m1 0h3m31 0h1M44 893.5h3m27 0h3m2 0h3m11 0h2m11 0h3m15 0h2m31 0h2m28 0h2m43 0h2m8 0h3m5 0h1m20 0h3m47 0h3m4 0h3m12 0h2m14 0h1m3 0h1m1 0h1m3 0h2m3 0h1m29 0h1m13 0h3m6 0h1m51 0h1m9 0h1m19 0h4m8 0h2m26 0h3m7 0h1m10 0h1m3 0h3m14 0h1m19 0h1m12 0h3m4 0h2m5 0h2m3 0h1m7 0h1m10 0h3m11 0h3m24 0h1m5 0h1m9 0h2m7 0h1m9 0h6m42 0h1m12 0h2m24 0h1m11 0h2m20 0h1m1 0h1m31 0h2m36 0h2m27 0h2M67 899.1h2m3 0h2m6 0h2m2 0h1m13 0h2m3 0h2m2 0h3m3 0h1m3 0h1m9 0h2m22 0h2m14 0h1m13 0h2m16 0h3m2 0h1m12 0h1m22 0h1m2 0h3m11 0h2m14 0h1m1 0h3m5 0h2m12 0h2m18 0h2m4 0h2m2 0h2m3 0h1m1 0h1m15 0h3m8 0h3m5 0h1m12 0h2m31 0h1m32 0h4m10 0h1m2 0h1m5 0h1m27 0h3m9 0h3m37 0h2m25 0h1m2 0h2m5 0h1m6 0h3m18 0h2m6 0h1m15 0h2m6 0h3m51 0h2m18 0h1m5 0h3m16 0h2m18 0h2m10 0h1m1 0h1m113 0h4m1 0h3m35 0h1M49 904.7h1m9 0h2m4 0h2m50 0h1m7 0h1m9 0h2m2 0h1m11 0h2m11 0h1m46 0h1m27 0h3m6 0h2m3 0h2m1 0h2m33 0h6m9 0h5m3 0h1m9 0h3m27 0h2m33 0h2m27 0h2m10 0h1m1 0h2m18 0h2m68 0h2m12 0h1m46 0h1m14 0h2m16 0h3m8 0h1m1 0h2m3 0h2m9 0h1m8 0h2m43 0h3m10 0h1m2 0h1m3 0h2m41 0h4m52 0h2m43 0h2m23 0h2M429 910.3h1m47 0h2m153 0h2m64 0h1m5 0h1m58 0h2M86 915.9h1m17 0h2m20 0h3m4 0h3m2 0h1m3 0h1m9 0h1m33 0h2m11 0h2m20 0h1m7 0h4m26 0h2m37 0h1m23 0h1m155 0h1m38 0h2m3 0h3m4 0h1m4 0h3m1 0h3m2 0h1m11 0h2m3 0h5m3 0h3m8 0h2m5 0h1m2 0h2m10 0h1m4 0h2m180 0h3m47 0h5m18 0h1m24 0h2m14 0h1m5 0h2m12 0h2m24 0h1m23 0h2M138 921.5h1m49 0h1m49 0h1m12 0h5m8 0h3m3 0h2m9 0h2m9 0h1m31 0h2m158 0h2m33 0h2m4 0h2m4 0h1m2 0h1m49 0h1m9 0h1m1 0h1m179 0h2m6 0h2m24 0h3m12 0h2m32 0h2m66 0h2m11 0h2m7 0h3M140 927.1h3m14 0h3m46 0h1m4 0h2m30 0h2m14 0h2m221 0h2m7 0h2m31 0h1m3 0h6m21 0h3m11 0h3m17 0h2m4 0h1m6 0h2m168 0h1m47 0h2m25 0h3m4 0h2m11 0h2m10 0h1m13 0h3m8 0h2m4 0h2m19 0h2m30 0h3M120 932.6h1m11 0h5m2 0h1m8 0h2m13 0h2m6 0h1m39 0h2m3 0h3m35 0h1m34 0h1m203 0h2m2 0h1m12 0h3m5 0h2m2 0h6m16 0h2m26 0h3m9 0h1m19 0h3m179 0h1m17 0h3m8 0h3m10 0h2m29 0h3m15 0h3m6 0h3m4 0h1m17 0h2m3 0h3m8 0h1m38 0h3M97 938.2h3m12 0h1m19 0h1m3 0h2m4 0h2m11 0h3m28 0h1m12 0h1m18 0h2m34 0h6m14 0h2m24 0h2m8 0h2m171 0h2m35 0h1m18 0h2m20 0h2m1 0h3m14 0h1m201 0h3m1 0h3m5 0h3m1 0h1m15 0h1m3 0h1m23 0h2m25 0h1m6 0h3m26 0h2m13 0h2m28 0h3m7 0h3M86 943.8h2m4 0h2m10 0h3m19 0h1m7 0h2m25 0h3m39 0h2m6 0h2m5 0h1m24 0h5m9 0h2m11 0h3m26 0h2m174 0h5m33 0h2m17 0h1m10 0h1m35 0h2m199 0h2m17 0h2m68 0h3m5 0h2m34 0h2m3 0h1m5 0h3m4 0h1m15 0h3m12 0h1M85 949.4h2m2 0h3m24 0h3m86 0h2m27 0h3m30 0h1m14 0h2m2 0h4m2 0h2m25 0h3m1 0h1m147 0h1m4 0h2m21 0h3m9 0h3m25 0h2m24 0h2m8 0h1m5 0h5m2 0h2m2 0h6m215 0h3m27 0h1m51 0h1m11 0h2m5 0h1m3 0h3M117 955h1m8 0h1m94 0h1m35 0h2m8 0h2m3 0h1m9 0h2m8 0h1m2 0h2m6 0h2m9 0h2m194 0h1m17 0h1m5 0h1m5 0h2m11 0h1m1 0h1m231 0h1m11 0h1m1 0h2m10 0h1m11 0h2m7 0h2m4 0h4m23 0h3m24 0h1m5 0h1m34 0h2m1 0h2M122 960.6h1m7 0h3m86 0h1m32 0h3m4 0h2m2 0h2m20 0h1m4 0h1m7 0h1m6 0h2m175 0h1m14 0h1m19 0h1m8 0h3m5 0h3m7 0h3m17 0h2m29 0h3m7 0h1m172 0h2m33 0h2m16 0h2m7 0h2m9 0h1m12 0h2m2 0h5m22 0h2m2 0h2m1 0h4m11 0h1m12 0h4M98 966.2h1m17 0h1m113 0h1m32 0h1m56 0h1m175 0h1m23 0h2m8 0h1m34 0h2m14 0h1m196 0h1m16 0h3m13 0h3m6 0h1m10 0h1m1 0h3m1 0h2m11 0h3m14 0h1m14 0h2m11 0h2m9 0h2m7 0h3m49 0h2m2 0h1M109 971.8h3m4 0h6m5 0h3m100 0h2m7 0h1m47 0h6m17 0h2m163 0h3m5 0h1m28 0h2m6 0h3m2 0h2m8 0h1m41 0h1m6 0h3m4 0h3m203 0h4m53 0h2m10 0h5m1 0h2m3 0h2m1 0h1m7 0h2m35 0h1m5 0h1m20 0h1M98 977.4h2m9 0h2m16 0h1m4 0h2m1 0h3m114 0h2m29 0h1m10 0h1m18 0h2m4 0h1m181 0h2m4 0h1m2 0h2m7 0h2m1 0h3m14 0h1m21 0h2m2 0h1m17 0h2m197 0h1m71 0h3m6 0h1m3 0h4m4 0h2m10 0h1m9 0h2m12 0h2m13 0h2m9 0h3m17 0h2m14 0h1M122 983h2m17 0h1m80 0h3m8 0h3m54 0h2m19 0h2m203 0h3m22 0h3m13 0h2m24 0h1m3 0h2m7 0h1m9 0h2m188 0h4m19 0h3m6 0h1m1 0h2m8 0h2m46 0h1m12 0h3m7 0h2m2 0h3m42 0h2m2 0h3M107 988.6h2m7 0h2m4 0h4m115 0h2m31 0h2m19 0h2m13 0h2m12 0h1m155 0h1m11 0h3m4 0h3m6 0h3m24 0h2m3 0h1m38 0h2m195 0h3m15 0h1m3 0h2m15 0h2m16 0h1m7 0h2m13 0h2m13 0h3m11 0h1m11 0h3m1 0h2m12 0h2m4 0h3m28 0h1m6 0h3M104 994.2h3m5 0h1m110 0h2m18 0h3m10 0h2m216 0h1m35 0h3m15 0h2m29 0h2m3 0h3m12 0h2m198 0h3m9 0h1m8 0h3m14 0h3m9 0h1m9 0h1m14 0h2m14 0h3m19 0h3m4 0h2m8 0h1m16 0h1M96 999.8h1m9 0h2m5 0h3m95 0h3m5 0h1m2 0h1m32 0h1m22 0h2m3 0h5m15 0h2m1 0h2m167 0h3m11 0h1m3 0h1m34 0h3m30 0h2m18 0h2m189 0h3m21 0h1m10 0h3m7 0h2m9 0h1m25 0h1m46 0h1m16 0h2m19 0h2m22 0h3m7 0h1M96 1005.4h4m2 0h5m5 0h2m130 0h1m12 0h2m6 0h3m23 0h2m6 0h2m19 0h2m22 0h1m117 0h3m24 0h2m3 0h2m2 0h3m23 0h2m14 0h4m6 0h2m15 0h3m223 0h2m11 0h1m27 0h1m10 0h1m25 0h1m6 0h1m9 0h2m16 0h3m13 0h3m14 0h2m11 0h1M109 1011h2m28 0h1m27 0h3m3 0h1m22 0h1m3 0h2m14 0h2m14 0h3m31 0h1m15 0h2m60 0h1m204 0h2m12 0h3m136 0h1m3 0h1m68 0h1m41 0h1m6 0h2m3 0h2m22 0h1m28 0h1m19 0h1m21 0h2m8 0h1m9 0h1m3 0h2m4 0h2m13 0h2m1 0h2M227 1016.6h2m49 0h1m55 0h1m145 0h1m3 0h3m12 0h2m5 0h3m6 0h3m48 0h2m4 0h3m30 0h1m3 0h2m63 0h2m6 0h1m16 0h1m3 0h3m2 0h1m100 0h1m34 0h1m9 0h1m63 0h1m40 0h2m4 0h2M130 1022.2h1m209 0h2m18 0h2m109 0h3m11 0h2m16 0h2m5 0h3m4 0h2m55 0h2m28 0h3m11 0h3m40 0h1m12 0h3m13 0h1m74 0h1m21 0h2m16 0h2m3 0h1m19 0h2m6 0h2m1 0h3m1 0h1m8 0h1m20 0h2m24 0h1m1 0h2m9 0h1M56 1027.8h2m117 0h1m291 0h3m64 0h1m8 0h1m10 0h3m28 0h3m80 0h3m6 0h2m99 0h1m24 0h2m27 0h1m14 0h2m12 0h2m25 0h1m21 0h1m11 0h1m18 0h1M49 1033.4h2m12 0h2m82 0h2m369 0h2m29 0h2m25 0h2m27 0h1m80 0h1m96 0h2m19 0h1m53 0h2m18 0h3m17 0h2m14 0h2m16 0h2m3 0h1m2 0h1m30 0h2M68 1039h4m49 0h1m2 0h1m24 0h2m16 0h3m28 0h3m51 0h1m4 0h2m9 0h3m16 0h1m17 0h2m4 0h1m165 0h3m13 0h5m37 0h2m14 0h1m26 0h1m4 0h2m30 0h1m2 0h3m4 0h2m2 0h5m21 0h1m35 0h3m30 0h1m10 0h1m102 0h1m56 0h2m14 0h2m43 0h2M44 1044.6h2m8 0h1m3 0h2m2 0h2m38 0h2m10 0h3m32 0h3m32 0h2m24 0h3m109 0h2m151 0h2m48 0h1m22 0h1m20 0h2m20 0h2m20 0h1m13 0h1m8 0h1m32 0h3m20 0h3m4 0h2m2 0h1m8 0h1m6 0h1m9 0h2m7 0h2m12 0h3m3 0h3m83 0h4m18 0h1m25 0h2m1 0h1m14 0h1m17 0h1M47 1050.1h3m6 0h3m18 0h3m16 0h2m20 0h1m25 0h2m9 0h2m2 0h1m15 0h1m18 0h1m4 0h1m19 0h1m25 0h2m3 0h1m6 0h1m14 0h3m25 0h2m190 0h2m19 0h2m4 0h2m15 0h1m12 0h2m14 0h3m27 0h1m19 0h2m21 0h2m14 0h1m14 0h3m29 0h4m18 0h2m31 0h2m36 0h1m66 0h5m28 0h4m2 0h2m27 0h2m7 0h1m14 0h3m4 0h3m7 0h1M45 1055.7h3m5 0h2m2 0h1m4 0h1m1 0h3m1 0h3m7 0h2m13 0h2m10 0h2m8 0h2m1 0h1m29 0h1m3 0h1m4 0h2m34 0h4m10 0h2m2 0h1m71 0h2m2 0h3m8 0h2m180 0h1m29 0h2m18 0h1m47 0h2m9 0h2m47 0h2m3 0h3m3 0h2m6 0h2m7 0h2m1 0h1m7 0h1m59 0h1m8 0h2m3 0h2m3 0h3m7 0h2m56 0h3m9 0h2m7 0h3m38 0h2m9 0h1m3 0h3m7 0h3m35 0h2m20 0h1m1 0h1M54 1061.3h2m4 0h3m5 0h1m15 0h2m12 0h3m13 0h2m28 0h1m14 0h2m1 0h4m2 0h3m10 0h2m23 0h2m9 0h2m45 0h3m7 0h2m3 0h3m40 0h3m153 0h3m13 0h2m5 0h3m13 0h3m2 0h2m4 0h1m20 0h1m10 0h1m6 0h1m43 0h2m18 0h1m25 0h2m35 0h2m12 0h2m7 0h1m10 0h3m9 0h2m15 0h4m24 0h1m59 0h3m2 0h3m37 0h2m42 0h2m2 0h1m24 0h3M45 1066.9h1m4 0h3m7 0h1m56 0h1m12 0h1m13 0h1m15 0h1m28 0h1m318 0h3m12 0h2m3 0h2m3 0h2m4 0h1m47 0h2m2 0h2m17 0h1m2 0h1m9 0h3m33 0h3m18 0h2m10 0h1m34 0h1m16 0h2m5 0h1m181 0h2m3 0h3m13 0h1M54 1072.5h2m9 0h2m14 0h1m67 0h3m27 0h2m3 0h1m2 0h2m10 0h2m98 0h3m196 0h1m68 0h3m1 0h3m56 0h3m27 0h2m38 0h4m10 0h3m18 0h3m43 0h1m113 0h1m1 0h1m5 0h1m17 0h3m3 0h1m16 0h1m15 0h1M61 1078.1h2m11 0h1m74 0h2m156 0h1m190 0h2m8 0h1m1 0h2m4 0h2m15 0h1m38 0h2m7 0h1m3 0h2m7 0h3m21 0h1m36 0h1m20 0h1m24 0h2m12 0h1m2 0h2m20 0h2m4 0h3m58 0h1m87 0h1m18 0h3m23 0h3m23 0h2m1 0h2M54 1083.7h2m49 0h3m62 0h1m35 0h1m284 0h2m29 0h3m11 0h1m40 0h1m10 0h5m26 0h1m36 0h1m6 0h2m4 0h2m12 0h1m2 0h1m42 0h1m32 0h3m139 0h3m16 0h2m14 0h2m32 0h1M60 1089.3h2m191 0h1m358 0h2m24 0h1m1 0h2m26 0h1m10 0h2m185 0h3m4 0h2m20 0h1m55 0h2M45 1094.9h3m6 0h3m17 0h2m16 0h2m405 0h1m7 0h1m7 0h2m15 0h3m51 0h1m14 0h1m3 0h1m38 0h1m40 0h3m15 0h2m3 0h3m199 0h2m13 0h3m28 0h2M52 1100.5h2m4 0h2m6 0h4m20 0h2m42 0h1m15 0h2m63 0h2m95 0h3m183 0h2m36 0h3m1 0h1m4 0h1m17 0h2m11 0h2m24 0h1m28 0h2m44 0h1m10 0h3m11 0h3m7 0h2m1 0h1m1 0h1m8 0h1m38 0h2M50 1106.1h1m6 0h2m94 0h2m355 0h3m13 0h2m55 0h2m47 0h1m28 0h3m17 0h2m9 0h1m36 0h4m30 0h2m39 0h2m84 0h3M44 1111.7h1m437 0h1m43 0h2m84 0h2m9 0h2m3 0h3m33 0h1m10 0h1m3 0h2m2 0h2m13 0h1m4 0h1m11 0h1m13 0h3m26 0h2m6 0h1m123 0h3M57 1117.3h1m13 0h3m4 0h3m63 0h1m141 0h1m12 0h2m210 0h1m6 0h3m1 0h3m15 0h2m56 0h1m13 0h2m7 0h3m20 0h1m51 0h1m6 0h2m170 0h1m14 0h2m57 0h2m9 0h2M61 1122.9h2m15 0h2m28 0h3m24 0h1m47 0h2m95 0h2m201 0h2m12 0h3m11 0h2m37 0h1m33 0h2m2 0h3m4 0h1m7 0h1m16 0h2m12 0h3m4 0h1m12 0h2m66 0h1m17 0h2m3 0h1m10 0h1m8 0h2m27 0h2m75 0h1m7 0h3m18 0h2m53 0h3M68 1128.5h2m161 0h3m97 0h2m8 0h3m172 0h4m28 0h1m2 0h1m10 0h2m54 0h2m34 0h3m39 0h3m6 0h1m16 0h3m99 0h2m4 0h2m62 0h2m76 0h1M71 1134.1h1m302 0h2m115 0h2m35 0h1m17 0h2m64 0h1m8 0h2m4 0h1m4 0h1m58 0h2m10 0h1m28 0h1m15 0h3m14 0h1m127 0h1m1 0h2m2 0h1M78 1139.7h2m417 0h1m52 0h3m31 0h3m40 0h3m10 0h2m15 0h3m2 0h3m9 0h2m4 0h2m1 0h3m8 0h1m31 0h1m3 0h3m16 0h1m150 0h1m40 0h2m15 0h3m3 0h2m6 0h1M61 1145.3h1m1 0h4m13 0h2m24 0h1m22 0h1m162 0h2m66 0h1m16 0h1m93 0h1m304 0h2m137 0h1m36 0h2M52 1150.9h3m16 0h2m108 0h1m117 0h1m64 0h2m8 0h2m149 0h1m277 0h2m98 0h3m12 0h3M46 1156.5h3m5 0h1m12 0h2m4 0h5m5 0h1m43 0h3m121 0h2m137 0h2m82 0h2m34 0h3m64 0h1m199 0h3m13 0h2M48 1162.1h1m1 0h3m1 0h2m6 0h1m11 0h5m171 0h1m213 0h3m324 0h2m3 0h1m14 0h2m109 0h2m38 0h3M157 1167.7h2m65 0h1m5 0h2m48 0h1m142 0h1m113 0h2m66 0h3m155 0h1m12 0h3m17 0h2m1 0h1m95 0h2m26 0h2m33 0h2M44 1173.2h1m235 0h2m127 0h1m12 0h3m23 0h3m3 0h1m147 0h2m172 0h1m3 0h1m9 0h2m2 0h2m4 0h3m6 0h3m89 0h2m22 0h2m37 0h3M54 1178.8h3m10 0h1m2 0h4m5 0h2m2 0h2m8 0h2m231 0h3m53 0h3m4 0h1m45 0h2m341 0h1m22 0h2m146 0h2m19 0h3M45 1184.4h4m16 0h2m65 0h2m27 0h1m32 0h2m19 0h2m33 0h2m163 0h2m136 0h3m219 0h2m2 0h2m17 0h3m89 0h3m6 0h1m3 0h3m65 0h3M48 1190h2m43 0h1m50 0h1m19 0h1m190 0h2m142 0h1m21 0h2m267 0h1m5 0h2m14 0h1m82 0h2m2 0h2M63 1195.6h1m8 0h2m75 0h2m29 0h2m18 0h2m5 0h2m5 0h1m33 0h3m26 0h1m47 0h1m43 0h2m77 0h1m64 0h2m3 0h1m18 0h3m4 0h1m49 0h1m193 0h1m2 0h1m25 0h1m77 0h2m14 0h1m10 0h1m10 0h1m4 0h1M71 1201.2h2m37 0h1m113 0h3m113 0h1m20 0h2m57 0h2m362 0h2m20 0h2m87 0h5m20 0h2m16 0h3m5 0h1M52 1206.8h2m51 0h1m75 0h1m7 0h3m171 0h3m410 0h1m6 0h2m3 0h1m110 0h2m21 0h2m6 0h3m21 0h2m7 0h1M44 1212.4h1m2 0h2m2 0h1m5 0h2m35 0h3m131 0h2m105 0h2m8 0h1m4 0h2m22 0h1m6 0h1m387 0h2m119 0h5m43 0h2m18 0h1m4 0h2M50 1218h1m4 0h1m4 0h1m10 0h1m25 0h1m31 0h1m30 0h2m68 0h2m20 0h2m77 0h2m41 0h1m20 0h3m43 0h1m5 0h2m13 0h1m61 0h2m6 0h3m9 0h1m12 0h1m7 0h3m11 0h1m1 0h1m201 0h1m22 0h1m4 0h1m3 0h1m124 0h1M161 1223.6h3m54 0h2m23 0h3m13 0h3m7 0h1m9 0h3m4 0h1m71 0h1m23 0h1m26 0h1m75 0h2m70 0h2m218 0h1m3 0h3m10 0h1m12 0h3m128 0h4M72 1229.2h2m47 0h1m47 0h1m49 0h2m146 0h1m197 0h2m211 0h2m2 0h1m11 0h1m2 0h1m139 0h2m33 0h2M59 1234.8h3m16 0h3m40 0h1m27 0h1m23 0h3m22 0h3m40 0h1m21 0h3m84 0h2m59 0h2m9 0h2m77 0h1m23 0h2m12 0h1m8 0h2m16 0h1m7 0h3m25 0h2m190 0h1m11 0h1m90 0h1m4 0h2m69 0h1M50 1240.4h2m8 0h2m10 0h1m13 0h1m26 0h3m1 0h1m23 0h2m46 0h2m15 0h3m1 0h3m64 0h2m16 0h3m32 0h1m78 0h2m88 0h1m12 0h1m28 0h3m2 0h2m225 0h4m8 0h5m7 0h1m97 0h1M44 1246h3m24 0h1m27 0h2m12 0h1m7 0h2m10 0h2m74 0h1m12 0h2m1 0h3m3 0h1m46 0h3m77 0h1m18 0h2m12 0h2m49 0h1m10 0h3m8 0h3m24 0h2m5 0h1m34 0h3m56 0h2m190 0h1m8 0h1m178 0h1M66 1251.6h2m31 0h1m41 0h3m59 0h1m9 0h1m13 0h2m19 0h3m3 0h3m2 0h2m11 0h1m1 0h2m18 0h1m50 0h1m45 0h1m60 0h1m4 0h2m6 0h1m11 0h1m4 0h2m14 0h2m10 0h3m45 0h1m15 0h2m5 0h1m194 0h1m5 0h2m10 0h1m10 0h2m14 0h1m91 0h2m31 0h1M49 1341.1h1m4 0h1m7 0h3m1 0h1m12 0h2m5 0h2m26 0h1m44 0h2m7 0h4m30 0h3m16 0h3m33 0h1m42 0h1m208 0h1m41 0h1m272 0h3m44 0h1M74 1346.7h1m88 0h1m91 0h2m257 0h2m30 0h1m3 0h1m12 0h1m264 0h2m14 0h1M64 1352.3h2m79 0h3m20 0h3m107 0h1m9 0h3m3 0h2m3 0h3m9 0h2m186 0h3m35 0h2m41 0h2m216 0h2m77 0h2M49 1357.9h2m9 0h2m86 0h1m64 0h1m58 0h3m13 0h1m217 0h2m36 0h1m252 0h2m26 0h1m22 0h2"/><path stroke="#d84a3a" stroke-width="5.65" fill="none" d="M74 876.7h3m121 0h2m19 0h1m56 0h3m20 0h1m54 0h1m13 0h3m36 0h3m27 0h3m57 0h2m11 0h1m9 0h3m35 0h1m9 0h3m4 0h3m9 0h1m63 0h2m84 0h2m86 0h1m80 0h3m29 0h2M70 882.3h1m60 0h3m95 0h3m14 0h2m16 0h2m21 0h1m7 0h2m113 0h2m29 0h1m5 0h2m18 0h2m22 0h2m27 0h2m54 0h1m9 0h3m61 0h4m131 0h1m59 0h2m62 0h2m38 0h1M88 887.9h1m22 0h1m72 0h1m16 0h2m1 0h2m7 0h1m143 0h1m6 0h2m38 0h1m36 0h3m79 0h1m1 0h1m22 0h2m22 0h3m40 0h2m110 0h1m11 0h3m15 0h3m194 0h1M102 893.5h2m67 0h3m106 0h1m44 0h1m65 0h3m5 0h4m27 0h3m1 0h2m14 0h2m7 0h1m9 0h3m70 0h2m89 0h2m34 0h2m74 0h2m33 0h1m109 0h3m50 0h2m12 0h1M75 899.1h1m2 0h1m41 0h3m7 0h3m24 0h1m6 0h1m94 0h1m40 0h2m131 0h1m7 0h1m13 0h3m77 0h3m62 0h2m74 0h4m282 0h2M67 904.7h4m3 0h1m13 0h2m17 0h2m13 0h2m13 0h2m84 0h2m25 0h1m80 0h1m35 0h2m102 0h2m66 0h1m27 0h1m2 0h1m13 0h3m26 0h3m30 0h3m20 0h1m14 0h3m68 0h1m27 0h2m20 0h2m95 0h3m60 0h2M574 910.3h2m321 0h3M146 915.9h3m18 0h1m37 0h1m303 0h3m260 0h2m27 0h3m40 0h2m8 0h3m7 0h2m29 0h2m28 0h1M97 921.5h2m10 0h1m21 0h2m37 0h1m56 0h3m48 0h2m16 0h2m5 0h3m183 0h1m14 0h2m26 0h2m15 0h2m44 0h1m195 0h1m49 0h2m14 0h1m31 0h1M144 927.1h2m7 0h2m31 0h4m35 0h3m26 0h2m7 0h1m14 0h2m194 0h2m46 0h2m81 0h2m178 0h3m142 0h1m6 0h3M159 932.6h1m21 0h3m2 0h2m2 0h2m34 0h2m320 0h3m243 0h3m56 0h2m82 0h2M133 938.2h2m67 0h2m7 0h2m7 0h1m7 0h2m46 0h1m42 0h2m161 0h1m13 0h2m4 0h2m69 0h2m9 0h2m185 0h2m53 0h1m76 0h2m28 0h2M131 943.8h3m60 0h1m22 0h1m13 0h1m7 0h1m49 0h2m203 0h3m7 0h2m78 0h2m8 0h2m177 0h2m8 0h3m27 0h3m77 0h1m40 0h1M122 949.4h2m410 0h3m12 0h3m220 0h3m47 0h1m8 0h2m1 0h2m3 0h3m44 0h1m1 0h2M92 955h3m418 0h1m262 0h3m37 0h2m15 0h1m14 0h1M95 960.6h2m26 0h2m108 0h1m42 0h1m45 0h3m229 0h5m246 0h1m41 0h3m47 0h1m62 0h2M270 966.2h2m1 0h1m203 0h2m10 0h3m8 0h2m52 0h3m215 0h2m5 0h3m7 0h2m65 0h2m50 0h1M105 971.8h3m208 0h1m156 0h2m7 0h1m3 0h7m69 0h1m212 0h1m9 0h3m51 0h3m5 0h3m8 0h1m2 0h2m55 0h2m18 0h1M105 977.4h3m17 0h1m147 0h2m5 0h1m259 0h1m307 0h5m8 0h1m32 0h2m3 0h3m29 0h2m1 0h1M102 983h3m8 0h2m25 0h1m122 0h2m6 0h1m284 0h1m7 0h1m27 0h1m219 0h1M315 988.6h2m227 0h1m58 0h2m218 0h2m6 0h2m3 0h1m21 0h2m4 0h2M108 994.2h3m6 0h3m106 0h2m42 0h3m225 0h2m7 0h1m24 0h1m2 0h3m36 0h2m328 0h1m34 0h2M94 999.8h2m176 0h2m15 0h1m6 0h2m201 0h2m43 0h2m42 0h2m5 0h2m8 0h1m172 0h2m3 0h1m1 0h3m71 0h2m14 0h2m17 0h1M88 1005.4h1m127 0h2m101 0h1m193 0h1m78 0h2m252 0h2m63 0h1m19 0h1M170 1011h2m26 0h1m12 0h1m1 0h2m55 0h3m42 0h2m211 0h4m1 0h3m83 0h2m126 0h1m90 0h2m48 0h2m17 0h2m27 0h3M213 1016.6h3m7 0h1m7 0h1m25 0h3m60 0h1m221 0h2m21 0h1m97 0h2m113 0h2m54 0h1M67 1022.2h1m56 0h2m396 0h1m248 0h3M546 1027.8h2m67 0h1m28 0h2m44 0h2m70 0h1m75 0h1m17 0h2m19 0h2m47 0h2M517 1033.4h1m40 0h2m61 0h2m60 0h2m19 0h3m2 0h1m83 0h2m19 0h2m8 0h3m79 0h2m10 0h1m37 0h2M57 1039h1m148 0h1m336 0h2m40 0h3m60 0h3m8 0h1m13 0h2m1 0h2m2 0h2m4 0h5m23 0h2m16 0h2m21 0h3m45 0h1m27 0h3m56 0h1m82 0h1M88 1044.6h2m28 0h1m50 0h1m75 0h3m235 0h1m56 0h3m14 0h2m92 0h2m48 0h2m2 0h4m4 0h1m11 0h3m6 0h2m127 0h1m42 0h3m9 0h2m9 0h1m43 0h1M254 1050.1h2m31 0h2m188 0h1m47 0h1m4 0h5m69 0h2m23 0h2m34 0h1m48 0h3m16 0h2m93 0h1m18 0h2m25 0h2m42 0h2M127 1055.7h2m37 0h2m55 0h3m64 0h3m23 0h5m1 0h3m178 0h2m8 0h1m54 0h2m5 0h3m6 0h2m26 0h1m33 0h2m33 0h2m79 0h1m76 0h2m82 0h2m22 0h2m13 0h3M86 1061.3h3m41 0h1m164 0h2m177 0h2m221 0h2m155 0h1m84 0h2M62 1066.9h2m487 0h2m52 0h3m40 0h2m5 0h1m23 0h1m34 0h1m24 0h1M104 1072.5h1m71 0h1m4 0h1m95 0h2m32 0h1m196 0h1m13 0h3m27 0h3m9 0h3m90 0h2m22 0h2m16 0h1m69 0h2m129 0h2m37 0h1m15 0h3M65 1078.1h2m236 0h3m200 0h1m36 0h1m122 0h1m32 0h2m11 0h2m47 0h3m142 0h2m1 0h1M469 1083.7h2m73 0h2m24 0h1m24 0h1m62 0h1m72 0h3m6 0h1m158 0h1m46 0h2M64 1089.3h2m48 0h2m56 0h2m421 0h3m18 0h2m110 0h2m19 0h1m205 0h1M66 1094.9h2m414 0h1m193 0h2m12 0h3m64 0h2m92 0h2M50 1100.5h2m8 0h1m125 0h2m12 0h1m350 0h1m88 0h2m56 0h2m36 0h3m13 0h1m1 0h2m29 0h3m103 0h1m30 0h1m26 0h2m8 0h1M68 1106.1h3m597 0h1m66 0h1m9 0h2m76 0h3m132 0h1M50 1111.7h2m476 0h2m111 0h1m1 0h2M552 1117.3h2m113 0h3m13 0h1m78 0h2m159 0h1M47 1122.9h3m463 0h2m110 0h1m75 0h1M46 1128.5h3m16 0h2m478 0h1m78 0h2m2 0h2m107 0h3m199 0h2m11 0h1m16 0h2M68 1134.1h3m12 0h3m254 0h2m8 0h1m132 0h1m49 0h2m14 0h1m90 0h1m215 0h2M361 1139.7h1m360 0h2m43 0h1m123 0h3m72 0h2M68 1145.3h2m733 0h2m8 0h1m125 0h2M330 1150.9h3m214 0h1m242 0h2m122 0h3m10 0h1M63 1156.5h2m304 0h3m525 0h2M45 1162.1h3m329 0h1m139 0h1m279 0h3m125 0h2M65 1167.7h2m342 0h3m378 0h3m17 0h1m146 0h1M46 1173.2h2m1 0h1m13 0h1m379 0h3m444 0h2M392 1178.8h1m68 0h1m318 0h2m28 0h3M576 1184.4h2M78 1190h2m426 0h1M137 1195.6h1m212 0h2m109 0h3m1 0h2m62 0h1m386 0h1M316 1201.2h1m57 0h1m89 0h1M60 1206.8h1m204 0h1m652 0h2M65 1212.4h2m17 0h3m80 0h1m91 0h1m64 0h2m34 0h1m124 0h2m284 0h1m3 0h1m34 0h2M48 1218h2m27 0h2m15 0h1m180 0h2m91 0h2m29 0h3m48 0h2m106 0h2m331 0h1m24 0h2m55 0h1M48 1223.6h4m4 0h2m21 0h2m11 0h1m118 0h3m2 0h2m144 0h2m101 0h3m65 0h1m384 0h1M58 1229.2h3m753 0h1m148 0h2M48 1234.8h2m113 0h1m19 0h3m17 0h1m48 0h1m14 0h1m27 0h2m84 0h1m70 0h1m330 0h2m131 0h1m19 0h2m25 0h3M58 1240.4h1m128 0h2m54 0h3m114 0h2m106 0h1m49 0h3m1 0h2m41 0h1m212 0h1m3 0h1m23 0h2M64 1246h1m74 0h3m40 0h1m129 0h1m164 0h1m93 0h3m211 0h2m113 0h1m48 0h2M110 1251.6h2m32 0h1m27 0h2m73 0h1m63 0h2m40 0h1m13 0h1m99 0h1m317 0h1m2 0h1m24 0h1M50 1341.1h2m63 0h2m107 0h2m258 0h2M198 1346.7h3m88 0h2m276 0h1m33 0h2M86 1352.3h2m142 0h2m14 0h2m295 0h2m313 0h1M53 1357.9h2"/><path stroke="#f7eff2" stroke-width="5.65" fill="none" d="M109 876.7h2m22 0h3m12 0h3m9 0h2m64 0h1m23 0h2m2 0h3m13 0h1m44 0h1m41 0h3m11 0h1m16 0h1m28 0h3m6 0h2m2 0h3m37 0h2m19 0h1m1 0h1m39 0h1m27 0h2m31 0h1m34 0h1m6 0h1m8 0h2m54 0h4m1 0h3m3 0h2m3 0h3m2 0h2m2 0h2m26 0h1m28 0h2m3 0h2m2 0h2m74 0h1m97 0h2M50 882.3h1m9 0h1m24 0h2m38 0h3m29 0h1m13 0h2m3 0h2m25 0h1m12 0h1m11 0h1m9 0h3m44 0h2m27 0h3m13 0h3m17 0h2m14 0h2m5 0h1m68 0h3m17 0h2m13 0h1m29 0h1m9 0h3m8 0h3m61 0h1m28 0h2m2 0h2m6 0h5m28 0h1m7 0h2m13 0h2m21 0h3m4 0h3m16 0h2m10 0h2m9 0h3m3 0h3m2 0h2m33 0h3m83 0h2m18 0h2m17 0h3m5 0h1m11 0h3m1 0h3m2 0h2M48 887.9h3m23 0h3m44 0h1m8 0h2m25 0h3m1 0h4m20 0h2m1 0h3m38 0h1m9 0h3m11 0h1m3 0h5m4 0h2m1 0h2m14 0h1m3 0h3m4 0h3m10 0h2m8 0h2m11 0h1m2 0h3m15 0h3m30 0h3m12 0h3m5 0h1m4 0h2m81 0h2m18 0h2m23 0h1m48 0h3m43 0h3m22 0h2m25 0h2m1 0h2m4 0h2m44 0h4m20 0h1m5 0h3m98 0h2m76 0h1m8 0h1m5 0h1M56 893.5h2m13 0h2m9 0h2m59 0h1m15 0h2m55 0h2m1 0h2m4 0h3m8 0h3m15 0h1m8 0h2m30 0h2m7 0h3m10 0h1m28 0h1m61 0h1m7 0h2m8 0h1m20 0h3m44 0h1m18 0h3m18 0h1m23 0h1m6 0h1m15 0h1m13 0h1m19 0h1m12 0h3m9 0h3m9 0h1m1 0h1m80 0h2m29 0h1m9 0h2m39 0h3m4 0h1m74 0h2m37 0h4M54 899.1h1m93 0h1m21 0h1m5 0h1m46 0h2m2 0h3m18 0h2m14 0h1m3 0h1m18 0h2m1 0h3m11 0h3m22 0h3m27 0h1m14 0h2m8 0h3m57 0h1m13 0h2m70 0h2m17 0h1m25 0h1m80 0h3m3 0h2m9 0h3m9 0h2m7 0h2m131 0h1m92 0h2m51 0h1M75 904.7h1m42 0h2m4 0h1m7 0h1m15 0h1m17 0h3m47 0h3m6 0h4m30 0h2m9 0h2m4 0h1m11 0h2m29 0h5m33 0h1m83 0h1m12 0h2m5 0h3m4 0h2m21 0h1m5 0h1m3 0h1m30 0h1m49 0h1m28 0h1m8 0h3m8 0h3m2 0h2m18 0h3m29 0h1m48 0h3m16 0h2m46 0h1m86 0h2m6 0h1m7 0h2m4 0h2m2 0h4m8 0h1m32 0h3M203 910.3h1m600 0h2m96 0h3m1 0h2M153 915.9h2m4 0h2m18 0h1m3 0h2m23 0h1m6 0h1m27 0h4m48 0h2m3 0h3m5 0h2m183 0h1m18 0h2m11 0h2m25 0h2m224 0h2m29 0h2m4 0h1m7 0h3m65 0h2m4 0h1m2 0h2m25 0h1m36 0h3M113 921.5h2m7 0h1m16 0h2m4 0h1m8 0h2m18 0h1m10 0h2m38 0h2m22 0h1m23 0h2m20 0h1m19 0h1m166 0h1m29 0h3m15 0h1m6 0h1m2 0h3m24 0h1m2 0h1m224 0h1m8 0h1m12 0h3m1 0h2m10 0h2m20 0h2m11 0h1m3 0h2m12 0h3m14 0h2m7 0h2m4 0h1m18 0h2m33 0h2M85 927.1h3m16 0h3m7 0h2m30 0h2m15 0h3m15 0h2m27 0h1m40 0h2m20 0h2m10 0h3m10 0h2m15 0h2m160 0h1m26 0h2m7 0h3m2 0h2m42 0h1m20 0h3m6 0h3m9 0h1m190 0h1m5 0h5m8 0h2m12 0h3m10 0h2m1 0h3m4 0h1m30 0h3m35 0h4m16 0h1m28 0h2M97 932.6h1m7 0h2m18 0h2m23 0h2m1 0h1m25 0h2m26 0h2m34 0h2m12 0h2m61 0h1m3 0h1m1 0h3m199 0h2m3 0h3m18 0h2m10 0h2m217 0h1m11 0h3m8 0h2m31 0h1m9 0h2m14 0h1m5 0h2m5 0h1m18 0h3m2 0h2M117 938.2h1m1 0h2m4 0h2m12 0h2m31 0h1m33 0h2m8 0h2m42 0h1m26 0h3m6 0h1m7 0h2m1 0h3m189 0h3m10 0h2m18 0h1m45 0h1m3 0h2m3 0h1m6 0h1m181 0h3m7 0h1m29 0h3m1 0h2m14 0h2m3 0h1m57 0h2m37 0h3m16 0h3M99 943.8h1m41 0h1m2 0h3m4 0h2m53 0h1m19 0h3m21 0h1m11 0h3m11 0h1m3 0h2m5 0h2m9 0h1m10 0h2m177 0h2m10 0h1m25 0h1m8 0h3m8 0h1m4 0h2m15 0h3m12 0h1m2 0h2m10 0h1m187 0h2m2 0h2m6 0h1m3 0h3m1 0h1m35 0h1m14 0h1m43 0h2m5 0h3m43 0h4m11 0h2M104 949.4h1m114 0h3m3 0h1m1 0h2m12 0h1m3 0h2m246 0h1m4 0h1m18 0h2m51 0h4m26 0h2m4 0h1m156 0h2m14 0h1m6 0h2m21 0h2m35 0h3m33 0h3m18 0h2m5 0h2m4 0h2m16 0h2m16 0h3M99 955h2m8 0h2m3 0h1m5 0h3m4 0h1m90 0h1m34 0h3m24 0h2m8 0h2m15 0h3m170 0h1m2 0h3m3 0h1m3 0h1m13 0h2m16 0h2m9 0h3m58 0h1m190 0h1m14 0h4m7 0h2m21 0h3m49 0h1m14 0h2m13 0h2m1 0h1m21 0h1M114 960.6h3m95 0h1m11 0h6m18 0h2m23 0h2m25 0h2m12 0h3m195 0h3m7 0h1m2 0h1m3 0h1m10 0h1m26 0h1m203 0h1m48 0h1m4 0h1m11 0h3m13 0h2m2 0h2m30 0h2m16 0h1m14 0h3M102 966.2h2m94 0h3m26 0h2m30 0h1m4 0h2m19 0h2m3 0h1m4 0h1m4 0h3m3 0h2m163 0h1m11 0h1m2 0h1m11 0h2m8 0h2m1 0h1m16 0h2m11 0h1m9 0h2m25 0h3m24 0h2m194 0h1m24 0h1m19 0h3m12 0h1m9 0h1m7 0h1m21 0h2m8 0h1m1 0h1m7 0h3m1 0h2M95 971.8h1m6 0h3m19 0h3m97 0h1m32 0h1m11 0h2m2 0h2m7 0h1m224 0h2m39 0h1m33 0h1m5 0h3m185 0h1m5 0h2m11 0h1m19 0h2m6 0h1m51 0h1m6 0h3m12 0h2m10 0h1m22 0h1m10 0h1m14 0h1m3 0h1M121 977.4h3m92 0h1m58 0h1m11 0h1m11 0h3m1 0h1m18 0h3m190 0h1m13 0h1m18 0h2m20 0h2m18 0h2m192 0h2m11 0h3m10 0h2m7 0h1m20 0h2m17 0h2m24 0h2m35 0h4m14 0h2M126 983h1m114 0h2m14 0h3m229 0h2m6 0h3m3 0h1m6 0h2m2 0h2m28 0h3m4 0h3m13 0h1m3 0h5m3 0h2m198 0h1m14 0h2m15 0h1m2 0h2m18 0h2m34 0h3m23 0h3m5 0h1m15 0h2m16 0h2m28 0h1M132 988.6h2m85 0h1m25 0h2m45 0h1m19 0h2m6 0h2m174 0h3m12 0h1m3 0h2m8 0h3m4 0h3m27 0h3m216 0h8m17 0h2m11 0h4m26 0h1m1 0h2m35 0h2m17 0h1m9 0h2m39 0h1M123 994.2h2m106 0h1m7 0h1m1 0h1m7 0h3m21 0h1m18 0h2m12 0h3m6 0h2m252 0h3m12 0h2m2 0h2m4 0h3m4 0h3m164 0h2m8 0h1m4 0h3m29 0h1m35 0h1m14 0h3m12 0h2m55 0h1M121 999.8h1m4 0h1m5 0h1m136 0h2m40 0h3m160 0h1m22 0h2m22 0h3m8 0h3m16 0h2m45 0h2m193 0h2m2 0h3m5 0h2m39 0h3m14 0h5m12 0h3m27 0h3m14 0h2m4 0h3m21 0h2M110 1005.4h2m8 0h2m96 0h1m5 0h1m34 0h2m53 0h2m8 0h1m171 0h2m19 0h1m14 0h1m3 0h2m34 0h3m9 0h1m184 0h2m5 0h3m20 0h3m6 0h2m56 0h1m2 0h2m30 0h2m1 0h2m6 0h2m43 0h2m3 0h2M161 1011h2m41 0h3m38 0h3m14 0h3m27 0h3m34 0h1m122 0h3m6 0h2m36 0h3m34 0h1m15 0h2m1 0h3m23 0h3m3 0h1m148 0h2m61 0h2m5 0h2m5 0h2m21 0h2m57 0h4m20 0h2m14 0h1M224 1016.6h1m24 0h1m40 0h1m33 0h1m75 0h3m36 0h2m37 0h1m76 0h1m2 0h2m185 0h2m15 0h3m10 0h2m24 0h2m20 0h1m15 0h3m14 0h2m6 0h1m9 0h1m4 0h2m40 0h3m5 0h3m14 0h2M139 1022.2h1m368 0h1m24 0h1m6 0h1m3 0h2m33 0h1m3 0h2m43 0h2m22 0h2m34 0h2m64 0h2m43 0h2m6 0h1m6 0h1m43 0h3m31 0h2m19 0h1m13 0h1m5 0h1m6 0h1m12 0h1M50 1027.8h2m52 0h1m108 0h2m250 0h2m4 0h3m1 0h2m54 0h3m16 0h1m55 0h1m49 0h1m25 0h2m92 0h1m40 0h1m3 0h3m18 0h1m16 0h1m37 0h3m1 0h2m27 0h2m6 0h3m27 0h1M70 1033.4h3m89 0h2m3 0h2m50 0h2m325 0h1m4 0h5m174 0h1m54 0h3m13 0h1m7 0h3m8 0h2m29 0h2m8 0h1m8 0h3m2 0h1m34 0h1m31 0h1M44 1039h2m46 0h3m23 0h1m12 0h2m12 0h3m5 0h1m57 0h3m57 0h2m9 0h2m17 0h2m20 0h3m160 0h3m23 0h1m20 0h2m5 0h2m49 0h3m11 0h2m58 0h3m15 0h2m17 0h1m123 0h3m28 0h1m15 0h2m33 0h3m58 0h2M64 1044.6h2m3 0h2m85 0h2m31 0h3m69 0h3m23 0h2m4 0h3m5 0h1m22 0h2m163 0h2m19 0h3m31 0h2m82 0h2m24 0h3m5 0h3m1 0h3m4 0h2m20 0h2m44 0h3m39 0h5m27 0h2m1 0h2m60 0h2m21 0h1m26 0h1m5 0h2m11 0h3M45 1050.1h1m7 0h3m8 0h1m6 0h2m29 0h1m43 0h2m12 0h3m13 0h1m60 0h2m25 0h3m37 0h2m3 0h3m162 0h3m18 0h1m11 0h2m6 0h2m34 0h2m8 0h1m23 0h2m33 0h3m5 0h1m11 0h1m5 0h1m8 0h2m49 0h3m17 0h3m34 0h1m62 0h2m74 0h1m11 0h1m7 0h1M71 1055.7h3m48 0h3m34 0h2m52 0h1m37 0h2m10 0h2m10 0h2m238 0h1m2 0h2m5 0h2m5 0h1m18 0h1m22 0h1m16 0h2m16 0h2m17 0h2m26 0h1m14 0h2m1 0h1m3 0h3m3 0h2m35 0h1m17 0h3m13 0h1m13 0h1m50 0h3m84 0h2m12 0h2m9 0h2m6 0h3m12 0h2m15 0h1M135 1061.3h1m49 0h2m6 0h1m77 0h3m32 0h3m182 0h3m47 0h2m7 0h1m18 0h2m45 0h2m3 0h2m5 0h1m3 0h2m4 0h1m23 0h1m13 0h1m45 0h2m10 0h3m100 0h3m27 0h1m7 0h1m35 0h3m2 0h2m18 0h2m21 0h1M57 1066.9h1m48 0h1m5 0h1m24 0h3m11 0h2m166 0h2m155 0h1m8 0h2m10 0h3m44 0h3m23 0h1m6 0h1m33 0h2m15 0h1m71 0h4m3 0h3m22 0h1m1 0h1m13 0h2m171 0h3m2 0h3m33 0h1M82 1072.5h1m1 0h1m3 0h3m16 0h2m53 0h1m90 0h2m278 0h1m6 0h1m37 0h2m31 0h2m63 0h2m12 0h1m5 0h1m45 0h1m7 0h1m16 0h1m131 0h1m29 0h2m21 0h2M67 1078.1h1m201 0h2m213 0h3m10 0h1m27 0h1m89 0h2m8 0h1m36 0h1m17 0h3m20 0h1m4 0h2m44 0h6m137 0h3m1 0h2m8 0h1m51 0h2M45 1083.7h1m69 0h1m41 0h2m28 0h2m33 0h2m88 0h1m158 0h1m25 0h2m11 0h3m52 0h2m15 0h3m16 0h2m39 0h1m1 0h3m7 0h1m12 0h1m24 0h1m8 0h3m41 0h1m2 0h2m142 0h1m19 0h3m2 0h1m13 0h4m14 0h2m8 0h1M55 1089.3h1m16 0h3m6 0h2m84 0h1m62 0h2m268 0h2m6 0h1m12 0h1m43 0h1m63 0h2m1 0h2m8 0h2m11 0h2m42 0h1m25 0h1m197 0h3m6 0h1m13 0h1m21 0h1M57 1094.9h1m266 0h2m151 0h1m47 0h3m12 0h2m36 0h1m5 0h1m37 0h2m7 0h2m24 0h1m25 0h1m65 0h2m1 0h2m5 0h2m136 0h1m2 0h2m5 0h1m11 0h1m18 0h2m6 0h1m17 0h2m3 0h1M76 1100.5h1m69 0h3m28 0h2m97 0h1m199 0h1m34 0h1m19 0h3m33 0h3m18 0h3m14 0h1m41 0h1m17 0h1m17 0h2m34 0h3m1 0h1m9 0h2m11 0h3m8 0h1m4 0h3m130 0h2m43 0h3m27 0h1m2 0h1M72 1106.1h1m1 0h2m3 0h3m458 0h2m33 0h2m8 0h3m56 0h2m23 0h3m29 0h4m16 0h3m23 0h3m104 0h1m72 0h2m10 0h2M79 1111.7h1m213 0h2m183 0h2m45 0h1m57 0h2m111 0h2m3 0h2m6 0h1m124 0h1m59 0h1m4 0h3m9 0h3m17 0h2m14 0h2M65 1117.3h2m35 0h2m399 0h1m1 0h2m52 0h2m27 0h1m22 0h1m37 0h1m2 0h3m42 0h2m39 0h1m8 0h2m7 0h2m7 0h4m86 0h3m43 0h1m45 0h1M84 1122.9h1m137 0h3m83 0h2m198 0h3m20 0h2m18 0h2m6 0h2m69 0h3m12 0h3m51 0h2m1 0h3m5 0h2m32 0h1m16 0h1m5 0h3m8 0h3m42 0h1m9 0h5m34 0h2m17 0h2m1 0h1m2 0h3M44 1128.5h1m26 0h2m5 0h1m295 0h2m120 0h2m54 0h1m57 0h3m13 0h1m35 0h2m30 0h1m17 0h1m43 0h2m176 0h1M66 1134.1h2m10 0h1m1 0h2m76 0h1m53 0h3m144 0h1m13 0h1m8 0h1m132 0h2m144 0h1m7 0h2m2 0h2m26 0h2m14 0h3m4 0h1m20 0h1m138 0h2m83 0h1M158 1139.7h1m105 0h3m15 0h2m221 0h2m16 0h1m101 0h2m5 0h1m10 0h2m3 0h2m27 0h1m8 0h1m5 0h2m9 0h2m7 0h3m1 0h2m22 0h2m21 0h3m9 0h2m11 0h2m104 0h5m27 0h1m7 0h2m37 0h1M45 1145.3h1m30 0h3m7 0h1m190 0h1m506 0h3m28 0h2m2 0h1m87 0h2m13 0h2m13 0h1m5 0h2M45 1150.9h1m28 0h1m180 0h1m529 0h1m6 0h1m136 0h3M55 1156.5h1m37 0h2m329 0h2m363 0h1m133 0h1m40 0h2M53 1162.1h1m242 0h1m491 0h2m3 0h3m99 0h2m32 0h3m37 0h2M60 1167.7h5m10 0h5m274 0h1m62 0h1m93 0h2m27 0h2m225 0h2m14 0h3m177 0h1M50 1173.2h3m18 0h5m216 0h3m24 0h2m41 0h2m12 0h2m9 0h1m379 0h1m16 0h2m186 0h1M74 1178.8h3m8 0h4m3 0h1m22 0h2m215 0h1m39 0h3m203 0h1m198 0h1m9 0h2m4 0h2m120 0h2m4 0h2m41 0h3M184 1184.4h1m22 0h2m15 0h1m2 0h2m102 0h2m43 0h2m427 0h3m98 0h2m48 0h2M53 1190h2m8 0h1m10 0h2m140 0h1m160 0h3m396 0h2m24 0h3m14 0h1M54 1195.6h1m5 0h2m2 0h5m15 0h2m19 0h1m7 0h2m7 0h2m2 0h1m84 0h3m69 0h3m4 0h3m24 0h3m74 0h3m63 0h1m15 0h1m7 0h1m24 0h2m49 0h1m17 0h1m27 0h1m189 0h1m4 0h2m149 0h2m3 0h1m15 0h1M52 1201.2h2m20 0h1m257 0h3m16 0h2m422 0h2m129 0h2M44 1206.8h1m22 0h1m16 0h4m14 0h2m136 0h2m309 0h1m18 0h1m220 0h2m97 0h1m4 0h2m5 0h1M75 1212.4h1m105 0h1m15 0h1m8 0h2m3 0h1m1 0h3m142 0h2m108 0h1m296 0h1m6 0h2m5 0h2m17 0h3m110 0h2M63 1218h2m3 0h1m14 0h5m17 0h2m32 0h1m80 0h3m62 0h2m28 0h1m34 0h2m3 0h2m18 0h2m36 0h3m47 0h4m9 0h2m28 0h3m6 0h6m16 0h1m44 0h1m347 0h2M54 1223.6h2m31 0h3m7 0h3m49 0h3m39 0h1m96 0h1m26 0h2m33 0h1m23 0h3m23 0h2m8 0h1m13 0h1m19 0h1m30 0h1m1 0h2m36 0h1m15 0h1m17 0h2m224 0h1m8 0h6m23 0h3m81 0h3m44 0h1M70 1229.2h2m2 0h2m157 0h3m56 0h3m48 0h2m13 0h1m426 0h2m142 0h2m24 0h1M45 1234.8h2m15 0h3m27 0h2m8 0h1m19 0h3m2 0h1m17 0h1m5 0h2m71 0h2m80 0h1m18 0h1m11 0h3m33 0h1m9 0h1m10 0h2m50 0h1m61 0h3m29 0h1m3 0h1m50 0h1m169 0h2m138 0h2M63 1240.4h1m3 0h1m6 0h2m2 0h3m135 0h3m11 0h3m7 0h2m115 0h3m56 0h3m23 0h2m29 0h1m3 0h1m22 0h1m29 0h2m45 0h2m25 0h1m197 0h1m127 0h1m13 0h1M49 1246h2m23 0h3m8 0h3m39 0h2m28 0h1m61 0h1m38 0h3m12 0h1m27 0h1m17 0h3m22 0h2m6 0h3m29 0h1m12 0h2m3 0h2m3 0h2m8 0h2m15 0h1m26 0h2m30 0h1m14 0h3m9 0h1m22 0h1m351 0h3m10 0h3m47 0h3M44 1251.6h2m2 0h4m8 0h1m21 0h3m1 0h3m1 0h1m21 0h2m50 0h3m3 0h1m81 0h2m41 0h2m2 0h1m36 0h2m38 0h3m39 0h2m87 0h2m41 0h2m27 0h1m5 0h2m216 0h1m113 0h2m3 0h3m13 0h2M164 1341.1h3m38 0h3m36 0h1m19 0h3m232 0h1m19 0h1m20 0h2m32 0h2m245 0h1m25 0h1m18 0h1m6 0h1M105 1346.7h5m81 0h2m13 0h3m2 0h2m87 0h3m9 0h2m1 0h2m188 0h2m30 0h1m20 0h3m44 0h2m172 0h1m3 0h1M57 1352.3h2m4 0h1m11 0h1m77 0h1m4 0h1m41 0h3m343 0h1m38 0h2m274 0h2M57 1357.9h3m36 0h1m11 0h2m60 0h1m25 0h1m31 0h2m1 0h3m36 0h2m18 0h2m247 0h1m57 0h2m186 0h2m66 0h2"/><path stroke="#e03222" stroke-width="5.65" fill="none" d="M946 910.3h3m3 0h5M132 949.4h2m18 0h1m46 0h1M146 955h1m49 0h3m5 0h1m2 0h3M167 960.6h3m4 0h2m27 0h1M123 966.2h2m15 0h3m7 0h2m36 0h4M139 971.8h2m4 0h3m1 0h1m11 0h2m26 0h2M156 977.4h5m21 0h3m6 0h2m5 0h1M144 983h2m11 0h1m7 0h1m8 0h2m16 0h1M196 988.6h2M138 994.2h1m18 0h3m22 0h1m5 0h2m16 0h1M147 999.8h3m11 0h2m17 0h1M176 1005.4h2m9 0h1m3 0h1m12 0h2M103 1016.6h1m2 0h1m50 0h1m11 0h1m32 0h1M207 1022.2h2m22 0h2m13 0h1m7 0h2m19 0h5m10 0h2m4 0h1m25 0h2M331 1027.8h4m3 0h1m21 0h3m4 0h1m38 0h2m33 0h1m12 0h3M334 1033.4h2m11 0h3m44 0h1m25 0h2m2 0h3m10 0h2m10 0h2m11 0h2m13 0h3M327 1039h1m1 0h2m19 0h1m11 0h1m13 0h2m10 0h2m14 0h3m2 0h3m18 0h1m17 0h1M333 1044.6h1m17 0h2m7 0h1m2 0h1m90 0h1m12 0h3M344 1050.1h1m4 0h2m12 0h2m7 0h2m7 0h2m11 0h4m19 0h1m20 0h2m8 0h1M343 1055.7h2m29 0h3m71 0h1m3 0h2m6 0h2M341 1061.3h3m1 0h2m3 0h1m8 0h1m8 0h2m3 0h2m6 0h2m1 0h2m8 0h1m13 0h2m35 0h1M347 1066.9h2m7 0h4m3 0h2m3 0h3m56 0h1m15 0h3m15 0h2M358 1072.5h4m11 0h1m24 0h4m25 0h3m7 0h1m10 0h3M334 1078.1h2m28 0h2m19 0h1m5 0h1m14 0h1m15 0h2m11 0h1m2 0h3m16 0h1M345 1083.7h3m17 0h2m17 0h7m31 0h1m31 0h1m12 0h1M353 1089.3h1m37 0h3m1 0h3m6 0h5m23 0h2m3 0h3m2 0h1m1 0h2m8 0h3m2 0h2m6 0h3M342 1094.9h2m5 0h1m94 0h1m12 0h1M335 1100.5h3m6 0h3m10 0h2m4 0h1m9 0h3m15 0h4m23 0h4m1 0h2m10 0h2m6 0h1m1 0h2M358 1106.1h1m2 0h1m24 0h3m5 0h3m38 0h1m3 0h1m19 0h1M329 1111.7h5m28 0h1m15 0h1m8 0h2m20 0h1m43 0h1M346 1117.3h2m9 0h1m14 0h2m7 0h2m10 0h1m29 0h1M339 1122.9h2m9 0h2m2 0h1m32 0h3m10 0h2m32 0h1m38 0h2M410 1128.5h1m6 0h1m3 0h1m37 0h1M421 1134.1h3m4 0h2m22 0h2m4 0h1M429 1139.7h2m4 0h2m2 0h3m4 0h1m17 0h2M612 1145.3h2m14 0h5m13 0h2m8 0h2m13 0h2m38 0h3m1 0h1m23 0h1m84 0h2m20 0h3m35 0h3M628 1150.9h2m20 0h1m1 0h5m3 0h2m8 0h2m9 0h1m41 0h3m11 0h2m9 0h2m11 0h2m82 0h2m22 0h2M627 1156.5h3m3 0h1m87 0h5m32 0h3m77 0h4m26 0h2m3 0h1m10 0h1M614 1162.1h3m1 0h1m31 0h2m14 0h2m18 0h2m5 0h2m10 0h1m22 0h1m4 0h2m12 0h3m4 0h2m61 0h2m15 0h1m7 0h3m19 0h2m14 0h1M630 1167.7h2m11 0h1m3 0h2m25 0h1m8 0h2m1 0h1m68 0h2m78 0h1m26 0h1M619 1173.2h3m9 0h1m10 0h1m7 0h1m50 0h1m21 0h1m27 0h1m66 0h3m2 0h3m2 0h1m25 0h2m31 0h2M629 1178.8h2m7 0h2m7 0h1m7 0h2m25 0h2m6 0h1m12 0h3m17 0h2m14 0h2m14 0h1m80 0h2m3 0h2m3 0h2m26 0h2M614 1184.4h1m4 0h2m17 0h2m2 0h2m44 0h2m11 0h3m4 0h1m42 0h2m74 0h3m12 0h2m15 0h3m23 0h1M609 1190h3m33 0h1m8 0h4m25 0h1m20 0h2m28 0h3m2 0h1m27 0h2m59 0h2m15 0h1m13 0h1m13 0h3M615 1195.6h3m12 0h1m31 0h3m19 0h3m8 0h1m7 0h2m58 0h2m86 0h4m4 0h2m8 0h1M619 1201.2h2m1 0h1m5 0h1m10 0h3m38 0h3m59 0h2m19 0h1m59 0h1m20 0h2m12 0h2m21 0h1M615 1206.8h1m55 0h2m7 0h1m11 0h1m2 0h3m18 0h3m29 0h1m6 0h1m1 0h1M610 1212.4h4m4 0h1m8 0h2m3 0h1m5 0h3m20 0h1m11 0h1m27 0h1m21 0h1m18 0h2m9 0h1m66 0h3m35 0h1M635 1218h1m21 0h1m15 0h1m2 0h1m15 0h2m10 0h2m26 0h2m12 0h3m9 0h2m78 0h1m11 0h2m6 0h2m9 0h2M620 1223.6h2m31 0h1m4 0h2m34 0h1m28 0h2m12 0h1m3 0h1m9 0h3m8 0h1m6 0h3m52 0h1m23 0h3m13 0h3m3 0h2m12 0h2M645 1229.2h1m3 0h2m15 0h1m6 0h1m3 0h2m10 0h2m4 0h2m2 0h2m4 0h3m8 0h3m8 0h1m108 0h1m3 0h1m15 0h5m2 0h3m19 0h3M627 1234.8h2m7 0h4m14 0h2m12 0h2m15 0h1m24 0h3m9 0h2m1 0h3m24 0h1m3 0h2m117 0h3m9 0h2M698 1240.4h1m8 0h1m19 0h3m11 0h2m25 0h1m56 0h1m19 0h3m26 0h1M618 1246h3m86 0h2m2 0h2m9 0h2m156 0h1M621 1251.6h1m3 0h1m29 0h2m15 0h2m7 0h3m27 0h2m26 0h1m31 0h1M341 1341.1h1m21 0h1m27 0h1m1 0h2m8 0h1m221 0h1m14 0h1m11 0h1m31 0h2m8 0h1m36 0h2m39 0h1M380 1346.7h1m3 0h3m13 0h4m15 0h1m40 0h2m6 0h2m203 0h3m6 0h2M346 1352.3h1m7 0h3m19 0h2m9 0h1m21 0h2m50 0h3m5 0h1m8 0h1m176 0h3m4 0h1m7 0h1m28 0h3m45 0h3m4 0h1m13 0h2M334 1357.9h2m78 0h1m6 0h3m23 0h3m6 0h1m2 0h2m4 0h1m1 0h1m150 0h2m12 0h3m8 0h1m39 0h2m1 0h2m15 0h2m7 0h3m24 0h1m8 0h3"/><path stroke="#f79274" stroke-width="5.65" fill="none" d="M950 910.3h2m6 0h2M127 949.4h2m22 0h1m11 0h3M143 955h3m10 0h2m19 0h2m2 0h1M133 960.6h3m6 0h2m9 0h3m16 0h1m26 0h2M132 966.2h3m45 0h3m10 0h4M148 971.8h1m35 0h3M163 977.4h1m1 0h2m7 0h1m24 0h2m7 0h1M148 983h2m29 0h4m1 0h2m24 0h3M142 988.6h2m4 0h1m1 0h3m6 0h3m1 0h1m2 0h2m7 0h4M144 994.2h3m5 0h2m1 0h2m5 0h3m26 0h2M146 999.8h1m17 0h1m32 0h1m2 0h6M132 1005.4h2m10 0h2m12 0h2m7 0h3M121 1016.6h1m8 0h2m4 0h2m2 0h1m3 0h1m31 0h1m7 0h1m11 0h3m1 0h2m1 0h3M205 1022.2h1m9 0h3m7 0h5m30 0h4m28 0h2M335 1027.8h1m4 0h1m3 0h3m3 0h2m11 0h1m40 0h2m20 0h1m9 0h2m7 0h2m10 0h1m1 0h1m1 0h1M354 1033.4h1m8 0h1m2 0h3m18 0h2m26 0h1m31 0h2m8 0h1M326 1039h1m7 0h2m15 0h1m11 0h1m16 0h2m19 0h2m14 0h2m20 0h2m9 0h1m2 0h3m5 0h3M328 1044.6h1m3 0h1m3 0h1m38 0h2m7 0h1m2 0h3m19 0h3m5 0h2m2 0h2m6 0h2m21 0h2M326 1050.1h3m8 0h1m4 0h1m2 0h2m36 0h3m18 0h1m42 0h1m4 0h2M357 1055.7h2m18 0h4m3 0h3m1 0h2m2 0h2m6 0h4m4 0h5m4 0h2m3 0h2m43 0h1M334 1061.3h2m11 0h1m38 0h1m4 0h1m9 0h3m23 0h1m20 0h2m7 0h1m4 0h2M333 1066.9h1m16 0h1m9 0h3m12 0h3m22 0h1m2 0h3m15 0h3m17 0h2M340 1072.5h2m29 0h2m17 0h2m17 0h3m39 0h2m16 0h1m5 0h1M347 1078.1h2m4 0h3m14 0h2m3 0h1m20 0h1m36 0h2m14 0h5m15 0h3M327 1083.7h3m29 0h2m3 0h1m7 0h1m2 0h2m14 0h4m2 0h3m17 0h2m17 0h3m1 0h2M330 1089.3h1m10 0h2m14 0h1m2 0h5m12 0h1m32 0h2m24 0h1m3 0h2m7 0h1M336 1094.9h2m8 0h2m21 0h3m25 0h4m9 0h2m51 0h1M351 1100.5h3m15 0h1m7 0h3m2 0h4m28 0h2m10 0h1m24 0h2M335 1106.1h1m7 0h1m6 0h5m2 0h1m4 0h2m8 0h2m43 0h2m3 0h3m23 0h3m3 0h4m7 0h3M327 1111.7h1m11 0h1m6 0h3m25 0h1m21 0h4m7 0h2m10 0h2m46 0h1m3 0h2M362 1117.3h1m23 0h1m1 0h2m15 0h5m39 0h3M341 1122.9h3m5 0h1m13 0h2m14 0h2m2 0h2m29 0h3m2 0h3m9 0h3m31 0h3M395 1128.5h1m2 0h2m8 0h2m1 0h1m7 0h2m11 0h1m29 0h2m11 0h6M388 1134.1h1m6 0h2m2 0h2m31 0h2m4 0h1m6 0h2m7 0h1m1 0h2m1 0h4m1 0h1m3 0h6M404 1139.7h1m4 0h2m4 0h2m20 0h2m10 0h3m27 0h2M625 1145.3h2m12 0h4m10 0h3m5 0h2m2 0h1m7 0h1m12 0h3m30 0h2m21 0h3m78 0h1m42 0h6m1 0h3m1 0h3m8 0h2M636 1150.9h2m20 0h1m4 0h1m9 0h2m4 0h1m39 0h2m19 0h2m1 0h2m79 0h2m5 0h5m35 0h1m1 0h3m2 0h1m9 0h1M610 1156.5h2m46 0h1m9 0h1m2 0h5m1 0h2m38 0h3m8 0h3m9 0h2m20 0h2m5 0h1m75 0h3m10 0h2M623 1162.1h3m1 0h1m20 0h2m29 0h1m10 0h1m7 0h2m9 0h3m1 0h2m6 0h3m7 0h1m6 0h3m16 0h2m2 0h3m61 0h2m12 0h1m13 0h2m2 0h3m15 0h1m1 0h2m2 0h1M612 1167.7h2m40 0h3m8 0h2m2 0h1m3 0h1m6 0h1m10 0h2m3 0h1m9 0h3m10 0h1m7 0h4m2 0h3m1 0h3m5 0h1m71 0h2m11 0h3m8 0h2m2 0h3m13 0h1M610 1173.2h2m3 0h2m8 0h2m3 0h1m7 0h1m49 0h1m13 0h3m5 0h2m12 0h1m21 0h1m2 0h2m78 0h1m2 0h3m4 0h2m1 0h2m7 0h1M618 1178.8h1m8 0h1m14 0h1m5 0h5m11 0h1m13 0h1m9 0h2m1 0h1m7 0h1m31 0h2m12 0h2m12 0h2m67 0h3m3 0h2M624 1184.4h2m18 0h4m16 0h2m6 0h2m41 0h3m12 0h3m3 0h3m6 0h3m8 0h3m64 0h4m12 0h3m7 0h3m18 0h1M619 1190h3m14 0h1m12 0h3m15 0h2m25 0h2m5 0h2m13 0h3m4 0h3m21 0h2m9 0h2m1 0h1m58 0h3m2 0h2m19 0h2m19 0h1M621 1195.6h1m5 0h2m7 0h3m50 0h3m14 0h1m2 0h1m5 0h3m19 0h1m20 0h1m79 0h1m36 0h2M652 1201.2h2m22 0h2m11 0h2m8 0h3m1 0h1m5 0h1m4 0h3m5 0h3m3 0h4m19 0h3m70 0h2m2 0h2m9 0h1m17 0h1m10 0h1m7 0h1M633 1206.8h3m5 0h1m8 0h2m7 0h2m15 0h1m45 0h3m24 0h3m4 0h1m8 0h5m60 0h1m3 0h1m6 0h3m9 0h2m30 0h3M629 1212.4h3m32 0h2m2 0h1m2 0h2m12 0h2m32 0h3m23 0h2m2 0h1m7 0h1m80 0h1m29 0h1m8 0h2M613 1218h2m6 0h2m24 0h3m2 0h2m8 0h2m22 0h1m19 0h3m2 0h2m23 0h3m11 0h3m2 0h2m12 0h1m71 0h2m9 0h2m34 0h2M643 1223.6h4m18 0h1m10 0h2m11 0h1m11 0h2m3 0h1m19 0h3m15 0h1m14 0h3m1 0h1m64 0h3m10 0h3M618 1229.2h1m10 0h1m3 0h2m3 0h2m24 0h2m8 0h1m8 0h2m16 0h1m17 0h1m14 0h3m27 0h2m64 0h3m13 0h3m3 0h2m19 0h1m8 0h2m5 0h1M622 1234.8h1m2 0h2m8 0h1m22 0h1m11 0h2m19 0h2m5 0h3m15 0h1m18 0h2m10 0h1m71 0h4m17 0h2m13 0h2M624 1240.4h2m15 0h1m4 0h3m21 0h1m15 0h2m3 0h3m57 0h1m2 0h2m80 0h2m32 0h4m1 0h1m3 0h3M625 1246h2m3 0h3m29 0h2m12 0h3m1 0h1m5 0h2m8 0h3m2 0h1m32 0h3m96 0h2m19 0h1m1 0h3m12 0h1m7 0h1M609 1251.6h1m16 0h1m2 0h2m8 0h2m2 0h3m22 0h3m8 0h2m15 0h1m17 0h1m2 0h2m28 0h2m1 0h1m11 0h1m6 0h2m53 0h1m8 0h2m12 0h2m8 0h3m1 0h2m26 0h1M343 1341.1h4m5 0h5m9 0h1m14 0h3m30 0h2m33 0h1m6 0h2m15 0h1m138 0h2m19 0h1m35 0h2m21 0h1m8 0h2m7 0h1m4 0h2m5 0h2m2 0h1m10 0h2m17 0h2M336 1346.7h2m3 0h1m18 0h3m32 0h1m18 0h2m10 0h1m7 0h4m24 0h1m13 0h2m135 0h2m4 0h2m4 0h1m2 0h1m19 0h1m3 0h1m50 0h3m2 0h3m16 0h2m11 0h2M331 1352.3h5m24 0h3m30 0h1m10 0h2m8 0h1m1 0h3m3 0h4m38 0h4m143 0h3m26 0h2m22 0h1m13 0h4m12 0h3m1 0h1m8 0h1m7 0h5m1 0h2m15 0h2m5 0h1m12 0h1M342 1357.9h1m9 0h1m4 0h4m15 0h3m8 0h2m4 0h1m3 0h2m1 0h1m3 0h1m14 0h2m20 0h1m15 0h1m172 0h1m4 0h1m8 0h1m13 0h1m6 0h1m6 0h2m6 0h3m41 0h1m6 0h3m27 0h3m1 0h2m2 0h3"/><path stroke="#f2280a" stroke-width="5.65" fill="none" d="M962 910.3h2m4 0h3m2 0h1M129 949.4h3m3 0h1m1 0h1m2 0h1m7 0h3m4 0h8m3 0h1m6 0h3m8 0h3m7 0h2m5 0h2M140 955h2m5 0h5m1 0h2m4 0h2m8 0h4m1 0h3m2 0h2m8 0h4m1 0h2m3 0h2m9 0h1M139 960.6h3m7 0h1m6 0h1m26 0h7m2 0h2m1 0h4m5 0h1M125 966.2h2m3 0h2m3 0h2m6 0h2m3 0h2m6 0h5m1 0h8m2 0h5m7 0h4M133 971.8h4m4 0h3m15 0h2m6 0h1m1 0h3m2 0h1m2 0h3m7 0h2m5 0h1M140 977.4h2m2 0h2m15 0h2m4 0h6m4 0h2m9 0h2m3 0h2m9 0h2M154 983h1m1 0h1m1 0h1m8 0h3m2 0h1m3 0h2m5 0h1m2 0h3m2 0h1m3 0h1m6 0h2m1 0h3m1 0h1m3 0h2M138 988.6h2m4 0h3m2 0h1m14 0h1m7 0h1m16 0h2m7 0h2m5 0h3m3 0h2M135 994.2h3m3 0h3m7 0h1m8 0h2m8 0h3m2 0h2m1 0h2m3 0h5m5 0h1m3 0h3m4 0h2m1 0h2M134 999.8h2m2 0h1m3 0h3m9 0h6m3 0h1m9 0h5m1 0h1m1 0h1m2 0h2m3 0h2m3 0h2m10 0h3M140 1005.4h3m5 0h1m4 0h3m1 0h1m3 0h6m3 0h3m8 0h6m1 0h2m9 0h3M104 1016.6h1m2 0h6m4 0h3m35 0h2m2 0h1m10 0h2m3 0h1m1 0h3m11 0h4M199 1022.2h1m10 0h4m4 0h6m9 0h3m2 0h1m5 0h2m2 0h3m1 0h2m2 0h4m20 0h1m16 0h2m2 0h8m2 0h2m2 0h2m4 0h1M326 1027.8h5m10 0h1m7 0h1m7 0h3m6 0h1m6 0h2m3 0h2m2 0h1m1 0h4m10 0h1m2 0h3m4 0h2m7 0h3m2 0h4m4 0h1m1 0h4m11 0h4m11 0h1M339 1033.4h2m2 0h2m1 0h1m3 0h2m5 0h2m10 0h7m2 0h5m1 0h3m2 0h5m1 0h2m5 0h3m12 0h2m16 0h2m6 0h3m13 0h3m3 0h1m1 0h1m2 0h2M336 1039h3m3 0h3m2 0h3m7 0h3m4 0h2m3 0h1m1 0h2m1 0h2m8 0h1m5 0h1m17 0h1m12 0h2m8 0h1m1 0h2m1 0h3m2 0h5m5 0h2m6 0h1m7 0h1m1 0h2M327 1044.6h1m1 0h3m2 0h2m2 0h2m3 0h5m5 0h3m2 0h2m4 0h6m3 0h1m7 0h2m29 0h1m1 0h3m2 0h2m11 0h2m5 0h1m2 0h3m12 0h1m12 0h5M329 1050.1h3m3 0h2m10 0h2m6 0h4m6 0h6m6 0h2m7 0h1m2 0h3m9 0h2m11 0h1m3 0h2m10 0h3m16 0h1m1 0h1m2 0h1m2 0h2m1 0h3m3 0h4M328 1055.7h3m3 0h1m11 0h2m1 0h7m3 0h4m4 0h3m2 0h2m7 0h3m3 0h1m2 0h2m3 0h4m5 0h1m10 0h2m7 0h1m2 0h4m1 0h3m3 0h6m2 0h2m3 0h1m2 0h6m2 0h5M329 1061.3h5m10 0h1m3 0h1m3 0h4m1 0h1m2 0h3m4 0h1m7 0h1m12 0h1m6 0h3m6 0h2m4 0h3m1 0h9m7 0h5m15 0h3m12 0h2M329 1066.9h2m1 0h1m3 0h8m7 0h2m12 0h3m4 0h3m6 0h6m1 0h1m1 0h5m1 0h3m3 0h1m3 0h3m3 0h1m1 0h6m12 0h1m5 0h3m11 0h3m8 0h2M330 1072.5h2m12 0h2m6 0h4m8 0h3m1 0h2m4 0h2m4 0h9m25 0h4m3 0h3m6 0h4m1 0h2m4 0h2m2 0h1m8 0h2m15 0h2m7 0h1m1 0h1m3 0h2M328 1078.1h1m1 0h3m9 0h3m7 0h1m4 0h7m8 0h3m2 0h2m3 0h2m8 0h4m1 0h1m2 0h3m4 0h1m3 0h3m13 0h6m11 0h3m1 0h1m10 0h5m9 0h3M330 1083.7h6m4 0h4m4 0h3m16 0h2m4 0h2m2 0h1m22 0h3m3 0h4m6 0h1m2 0h3m10 0h2m8 0h5m1 0h4m5 0h1m1 0h6M327 1089.3h3m4 0h1m1 0h2m5 0h1m5 0h4m12 0h1m2 0h3m2 0h2m6 0h2m1 0h3m1 0h3m7 0h6m10 0h1m1 0h7m3 0h6m14 0h1m3 0h1m20 0h4M332 1094.9h2m16 0h2m1 0h5m3 0h8m6 0h3m6 0h1m16 0h4m2 0h3m10 0h1m3 0h6m2 0h10m3 0h1m2 0h4m10 0h1M326 1100.5h2m11 0h2m24 0h4m1 0h2m4 0h1m10 0h1m7 0h1m1 0h2m2 0h1m3 0h4m7 0h2m4 0h1m4 0h2m5 0h1m3 0h2m2 0h1m1 0h1m2 0h4m5 0h6m1 0h6M327 1106.1h2m7 0h2m3 0h1m4 0h2m16 0h2m2 0h2m4 0h2m4 0h1m1 0h4m3 0h5m6 0h2m1 0h3m1 0h3m9 0h1m1 0h1m4 0h5m1 0h3m1 0h2m2 0h6m5 0h3m6 0h2m6 0h6M334 1111.7h2m4 0h2m2 0h1m6 0h2m2 0h2m6 0h3m7 0h1m2 0h2m6 0h2m3 0h7m8 0h3m3 0h6m6 0h2m8 0h3m6 0h1m3 0h8m8 0h4m3 0h3M332 1117.3h2m3 0h1m11 0h4m1 0h2m2 0h3m2 0h7m4 0h6m4 0h2m4 0h2m12 0h1m5 0h1m5 0h3m1 0h1m8 0h2m1 0h2m3 0h2m1 0h3m3 0h1m5 0h4m1 0h1m3 0h2m1 0h3m6 0h1M327 1122.9h2m1 0h7m15 0h2m1 0h2m5 0h1m2 0h2m1 0h3m1 0h1m3 0h3m13 0h3m8 0h8m6 0h1m9 0h2m6 0h2m2 0h1m5 0h2m1 0h4m5 0h3m4 0h1m3 0h2m1 0h1M393 1128.5h2m1 0h2m2 0h2m2 0h3m9 0h1m5 0h3m1 0h6m1 0h3m2 0h3m2 0h2m3 0h3m4 0h3m9 0h3m1 0h2M394 1134.1h1m2 0h2m4 0h7m1 0h2m17 0h1m8 0h3M394 1139.7h1m2 0h2m6 0h2m1 0h1m8 0h2m4 0h1m8 0h1m9 0h4m15 0h3m5 0h1m1 0h2m2 0h4M609 1145.3h2m9 0h1m3 0h1m11 0h3m6 0h1m5 0h2m14 0h3m5 0h3m2 0h1m3 0h1m7 0h2m6 0h7m1 0h3m3 0h1m7 0h2m2 0h3m2 0h2m4 0h2m15 0h5m3 0h1m2 0h2m70 0h4m10 0h1m20 0h1m3 0h1m3 0h4m3 0h1M613 1150.9h1m6 0h3m17 0h2m5 0h3m14 0h3m9 0h1m8 0h1m2 0h1m10 0h8m4 0h8m2 0h2m3 0h4m3 0h4m2 0h1m5 0h3m3 0h1m6 0h1m59 0h6m4 0h3m5 0h2m2 0h4m4 0h7m2 0h1m5 0h2m11 0h2m2 0h1m4 0h2M612 1156.5h2m4 0h2m5 0h2m3 0h1m8 0h2m2 0h3m4 0h2m3 0h1m5 0h3m12 0h1m5 0h1m5 0h4m19 0h4m1 0h1m9 0h2m4 0h2m10 0h2m1 0h2m2 0h2m12 0h4m2 0h2m1 0h3m50 0h3m13 0h2m6 0h4m8 0h3m4 0h3m15 0h1M609 1162.1h2m17 0h1m6 0h11m7 0h1m1 0h4m2 0h2m5 0h1m1 0h2m8 0h1m7 0h1m12 0h3m2 0h3m7 0h4m21 0h2m9 0h2m61 0h2m2 0h2m1 0h2m12 0h3m1 0h1m5 0h3m12 0h2m6 0h2m8 0h1m2 0h1m1 0h5M614 1167.7h1m9 0h2m1 0h3m2 0h1m3 0h5m3 0h3m6 0h1m3 0h2m2 0h4m2 0h1m2 0h2m7 0h1m1 0h2m2 0h1m2 0h3m8 0h3m2 0h2m8 0h2m4 0h5m6 0h2m3 0h1m3 0h3m3 0h1m10 0h2m56 0h2m5 0h3m13 0h3m8 0h1m9 0h2m8 0h4m3 0h1m3 0h1m1 0h2M618 1173.2h1m8 0h3m2 0h6m1 0h2m21 0h4m3 0h3m1 0h2m4 0h4m3 0h2m1 0h8m9 0h3m4 0h2m2 0h3m1 0h1m9 0h5m3 0h2m3 0h2m1 0h2m5 0h1m5 0h1m1 0h2m63 0h1m2 0h2m12 0h6m2 0h1m4 0h4m3 0h1m2 0h2m7 0h1m2 0h1M612 1178.8h1m1 0h3m2 0h2m1 0h2m4 0h1m2 0h3m3 0h1m2 0h2m1 0h2m1 0h1m6 0h2m2 0h3m1 0h2m2 0h2m2 0h3m1 0h2m1 0h1m3 0h2m2 0h4m4 0h5m9 0h7m1 0h3m2 0h3m6 0h2m4 0h1m2 0h2m10 0h4m3 0h3m8 0h1m6 0h1m57 0h2m9 0h3m2 0h2m1 0h3m4 0h2m22 0h1M609 1184.4h4m10 0h1m5 0h5m1 0h1m12 0h1m2 0h5m1 0h1m8 0h3m5 0h4m1 0h1m3 0h4m11 0h2m12 0h2m15 0h1m3 0h3m18 0h1m5 0h2m1 0h5m50 0h2m13 0h2m28 0h2m6 0h1M613 1190h4m5 0h4m2 0h1m3 0h2m25 0h1m1 0h2m1 0h3m2 0h3m12 0h2m2 0h2m9 0h2m5 0h1m1 0h2m5 0h1m4 0h3m14 0h1m2 0h3m1 0h2m6 0h1m3 0h2m8 0h1m56 0h2m5 0h2m3 0h3m16 0h2m1 0h2m17 0h5m3 0h5M611 1195.6h1m1 0h1m10 0h1m15 0h3m3 0h5m1 0h1m4 0h5m3 0h4m5 0h4m3 0h3m10 0h1m1 0h2m12 0h1m8 0h2m2 0h13m2 0h2m6 0h4m2 0h3m6 0h2m2 0h2m4 0h1m56 0h5m1 0h3m4 0h1m23 0h1m5 0h1m1 0h1m8 0h2M627 1201.2h1m2 0h1m1 0h2m1 0h1m9 0h3m2 0h1m6 0h3m1 0h1m2 0h2m1 0h3m4 0h2m16 0h3m1 0h1m22 0h1m13 0h5m3 0h1m5 0h2m1 0h1m3 0h9m54 0h6m7 0h5m1 0h2m4 0h2m3 0h3m1 0h1m2 0h2m15 0h4m2 0h2m7 0h1M609 1206.8h6m5 0h2m1 0h2m1 0h2m2 0h1m8 0h1m12 0h2m4 0h1m2 0h2m4 0h1m1 0h1m3 0h2m12 0h5m6 0h12m3 0h3m10 0h1m4 0h3m1 0h3m7 0h3m4 0h3m3 0h2m2 0h1m57 0h2m9 0h3m12 0h5m4 0h1m2 0h3m10 0h3m6 0h2m7 0h1M609 1212.4h1m5 0h3m1 0h3m2 0h3m8 0h1m8 0h2m5 0h1m2 0h2m13 0h2m8 0h1m18 0h3m5 0h1m1 0h2m3 0h5m4 0h1m1 0h3m4 0h3m2 0h5m18 0h3m2 0h1m58 0h2m3 0h2m13 0h1m10 0h4M616 1218h1m1 0h3m3 0h2m2 0h5m12 0h2m12 0h2m3 0h6m4 0h1m2 0h3m2 0h2m5 0h3m5 0h2m17 0h4m1 0h7m12 0h1m13 0h1m12 0h2m52 0h1m6 0h1m5 0h4m7 0h2m1 0h1m14 0h1m7 0h3m3 0h1M610 1223.6h6m3 0h1m6 0h3m1 0h3m1 0h7m6 0h2m2 0h2m1 0h4m9 0h1m5 0h3m4 0h1m9 0h1m17 0h2m6 0h3m3 0h1m6 0h2m1 0h1m6 0h2m15 0h2m65 0h1m8 0h4m3 0h2m11 0h3m2 0h3m7 0h1m9 0h2m2 0h1m6 0h1M612 1229.2h2m2 0h2m1 0h4m4 0h2m1 0h3m2 0h3m5 0h2m8 0h1m3 0h3m2 0h1m4 0h1m1 0h2m10 0h2m2 0h1m2 0h1m22 0h1m1 0h3m5 0h1m1 0h4m10 0h2m3 0h2m1 0h2m1 0h2m6 0h3m62 0h3m3 0h3m11 0h2m26 0h2m5 0h3M609 1234.8h2m9 0h2m8 0h1m1 0h3m5 0h1m2 0h1m5 0h1m3 0h1m2 0h1m2 0h9m8 0h2m2 0h3m3 0h2m5 0h4m6 0h1m1 0h1m2 0h2m7 0h2m1 0h2m2 0h1m3 0h2m2 0h2m3 0h1m4 0h1m2 0h2m2 0h3m2 0h2m2 0h3m53 0h1m8 0h1m9 0h4m10 0h3m3 0h2m6 0h6m2 0h5m11 0h2M611 1240.4h2m8 0h2m7 0h3m2 0h2m1 0h3m2 0h3m6 0h3m3 0h1m2 0h2m2 0h5m9 0h7m2 0h1m10 0h2m3 0h3m1 0h2m2 0h2m5 0h6m6 0h2m6 0h2m3 0h2m3 0h1m7 0h2m4 0h1m1 0h1m57 0h1m6 0h2m8 0h3m1 0h1m3 0h3m6 0h3m7 0h2m7 0h1m1 0h1M609 1246h2m10 0h4m15 0h1m7 0h2m2 0h5m9 0h9m4 0h1m8 0h2m2 0h2m1 0h1m3 0h2m4 0h2m2 0h1m8 0h2m6 0h5m9 0h3m2 0h2m2 0h1m6 0h3m3 0h3m4 0h3m51 0h3m9 0h5m2 0h4m6 0h2m7 0h10m3 0h2m9 0h1m3 0h1M613 1251.6h2m1 0h1m1 0h3m1 0h3m2 0h1m6 0h2m10 0h2m3 0h3m3 0h3m2 0h1m2 0h1m8 0h1m1 0h2m7 0h1m6 0h1m4 0h3m1 0h2m2 0h5m5 0h1m3 0h1m17 0h1m3 0h2m8 0h1m3 0h6m4 0h3m62 0h3m3 0h1m3 0h2m7 0h2m1 0h3m15 0h2m4 0h2m7 0h2M329 1341.1h1m1 0h7m9 0h5m7 0h4m6 0h2m4 0h1m4 0h1m23 0h2m3 0h4m10 0h2m1 0h1m4 0h3m1 0h1m2 0h3m3 0h2m19 0h2m4 0h1m4 0h2m131 0h1m18 0h4m9 0h2m22 0h1m1 0h2m7 0h2m1 0h5m6 0h1m12 0h6m5 0h1m2 0h2m10 0h1m3 0h1m1 0h2m8 0h2m4 0h5m6 0h2M329 1346.7h2m2 0h1m5 0h2m2 0h5m1 0h3m5 0h2m9 0h3m1 0h2m3 0h2m3 0h2m12 0h2m9 0h3m6 0h2m4 0h3m2 0h1m2 0h3m5 0h1m15 0h2m1 0h2m11 0h6m142 0h1m10 0h4m2 0h4m1 0h2m1 0h3m9 0h4m9 0h4m4 0h1m1 0h3m31 0h8m1 0h1m4 0h1m2 0h6m16 0h1m2 0h4m2 0h2m7 0h2m3 0h1M336 1352.3h3m2 0h2m7 0h4m9 0h2m4 0h2m3 0h2m5 0h2m11 0h3m38 0h2m7 0h5m2 0h2m2 0h1m1 0h1m2 0h1m12 0h2m1 0h2m137 0h3m28 0h1m20 0h2m14 0h1m2 0h3m2 0h2m9 0h3m4 0h4m15 0h1m15 0h1m7 0h2m11 0h1M326 1357.9h2m3 0h2m17 0h2m1 0h3m6 0h3m8 0h2m9 0h1m10 0h2m9 0h6m4 0h3m11 0h2m5 0h1m1 0h2m14 0h1m8 0h1m9 0h2m132 0h5m2 0h2m3 0h1m10 0h1m6 0h3m4 0h1m2 0h1m18 0h1m6 0h4m20 0h2m25 0h2m8 0h1m8 0h2m8 0h5m8 0h1"/><path stroke="#f8562a" stroke-width="5.65" fill="none" d="M971 910.3h2M138 949.4h2m1 0h2m2 0h2m6 0h2m15 0h3m14 0h5M162 955h3m19 0h5m12 0h3m1 0h2M147 960.6h1m2 0h3m8 0h2m7 0h2m4 0h7m11 0h1m6 0h1M127 966.2h2m8 0h3m5 0h2m5 0h4m5 0h1m15 0h3M155 971.8h4m4 0h1m8 0h2m1 0h2m14 0h3m1 0h7m1 0h2m1 0h3M138 977.4h2m2 0h2m4 0h3m2 0h3m8 0h1m10 0h2m3 0h2m3 0h3m14 0h2m2 0h2m2 0h3M142 983h1m7 0h4m1 0h1m3 0h3m8 0h2m17 0h2m2 0h2m3 0h3m7 0h1m6 0h2M140 988.6h2m11 0h6m15 0h1m16 0h3m6 0h4m6 0h1M149 994.2h2m15 0h4m10 0h2m12 0h3m3 0h1m1 0h2M137 999.8h1m1 0h2m4 0h1m4 0h3m16 0h2m15 0h3m2 0h3m4 0h2M138 1005.4h2m9 0h1m23 0h3m3 0h2m9 0h1m4 0h2m9 0h3M102 1016.6h1m2 0h1m7 0h3m6 0h8m2 0h2m7 0h1m8 0h3m5 0h1m2 0h8m3 0h1m8 0h3m1 0h2M209 1022.2h1m29 0h5m23 0h3m2 0h2m11 0h5m9 0h2m13 0h1m2 0h3M347 1027.8h1m21 0h2m17 0h5m2 0h3m12 0h3m8 0h1m29 0h3m6 0h1M327 1033.4h6m3 0h3m3 0h1m9 0h2m1 0h1m3 0h4m13 0h2m22 0h2m3 0h3m1 0h2m1 0h3m1 0h1m10 0h3m3 0h2m4 0h1m1 0h2m8 0h5m10 0h1m13 0h1M331 1039h3m18 0h1m1 0h2m10 0h3m4 0h1m8 0h2m2 0h2m5 0h3m2 0h3m13 0h2m8 0h1m1 0h2m1 0h1m2 0h1m2 0h1m21 0h2m5 0h3m1 0h1M340 1044.6h1m9 0h1m6 0h1m3 0h2m11 0h1m18 0h6m1 0h6m18 0h1m13 0h1m2 0h1m5 0h5m9 0h2M340 1050.1h2m1 0h1m9 0h2m4 0h4m11 0h3m31 0h2m2 0h2m7 0h3m3 0h1m13 0h4m5 0h1m4 0h2m7 0h2M332 1055.7h2m1 0h2m2 0h2m22 0h4m27 0h1m11 0h2m6 0h1m4 0h3m13 0h3m6 0h2m3 0h2m17 0h1M340 1061.3h1m10 0h1m11 0h4m11 0h3m8 0h2m1 0h2m4 0h3m5 0h2m15 0h4m2 0h1m11 0h4m1 0h2M328 1066.9h1m2 0h1m2 0h2m8 0h3m6 0h2m24 0h2m74 0h4M327 1072.5h2m4 0h3m10 0h6m4 0h2m4 0h2m12 0h1m15 0h6m5 0h4m12 0h1m18 0h3m3 0h1m8 0h1m5 0h2m4 0h2m17 0h1M333 1078.1h1m4 0h2m6 0h1m3 0h2m24 0h1m2 0h3m2 0h1m2 0h2m15 0h1m4 0h2m3 0h2m2 0h4m2 0h2m15 0h2m11 0h3m8 0h3M336 1083.7h4m11 0h1m5 0h2m2 0h2m6 0h3m6 0h3m1 0h2m11 0h2m6 0h2m8 0h2m12 0h2m1 0h1m8 0h1m15 0h2m8 0h1M332 1089.3h2m6 0h1m13 0h1m3 0h2m12 0h1m36 0h1m13 0h1m10 0h2m11 0h2m2 0h2m8 0h6M326 1094.9h3m11 0h2m16 0h3m11 0h2m14 0h9m17 0h2m26 0h2m10 0h3m2 0h3m2 0h1M328 1100.5h2m2 0h3m19 0h2m5 0h2m17 0h2m6 0h3m5 0h1m2 0h2m1 0h3m4 0h2m1 0h2m18 0h2m7 0h1m11 0h3M342 1106.1h1m1 0h2m9 0h1m4 0h1m5 0h2m9 0h3m17 0h3m16 0h1m21 0h1m7 0h2m27 0h4M336 1111.7h2m4 0h2m23 0h3m30 0h3m13 0h3m2 0h1m43 0h2M328 1117.3h3m9 0h2m1 0h3m7 0h1m7 0h1m32 0h5m1 0h4m8 0h1m2 0h1m3 0h1m1 0h2m1 0h2m1 0h2m5 0h2m3 0h1m31 0h2M337 1122.9h2m18 0h1m3 0h1m5 0h1m5 0h3m9 0h2m8 0h4m13 0h2m8 0h5m2 0h2m7 0h1m4 0h2m7 0h3m5 0h2m13 0h5M391 1128.5h2m10 0h1m3 0h1m33 0h2m2 0h1m5 0h2m5 0h1m5 0h2m4 0h1m2 0h2M386 1134.1h2m4 0h2m7 0h2m11 0h5m25 0h1m3 0h4m3 0h1m9 0h3M395 1139.7h2m6 0h1m10 0h1m4 0h1m4 0h1m22 0h2m3 0h6m1 0h2m12 0h1m7 0h2M614 1145.3h1m6 0h3m10 0h1m8 0h2m3 0h3m8 0h1m23 0h1m1 0h1m8 0h6m16 0h2m15 0h1m1 0h2m3 0h2m3 0h8m8 0h1m1 0h2m62 0h1m4 0h1m1 0h1m6 0h2m1 0h1m9 0h2m1 0h9M609 1150.9h1m1 0h2m1 0h2m2 0h2m11 0h2m1 0h2m2 0h2m4 0h3m15 0h1m17 0h1m1 0h3m1 0h1m2 0h4m1 0h3m13 0h1m39 0h1m1 0h3m58 0h1m2 0h2m8 0h2m10 0h1m16 0h1m3 0h4m3 0h2m4 0h1m9 0h3m2 0h1M609 1156.5h1m4 0h2m6 0h3m6 0h2m1 0h4m14 0h3m4 0h2m3 0h2m3 0h2m9 0h2m1 0h1m8 0h8m31 0h1m2 0h4m8 0h1m7 0h4m3 0h1m68 0h1m1 0h1m9 0h1m5 0h3m5 0h1m3 0h2m5 0h1m6 0h3m3 0h4M608 1162.1h1m10 0h2m8 0h1m2 0h2m12 0h2m4 0h1m20 0h2m16 0h1m28 0h1m3 0h3m2 0h1m2 0h1m2 0h1m1 0h1m13 0h1m72 0h1m26 0h2m13 0h2M609 1167.7h3m3 0h2m3 0h2m4 0h1m23 0h3m15 0h1m18 0h1m14 0h1m9 0h1m34 0h8m58 0h1m5 0h3m6 0h2m6 0h2m5 0h2m5 0h1m1 0h1m1 0h4m15 0h1m1 0h1m1 0h2m2 0h1m6 0h2M608 1173.2h2m2 0h3m26 0h1m2 0h3m1 0h2m1 0h2m3 0h2m1 0h2m5 0h3m6 0h2m6 0h3m14 0h1m54 0h2m4 0h1m52 0h4m3 0h2m13 0h3m2 0h1m11 0h1m2 0h1m16 0h3M609 1178.8h3m1 0h1m7 0h1m2 0h3m7 0h3m8 0h1m21 0h2m10 0h1m17 0h1m2 0h3m14 0h2m8 0h1m19 0h2m5 0h1m7 0h5m2 0h1m1 0h3m1 0h2m77 0h1m1 0h2m3 0h1m2 0h2m1 0h7M627 1184.4h2m7 0h1m3 0h2m8 0h1m10 0h2m18 0h1m12 0h3m26 0h2m14 0h4m12 0h1m6 0h1m57 0h2m15 0h2m5 0h1m8 0h3m12 0h2m4 0h2m12 0h2M612 1190h1m4 0h2m7 0h2m1 0h3m3 0h1m1 0h3m3 0h1m3 0h2m14 0h1m9 0h2m1 0h1m2 0h2m5 0h2m2 0h3m3 0h3m4 0h1m9 0h2m12 0h2m3 0h2m4 0h1m10 0h3m2 0h2m4 0h1m4 0h1m66 0h3m3 0h3m2 0h2m7 0h2m7 0h2M644 1195.6h2m7 0h4m12 0h5m4 0h3m17 0h5m5 0h1m2 0h2m8 0h2m17 0h6m4 0h2m3 0h3m2 0h1m6 0h3m2 0h1m52 0h1m17 0h2m1 0h3m17 0h3m15 0h1m1 0h3M608 1201.2h3m1 0h3m3 0h1m12 0h1m2 0h1m8 0h2m9 0h3m5 0h2m2 0h1m3 0h2m6 0h2m3 0h4m1 0h1m17 0h3m11 0h2m3 0h3m10 0h3m8 0h1m14 0h2m80 0h1m28 0h1M617 1206.8h3m5 0h1m19 0h4m6 0h2m8 0h2m15 0h2m1 0h2m6 0h2m17 0h1m14 0h1m1 0h1m9 0h3m21 0h2m58 0h5m16 0h1m21 0h2m7 0h2M608 1212.4h1m37 0h2m4 0h2m2 0h2m4 0h2m2 0h1m7 0h3m1 0h1m1 0h2m1 0h2m4 0h6m1 0h2m4 0h3m6 0h2m14 0h3m11 0h1m5 0h2m2 0h2m1 0h3m5 0h2m51 0h5m41 0h1m9 0h2m1 0h2m5 0h2m4 0h2M612 1218h1m28 0h2m11 0h2m14 0h2m3 0h1m4 0h2m12 0h3m12 0h2m2 0h3m23 0h1m1 0h2m2 0h1m3 0h1m7 0h1m3 0h6m58 0h2m4 0h3m5 0h1m3 0h2m4 0h1m4 0h2m5 0h1m2 0h3m9 0h1m9 0h1M609 1223.6h1m12 0h4m3 0h1m11 0h1m7 0h2m15 0h1m1 0h5m5 0h2m3 0h3m10 0h2m5 0h1m11 0h1m3 0h3m11 0h4m9 0h2m2 0h1m7 0h1m5 0h5m56 0h2m17 0h4m13 0h2m19 0h1m4 0h1M610 1229.2h2m28 0h2m4 0h3m2 0h2m7 0h2m9 0h2m6 0h2m12 0h2m7 0h2m4 0h3m1 0h1m7 0h1m1 0h1m5 0h6m5 0h2m10 0h2m6 0h1m65 0h2m23 0h1m3 0h2m5 0h2m3 0h3m2 0h2m1 0h2m5 0h1M616 1234.8h2m5 0h2m16 0h2m1 0h5m2 0h2m20 0h2m26 0h2m3 0h2m6 0h2m3 0h1m19 0h3m2 0h1m3 0h1m64 0h1m15 0h1m15 0h2m10 0h4m6 0h2m9 0h2M628 1240.4h2m25 0h3m15 0h2m14 0h2m3 0h1m6 0h3m10 0h5m6 0h2m7 0h5m8 0h2m3 0h2m67 0h1m11 0h1m20 0h3m4 0h1m2 0h3m10 0h1m4 0h1m2 0h1m1 0h2M611 1246h3m1 0h3m9 0h2m6 0h5m3 0h4m3 0h2m5 0h3m23 0h3m4 0h2m10 0h3m8 0h2m1 0h2m2 0h2m3 0h1m6 0h2m3 0h3m10 0h3m1 0h1m10 0h3m60 0h2m2 0h1m7 0h2m4 0h2m1 0h1m9 0h2m11 0h2m3 0h2m2 0h2m5 0h1M628 1251.6h1m2 0h2m3 0h3m9 0h3m16 0h1m18 0h2m1 0h2m2 0h2m5 0h1m19 0h1m4 0h1m7 0h2m28 0h1m62 0h1m15 0h5m8 0h2m10 0h3m5 0h1m3 0h1m1 0h2M326 1341.1h3m10 0h2m16 0h2m8 0h2m4 0h2m2 0h2m5 0h3m8 0h2m3 0h2m5 0h2m7 0h2m4 0h1m6 0h2m10 0h3m7 0h5m4 0h2m12 0h2m163 0h1m3 0h2m1 0h1m3 0h2m1 0h4m36 0h1m3 0h2m21 0h2m22 0h1m4 0h1m16 0h4M328 1346.7h1m5 0h2m30 0h1m9 0h1m4 0h1m12 0h1m3 0h2m11 0h3m7 0h1m17 0h1m1 0h1m6 0h1m2 0h3m11 0h2m11 0h3m143 0h1m1 0h2m18 0h2m14 0h2m2 0h1m14 0h1m12 0h2m3 0h4m3 0h1m16 0h1m21 0h3m15 0h1m7 0h2M328 1352.3h3m14 0h1m1 0h3m15 0h4m3 0h2m4 0h3m3 0h2m2 0h1m1 0h3m4 0h3m6 0h2m26 0h1m33 0h1m149 0h4m2 0h2m1 0h2m5 0h2m38 0h4m4 0h1m1 0h2m22 0h1m14 0h2m10 0h3m2 0h1m15 0h2m3 0h3m2 0h2m3 0h1m2 0h2M333 1357.9h1m47 0h2m6 0h4m8 0h3m23 0h1m4 0h3m7 0h2m6 0h5m6 0h2m5 0h1m2 0h1m151 0h2m1 0h1m1 0h2m24 0h1m7 0h1m15 0h2m36 0h2m2 0h3m4 0h2m7 0h2m2 0h3m3 0h2m3 0h1"/><path stroke="#f7f2f6" stroke-width="5.65" fill="none" d="M59 915.9h2m11 0h1m288 0h3m10 0h1m4 0h2m36 0h2m23 0h5m15 0h2m7 0h2m136 0h1m6 0h2m40 0h3m31 0h2m3 0h6m6 0h2m16 0h3m5 0h3m8 0h1m11 0h3M53 921.5h1m5 0h1m2 0h1m23 0h1m241 0h2m5 0h2m16 0h1m3 0h1m2 0h3m10 0h2m6 0h2m78 0h4m4 0h1m150 0h2m6 0h3m33 0h3m2 0h1m5 0h2m26 0h3m29 0h3m18 0h2M341 927.1h2m8 0h2m5 0h4m62 0h2m31 0h2m157 0h2m31 0h2m13 0h3m6 0h2m11 0h2m32 0h1m19 0h3m1 0h3m7 0h1M58 932.6h5m266 0h3m1 0h1m11 0h2m3 0h1m57 0h2m12 0h1m10 0h2m20 0h2m8 0h2m162 0h4m7 0h2m3 0h3m1 0h1m16 0h2m1 0h2m11 0h3m18 0h2m18 0h1m27 0h2m9 0h1m6 0h1M69 938.2h2m270 0h2m13 0h7m44 0h1m9 0h1m226 0h2m5 0h1m3 0h3m8 0h5m46 0h2m10 0h3m3 0h2m10 0h2M74 943.8h1m328 0h2m234 0h3M72 949.4h1m363 0h1m218 0h2m29 0h2M65 955h3m3 0h1m7 0h1M351 960.6h2m109 0h2m160 0h3m13 0h1M360 966.2h1m96 0h1m157 0h1m41 0h3m23 0h1M84 971.8h1m251 0h3m317 0h2m80 0h3m9 0h1M79 977.4h1m332 0h2m34 0h2m22 0h2m172 0h1m75 0h3m42 0h2M345 983h1m15 0h1m32 0h2m13 0h2m23 0h3m8 0h2m172 0h3m80 0h1M67 988.6h2m386 0h1m156 0h3m4 0h1M60 994.2h3m1 0h1m282 0h1m5 0h2m13 0h1m257 0h3m65 0h2m10 0h2m20 0h1m4 0h2m9 0h1m21 0h1M59 999.8h1m3 0h3m266 0h2m13 0h1m15 0h2m4 0h2m5 0h2m82 0h2m174 0h1m11 0h1m21 0h2m37 0h1m47 0h2M60 1005.4h1m671 0h2m29 0h3M55 1011h1m15 0h2m2 0h2m9 0h2m15 0h3M768 1066.9h3m7 0h1m13 0h1m17 0h3m3 0h3m15 0h2m34 0h3m2 0h3m3 0h3M798 1072.5h2m17 0h2m1 0h2m7 0h2m18 0h1m20 0h3M794 1083.7h2m8 0h3m5 0h3m4 0h2m25 0h1m8 0h3m12 0h3m2 0h3"/><path stroke="#f0805a" stroke-width="5.65" fill="none" d="M68 915.9h1m313 0h3m365 0h1M50 921.5h3m21 0h2m310 0h3m28 0h1m12 0h2m41 0h3m287 0h1M412 927.1h1m31 0h3m5 0h1m172 0h2M71 932.6h3m273 0h2m52 0h3m216 0h1m35 0h2m38 0h1M71 938.2h2m279 0h2m11 0h2m360 0h1M57 943.8h2m678 0h2M51 949.4h1m23 0h3M422 955h2M740 960.6h1M638 966.2h2m27 0h2M629 971.8h1m10 0h1m4 0h2M708 977.4h1M391 983h2m7 0h2m274 0h2m93 0h2M694 988.6h3m75 0h2M54 994.2h2m15 0h2m538 0h1M336 999.8h1m68 0h1M631 1005.4h2M84 1011h2m14 0h1M785 1066.9h1"/><path stroke="#c8d8f4" stroke-width="5.65" fill="none" d="M82 915.9h1m293 0h2m3 0h1m6 0h3m17 0h1m15 0h3m204 0h1m14 0h1m29 0h1m1 0h1m4 0h3m52 0h2M60 921.5h2m288 0h1m12 0h1m58 0h3m13 0h3m254 0h1M57 927.1h2m9 0h2m259 0h3m22 0h1m13 0h3m5 0h3m2 0h2m65 0h3m185 0h1m20 0h1m13 0h1m19 0h2m63 0h2m5 0h3M46 932.6h1m35 0h3m384 0h1m4 0h3m147 0h2m65 0h2m56 0h2M73 938.2h3m279 0h1m21 0h1m31 0h2m4 0h2m4 0h2m28 0h2m177 0h1m52 0h1M54 949.4h3m360 0h2m28 0h3m246 0h2M406 955h3m222 0h2M389 960.6h2m23 0h3m248 0h3m93 0h1M351 966.2h3m308 0h2m26 0h3m52 0h3M344 971.8h1M690 977.4h1m10 0h1m41 0h3M358 983h3m37 0h1m40 0h1m277 0h3M74 988.6h2m283 0h2m100 0h2m269 0h1m12 0h2m22 0h2M361 994.2h2m87 0h2m2 0h3m166 0h2m59 0h1m2 0h2M739 999.8h1M74 1005.4h1m544 0h1m20 0h3m43 0h1M46 1011h2m8 0h2m32 0h2m4 0h2M774 1066.9h1m45 0h1m37 0h2M835 1072.5h1m18 0h3m16 0h3M840 1083.7h3m6 0h2"/><path stroke="#f6c2b4" stroke-width="5.65" fill="none" d="M350 915.9h2m2 0h3m267 0h1m79 0h1m58 0h3M84 921.5h1m249 0h1m44 0h1m75 0h3m151 0h1m15 0h3m24 0h1m46 0h2m65 0h2M66 927.1h1m14 0h1m264 0h3m387 0h1m1 0h2M343 932.6h2m11 0h3m4 0h2m19 0h1m8 0h3m290 0h2m5 0h1m14 0h1M46 938.2h2m15 0h1m333 0h1m210 0h2m9 0h2m103 0h1m20 0h1m16 0h2M374 943.8h1m387 0h2M334 949.4h2m400 0h1M84 955h3m250 0h2m18 0h2m45 0h1m308 0h1M62 960.6h2m10 0h2m9 0h1m561 0h3m52 0h2M326 966.2h2m6 0h2m1 0h2m28 0h2m304 0h1M438 971.8h1m197 0h3m63 0h1m20 0h2M667 977.4h1m79 0h3M346 983h3m28 0h3m371 0h2m3 0h2M54 988.6h1m319 0h2m305 0h3m19 0h3m43 0h1M76 994.2h1M85 999.8h2M49 1011h1m2 0h3m5 0h3m14 0h2m23 0h1M772 1066.9h2m77 0h2M810 1072.5h1m57 0h2m7 0h2M861 1083.7h2"/><path stroke="#f6e8ea" stroke-width="5.65" fill="none" d="M143 949.4h2m22 0h3m9 0h1m1 0h3m8 0h1M137 955h3m26 0h3M137 960.6h2m5 0h3m1 0h1m9 0h3m3 0h3M170 966.2h2M144 971.8h1m5 0h2m1 0h1m10 0h3m14 0h3M151 977.4h2M146 983h1m15 0h3M168 988.6h3m8 0h3M174 994.2h1m2 0h1M167 999.8h2M146 1005.4h1m46 0h1m8 0h2M116 1016.6h1m31 0h2m38 0h3M202 1022.2h2m77 0h3m10 0h2m28 0h2M336 1027.8h2m5 0h1m36 0h2m11 0h2m4 0h2m13 0h3m10 0h3m8 0h2m2 0h3M364 1033.4h2m31 0h3m30 0h3M339 1039h3m3 0h2m6 0h1m6 0h2m35 0h1m30 0h1m20 0h1M342 1044.6h1m80 0h1m2 0h2m32 0h1m3 0h2M332 1050.1h3m3 0h2m11 0h2m39 0h2m4 0h3m32 0h2m10 0h2m12 0h1M356 1055.7h1m68 0h2M326 1061.3h3m7 0h3m19 0h1m79 0h2m19 0h3M326 1066.9h2m59 0h1m7 0h1m13 0h2m13 0h3m2 0h2m2 0h2m11 0h1m1 0h1m1 0h1M332 1072.5h1m4 0h3m2 0h2m33 0h3m66 0h1m9 0h3m2 0h4m2 0h2m4 0h2m1 0h3M336 1078.1h2m2 0h2m25 0h3m19 0h2m7 0h2m8 0h1m7 0h2M326 1083.7h1m25 0h4m7 0h1m46 0h3m10 0h2m9 0h2M345 1089.3h3m28 0h1m35 0h1m11 0h2m17 0h1m13 0h2M329 1094.9h2m13 0h2m28 0h1m3 0h6m21 0h2m9 0h2m3 0h3m6 0h1m21 0h2M331 1100.5h1m18 0h1m8 0h2m69 0h2m30 0h1m6 0h3M329 1106.1h6m5 0h1m30 0h1m90 0h1m16 0h2M326 1111.7h1m1 0h1m20 0h2m2 0h2m2 0h5m17 0h3m21 0h1m20 0h2m3 0h3m25 0h4M326 1117.3h1m60 0h1m26 0h1m11 0h1m16 0h3m1 0h2m10 0h2M344 1122.9h3m11 0h3m80 0h2M412 1128.5h3m3 0h1m41 0h2M389 1134.1h3m42 0h2m38 0h3M421 1139.7h2m10 0h2m32 0h2M721 1145.3h1m2 0h2m3 0h2m36 0h3m60 0h2M624 1150.9h4m31 0h1m7 0h3m7 0h2m29 0h2m21 0h2m23 0h2m56 0h2m23 0h1m4 0h1m2 0h1m20 0h1M620 1156.5h2m19 0h2m3 0h3m7 0h2m8 0h2m16 0h3m14 0h2m3 0h2m31 0h1m9 0h2m82 0h4m20 0h1m19 0h3m5 0h3m1 0h1M611 1162.1h3m12 0h1m3 0h2m32 0h1m16 0h3m11 0h3m17 0h1m28 0h3m82 0h3m23 0h2m11 0h1m2 0h4M618 1167.7h2m56 0h1m40 0h2m6 0h2m34 0h2m51 0h1m10 0h3m5 0h2m50 0h2M622 1173.2h3m29 0h2m42 0h2m12 0h1m13 0h2m9 0h2m18 0h2m104 0h1m6 0h1m6 0h2m3 0h3M725 1178.8h2m8 0h1m103 0h2m36 0h2M615 1184.4h4m39 0h2m9 0h3m48 0h3m3 0h3m14 0h2m4 0h2m126 0h2M640 1190h1m11 0h2m23 0h2m2 0h2m46 0h3m30 0h3m76 0h2M609 1195.6h2m1 0h1m5 0h3m203 0h1m14 0h2m29 0h1M615 1201.2h3m3 0h1m2 0h3m90 0h1m14 0h1m11 0h3m123 0h1m11 0h3M628 1206.8h2m1 0h2m3 0h3m1 0h1m2 0h2m193 0h3m20 0h3M614 1212.4h1m45 0h1m6 0h1m9 0h1m56 0h2m14 0h1m83 0h2m12 0h2M609 1218h2m4 0h1m10 0h2m8 0h3m1 0h1m43 0h1m14 0h5m25 0h3m3 0h1m120 0h2M618 1223.6h1m43 0h3m21 0h3m2 0h2m6 0h2m3 0h2m5 0h3m155 0h1m2 0h2M623 1229.2h3m28 0h3m30 0h1m3 0h2m69 0h2m73 0h2m5 0h2M612 1234.8h3m68 0h1m5 0h2m39 0h2m30 0h2m78 0h3m36 0h2M627 1240.4h1m22 0h2m12 0h1m6 0h2m3 0h1m18 0h3m68 0h2m75 0h1M647 1246h1m13 0h1m19 0h2m11 0h1M611 1251.6h2m2 0h1m38 0h1m5 0h2m22 0h1m18 0h2m16 0h3m3 0h3m15 0h2m78 0h1M364 1341.1h2m6 0h1m15 0h3m15 0h1m11 0h3m7 0h1m229 0h1m2 0h1m9 0h3m1 0h1m10 0h3m38 0h2m42 0h1M331 1346.7h2m19 0h3m8 0h1m10 0h1m315 0h3m31 0h1M358 1352.3h2m40 0h1m18 0h3m19 0h3m5 0h2m179 0h1m21 0h2m17 0h2m32 0h2m66 0h1M361 1357.9h1m4 0h2m1 0h3m72 0h3m174 0h2m26 0h1m1 0h2m15 0h2m20 0h2m37 0h2"/><path stroke="#f07050" stroke-width="5.65" fill="none" d="M57 1257.2h2m68 0h2m404 0h1m160 0h1m130 0h1m18 0h1m76 0h2m2 0h1M58 1262.8h1m68 0h2m240 0h1m324 0h1m10 0h1m57 0h1m106 0h1m31 0h1m36 0h1M127 1268.4h2m240 0h1m324 0h1m68 0h1m69 0h1m115 0h1m21 0h2M176 1274h1m80 0h1m295 0h1m367 0h2m48 0h1M177 1279.6h1m79 0h1m25 0h1m153 0h1m111 0h1m364 0h2m6 0h1m38 0h1M177 1285.2h1m524 0h2m176 0h1m33 0h1m2 0h2m15 0h1m5 0h1M93 1290.8h2m82 0h1m361 0h1m44 0h2m42 0h1m130 0h1m36 0h1m117 0h1m23 0h2m1 0h1M94 1296.3h1m45 0h1m212 0h2m229 0h2m42 0h1m271 0h1m37 0h1m33 0h1M94 1301.9h1m258 0h1m230 0h1m181 0h1m36 0h2m10 0h2m3 0h1m48 0h2m53 0h1m9 0h1m18 0h1m1 0h1M353 1307.5h1m70 0h1m359 0h2m29 0h2m3 0h1m86 0h2m15 0h1m34 0h1M121 1313.1h1m111 0h2m127 0h1m84 0h2m336 0h1m29 0h1m4 0h1m73 0h1m12 0h1m16 0h1m38 0h2m2 0h2M93 1318.7h1m27 0h1m16 0h1m37 0h1m270 0h1m372 0h1m86 0h3m14 0h1m7 0h1m31 0h1M93 1324.3h1m38 0h1m5 0h1m147 0h1m352 0h1m169 0h1m10 0h1m69 0h1m4 0h1m25 0h2m9 0h1m31 0h1M69 1329.9h1m23 0h1m17 0h2m78 0h2m432 0h1m13 0h1m62 0h2m116 0h1m101 0h1m9 0h1M93 1335.5h1m17 0h1m94 0h1m28 0h2m147 0h1m128 0h2m187 0h2m218 0h1M921 1341.1h2m3 0h1m36 0h1M927 1346.7h1m3 0h1m30 0h2M915 1352.3h1m47 0h1M895 1357.9h2m18 0h1m36 0h2m10 0h1M193 1363.5h1m701 0h1m31 0h1m5 0h1m18 0h1M795 1369.1h1m19 0h1m15 0h1m44 0h2m49 0h1m35 0h1M211 1374.7h1m573 0h1m9 0h1m19 0h1m60 0h2m49 0h1m35 0h1m3 0h1M231 1380.3h2m716 0h1m3 0h2m12 0h1M51 1385.9h1m179 0h1m30 0h2m248 0h1m181 0h2m250 0h1m6 0h1m15 0h1m3 0h1M78 1391.5h1m183 0h1m506 0h1m5 0h1m188 0h1M53 1397.1h1m48 0h1m5 0h1m75 0h1m1 0h1m24 0h2m20 0h1m28 0h1m13 0h1m73 0h1m244 0h1m173 0h1m27 0h1m61 0h1m15 0h1m79 0h2m6 0h1M53 1402.7h1m48 0h1m81 0h1m27 0h1m20 0h1m28 0h1m40 0h1m95 0h2m109 0h1m113 0h1m160 0h1m31 0h2m56 0h1m14 0h2m50 0h1m3 0h2m7 0h2M44 1408.3h1m57 0h1m109 0h1m90 0h1m95 0h1m62 0h1m35 0h2m8 0h1m157 0h1m113 0h1m3 0h2m159 0h1m8 0h2m8 0h1M102 1413.8h1m115 0h1m243 0h1m45 0h1m4 0h1m1 0h1m150 0h1m83 0h1m84 0h1m65 0h1m43 0h1m8 0h2m2 0h1M63 1419.4h1m38 0h1m115 0h1m289 0h1m241 0h1m50 0h1m3 0h1m84 0h1m67 0h2M71 1425h2m76 0h1m7 0h2m199 0h1m429 0h1m37 0h1m30 0h2m2 0h2m27 0h1m19 0h1m47 0h1M158 1430.6h1m189 0h1m238 0h2m199 0h1m37 0h1m30 0h2m3 0h1m47 0h1m47 0h1m6 0h1M63 1436.2h1m96 0h1m20 0h2m4 0h1m69 0h1m329 0h2m31 0h2m29 0h1m80 0h1m5 0h2m48 0h1m10 0h1m51 0h1m6 0h1m86 0h1m19 0h1m5 0h1M117 1441.8h1m63 0h1m47 0h2m26 0h1m20 0h2m136 0h1m13 0h2m52 0h2m102 0h1m31 0h1m33 0h2m64 0h1m18 0h1m46 0h1m1 0h1m2 0h1m7 0h1m24 0h1m8 0h1m2 0h1m114 0h2m8 0h1M181 1447.4h1m7 0h1m39 0h1m27 0h1m21 0h1m165 0h2m37 0h1m23 0h1m85 0h1m25 0h1m34 0h1m64 0h1m18 0h1m46 0h1m1 0h1m14 0h2m28 0h1m117 0h1m10 0h1M181 1453h1m47 0h1m26 0h2m22 0h2m107 0h1m20 0h1m35 0h1m37 0h1m45 0h1m66 0h1m11 0h1m9 0h1m100 0h1m18 0h1m48 0h1m44 0h1m129 0h1M70 1458.6h2m109 0h1m75 0h1m22 0h2m78 0h2m6 0h1m20 0h1m51 0h2m3 0h1m83 0h1m66 0h1m21 0h1m10 0h1m16 0h1m95 0h1m32 0h1m11 0h1m15 0h1m28 0h1m114 0h1m13 0h2m5 0h1M132 1464.2h1m107 0h1m40 0h1m79 0h1m6 0h1m12 0h2m130 0h1m16 0h1m88 0h1m10 0h1m112 0h1m202 0h1m9 0h1m14 0h2M81 1469.8h2m181 0h1m49 0h2m45 0h1m15 0h1m4 0h1m147 0h1m99 0h1m49 0h1m2 0h1m108 0h2m37 0h1m55 0h1m58 0h1m2 0h1"/><path stroke="#f01010" stroke-width="5.65" fill="none" d="M60 1257.2h1m187 0h1m57 0h2m20 0h1m399 0h1m40 0h1m34 0h1m3 0h1m36 0h1m5 0h1m5 0h1m18 0h1M173 1262.8h4m129 0h2m13 0h1m5 0h1m34 0h1m25 0h2m2 0h1m62 0h1m56 0h1m143 0h1m62 0h1m8 0h1m8 0h2m88 0h2m19 0h2m1 0h1m24 0h1m72 0h1M78 1268.4h2m46 0h1m46 0h1m1 0h1m58 0h1m147 0h2m4 0h2m22 0h1m1 0h1m97 0h1m143 0h1m62 0h1m18 0h1m59 0h1m6 0h1m22 0h1m21 0h2M68 1274h1m57 0h1m46 0h1m1 0h1m236 0h1m172 0h1m70 0h1m46 0h1m94 0h1m34 0h1m15 0h2m10 0h1m8 0h3m76 0h1m22 0h2M68 1279.6h1m57 0h1m54 0h1m18 0h2m25 0h1m122 0h1m94 0h2m131 0h1m77 0h1m11 0h1m38 0h1m70 0h1m5 0h1m4 0h1m49 0h1m9 0h1m11 0h1m8 0h2m6 0h1m74 0h1m9 0h1m5 0h1m3 0h1M68 1285.2h1m9 0h2m59 0h1m41 0h1m4 0h3m11 0h1m56 0h2m55 0h1m130 0h4m23 0h1m20 0h2m4 0h2m77 0h1m91 0h1m30 0h1m5 0h2m80 0h1m59 0h1m21 0h1m1 0h1m4 0h1m70 0h1m3 0h1m6 0h4m9 0h1M72 1290.8h1m6 0h1m34 0h2m23 0h1m8 0h1m32 0h1m5 0h1m70 0h1m39 0h1m102 0h1m6 0h1m36 0h2m25 0h1m20 0h1m44 0h1m31 0h1m67 0h1m62 0h1m5 0h1m81 0h1m74 0h1m6 0h1m1 0h1m7 0h2m80 0h1M71 1296.3h3m40 0h2m23 0h1m123 0h1m34 0h1m25 0h1m69 0h1m6 0h1m15 0h1m28 0h1m91 0h1m31 0h1m27 0h2m24 0h1m5 0h2m6 0h1m62 0h1m80 0h1m2 0h1m3 0h1m5 0h1m68 0h1m24 0h1m76 0h1m4 0h1M115 1301.9h1m14 0h1m42 0h1m29 0h2m93 0h1m6 0h1m18 0h1m29 0h1m39 0h1m6 0h1m7 0h1m7 0h1m28 0h1m10 0h1m18 0h2m60 0h1m60 0h1m24 0h1m6 0h1m6 0h1m64 0h1m35 0h1m42 0h1m5 0h2m5 0h1m23 0h1m4 0h1m41 0h1m22 0h1m57 0h3M114 1307.5h1m58 0h1m29 0h1m81 0h1m68 0h1m89 0h1m1 0h2m9 0h1m18 0h2m60 0h1m60 0h1m24 0h1m6 0h1m156 0h1m6 0h1m3 0h1m148 0h2m4 0h1m18 0h1M72 1313.1h1m21 0h1m7 0h1m10 0h1m45 0h1m13 0h1m39 0h1m117 0h1m1 0h2m96 0h2m13 0h1m6 0h2m8 0h1m13 0h1m13 0h2m19 0h1m25 0h1m55 0h1m128 0h2m32 0h1m9 0h1m10 0h1m9 0h1m2 0h2m2 0h1m3 0h1m3 0h1m27 0h1m9 0h1m30 0h1m75 0h1m1 0h1m3 0h1m2 0h1m1 0h1m2 0h1m10 0h1M72 1318.7h1m22 0h1m17 0h1m4 0h1m40 0h1m13 0h1m7 0h1m7 0h1m14 0h1m8 0h1m150 0h1m8 0h1m79 0h1m9 0h1m19 0h2m6 0h1m46 0h1m9 0h2m7 0h1m12 0h2m22 0h1m29 0h1m98 0h2m40 0h1m1 0h1m27 0h1m3 0h1m69 0h1m2 0h1m75 0h1m1 0h1m4 0h1m1 0h1m15 0h1M72 1324.3h1m4 0h1m3 0h2m3 0h1m1 0h1m22 0h1m47 0h1m8 0h1m12 0h1m4 0h2m3 0h1m14 0h2m169 0h1m85 0h1m20 0h1m53 0h1m10 0h1m20 0h2m112 0h1m20 0h1m18 0h1m4 0h1m3 0h1m27 0h1m5 0h1m34 0h2m2 0h2m33 0h1m27 0h1m2 0h1m77 0h1m5 0h1m5 0h2M60 1329.9h2m9 0h2m3 0h2m3 0h2m5 0h1m37 0h2m25 0h1m5 0h1m21 0h1m4 0h2m18 0h1m52 0h1m16 0h1m100 0h1m83 0h1m22 0h1m64 0h1m12 0h1m7 0h2m90 0h1m7 0h1m13 0h1m20 0h1m18 0h1m4 0h1m18 0h1m18 0h1m64 0h1m36 0h1m85 0h2m5 0h1m1 0h1M72 1335.5h1m8 0h1m43 0h2m26 0h1m5 0h1m9 0h2m10 0h1m19 0h1m57 0h1m56 0h2m59 0h1m125 0h1m5 0h1m160 0h1m5 0h1m40 0h1m11 0h1m60 0h1m13 0h1m67 0h1m6 0h2m74 0h1m6 0h1M952 1341.1h1m4 0h1m1 0h1M949 1346.7h1m8 0h2m1 0h1M947 1352.3h2m4 0h1m8 0h1m10 0h1M948 1357.9h1m10 0h1m1 0h1m1 0h1m9 0h1M324 1363.5h1m3 0h1m79 0h1m56 0h1m99 0h2m20 0h1m3 0h2m31 0h1m76 0h1m65 0h1m16 0h1m161 0h1m11 0h4m11 0h1M88 1369.1h2m3 0h1m104 0h1m14 0h1m130 0h1m63 0h1m56 0h1m58 0h1m10 0h1m4 0h1m46 0h1m4 0h1m174 0h1m12 0h1m1 0h1m1 0h1m159 0h1m1 0h1m13 0h1M45 1374.7h2m42 0h1m80 0h2m26 0h1m56 0h1m34 0h2m116 0h1m78 0h1m7 0h1m21 0h1m2 0h2m18 0h2m28 0h1m195 0h1m8 0h1m2 0h1m3 0h1m74 0h1m29 0h1M45 1380.3h1m124 0h1m58 0h1m25 0h1m149 0h1m2 0h1m45 0h1m31 0h1m19 0h1m13 0h1m13 0h1m35 0h1m40 0h1m24 0h1m43 0h1m94 0h1m6 0h1m31 0h1m19 0h1m6 0h2m4 0h1m9 0h1m17 0h1m11 0h1m39 0h1M153 1385.9h2m15 0h2m12 0h2m32 0h2m16 0h2m17 0h1m1 0h1m43 0h1m103 0h1m48 0h1m6 0h1m24 0h1m13 0h1m5 0h1m13 0h1m11 0h1m1 0h1m76 0h1m9 0h1m135 0h1m17 0h1m6 0h1m3 0h1m9 0h2m43 0h2m6 0h1m21 0h1m36 0h2m21 0h2M125 1391.5h1m3 0h1m24 0h1m15 0h1m9 0h1m4 0h1m33 0h1m15 0h1m1 0h1m56 0h1m6 0h1m56 0h1m15 0h1m27 0h1m2 0h1m11 0h1m36 0h1m31 0h1m20 0h1m26 0h1m86 0h1m55 0h1m87 0h1m30 0h2m5 0h1m5 0h1m9 0h1m3 0h1m3 0h2m12 0h2m1 0h1m19 0h2m5 0h1m36 0h1M54 1397.1h2m11 0h1m3 0h1m41 0h1m2 0h2m7 0h1m30 0h1m4 0h1m8 0h1m9 0h1m4 0h1m35 0h1m15 0h1m6 0h1m42 0h2m5 0h1m1 0h2m12 0h2m62 0h3m25 0h1m2 0h1m11 0h1m36 0h1m35 0h2m1 0h1m18 0h2m163 0h1m61 0h2m37 0h2m6 0h1m12 0h2m2 0h1m15 0h1m3 0h1m24 0h2m5 0h2m1 0h1m5 0h2m5 0h1m36 0h1M45 1402.7h1m8 0h1m5 0h1m10 0h1m2 0h2m37 0h1m11 0h1m30 0h1m12 0h1m15 0h1m35 0h1m10 0h1m4 0h1m19 0h1m34 0h2m3 0h1m2 0h1m4 0h2m3 0h1m5 0h1m58 0h1m26 0h1m51 0h1m23 0h1m7 0h1m3 0h1m2 0h1m23 0h2m52 0h2m73 0h1m131 0h1m20 0h2m2 0h1m26 0h1m11 0h1m6 0h1m5 0h2m8 0h1m13 0h1m15 0h2m2 0h1m10 0h1m29 0h2M45 1408.3h1m14 0h1m10 0h1m41 0h1m42 0h1m28 0h1m17 0h2m10 0h1m5 0h1m7 0h1m7 0h1m19 0h1m28 0h2m4 0h4m1 0h1m2 0h1m49 0h1m125 0h2m8 0h1m3 0h1m27 0h2m5 0h2m110 0h1m140 0h1m8 0h1m15 0h1m1 0h1m12 0h2m3 0h1m4 0h1m1 0h1m15 0h2m6 0h3m22 0h1m19 0h1m16 0h2m22 0h2M60 1413.8h1m52 0h1m13 0h1m57 0h1m13 0h1m3 0h1m25 0h1m5 0h3m3 0h2m14 0h1m28 0h1m6 0h1m57 0h1m13 0h2m78 0h1m31 0h1m8 0h1m39 0h1m25 0h1m32 0h2m61 0h1m40 0h1m67 0h1m20 0h1m6 0h2m32 0h1m3 0h1m1 0h1m4 0h1m16 0h1m6 0h1m6 0h2m9 0h1m26 0h1m10 0h1m5 0h2m7 0h1m14 0h1M46 1419.4h1m1 0h1m84 0h1m22 0h1m13 0h1m32 0h1m31 0h3m3 0h2m14 0h1m28 0h1m78 0h1m91 0h1m18 0h2m5 0h1m2 0h1m20 0h1m7 0h2m36 0h1m31 0h2m102 0h1m64 0h1m30 0h1m8 0h1m24 0h2m9 0h1m7 0h1m8 0h1m6 0h1m13 0h1m3 0h2M46 1425h1m9 0h1m179 0h1m85 0h1m107 0h1m20 0h2m26 0h1m12 0h1m14 0h1m2 0h1m75 0h1m50 0h1m33 0h1m5 0h1m85 0h1m26 0h1m10 0h1m18 0h1m26 0h1m6 0h1m13 0h1m3 0h2m1 0h4m22 0h1M46 1430.6h1m169 0h2m212 0h1m61 0h1m14 0h1m2 0h1m8 0h2m159 0h1m79 0h2m39 0h1m9 0h1m5 0h1m2 0h1m26 0h1m27 0h3M45 1436.2h1m2 0h1m55 0h3m5 0h3m13 0h2m10 0h1m1 0h2m5 0h1m6 0h1m31 0h2m3 0h1m18 0h1m3 0h1m14 0h1m3 0h2m27 0h1m1 0h1m4 0h2m22 0h1m2 0h1m25 0h1m20 0h1m9 0h1m19 0h1m36 0h1m6 0h1m9 0h1m11 0h2m7 0h2m37 0h2m1 0h1m2 0h1m2 0h1m11 0h1m14 0h1m18 0h2m32 0h1m16 0h1m33 0h1m5 0h1m66 0h1m14 0h1m27 0h1m12 0h1m4 0h2m37 0h2m7 0h1m26 0h1m3 0h1m3 0h1m22 0h1m17 0h2M71 1441.8h2m37 0h1m33 0h4m1 0h1m13 0h2m12 0h1m5 0h1m14 0h1m9 0h1m2 0h2m37 0h1m30 0h1m7 0h1m5 0h1m49 0h1m8 0h2m11 0h1m8 0h1m3 0h1m6 0h1m15 0h2m2 0h3m1 0h2m4 0h1m1 0h1m9 0h1m12 0h1m7 0h1m13 0h2m4 0h1m4 0h2m16 0h1m16 0h1m29 0h1m8 0h2m7 0h1m19 0h1m16 0h1m8 0h1m24 0h1m5 0h1m4 0h1m47 0h1m13 0h1m12 0h1m5 0h1m41 0h1m3 0h2m8 0h2m1 0h1m13 0h1m7 0h2m7 0h1m16 0h2m8 0h2m6 0h2m18 0h1m2 0h1m2 0h1m15 0h1M110 1447.4h1m72 0h1m105 0h1m5 0h1m3 0h2m66 0h1m39 0h3m9 0h1m45 0h1m4 0h1m4 0h1m6 0h1m10 0h1m4 0h1m16 0h1m9 0h1m14 0h1m17 0h1m19 0h1m25 0h1m24 0h1m18 0h1m39 0h1m79 0h1m8 0h1m19 0h1m1 0h1m6 0h2m3 0h1m5 0h2m10 0h1m9 0h3m1 0h2m24 0h1m2 0h1M53 1453h2m55 0h1m154 0h1m33 0h1m50 0h1m16 0h1m17 0h2m21 0h1m56 0h1m25 0h1m6 0h1m13 0h1m14 0h1m4 0h2m58 0h2m31 0h1m3 0h1m68 0h2m68 0h1m38 0h1m9 0h1m25 0h2m24 0h1m2 0h1m44 0h1m14 0h1M53 1458.6h2m7 0h2m46 0h1m102 0h1m153 0h1m18 0h1m104 0h1m3 0h1m2 0h2m24 0h1m3 0h1m63 0h2m31 0h1m3 0h1m68 0h2m24 0h1m78 0h1m9 0h1m28 0h2m28 0h1m44 0h1M45 1464.2h2m6 0h1m6 0h1m105 0h1m46 0h1m40 0h2m9 0h2m16 0h1m20 0h1m21 0h1m38 0h2m9 0h1m9 0h1m10 0h2m43 0h1m48 0h1m3 0h1m3 0h2m2 0h1m20 0h1m27 0h2m26 0h1m11 0h1m2 0h1m85 0h1m17 0h1m25 0h1m13 0h1m6 0h1m14 0h1m24 0h1m9 0h1m6 0h1m4 0h1m4 0h1m5 0h1m3 0h1m45 0h1m37 0h1M46 1469.8h1m3 0h1m20 0h1m95 0h1m19 0h1m52 0h1m13 0h1m11 0h1m15 0h2m90 0h1m11 0h1m78 0h1m33 0h1m24 0h2m3 0h1m61 0h1m3 0h1m103 0h1m39 0h1m6 0h1m1 0h1m5 0h2m5 0h1m16 0h1m6 0h1m10 0h1m4 0h3m3 0h2m4 0h1m5 0h1m1 0h1m12 0h1m34 0h1m3 0h1m19 0h1"/><path stroke="#dc3030" stroke-width="5.65" fill="none" d="M61 1257.2h2m90 0h1m262 0h1m554 0h2M62 1262.8h1m722 0h1m174 0h1m10 0h1M62 1268.4h1m634 0h2m41 0h1m73 0h1M157 1274h1m45 0h2m84 0h1m196 0h1m20 0h1m189 0h2m40 0h1m74 0h1m37 0h1M77 1279.6h1m125 0h2m84 0h1m65 0h2m107 0h1m21 0h1m10 0h1m85 0h2m46 0h1m65 0h1m83 0h1m72 0h1m99 0h2m6 0h1M254 1285.2h2m33 0h1m207 0h1m85 0h2m46 0h1m22 0h1m42 0h1m83 0h1m72 0h1m114 0h2M255 1290.8h1m66 0h1m260 0h1m22 0h1m47 0h1m126 0h1m20 0h1m157 0h1m8 0h1M255 1296.3h1m17 0h2m7 0h2m187 0h1m182 0h1m39 0h1m43 0h1m42 0h1m166 0h1M113 1301.9h2m168 0h1m16 0h1m250 0h1m30 0h2m59 0h1m38 0h1m11 0h1m43 0h1m19 0h1m22 0h1M93 1307.5h2m188 0h1m3 0h2m11 0h1m30 0h1m129 0h1m22 0h2m57 0h1m7 0h1m31 0h1m98 0h1m75 0h1m22 0h1m19 0h1m2 0h1M136 1313.1h1m6 0h1m340 0h1m98 0h1m98 0h1m75 0h1m45 0h1m39 0h1m45 0h1m60 0h1M86 1318.7h1m49 0h1m6 0h2m21 0h1m373 0h1m141 0h1m75 0h1m45 0h1m21 0h1m16 0h2m106 0h1M144 1324.3h1m1 0h1m31 0h2m42 0h1m127 0h2m14 0h1m315 0h1m75 0h1m45 0h2m22 0h1m15 0h1M96 1329.9h1m9 0h1m72 0h1m42 0h1m21 0h2m89 0h1m14 0h1m15 0h1m8 0h1m121 0h1m271 0h1m34 0h1m5 0h1m33 0h1m123 0h1M96 1335.5h1m9 0h1m72 0h1m51 0h1m12 0h1m18 0h2m85 0h1m15 0h1m108 0h1m76 0h1m76 0h1m210 0h1m105 0h1m12 0h1M946 1352.3h1m11 0h2m12 0h1M946 1357.9h1m11 0h1M98 1363.5h2m203 0h1m64 0h2m440 0h2m145 0h1M99 1369.1h1m226 0h1m5 0h1m189 0h1m28 0h2m257 0h1M99 1374.7h1m226 0h1m172 0h2m21 0h1m22 0h1m293 0h2m18 0h1M71 1380.3h2m26 0h1m49 0h1m55 0h1m5 0h2m7 0h1m141 0h1m136 0h2m44 0h1m216 0h2m28 0h1m24 0h1m6 0h1m15 0h1m66 0h2M99 1385.9h1m105 0h1m6 0h1m7 0h1m77 0h1m63 0h1m207 0h1m113 0h1m78 0h1m5 0h2m46 0h1m22 0h1m6 0h2m8 0h1M212 1391.5h1m91 0h1m156 0h2m221 0h1m1 0h2m82 0h1m13 0h1m3 0h1m10 0h1m40 0h1m7 0h1m8 0h2m57 0h1M82 1397.1h1m141 0h1m79 0h1m1 0h2m153 0h1m160 0h1m61 0h1m73 0h1m15 0h2m12 0h1m15 0h1m34 0h2m16 0h1m23 0h1M82 1402.7h1m77 0h1m63 0h1m53 0h1m8 0h1m206 0h1m17 0h1m171 0h1m103 0h1m7 0h2m12 0h1m28 0h1m17 0h1m23 0h1m24 0h2M134 1408.3h1m140 0h2m217 0h1m8 0h1m10 0h1m162 0h1m118 0h2m12 0h1m46 0h1m14 0h1m8 0h3m13 0h1m6 0h1M240 1413.8h1m35 0h1m137 0h2m87 0h1m21 0h1m2 0h2m147 0h1m119 0h1m58 0h2m20 0h1m4 0h1m13 0h1M316 1419.4h1m186 0h1m21 0h1m3 0h1m54 0h1m81 0h1m42 0h1m72 0h1m118 0h1M152 1425h1m304 0h1m33 0h1m31 0h1m65 0h1m204 0h1m9 0h2M152 1430.6h1m370 0h1m319 0h1m25 0h1M47 1436.2h1m96 0h1m7 0h1m116 0h1m131 0h1m43 0h1m71 0h1m38 0h1m159 0h1m6 0h1m218 0h1M77 1441.8h1m36 0h1m15 0h1m112 0h1m41 0h2m27 0h1m69 0h1m11 0h1m8 0h1m28 0h1m5 0h2m32 0h1m42 0h1m7 0h2m17 0h1m52 0h1m25 0h1m14 0h1m23 0h1m31 0h1m5 0h1m22 0h1m106 0h2m53 0h1m21 0h1M77 1447.4h1m6 0h1m200 0h1m7 0h1m20 0h1m73 0h1m16 0h1m28 0h1m6 0h1m75 0h1m105 0h1m14 0h1m23 0h1m9 0h2m26 0h1m22 0h1m48 0h1m58 0h1m22 0h1M77 1453h2m214 0h1m35 0h1m65 0h1m9 0h1m56 0h2m62 0h1m96 0h1m38 0h1m51 0h1m57 0h1m81 0h1m41 0h1M77 1458.6h2m7 0h1m217 0h2m23 0h1m65 0h1m66 0h1m2 0h1m60 0h1m32 0h1m234 0h1m45 0h1M47 1464.2h2m15 0h1m12 0h2m7 0h1m38 0h1m42 0h1m75 0h2m83 0h1m132 0h1m96 0h1m234 0h1m14 0h1m28 0h1m1 0h1m3 0h1M48 1469.8h1m37 0h1m22 0h1m31 0h1m11 0h1m14 0h1m1 0h1m291 0h1m23 0h2m2 0h2m67 0h1m234 0h1m14 0h1m26 0h1m1 0h1m1 0h1m16 0h1"/><path stroke="#f5b0a0" stroke-width="5.65" fill="none" d="M469 1257.2h2M138 1262.8h1m311 0h1m18 0h1m359 0h1m22 0h1M138 1268.4h1m272 0h1m45 0h1m11 0h1m375 0h1m3 0h1m2 0h1m104 0h1M202 1274h1m254 0h1m488 0h2m9 0h1M457 1279.6h1m423 0h1m74 0h1M201 1285.2h1m160 0h1m94 0h1m234 0h2M362 1290.8h1m94 0h1m143 0h2m228 0h2M457 1296.3h1m76 0h1m145 0h1M133 1301.9h1m411 0h1m134 0h1m59 0h1m43 0h1M133 1307.5h1m411 0h1m134 0h1m59 0h1M160 1313.1h1m153 0h1m230 0h1m134 0h1m210 0h1M160 1318.7h1m153 0h1m133 0h2m230 0h1m126 0h1M71 1324.3h1m88 0h1m153 0h1m251 0h2m389 0h1M99 1329.9h1m62 0h1m229 0h1m89 0h1m41 0h2m40 0h1m404 0h1M161 1335.5h1m320 0h1m41 0h1m103 0h1m257 0h1M239 1363.5h1m134 0h1m99 0h1m22 0h1m152 0h1M363 1369.1h1m133 0h1m420 0h1M230 1374.7h1m132 0h1m147 0h1m376 0h1M363 1380.3h1m147 0h1m221 0h1m125 0h1m11 0h2m26 0h1M294 1385.9h1m65 0h1m2 0h1m54 0h1m65 0h1m26 0h1m126 0h1m94 0h1m17 0h1m6 0h2m38 0h2M251 1391.5h2m4 0h1m102 0h1m2 0h1m54 0h1m92 0h1m59 0h1m66 0h1m112 0h1m6 0h1m20 0h1m18 0h1m69 0h2m41 0h2M251 1397.1h1m111 0h1m47 0h1m72 0h1m153 0h1m145 0h1m35 0h2m47 0h1M157 1402.7h1m56 0h1m39 0h1m108 0h1m120 0h1m335 0h1m11 0h1m26 0h2m8 0h1M84 1408.3h2m128 0h1m39 0h1m108 0h1m468 0h1m26 0h1M85 1413.8h1m196 0h2m100 0h1m439 0h1m7 0h1m26 0h1M832 1419.4h1m26 0h1M536 1425h1M536 1430.6h1M60 1436.2h2m310 0h1m163 0h1m103 0h1m3 0h1m58 0h1m67 0h1m35 0h1m12 0h1m44 0h1M199 1441.8h1m221 0h1m21 0h1m273 0h1m34 0h1m54 0h1m9 0h1m39 0h1m3 0h1m12 0h1M226 1447.4h1m564 0h1m69 0h1m12 0h1M489 1453h1m105 0h1m251 0h2m12 0h1m29 0h1m28 0h1M489 1458.6h1m255 0h1m112 0h1m32 0h1M88 1464.2h1m73 0h1m48 0h1m277 0h1m309 0h1m18 0h1m72 0h1M57 1469.8h1m82 0h1m87 0h2m458 0h1m129 0h1"/><path stroke="#f00c0c" stroke-width="5.65" fill="none" d="M891 1257.2h4m2 0h1m1 0h2m2 0h2m7 0h1m2 0h1m1 0h1m2 0h1m2 0h1m7 0h1m2 0h1m1 0h1m1 0h1M898 1262.8h1m4 0h1m6 0h3m1 0h4m2 0h1m1 0h3m2 0h2m4 0h1m2 0h3m2 0h1m1 0h1M891 1268.4h1m9 0h3m11 0h1m1 0h1m4 0h2m3 0h2m2 0h1m4 0h1M891 1274h1m1 0h2m6 0h1m4 0h2m2 0h2m1 0h1m3 0h1m5 0h1m4 0h1m11 0h1M891 1279.6h1m1 0h1m1 0h1m5 0h1m4 0h2m3 0h1m5 0h2m2 0h1m3 0h1m1 0h1m10 0h2m4 0h1M891 1285.2h3m2 0h2m3 0h1m4 0h3m1 0h3m9 0h1m8 0h2m6 0h1M896 1290.8h1m9 0h1m3 0h2m1 0h1m3 0h2m11 0h3m4 0h1M895 1296.3h3m1 0h1m2 0h1m4 0h1m5 0h1m2 0h4m1 0h3m1 0h1m3 0h1m1 0h4m5 0h2M893 1301.9h3m1 0h1m1 0h5m12 0h1m2 0h1m1 0h2m2 0h1m1 0h1m1 0h1m1 0h1m1 0h1m4 0h1m1 0h1m1 0h1m1 0h1M891 1307.5h1m1 0h1m2 0h1m4 0h1m1 0h2m5 0h2m2 0h1m2 0h1m3 0h1m5 0h1m6 0h1m1 0h1m3 0h1m3 0h1M893 1313.1h1m1 0h2m2 0h1m1 0h1m4 0h1m1 0h1m1 0h3m17 0h2m6 0h1m2 0h2M890 1318.7h1m1 0h6m3 0h3m1 0h2m4 0h2m1 0h1m2 0h1m3 0h1m4 0h2m2 0h2m1 0h2m7 0h3M892 1324.3h3m4 0h4m3 0h2m2 0h1m1 0h2m3 0h2m4 0h1m5 0h2m6 0h2m3 0h3M890 1329.9h1m4 0h2m3 0h3m3 0h1m3 0h1m1 0h1m4 0h3m4 0h3m8 0h1m1 0h1m2 0h1m1 0h1m1 0h1M896 1335.5h3m1 0h2m1 0h1m2 0h3m2 0h2m3 0h2m1 0h2m2 0h1m1 0h2m2 0h2m7 0h1M892 1341.1h2m2 0h1m3 0h2m1 0h1m1 0h3m2 0h1m4 0h4m4 0h1m1 0h1m14 0h1M894 1346.7h1m2 0h3m1 0h3m1 0h3m1 0h1m1 0h2m3 0h1m4 0h3m8 0h1m3 0h5M894 1352.3h4m1 0h5m3 0h2m2 0h1m4 0h2m3 0h2m1 0h1m2 0h1m3 0h2m1 0h1m1 0h2m2 0h1M894 1357.9h1m2 0h1m1 0h6m2 0h2m2 0h2m3 0h2m6 0h1m6 0h4m1 0h1M894 1363.5h1m1 0h2m1 0h2m2 0h2m9 0h4m2 0h1m1 0h1m1 0h1m5 0h2m3 0h1m1 0h1m1 0h1M894 1369.1h1m1 0h2m1 0h1m4 0h1m12 0h1m6 0h1m6 0h1m3 0h1m15 0h1m6 0h2m1 0h2m2 0h1m3 0h1m1 0h3M894 1374.7h1m9 0h1m19 0h1m21 0h1m5 0h2m1 0h2m2 0h4m1 0h1m4 0h3M894 1380.3h1m52 0h2m3 0h1m4 0h1m1 0h2m1 0h3m1 0h1m1 0h2m3 0h1M894 1385.9h1m57 0h1m1 0h1m6 0h3m2 0h1m1 0h1m2 0h1M946 1391.5h1m2 0h2m2 0h1m3 0h2m2 0h2m5 0h2m2 0h2M946 1397.1h4m2 0h3m2 0h2m3 0h1m1 0h1m1 0h1m1 0h6M949 1402.7h1m2 0h3m2 0h2m5 0h1m3 0h2M948 1408.3h2m2 0h2m3 0h2m3 0h1m5 0h1m4 0h1M949 1413.8h1m2 0h2m2 0h2m5 0h3m2 0h3m1 0h1M945 1419.4h2m1 0h2m1 0h1m1 0h1m3 0h1m5 0h1m2 0h3m3 0h2M947 1425h4m2 0h1m1 0h3m1 0h1m2 0h1m3 0h2m1 0h1m2 0h2M947 1430.6h1m2 0h1m11 0h1m5 0h1m4 0h1M948 1436.2h1m2 0h2m2 0h2m4 0h4m1 0h1m5 0h1M948 1441.8h3m2 0h2m1 0h1m5 0h4m1 0h1m3 0h2M946 1447.4h3m4 0h4m1 0h4m1 0h11M946 1453h2m7 0h1m2 0h2m1 0h1m2 0h1m1 0h2m3 0h1m1 0h1M946 1458.6h2m3 0h1m1 0h2m1 0h1m1 0h3m4 0h2m5 0h2M948 1464.2h1m4 0h2m3 0h5m1 0h1m3 0h1m4 0h1M952 1469.8h2m1 0h2m1 0h2m2 0h1m1 0h1m3 0h1m3 0h2"/><path stroke="#dc2828" stroke-width="5.65" fill="none" d="M895 1257.2h1m20 0h1m10 0h3M895 1262.8h1m4 0h2m6 0h1m16 0h2m7 0h1M895 1268.4h1m13 0h2m10 0h1m4 0h1m7 0h1m3 0h2M895 1274h1m1 0h1m4 0h1m6 0h1m24 0h3M896 1279.6h1m31 0h2m6 0h1m3 0h2M895 1285.2h1m6 0h3m16 0h1m5 0h2m12 0h1M901 1290.8h3m21 0h1m8 0h1M901 1296.3h1m1 0h1m23 0h2m1 0h1M904 1301.9h1m2 0h1M895 1307.5h1m30 0h1m4 0h1m9 0h1M921 1313.1h1m1 0h1M904 1318.7h1m13 0h2m20 0h2M897 1324.3h1m10 0h2m4 0h2m3 0h2m10 0h1m1 0h1m2 0h1m3 0h1M891 1329.9h3m3 0h1m6 0h1m2 0h1m5 0h2m16 0h1m1 0h1m2 0h1M904 1335.5h1m4 0h1m4 0h1m18 0h1m2 0h1m3 0h2m2 0h1M899 1341.1h1m8 0h2m29 0h1m1 0h1M904 1346.7h1m36 0h1M904 1352.3h1m1 0h1M906 1357.9h1M891 1363.5h1m14 0h1m4 0h2m12 0h1m6 0h1m8 0h2M891 1369.1h1m19 0h1m30 0h1m13 0h1M942 1374.7h1m4 0h2m17 0h1M947 1385.9h1m7 0h4M954 1391.5h3m2 0h1m3 0h1m2 0h1m4 0h1M951 1397.1h1m9 0h1M951 1402.7h1m9 0h2m8 0h1m1 0h1M946 1408.3h2m21 0h1M952 1419.4h1m1 0h1m7 0h1M946 1430.6h1m1 0h2m6 0h2m3 0h1m10 0h1M949 1436.2h1m8 0h3m7 0h3M958 1441.8h1m9 0h1M954 1453h1m1 0h1m5 0h1m6 0h1M957 1464.2h1m5 0h1M947 1469.8h1"/><rect x="324.4" y="868.3" width="2.2" height="604.3" fill="#777"/><rect x="606.5" y="868.3" width="2.2" height="604.3" fill="#777"/><rect x="888.8" y="868.3" width="2.2" height="604.3" fill="#777"/><rect x="944.2" y="868.3" width="2.2" height="604.3" fill="#777"/><rect x="973.1" y="868.3" width="2.2" height="604.3" fill="#777"/><defs><linearGradient id="eg" x1="0" x2="1"><stop offset="0" stop-color="#9b3cf5"/><stop offset=".2" stop-color="#8ab2ea"/><stop offset=".36" stop-color="#9ad3ea"/><stop offset=".5" stop-color="#ffffff"/><stop offset=".62" stop-color="#fbbba4"/><stop offset=".78" stop-color="#f2501e"/><stop offset="1" stop-color="#ee1408"/></linearGradient></defs><rect x="677.2" y="1495.7" width="72.9" height="14.2" fill="url(#eg)"/><path d="M685.6 1495.7v2M685.6 1507.9v2" stroke="#fff" stroke-width=".8"/><path d="M704.6 1495.7v2M704.6 1507.9v2" stroke="#fff" stroke-width=".8"/><path d="M722.3 1495.7v2M722.3 1507.9v2" stroke="#fff" stroke-width=".8"/><path d="M741.3 1495.7v2M741.3 1507.9v2" stroke="#fff" stroke-width=".8"/><text x="621" y="1512" font-size="10.2" fill="#222">Expression</text><text x="685.6" y="1520.5" font-size="7.5" text-anchor="middle" fill="#333">-1</text><text x="704.6" y="1520.5" font-size="7.5" text-anchor="middle" fill="#333">0</text><text x="722.3" y="1520.5" font-size="7.5" text-anchor="middle" fill="#333">1</text><text x="741.3" y="1520.5" font-size="7.5" text-anchor="middle" fill="#333">2</text><text x="4.6" y="1576.3" font-size="23.5" font-weight="bold">F</text><rect x="47.8" y="1577" width="453.7" height="435.5" fill="none" stroke="#9a9a9a" stroke-width="1.3"/><path d="M141 1580V2011" stroke="#bdbdbd" stroke-width="1.1" stroke-dasharray="4 3" fill="none"/><path d="M169 1580V2011" stroke="#bdbdbd" stroke-width="1.1" stroke-dasharray="4 3" fill="none"/><path d="M248 1580V2011" stroke="#bdbdbd" stroke-width="1.1" stroke-dasharray="4 3" fill="none"/><path d="M277 1580V2011" stroke="#bdbdbd" stroke-width="1.1" stroke-dasharray="4 3" fill="none"/><path d="M49 1985.8H500M49 1988.2H500" stroke="#c4c4c4" stroke-width="1" stroke-dasharray="4 3" fill="none"/><path d="M44.8 1613L47.8 1613" stroke="#444" stroke-width="1.1" fill="none" /><text x="38.5" y="1619.2" font-size="17.5" text-anchor="end" fill="#111">60</text><path d="M44.8 1740L47.8 1740" stroke="#444" stroke-width="1.1" fill="none" /><text x="38.5" y="1746.2" font-size="17.5" text-anchor="end" fill="#111">40</text><path d="M44.8 1867.5L47.8 1867.5" stroke="#444" stroke-width="1.1" fill="none" /><text x="38.5" y="1873.7" font-size="17.5" text-anchor="end" fill="#111">20</text><path d="M44.8 1994L47.8 1994" stroke="#444" stroke-width="1.1" fill="none" /><text x="38.5" y="2000.2" font-size="17.5" text-anchor="end" fill="#111">0</text><path d="M70 2012.5L70 2015.5" stroke="#444" stroke-width="1.1" fill="none" /><text x="70" y="2033" font-size="17.5" text-anchor="middle" fill="#111">-2</text><path d="M208 2012.5L208 2015.5" stroke="#444" stroke-width="1.1" fill="none" /><text x="208" y="2033" font-size="17.5" text-anchor="middle" fill="#111">0</text><path d="M344 2012.5L344 2015.5" stroke="#444" stroke-width="1.1" fill="none" /><text x="344" y="2033" font-size="17.5" text-anchor="middle" fill="#111">2</text><path d="M479 2012.5L479 2015.5" stroke="#444" stroke-width="1.1" fill="none" /><text x="479" y="2033" font-size="17.5" text-anchor="middle" fill="#111">4</text><text x="276" y="2045.5" font-size="17.5" text-anchor="middle" fill="#111">log(FC)</text><text font-size="16.5" fill="#111" text-anchor="middle" transform="translate(13.6 1822.3) rotate(-90)">-log<tspan font-size="11" dy="3.3">10</tspan><tspan dy="-3.3">(PValue)</tspan></text><path transform="scale(.5)" stroke="#a8a8a8" stroke-width="4.6" stroke-linecap="round" d="M493 3378h0m-31 208h0m8 0h0m14 50h0m-10 9h0m-2 35h0m16 30h0m-8 30h0m-24-4h0m14 54h0m-8 1h0m4 11h0m-10 0h0m-2 0h0m10 13h0m28-5h0m-25 12h0m-7-2h0m34 9h0m-7 7h0m-14 1h0m-3 1h0m-13-6h0m9 9h0m14 3h0m-7 4h0m-29 2h0m18 11h0m4 0h0m5-3h0m6 5h0m5-4h0m14 12h0m-23 0h0m-15-3h0m-8 5h0m2 1h0m4 5h0m8-6h0m5 6h0m13-1h0m2-4h0m12 13h0m-11 0h0m-5-2h0m-1-4h0m-3 1h0m-3 1h0m-6 1h0m-2 0h0m-3 2h0m0-6h0m-9 7h0m-7 7h0m2 0h0m7-6h0m9 0h0m1 0h0m7 0h0m1 2h0m9 4h0m4-4h0m6 6h0m-11 2h0m-5-1h0m-1 1h0m-4 4h0m-2 0h0m-1-3h0m-3-2h0m-4-1h0m-1 0h0m-9 7h0m-3 6h0m11-5h0m5 5h0m1 2h0m1-1h0m3-5h0m6 1h0m0 2h0m4-1h0m0 4h0m0-3h0m3 1h0m8 0h0m1-1h0m0 0h0m1 1h0m6 5h0m-3 5h0m-1-1h0m-2-1h0m-2-1h0m-8-4h0m0 0h0m-2 0h0m-1 5h0m-1-5h0m-3 2h0m0 4h0m0-1h0m-2 1h0m0-1h0m0-1h0m-4 3h0m-3-7h0m-14 7h0m-1 7h0m2 1h0m6-4h0m5 2h0m0 0h0m0 0h0m1 1h0m1-1h0m3 1h0m1-2h0m0 0h0m2-4h0m0 1h0m1-1h0m2 2h0m3 3h0m0-1h0m1-1h0m0 2h0m4-3h0m2 3h0m5-2h0m1-1h0m4 2h0m2 3h0m2-1h0m1 9h0m-1-1h0m-1-6h0m-1 7h0m-1 0h0m0 0h0m-1-5h0m-1 2h0m-2 2h0m-1 0h0m0-3h0m-1 3h0m0-5h0m-2 5h0m0 0h0m-3-1h0m-1-3h0m-1-2h0m-5 4h0m-2-4h0m0 3h0m-1-2h0m0 0h0m-2 6h0m0-6h0m0 4h0m0-2h0m-2-1h0m-2 4h0m-1-5h0m-2-1h0m-1 7h0m-1-5h0m-5-2h0m0 0h0m-1 1h0m-1 6h0m0-5h0m-3 1h0m-3-3h0m-15 9h0m18-1h0m0 2h0m4 0h0m4-1h0m2 1h0m1 0h0m2 0h0m8 0h0m2 5h0m2-5h0m2 1h0m0-1h0m1-1h0m0 3h0m1 0h0m1-2h0m1 2h0m0-3h0m0 4h0m1 2h0m0-7h0m2 3h0m1 3h0m0-5h0m0 1h0m2 5h0m1-4h0m0 2h0m1 2h0m0-4h0m3 3h0m1-4h0m1-2h0m1 4h0m0 11h0m-2-1h0m-1-2h0m-4 3h0m0-2h0m-1 1h0m-10-6h0m-1 3h0m-1-3h0m-1 0h0m0 7h0m0-1h0m0-1h0m-1-4h0m0 6h0m-2-1h0m-2 1h0m0-5h0m-1 1h0m-1 1h0m0-3h0m-1 4h0m0-4h0m0 4h0m-2 0h0m0-3h0m-4 4h0m0 1h0m-1-2h0m0 2h0m-17 8h0m5 0h0m0-2h0m2 1h0m0 0h0m3 0h0m0-2h0m1 0h0m1-1h0m0 1h0m0 0h0m2-3h0m0 3h0m0-4h0m3 0h0m0 0h0m1 1h0m0 1h0m2 0h0m2 5h0m0-4h0m2 2h0m1-3h0m0 5h0m0-6h0m1 4h0m2-2h0m2-2h0m2 5h0m1-1h0m6-4h0m2 5h0m0-5h0m0-1h0m1 5h0m0-4h0m0 4h0m1 1h0m2-5h0m4 3h0m0-1h0m1 0h0m1-1h0m3 2h0m0 11h0m-3-4h0m-1 4h0m0-3h0m-1-2h0m-2 2h0m0 2h0m-1-6h0m0 5h0m-3 0h0m0 0h0m0-1h0m0 3h0m0 0h0m-1-1h0m-2 1h0m-1-1h0m0-3h0m0 1h0m-1 2h0m0-2h0m0 2h0m0-2h0m-3-3h0m0 4h0m-3 0h0m-1-4h0m0 4h0m-3-3h0m-1 1h0m-1-1h0m-1-1h0m-2 4h0m0-5h0m0 2h0m-1 1h0m0 4h0m-2-4h0m0-3h0m-1 7h0m-1-5h0m-5 3h0m0-2h0m-2 3h0m-1 1h0m0-5h0m-2 2h0m-2-4h0m0 3h0m-1-1h0m-3 2h0m0-3h0m-5 4h0m-3-1h0m0 0h0m0 0h0m-215 10h0m0 0h0m17 1h0m11 0h0m17-2h0m11 0h0m1 0h0m0 1h0m0 0h0m2 1h0m2 0h0m2-2h0m0 1h0m0 1h0m0-2h0m2 1h0m0-1h0m1 2h0m2 0h0m0 0h0m0-2h0m1 2h0m0 0h0m0-1h0m0-1h0m1 1h0m0 0h0m2-1h0m3 1h0m0 1h0m1-1h0m2 0h0m1 1h0m1 0h0m1-2h0m1 2h0m3-2h0m1 1h0m1 0h0m1 1h0m1 0h0m1-1h0m0 1h0m2 0h0m1-1h0m5 1h0m1 0h0m0-1h0m2 0h0m1 1h0m1 0h0m6 0h0m2-2h0m1 1h0m0 1h0m5 0h0m3 0h0m1-2h0m2 2h0m4 0h0m0-1h0m0 0h0m1 1h0m1-2h0m1 1h0m0 1h0m1-1h0m1-1h0m4 1h0m0 0h0m4 0h0m4 1h0m4 0h0m2 0h0m7-1h0m1-1h0m2 1h0m2 1h0m2-1h0m0 0h0m2 1h0m6 0h0m0-1h0m10 1h0m1 0h0m1-1h0m2 0h0m3 1h0m2 0h0m4 0h0m0-1h0m1-1h0m1 2h0m3 0h0m1 0h0m2 0h0m0-2h0m2 1h0m2 0h0m0-6h0m0 2h0m1 3h0m0 2h0m0-2h0m1-3h0m0 2h0m0-1h0m3 0h0m1-2h0m1 3h0m1 0h0m1 2h0m2-1h0m1 0h0m0 0h0m1 0h0m1-1h0m0 0h0m2 2h0m0 0h0m0-3h0m1 3h0m1-4h0m0 5h0m1-1h0m1-4h0m0 2h0m5 2h0m1-3h0m1-2h0m0 1h0m0 4h0m1-2h0m1 1h0m0-4h0m0 4h0m1 0h0m1-1h0m1 3h0m0-7h0m0 2h0m0 1h0m1 1h0m0-4h0m0 0h0m1 6h0m0-4h0m1 3h0m0-4h0m1 3h0m1-1h0m2 3h0m1-2h0m2 2h0m1-3h0m1-1h0m1 0h0m1 3h0m0-1h0m1 1h0m2-2h0m0 1h0m0-2h0m1 0h0m1 4h0m1 1h0m1-2h0m2-3h0m3 0h0m0-1h0m1 0h0m1-1h0m1 2h0m0 2h0m0-4h0m2 6h0m2-4h0m1 4h0m1-1h0m1 1h0m0-1h0m2 2h0m0 0h0m0-1h0m1 0h0m0 1h0m1 0h0m1 0h0m3-2h0m0 2h0m0 0h0m1-2h0m1 1h0m0 1h0m1 0h0m0-1h0m0 1h0m0 0h0m1-1h0m0 0h0m1 1h0m0-1h0m3 1h0m0-1h0m0 1h0m0 0h0m2 0h0m0 0h0m0 0h0m3-2h0m0 1h0m0 1h0m1-1h0m1 1h0m0 0h0m1 0h0m0 0h0m0 0h0m1-1h0m0 0h0m1 1h0m1-1h0m0 0h0m0 0h0m1 0h0m0 0h0m0 0h0m0 1h0m1 0h0m0 0h0m0-1h0m1-1h0m1 2h0m1 0h0m0 0h0m0-1h0m0 0h0m0 0h0m1-1h0m0 1h0m0 1h0m0 0h0m1-1h0m0-1h0m0 2h0m0 0h0m1 0h0m1 0h0m0 0h0m1 0h0m0-1h0m1 0h0m1 1h0m0-1h0m0 1h0m1 0h0m0 0h0m1 0h0m1-1h0m0 0h0m1 0h0m1 1h0m1-1h0m0 0h0m0 0h0m0-1h0m0 2h0m0-1h0m1 1h0m0 0h0m1-1h0m0 0h0m1 1h0m1-1h0m0-1h0m0 0h0m1 2h0m0-1h0m0 1h0m0-1h0m0 1h0m0-1h0m0 0h0m1 0h0m0 0h0m1 0h0m0 0h0m0-1h0m0 1h0m0 1h0m1-1h0m0 1h0m1 0h0m0 0h0m1-1h0m0 1h0m0-1h0m0 1h0m0-1h0m1 0h0m0 0h0m0 3h0m-1 0h0m0-1h0m0 2h0m-1 0h0m0 0h0m0-2h0m0 2h0m-1-1h0m0 1h0m0 0h0m0-1h0m0 1h0m0-2h0m0 2h0m0 0h0m-1-2h0m0 2h0m0-2h0m-1 1h0m0 0h0m0 1h0m0 0h0m-1 0h0m0 0h0m0 0h0m0 0h0m0-2h0m0 2h0m0-1h0m-1-1h0m0 1h0m0-1h0m-1 2h0m0-1h0m0-1h0m0 2h0m0-1h0m-1-1h0m0 1h0m0-1h0m0 2h0m-1-1h0m0 1h0m0 0h0m0-1h0m-1 0h0m0 0h0m0-1h0m-1 0h0m0 1h0m-1 1h0m0 0h0m0 0h0m-1 0h0m0-2h0m-1 1h0m0 0h0m0-1h0m-1 1h0m0 0h0m0 1h0m-1-1h0m0 1h0m0-1h0m0 1h0m-1-2h0m0 2h0m0 0h0m-1-1h0m0 1h0m0 0h0m0-2h0m0 0h0m-1 2h0m0-1h0m0 0h0m0 1h0m0 0h0m0-2h0m-1 2h0m0 0h0m0 0h0m0-1h0m0-1h0m-1 2h0m0 0h0m0-1h0m0 0h0m0 1h0m0-1h0m0 1h0m0 0h0m-1-1h0m0 0h0m0 0h0m0 0h0m0 0h0m-1 0h0m0-1h0m0 1h0m0-1h0m0 2h0m0-1h0m-1 1h0m0-1h0m0 1h0m0-1h0m0-1h0m-1 2h0m0 0h0m0-2h0m0 2h0m0-1h0m0 1h0m-1 0h0m0-2h0m-1 1h0m0 1h0m0 0h0m0 0h0m0-1h0m-1-1h0m-1 1h0m0 1h0m0-2h0m-1 0h0m0 0h0m0 2h0m-1 0h0m0 0h0m-1 0h0m0 0h0m0 0h0m0 0h0m0-2h0m-1 0h0m0 1h0m0-1h0m0 0h0m0 2h0m0-1h0m-1 1h0m-1-1h0m0 1h0m0 0h0m-1 0h0m0-1h0m-1-1h0m0 1h0m0 2h0m0 0h0m0-2h0m0 1h0m-1 1h0m0-1h0m0 1h0m-1-1h0m0-1h0m0 0h0m0 1h0m-1-1h0m0 0h0m0 0h0m0 2h0m0-1h0m0-1h0m0 2h0m0-3h0m0 2h0m-1 0h0m0 1h0m0-3h0m0 2h0m0 0h0m-1 1h0m0-2h0m0 0h0m-1 0h0m0 2h0m-1 1h0m0-2h0m0-1h0m0 0h0m-1 2h0m0-2h0m0 2h0m0-3h0m0 4h0m0-1h0m-1 1h0m0-3h0m0 1h0m0 2h0m-1-1h0m0 0h0m-1-1h0m0 1h0m0-3h0m0 1h0m0 0h0m0 1h0m-1 0h0m0-2h0m0 4h0m0-1h0m0 0h0m0 1h0m-1-2h0m0 2h0m0 1h0m0-5h0m-1 2h0m0 1h0m0-2h0m0 1h0m0 2h0m0-2h0m0 2h0m0-2h0m-1 0h0m0 0h0m0-2h0m-1 0h0m0 2h0m0-2h0m0 2h0m0-1h0m0 1h0m0 1h0m0-3h0m-1 5h0m0-3h0m0-1h0m0 3h0m-1-2h0m0 3h0m0-3h0m-1 2h0m-1-4h0m0 5h0m-1 0h0m-1 0h0m0-1h0m-2 1h0m0-1h0m0 2h0m-1-2h0m0-1h0m-1 1h0m0-1h0m0 1h0m0-4h0m-1 4h0m0-4h0m0 6h0m0-1h0m-2 0h0m-1 0h0m0-1h0m0 2h0m-1-1h0m-1 2h0m0-4h0m-1 1h0m0 3h0m-1-7h0m-1 6h0m-1-3h0m0 0h0m0 4h0m-1-3h0m-1 2h0m-1-6h0m-1 7h0m0-6h0m0 0h0m0 5h0m-1-6h0m0 0h0m0 1h0m-2 4h0m-1-4h0m-1 0h0m-2 4h0m0-3h0m0 3h0m-1-2h0m-1-3h0m-1 1h0m-1 1h0m0 5h0m0-1h0m-1 0h0m0-4h0m-1 1h0m0 0h0m-1 2h0m0 1h0m0-6h0m-2 4h0m0 0h0m0 1h0m0-5h0m0 2h0m0 4h0m0-5h0m-1 4h0m0-3h0m0-2h0m0 4h0m0 3h0m-2-7h0m0 7h0m-1-7h0m-1 2h0m0-1h0m0-1h0m-1 5h0m0 1h0m-2-6h0m0 3h0m0-2h0m-1 5h0m0-3h0m-1 2h0m-2 1h0m-2-3h0m0 2h0m-1-4h0m0-1h0m0 2h0m0 3h0m0 2h0m-1 0h0m0-4h0m0 0h0m0 4h0m-1-3h0m0 0h0m0-4h0m-1 4h0m0-2h0m-1 2h0m0-3h0m0 6h0m0-2h0m-1-4h0m0 2h0m0 3h0m-1-4h0m0-2h0m0 5h0m0-1h0m-1 2h0m0 1h0m-2-2h0m-1-3h0m0-1h0m-1 6h0m-2-6h0m-1 5h0m0-2h0m0 2h0m0-4h0m-1 4h0m0-6h0m0 6h0m-1 0h0m0-5h0m-1-1h0m-1 4h0m-1 1h0m-1 1h0m0-5h0m0 1h0m0 3h0m-1 2h0m0-5h0m0 2h0m-1 1h0m0-2h0m0-3h0m-2 2h0m0-2h0m-1 6h0m0 1h0m0-2h0m-1-1h0m0 3h0m0-4h0m0-3h0m-1 5h0m-1-3h0m0 1h0m-1 4h0m0 0h0m-1-3h0m0-4h0m0 3h0m0 0h0m0 0h0m0-3h0m0 6h0m-1-6h0m0 3h0m-1 4h0m0-7h0m0 6h0m-1 1h0m-1-5h0m0-2h0m-1 0h0m0 3h0m-1-2h0m0 2h0m-1 0h0m-1 2h0m0-5h0m-1 4h0m0 3h0m-1-7h0m-1 5h0m0-1h0m0-1h0m0 2h0m-1-1h0m0 0h0m0-4h0m0 1h0m-1 4h0m0 1h0m0-1h0m0 1h0m0 0h0m-1-1h0m-1 2h0m0 0h0m0-5h0m0 4h0m0-3h0m-1 2h0m0-4h0m0 6h0m0-6h0m-2 1h0m0-1h0m0 2h0m-1 1h0m0 0h0m0 1h0m-1 1h0m0-2h0m0-1h0m0 1h0m0 3h0m-1-6h0m0 2h0m-1-2h0m0 0h0m0 2h0m-2-3h0m-1 2h0m0-1h0m0 1h0m-3 2h0m0 2h0m-1-6h0m0 2h0m-1 2h0m0 0h0m-1 3h0m0-2h0m0-2h0m0 0h0m0 4h0m0 0h0m0-1h0m-1-4h0m0 4h0m-1-2h0m0 2h0m0-4h0m0 4h0m-1-2h0m0 3h0m0-6h0m-1 6h0m0-3h0m0-1h0m0 0h0m-1 4h0m0-3h0m-1-2h0m0 2h0m0 2h0m-1 1h0m0-1h0m0-2h0m0 2h0m-1-3h0m0-2h0m-2 5h0m0-6h0m0 2h0m-1 4h0m-1 0h0m0-4h0m-1 2h0m0 2h0m-1-2h0m0-4h0m0 1h0m0-1h0m0 5h0m-1 2h0m0-2h0m0-2h0m-1-1h0m0 1h0m-1 3h0m-1-2h0m-1 3h0m0-2h0m0-1h0m-1-4h0m0 4h0m0 3h0m0-1h0m0-5h0m-1 5h0m0-4h0m0 4h0m0 1h0m-1-4h0m0 1h0m0-1h0m0 0h0m0-3h0m-1 1h0m-1 2h0m0 4h0m-2-1h0m-2-3h0m0 4h0m-1-6h0m0 5h0m0 1h0m0-4h0m0 2h0m-1-5h0m-1 2h0m0 1h0m0-3h0m0 3h0m-1-2h0m0 1h0m0-1h0m-1 0h0m0 6h0m-1 0h0m0-2h0m0-4h0m0 4h0m-1-2h0m0 4h0m-2-3h0m0 3h0m-2-3h0m0 2h0m0-2h0m-1-3h0m0 1h0m-2 2h0m0-2h0m0 3h0m0-1h0m-1 2h0m0-5h0m-1-1h0m0 3h0m0 0h0m0-3h0m0 6h0m0-6h0m-1 1h0m0 6h0m0-3h0m0 0h0m-1 2h0m0-1h0m0-4h0m-1 3h0m0-3h0m0 3h0m0-3h0m-1 1h0m0 4h0m0-2h0m-1 3h0m0-7h0m0 3h0m-1 2h0m0 0h0m0 0h0m-1 0h0m0 0h0m0 1h0m-1 0h0m0 1h0m0-6h0m0 6h0m-1-4h0m0-1h0m0-1h0m0 3h0m0-1h0m0-1h0m0 0h0m-1 4h0m0 0h0m-2-5h0m0-1h0m0 5h0m-1-5h0m0 3h0m0-3h0m0 6h0m0-2h0m0 1h0m-1-3h0m-1 5h0m0 0h0m0-3h0m0 0h0m0-4h0m-1 4h0m0-1h0m0 0h0m-1-2h0m0 0h0m-1-1h0m0 6h0m-1 0h0m0-2h0m0-1h0m-1 4h0m0-1h0m0-2h0m0 0h0m-1 0h0m0 3h0m0-2h0m-2-2h0m0 3h0m0-3h0m-1 3h0m0-1h0m0 2h0m0 0h0m0-3h0m0 3h0m-1-5h0m0-1h0m-1 1h0m0 4h0m0-1h0m-2-4h0m0 0h0m0 5h0m0 1h0m-1-3h0m0-1h0m-1-3h0m0 7h0m0-6h0m-1 2h0m0 1h0m0-4h0m0 6h0m0 1h0m-1-5h0m0 5h0m-1-7h0m0 5h0m0-2h0m0 2h0m0-4h0m0 5h0m0-6h0m0 6h0m0 1h0m0-3h0m-1 0h0m0 2h0m0-3h0m0 3h0m-1 1h0m0-1h0m0-6h0m0 5h0m0 2h0m0-3h0m0 2h0m-1-4h0m0 1h0m-1 3h0m0 1h0m0-1h0m0-3h0m-1-1h0m0 0h0m0 4h0m0 0h0m-1 1h0m0 0h0m0 0h0m0 0h0m0-6h0m0 0h0m-1 6h0m0-6h0m0 4h0m0-5h0m-1 0h0m0 3h0m0-1h0m0 3h0m0 1h0m0-3h0m0 4h0m-1-6h0m0 2h0m-1 4h0m0-5h0m0-2h0m0 3h0m0 2h0m0-4h0m-1 6h0m0-2h0m0-4h0m0 5h0m0-6h0m-1 3h0m0-3h0m0 3h0m0 2h0m0 1h0m-1-2h0m0-1h0m0 1h0m0 0h0m0 2h0m0-2h0m-1-2h0m0-1h0m0 0h0m-1 4h0m0 2h0m0-1h0m-1-4h0m0 4h0m0-5h0m0 0h0m0 5h0m0-1h0m0-4h0m0 5h0m-1-1h0m0 0h0m0 1h0m0-4h0m-1 2h0m0 1h0m-1-2h0m0 2h0m0 1h0m0-5h0m0 4h0m-1-4h0m0 0h0m0 2h0m0-1h0m0 4h0m-1-2h0m0 2h0m0-1h0m0-1h0m0 0h0m0-2h0m0-2h0m0 2h0m-1-2h0m0 0h0m0 5h0m0-1h0m0 1h0m0 0h0m0 1h0m0-1h0m0 0h0m0 0h0m0-1h0m0 2h0m0-5h0m0 6h0m-1-6h0m0 5h0m0-4h0m-1 4h0m0-4h0m0 3h0m0 0h0m-1 0h0m0-1h0m0 0h0m-1 0h0m0 0h0m0-3h0m0 3h0m0-1h0m0-3h0m-1 5h0m0-3h0m-1 3h0m0-3h0m0 3h0m0-4h0m0 3h0m0 1h0m0 1h0m-2-2h0m-1-2h0m-1-1h0m0 6h0m-1-7h0m-5 4h0m-3-2h0m-3 0h0m-7 1h0m-14 4h0m-5-1h0m-10 0h0m-3-5h0m-1 5h0m-1-4h0m-3 2h0m6 8h0m9-3h0m1 1h0m1 2h0m8-1h0m0 0h0m6 1h0m1-4h0m4 3h0m4 0h0m7-1h0m11 0h0m2 4h0m23-6h0m0 0h0m1 0h0m1 0h0m0 0h0m2 0h0m0 0h0m0 0h0m1 0h0m0 0h0m1 0h0m1 1h0m2 0h0m3 0h0m1-1h0m1 1h0m1 0h0m0 0h0m0 0h0m0 0h0m0 0h0m0 0h0m1 0h0m1 0h0m1 1h0m0-1h0m1 1h0m0 0h0m0-2h0m1 1h0m0-1h0m1 1h0m0 1h0m1 0h0m0-1h0m0 0h0m0 1h0m1-2h0m1 2h0m0-1h0m1 1h0m0 0h0m0 0h0m1-2h0m0 2h0m0 0h0m0-1h0m0 0h0m1 1h0m0-1h0m0 1h0m0-2h0m1 3h0m0-1h0m1 0h0m0 1h0m0-3h0m2 1h0m0 0h0m1 1h0m1 0h0m0 1h0m1 0h0m0-3h0m0 0h0m0 2h0m0-1h0m1 1h0m0 0h0m0 0h0m1 0h0m0 1h0m0-2h0m0-1h0m2 1h0m0 0h0m0 0h0m1 0h0m0 0h0m0 1h0m0 1h0m0 0h0m0 1h0m1 0h0m0-3h0m1 3h0m0-4h0m0 0h0m1 4h0m0 0h0m0-1h0m0-3h0m1 1h0m1 2h0m1-3h0m0 3h0m0-1h0m0-1h0m1 0h0m0-1h0m0 2h0m0 0h0m1 0h0m0-2h0m0 4h0m0 0h0m1 0h0m0 0h0m0-2h0m1 2h0m1-1h0m1 1h0m0-1h0m0 1h0m1 1h0m0-1h0m0 0h0m0-1h0m1-1h0m1 0h0m0 3h0m0-1h0m0 0h0m0 0h0m0-1h0m1 0h0m0-2h0m0 2h0m0-2h0m0-1h0m1 4h0m0-1h0m0-3h0m1 0h0m0 3h0m1 1h0m0-2h0m0-2h0m1 1h0m0 1h0m1 0h0m0 1h0m0-2h0m0 2h0m0 1h0m0-1h0m1 1h0m0 0h0m0 0h0m0-2h0m1-2h0m0 3h0m0-3h0m0 0h0m1 1h0m0 4h0m0-5h0m1 2h0m0 3h0m0-4h0m0 4h0m1-1h0m0 0h0m0 1h0m0-4h0m0 4h0m1-5h0m1 3h0m0 0h0m0 2h0m1 0h0m1-3h0m2 1h0m0 2h0m0-1h0m0-2h0m1-2h0m0 0h0m0 4h0m0-2h0m0 1h0m0 2h0m0-5h0m1 1h0m0-1h0m1 1h0m0 2h0m0 2h0m0-4h0m0 3h0m1-2h0m1 4h0m0 0h0m0-4h0m1 3h0m1-3h0m0 0h0m0 1h0m0-1h0m0-1h0m1 3h0m0 1h0m0-1h0m0-4h0m0 5h0m0-1h0m0-2h0m3 3h0m0 0h0m0-5h0m0 1h0m0 4h0m0 1h0m0-4h0m0 3h0m1 0h0m0 1h0m0-1h0m1-2h0m0 0h0m0 0h0m0 2h0m1-4h0m0 2h0m0 2h0m0 0h0m1-2h0m0 0h0m1 3h0m0-1h0m1-5h0m0 2h0m0 0h0m0 1h0m1 3h0m0-1h0m0-2h0m0-1h0m0 0h0m1 1h0m0 2h0m0 1h0m0-5h0m1 2h0m0-3h0m0 5h0m0-1h0m0 2h0m1-6h0m0 6h0m1-1h0m1-1h0m0-4h0m1 6h0m1-3h0m0 2h0m0-5h0m0 5h0m1-3h0m0 0h0m0 0h0m0 0h0m0 0h0m1-2h0m0 4h0m0-3h0m1 0h0m0 3h0m0 0h0m0 1h0m0 0h0m0 1h0m0-5h0m1-1h0m0 3h0m0 0h0m1-2h0m0 4h0m0 0h0m0-4h0m1 4h0m0-2h0m0 0h0m1 1h0m1 1h0m0 0h0m0-2h0m1-1h0m0 1h0m0 2h0m1-3h0m0 1h0m0 1h0m1-1h0m0 2h0m0 0h0m0 0h0m0-2h0m0 2h0m1-5h0m0 1h0m0 4h0m1-1h0m0 1h0m0-5h0m0 1h0m0-1h0m1 3h0m1 2h0m0-1h0m0 0h0m0-1h0m1 2h0m0-3h0m0 3h0m0 0h0m0-4h0m1 2h0m0-1h0m0 2h0m0 1h0m0-2h0m1 2h0m0-2h0m1 2h0m0-4h0m0-1h0m1 4h0m0-4h0m0 3h0m0-3h0m0 5h0m0-2h0m0 2h0m0 0h0m1-4h0m0 4h0m0-2h0m1-2h0m0 3h0m0-4h0m0 4h0m0-3h0m1 4h0m0-5h0m0 1h0m0 2h0m0 2h0m0-3h0m2 0h0m0 2h0m0 1h0m0-3h0m2 1h0m0 0h0m0 0h0m0-2h0m1 3h0m0 1h0m0-3h0m1 0h0m0-2h0m1 1h0m1 2h0m0 0h0m1 1h0m0-2h0m0 1h0m0 0h0m2 1h0m1-1h0m0 1h0m1 0h0m0-2h0m0 1h0m1 1h0m1-2h0m1 0h0m0 0h0m1 1h0m0 0h0m0 0h0m1-1h0m0 2h0m0-1h0m1-1h0m0 1h0m0-1h0m0-2h0m1 3h0m1-2h0m0 2h0m0-2h0m0 2h0m1-1h0m1 1h0m0-3h0m4 1h0m0 2h0m0-2h0m1 1h0m1 1h0m0-2h0m0 2h0m0-3h0m1 3h0m0-2h0m5 1h0m0-1h0m4 0h0m0 1h0m1 0h0m0-1h0m1 0h0m0-1h0m1 2h0m3-1h0m2 0h0m1 0h0m2-1h0"/><path transform="scale(.5)" stroke="#14148a" stroke-width="4.4" stroke-linecap="round" d="M250 3930h0m-10 14h0m-4 6h0m-6 6h0m30 1h0m1 2h0m10-1h0m7 0h0m6 6h0m0-4h0m-1 4h0m-2-3h0m-3 0h0m-3 0h0m-4 4h0m-1 1h0m-3-4h0m-6 4h0m0-3h0m-2 1h0m-5-4h0m-1 2h0m-5 3h0m-40-5h0m-2 14h0m18-6h0m24 6h0m0 0h0m8-3h0m2-1h0m0-2h0m1 6h0m0-3h0m1 0h0m5-1h0m1 0h0m2 2h0m7-1h0m6 1h0m-61 8h0"/><path transform="scale(.5)" stroke="#1e32ec" stroke-width="4.4" stroke-linecap="round" d="M271 3958h0m8-2h0m0-1h0m1 1h0m2-1h0m0 4h0m4-4h0m1 2h0m1-1h0m1-3h0m4 3h0m11 1h0m2 0h0m6 1h0m7-4h0m4 5h0m1-4h0m0-1h0m4 4h0m5-3h0m5 1h0m0 4h0m-2 4h0m-1 1h0m-6 2h0m-4-4h0m0 3h0m-2 1h0m-2-6h0m-5 3h0m-1-4h0m-2 0h0m0 6h0m-5-2h0m-4-2h0m-2 2h0m-2-4h0m-2 3h0m-2 1h0m-4 1h0m-4-5h0m-3 2h0m-1 3h0m-2-1h0m-3-4h0m-10 7h0m-8-5h0m-1 0h0m-3 0h0m-2 7h0m5 6h0m3-1h0m14-3h0m0 3h0m3-6h0m1 2h0m1-2h0m3 7h0m1-5h0m0 3h0m3-3h0m15-1h0m1 4h0m1 1h0m0-5h0m1-1h0m1 1h0m2 0h0m1 2h0m3-2h0m1 6h0m1-2h0m0 0h0m1 2h0m1-7h0m0 0h0m7 5h0m0 1h0m1-4h0m0-2h0m3 6h0m1-3h0m4-1h0m1 4h0m3-6h0m-3 9h0m-5 0h0m-3-1h0m-10 0h0m-7 1h0m-12-1h0m-14 0h0m-6 1h0m-6-1h0m-15 2h0"/><path transform="scale(.5)" stroke="#f59a1e" stroke-width="4.8" stroke-linecap="round" d="M521 3480h0m-5 22h0m-6 18h0m-7 45h0m-6 125h0m30 10h0m8 0h0m-30 50h0m45 0h0m-34 5h0m0 13h0m-4 2h0m-10-2h0m-4 2h0m15 6h0m11 4h0m1 2h0m19-3h0m0 4h0m4 4h0m-17 4h0m-7 7h0m16-4h0m-42 11h0m6 5h0m13 4h0m28-1h0m-21 11h0m6 6h0m-27 6h0m-3 11h0m16-3h0m3-2h0m24 0h0m5 5h0m3 5h0m-7-2h0m-25-2h0m-19 12h0m41 1h0m-9 15h0m4-4h0m15 2h0m-31 12h0m-22 4h0m22 0h0m13 3h0m8-2h0m-33 9h0m-6 3h0m0-3h0m-4 11h0m4-6h0m12 3h0m3-4h0m2 1h0m4 6h0m10-6h0m4 0h0m7 2h0m3-1h0m2 12h0m-5-4h0m-5 5h0m-1 0h0m-3 0h0m-7 0h0m-2-5h0m-2 4h0m-5-1h0m-1 1h0m-1-6h0m-3 6h0m-13 3h0m3-1h0m5 1h0m7 5h0m5-1h0m12-1h0m3-2h0m4 3h0m1-5h0m11 13h0m-3-3h0m0 1h0m-4 3h0m-7-5h0m-2 1h0m-4-2h0m0 1h0m-1 2h0m-1 2h0m-1-1h0m-10-1h0m-1 3h0m-1-3h0m-3 3h0m-1-3h0m-3-1h0m0 0h0m-2 2h0m-6-3h0m-1 3h0m-3-3h0m5 7h0m2 1h0m1 6h0m4 0h0m3-1h0m3 0h0m3-3h0m1 3h0m1 0h0m2-2h0m3 3h0m3-1h0m1-5h0m3 0h0m1 3h0m0-1h0m1-3h0m4 4h0m1-2h0m2-2h0m0 5h0m0-5h0m1 0h0m4 5h0m0-1h0m2-2h0m0 0h0m1 3h0m3 3h0m0 5h0m-2-3h0m-2-1h0m0 6h0m-2-2h0m0-2h0m-1 2h0m-1-5h0m-1 0h0m0 1h0m-7 2h0m0-3h0m-6 0h0m0 0h0m0 5h0m-5 0h0m0 2h0m-4 0h0m-1-1h0m-1-3h0m0 1h0m0-2h0m-1 3h0m-1-3h0m-1 0h0m-1 0h0m-2 4h0m0 0h0m-1-4h0m-1-1h0m-2 5h0m0-6h0m-5 5h0m-2-3h0m-1 5h0m-2-5h0m-1 1h0m0-1h0m0 0h0m0 11h0m4 1h0m1-1h0m1 2h0m0-1h0m1-6h0m2 3h0m0 2h0m1 0h0m2-1h0m2 2h0m0 1h0m0-4h0m0-1h0m1 3h0m2-5h0m0 1h0m0 0h0m2 2h0m1 0h0m0 4h0m1-4h0m0 1h0m0-2h0m1 2h0m0 2h0m1-3h0m0-3h0m0 0h0m0 5h0m2 0h0m3-1h0m1 0h0m0-2h0m1-1h0m1 0h0m1 5h0m2-4h0m0-2h0m3 7h0m1-4h0m0-1h0m1 1h0m1 1h0m0-1h0m1 1h0m0 2h0m1 1h0m3-3h0m1-4h0m1 1h0m0 1h0m2 1h0m2 4h0m0-2h0m1 0h0m1 10h0m-1-7h0m0 5h0m-3-3h0m0 5h0m-2-1h0m0 0h0m0-2h0m-1 3h0m-1-5h0m-2 1h0m-1-3h0m-1 5h0m-1 2h0m-1-7h0m0 1h0m-2 6h0m-3-4h0m0 1h0m-1-2h0m-1 4h0m0-1h0m0 2h0m-1-6h0m-1 3h0m-1-2h0m-1 3h0m0-3h0m-1 5h0m-2-1h0m-1-1h0m0-3h0m-2 3h0m0-2h0m0 1h0m0-4h0m-1 3h0m-1-1h0m-3 5h0m0-2h0m0-3h0m-4 4h0m0-5h0m0 6h0m-1-6h0m0 3h0m0-1h0m-1-2h0m-2 5h0m0-3h0m0 3h0m-1-2h0m-1 3h0m-1-7h0m0 0h0m-1 3h0m-1-2h0m0 5h0m-2-3h0m-1-2h0m0 3h0m-1-3h0m0 0h0m-1 1h0m0 6h0m2 1h0m0 3h0m0-4h0m2 3h0m1 3h0m0-3h0m1 3h0m0-6h0m0 3h0m1-2h0m1 0h0m0 6h0m1-5h0m0 4h0m0 0h0m1-3h0m1 0h0m0 1h0m1 3h0m0-1h0m1-6h0m0 0h0m1 7h0m0-1h0m1-3h0m0 0h0m0 1h0m1-4h0m0 6h0m0-1h0m0-4h0m1 4h0m1 0h0m1 2h0m0 0h0m1-3h0m1 3h0m0-7h0m1 4h0m1 2h0m1-1h0m1-1h0m0-2h0m1 5h0m0 0h0m0-1h0m2-3h0m1 2h0m1-3h0m0-2h0m1 1h0m0 4h0m0-5h0m0 6h0m1-3h0m1 1h0m0 3h0m1-5h0m1 4h0m0-4h0m0 0h0m1 0h0m2 2h0m1-3h0m0-1h0m1 4h0m0 1h0m1-3h0m1 4h0m1 1h0m0-3h0m0 2h0m1-4h0m0-1h0m0-1h0m0 6h0m1-2h0m0 0h0m0 2h0m2-4h0m1-2h0m1 1h0m0 3h0m1-4h0m0 2h0m0-2h0m1 6h0m0 0h0m1-4h0m0 0h0m1-1h0m0 2h0m1-2h0m0 6h0m1 0h0m0 4h0m-1-3h0m-1 3h0m0-2h0m0 3h0m-1-2h0m-1-1h0m-1 1h0m0 0h0m-1-2h0m0 3h0m-1 0h0m0-3h0m-1 3h0m-1 0h0m-1 0h0m-1-1h0m-2-2h0m0 4h0m0 0h0m0-2h0m-1-1h0m-1 0h0m-2 0h0m-1 2h0m0 0h0m0-1h0m-1 0h0m-1 0h0m0-1h0m-1 0h0m0 2h0m-1-1h0m0 0h0m0 2h0m0 0h0m-1-2h0m0 0h0m-1 0h0m-1-1h0m0 1h0m0 1h0m0-2h0m0 2h0m0 0h0m0-1h0m-2-2h0m-1 3h0m0-1h0m-2 1h0m0 1h0m-1-4h0m0 4h0m-2-2h0m0 0h0m-1-1h0m-1 3h0m-1-4h0m0 2h0m-2-2h0m-5 3h0m0-3h0m-1 0h0m0 3h0m-1 0h0m-1-3h0m-1 1h0m0-1h0m0 3h0m0-1h0m0 0h0m-1-1h0m0 1h0m-2 2h0m0-3h0m-1 3h0m-1-1h0m0-2h0m-1 0h0m-1 2h0m-1-2h0"/><path transform="scale(.5)" stroke="#ee2a2a" stroke-width="4.8" stroke-linecap="round" d="M708 3193h0m-43 42h0m165 57h0m-212 54h0m119 2h0m205 10h0m-357-1h0m184 14h0m-142 25h0m112 77h0m-186 18h0m40 12h0m335 3h0m-327 12h0m362 24h0m-304 14h0m147 0h0m-23 19h0m-135 6h0m-19 14h0m-56 3h0m-1 34h0m134 0h0m27 8h0m-50 5h0m-9-3h0m-49 11h0m-17 5h0m160 20h0m-128 2h0m299 10h0m-176 0h0m-152-2h0m118 20h0m-151 0h0m87 12h0m-26 7h0m-40 6h0m27-4h0m9 2h0m130 7h0m-52 5h0m-91-6h0m-16 5h0m-46-2h0m73 7h0m30-2h0m20 5h0m-22 4h0m-42 2h0m-29-1h0m0 0h0m-23 2h0m53 3h0m45 0h0m78 5h0m16 3h0m-121 3h0m-38 9h0m90 6h0m-25 0h0m-29-2h0m-3 3h0m-10-1h0m-33 4h0m2 8h0m4 2h0m-20 10h0m11-2h0m54 3h0m47 3h0m-54 9h0m-27 0h0m-8 1h0m2 4h0m4 0h0m43 4h0m0 1h0m-68 0h0m6 10h0m136 1h0m55 5h0m-79 1h0m-42-2h0m-74 1h0m0 13h0m45-3h0m23 10h0m-90-1h0m-2 11h0m34-2h0m62-5h0m45 5h0m-90 9h0m-28 0h0m-11-3h0m14 9h0m0 2h0m53-1h0m11 4h0m-3 3h0m-28 2h0m-18 0h0m-40 3h0m0-1h0m8 4h0m11 1h0m6-3h0m16 4h0m14-4h0m26 4h0m24-1h0m61 8h0m-108 1h0m-7-4h0m-11-1h0m-14 2h0m-6-3h0m-17 4h0m-2-4h0m-6 9h0m11 5h0m20-4h0m33 2h0m20 5h0m-23 6h0m-34 0h0m-10-3h0m-1-2h0m-2 0h0m-10 5h0m-2-3h0m0 10h0m3 0h0m0-3h0m3 2h0m5-5h0m6 7h0m1-1h0m6 1h0m2-4h0m3 3h0m6 0h0m3-1h0m1-4h0m67 1h0m9-1h0m1-1h0m-56 15h0m-7-4h0m-20 2h0m-6-4h0m-4 5h0m-2 1h0m-2-1h0m-4-6h0m-3 7h0m-1-7h0m-3 6h0m-10 3h0m2 2h0m3-3h0m2 5h0m5 2h0m1-6h0m0 2h0m1 2h0m2-3h0m2 1h0m2-3h0m3 5h0m2-4h0m1 6h0m1 0h0m4-3h0m1-3h0m2 6h0m0-7h0m1 3h0m3-3h0m8 6h0m2-1h0m13 1h0m17-1h0m47 9h0m-21-1h0m-3-3h0m-4 0h0m-10 1h0m-2-1h0m-14-2h0m-1 7h0m-4 0h0m0-5h0m-7 2h0m-1-3h0m-16 4h0m-4-4h0m-4 2h0m-4 3h0m-1 0h0m0-1h0m-1-4h0m-1-1h0m-1 6h0m-4-4h0m-2 3h0m-3-3h0m-1 3h0m-4 1h0m0-2h0m-1-3h0m-6 5h0m-1-1h0m-4-2h0m2 9h0m3-2h0m1 2h0m0 1h0m0-4h0m1-1h0m1 7h0m1-2h0m1 0h0m1 0h0m3-5h0m3 1h0m0 5h0m0 0h0m1-1h0m1 0h0m2-2h0m0 2h0m1-2h0m0-1h0m1 3h0m2-3h0m0 1h0m5 2h0m0 2h0m2-4h0m2-2h0m1 0h0m3 1h0m2 2h0m8 1h0m1-2h0m3 2h0m0-1h0m26 2h0m1 0h0m5-1h0m4 1h0m19 0h0m18-6h0m-41 10h0m-14 0h0m-19-2h0m-15 0h0m-5 0h0m-7 1h0m-1 0h0m-1 1h0m-12-1h0m-2 0h0m-1 1h0m-5 0h0m-1-1h0m0 0h0"/><rect x="331.5" y="1600" width="28.5" height="8" rx="1.5" fill="#e8161e"/><text x="345.8" y="1606.1" font-size="7.2" text-anchor="middle" font-weight="bold" fill="#fff" textLength="25.5" lengthAdjust="spacingAndGlyphs">POSTN</text><rect x="441" y="1756.5" width="31" height="8" rx="1.5" fill="#e8161e"/><text x="456.5" y="1762.6" font-size="7.2" text-anchor="middle" font-weight="bold" fill="#fff" textLength="28" lengthAdjust="spacingAndGlyphs">COL1A1</text><rect x="313.5" y="1830.5" width="31.5" height="8" rx="1.5" fill="#e8161e"/><text x="329.2" y="1836.6" font-size="7.2" text-anchor="middle" font-weight="bold" fill="#fff" textLength="28.5" lengthAdjust="spacingAndGlyphs">COL6A2</text><rect x="287.5" y="1856" width="31" height="8" rx="1.5" fill="#e8161e"/><text x="303" y="1862.1" font-size="7.2" text-anchor="middle" font-weight="bold" fill="#fff" textLength="28" lengthAdjust="spacingAndGlyphs">COL6A1</text><rect x="306.5" y="1930" width="26" height="8.5" rx="1.5" fill="#e8161e"/><text x="319.5" y="1936.6" font-size="7.2" text-anchor="middle" font-weight="bold" fill="#fff" textLength="23" lengthAdjust="spacingAndGlyphs">CALD1</text><rect x="276" y="1949" width="16" height="7.8" rx="1.5" fill="#e8161e"/><text x="284" y="1954.9" font-size="7.2" text-anchor="middle" font-weight="bold" fill="#fff" textLength="13" lengthAdjust="spacingAndGlyphs">VIM</text><rect x="229.8" y="1945.5" width="16.1" height="7.5" rx="1.5" fill="#b8b8b8"/><text x="237.9" y="1951.1" font-size="7.2" text-anchor="middle" font-weight="bold" fill="#fff" textLength="13.1" lengthAdjust="spacingAndGlyphs">IL6</text><rect x="213.7" y="1958.3" width="24.7" height="7.5" rx="1.5" fill="#b8b8b8"/><text x="226.1" y="1963.9" font-size="7.2" text-anchor="middle" font-weight="bold" fill="#fff" textLength="21.7" lengthAdjust="spacingAndGlyphs">DUSP5</text><rect x="234" y="1974" width="19.4" height="7.3" rx="1.5" fill="#f7941d"/><text x="243.7" y="1979.4" font-size="7.2" text-anchor="middle" font-weight="bold" fill="#fff" textLength="16.4" lengthAdjust="spacingAndGlyphs">ATF3</text><rect x="259.2" y="1991.6" width="18.9" height="7.1" rx="1.5" fill="#f7941d"/><text x="268.6" y="1996.8" font-size="7.2" text-anchor="middle" font-weight="bold" fill="#fff" textLength="15.9" lengthAdjust="spacingAndGlyphs">KLF5</text><text x="529.2" y="1576.2" font-size="23.5" font-weight="bold">G</text><path d="M634.7 1761.3C642.6 1761.3 666.3 1762.1 682.1 1761.3C697.9 1760.5 713.7 1759.8 729.5 1756.6C745.3 1753.4 761.1 1748.7 776.9 1742.4C792.7 1736.1 808.4 1728.2 824.2 1718.7C840 1709.2 855.8 1696.2 871.6 1685.5C887.4 1674.8 899.9 1666.2 919 1654.7C938.1 1643.2 975 1623.1 986.2 1616.8L986.2 1854.6C975 1854.4 938.1 1853.5 919 1853.7C899.9 1854 887.4 1854.9 871.6 1856.1C855.8 1857.3 840 1858.4 824.2 1860.8C808.4 1863.2 792.7 1865.2 776.9 1870.3C761.1 1875.4 745.3 1882.5 729.5 1891.6C713.7 1900.7 697.9 1912.6 682.1 1924.8C666.3 1937 642.6 1958.3 634.7 1965Z" fill="#ebebeb"/><path d="M634.7 1862.2L986.2 1736.2" stroke="#1a2ee8" stroke-width="2"/><circle cx="634.7" cy="1897.3" r="2.6" fill="#2b2b2b"/><circle cx="688.7" cy="1833.3" r="2.6" fill="#2b2b2b"/><circle cx="844.6" cy="1722" r="2.6" fill="#2b2b2b"/><circle cx="986.2" cy="1776.5" r="2.6" fill="#2b2b2b"/><path d="M572.2 1579V2014.8H1006.6" stroke="#222" stroke-width="1.2" fill="none"/><path d="M569.2 1599.3L572.2 1599.3" stroke="#333" stroke-width="1" fill="none" /><text x="567" y="1602.3" font-size="8.5" text-anchor="end" fill="#444">50</text><path d="M569.2 1687L572.2 1687" stroke="#333" stroke-width="1" fill="none" /><text x="567" y="1690" font-size="8.5" text-anchor="end" fill="#444">40</text><path d="M569.2 1775.5L572.2 1775.5" stroke="#333" stroke-width="1" fill="none" /><text x="567" y="1778.5" font-size="8.5" text-anchor="end" fill="#444">30</text><path d="M569.2 1863.2L572.2 1863.2" stroke="#333" stroke-width="1" fill="none" /><text x="567" y="1866.2" font-size="8.5" text-anchor="end" fill="#444">20</text><path d="M569.2 1951.3L572.2 1951.3" stroke="#333" stroke-width="1" fill="none" /><text x="567" y="1954.3" font-size="8.5" text-anchor="end" fill="#444">10</text><path d="M670.7 2014.8L670.7 2017.8" stroke="#333" stroke-width="1" fill="none" /><text x="670.7" y="2027" font-size="8.5" text-anchor="middle" fill="#444">3</text><path d="M789.6 2014.8L789.6 2017.8" stroke="#333" stroke-width="1" fill="none" /><text x="789.6" y="2027" font-size="8.5" text-anchor="middle" fill="#444">6</text><path d="M907.6 2014.8L907.6 2017.8" stroke="#333" stroke-width="1" fill="none" /><text x="907.6" y="2027" font-size="8.5" text-anchor="middle" fill="#444">9</text><text x="789.6" y="2035.5" font-size="8.5" text-anchor="middle" fill="#333">ATF3</text><text font-size="8.5" fill="#333" text-anchor="middle" transform="translate(554.5 1801.5) rotate(-90)">Partial_EMT</text><text x="588.8" y="1597.9" font-size="15.6" fill="#111">R= 0.76</text><text x="588.8" y="1615.9" font-size="15.6" fill="#111"><tspan font-style="italic">p</tspan>= 0.24</text><text x="843.2" y="1705.9" font-size="25.9" text-anchor="middle" font-weight="bold" fill="#d0282c">PT4</text><text x="681.6" y="1814.9" font-size="25.9" text-anchor="middle" font-weight="bold" fill="#14147e">PT3</text><text x="979.1" y="1810" font-size="25.9" text-anchor="middle" font-weight="bold" fill="#d0282c">PT2</text><text x="631.9" y="1924.8" font-size="25.9" text-anchor="middle" font-weight="bold" fill="#14147e">PT1</text><text x="904.8" y="1947" font-size="23.4" font-weight="bold" fill="#d0282c" textLength="79" lengthAdjust="spacingAndGlyphs">treated</text><text x="843.2" y="1989.7" font-size="23.4" font-weight="bold" fill="#14147e" textLength="130" lengthAdjust="spacingAndGlyphs">non-treated</text><text x="9.7" y="2107.2" font-size="23.5" font-weight="bold">H</text><text x="229.8" y="2137" font-size="37" text-anchor="middle" font-weight="bold" fill="#111">*</text><path d="M163.2 2150.2V2133.3H296.5V2150.2" stroke="#111" stroke-width="2.6" fill="none"/><rect x="128" y="2357.2" width="72" height="71.9" fill="#d4d4d4" stroke="#111" stroke-width="2.8"/><rect x="260.4" y="2285.3" width="71.9" height="143.8" fill="#d4d4d4" stroke="#111" stroke-width="2.8"/><path d="M107 2148.4V2429.1M94.7 2429.1H352.6" stroke="#111" stroke-width="2.6" fill="none"/><path d="M94.7 2429.1L107 2429.1" stroke="#111" stroke-width="2.6" fill="none" /><text x="90.5" y="2436.3" font-size="20.5" text-anchor="end" fill="#111">0</text><path d="M94.7 2359L107 2359" stroke="#111" stroke-width="2.6" fill="none" /><text x="90.5" y="2366.2" font-size="20.5" text-anchor="end" fill="#111">1</text><path d="M94.7 2289.1L107 2289.1" stroke="#111" stroke-width="2.6" fill="none" /><text x="90.5" y="2296.3" font-size="20.5" text-anchor="end" fill="#111">2</text><path d="M94.7 2219L107 2219" stroke="#111" stroke-width="2.6" fill="none" /><text x="90.5" y="2226.2" font-size="20.5" text-anchor="end" fill="#111">3</text><path d="M94.7 2148.4L107 2148.4" stroke="#111" stroke-width="2.6" fill="none" /><text x="90.5" y="2155.6" font-size="20.5" text-anchor="end" fill="#111">4</text><path d="M163.2 2429.1L163.2 2439.6" stroke="#111" stroke-width="2.6" fill="none" /><path d="M295.8 2429.1L295.8 2439.6" stroke="#111" stroke-width="2.6" fill="none" /><path d="M163.2 2184.2h0M163.2 2224.6h0M163.2 2244.9h0M163.2 2322.8h0M152.6 2335.1h0M152.6 2343.2h0M163.2 2339.6h0M163.2 2351.2h0M296.5 2167h0M296.5 2199.3h0M296.5 2225.6h0M287.7 2253.7h0M304.6 2253.7h0M287.7 2272.3h0M304.6 2269.5h0M287.7 2290.5h0M304.6 2287.7h0M296.5 2303.5h0M296.5 2316.1h0M287.7 2429.1h0M304.6 2429.1h0M130.5 2429.1h0M142.1 2429.1h0M153.3 2429.1h0M164.2 2429.1h0M175.4 2429.1h0M186.7 2429.1h0M197.5 2429.1h0" stroke="#000" stroke-width="8.8" stroke-linecap="round"/><text x="164" y="2462.5" font-size="20.5" text-anchor="middle" fill="#111" textLength="107" lengthAdjust="spacingAndGlyphs">non-treated</text><text x="295.6" y="2462.5" font-size="20.5" text-anchor="middle" fill="#111" textLength="65" lengthAdjust="spacingAndGlyphs">treated</text><text x="229" y="2496" font-size="20.5" text-anchor="middle" fill="#111" textLength="187.7" lengthAdjust="spacingAndGlyphs">HGSOC patient cells</text><text font-size="20.5" fill="#111" text-anchor="middle" transform="translate(29.8 2289.6) rotate(-90)">normalized</text><text font-size="20.5" fill="#111" text-anchor="middle" transform="translate(55.5 2289.6) rotate(-90)"><tspan font-style="italic">ATF3</tspan> expression</text><text x="541.2" y="2107.2" font-size="23.5" font-weight="bold">I</text><path d="M596.6 2107.5V2430.3H976.6" stroke="#777" stroke-width="1.3" fill="none"/><path d="M591.5 2108.2L596.6 2108.2" stroke="#333" stroke-width="1.3" fill="none" /><text x="580.6" y="2112" font-size="16" text-anchor="end" fill="#111">1</text><path d="M591.5 2188.7L596.6 2188.7" stroke="#333" stroke-width="1.3" fill="none" /><text x="580.6" y="2189.4" font-size="16" text-anchor="end" fill="#111">0.75</text><path d="M591.5 2269.2L596.6 2269.2" stroke="#333" stroke-width="1.3" fill="none" /><text x="580.6" y="2272.2" font-size="16" text-anchor="end" fill="#111">0.5</text><path d="M591.5 2349.6L596.6 2349.6" stroke="#333" stroke-width="1.3" fill="none" /><text x="580.6" y="2354.8" font-size="16" text-anchor="end" fill="#111">0.25</text><path d="M591.5 2430.3L596.6 2430.3" stroke="#333" stroke-width="1.3" fill="none" /><text x="580.6" y="2434.7" font-size="16" text-anchor="end" fill="#111">0</text><path d="M596.6 2430.3L596.6 2435" stroke="#555" stroke-width="1.2" fill="none" /><text x="596.6" y="2450.8" font-size="16.5" text-anchor="middle" fill="#111">0</text><path d="M691.6 2430.3L691.6 2435" stroke="#555" stroke-width="1.2" fill="none" /><text x="691.6" y="2450.8" font-size="16.5" text-anchor="middle" fill="#111">250</text><path d="M786.6 2430.3L786.6 2435" stroke="#555" stroke-width="1.2" fill="none" /><text x="786.6" y="2450.8" font-size="16.5" text-anchor="middle" fill="#111">500</text><path d="M881.6 2430.3L881.6 2435" stroke="#555" stroke-width="1.2" fill="none" /><text x="881.6" y="2450.8" font-size="16.5" text-anchor="middle" fill="#111">750</text><path d="M976.6 2430.3L976.6 2435" stroke="#555" stroke-width="1.2" fill="none" /><text x="976.6" y="2450.8" font-size="16.5" text-anchor="middle" fill="#111">1.000</text><text x="981" y="2433.6" font-size="16" fill="#111">days</text><text x="914.5" y="2132.5" font-size="16.1" fill="#111">p= 0.018</text><text font-size="15.6" fill="#111" transform="translate(612.3 2424.5) rotate(-90)" textLength="141.5" lengthAdjust="spacingAndGlyphs">Survival probability</text><path d="M597.8 2108.2H601.7V2111.7H607.5V2115.6H608.5V2118.5H618.3V2120.5H619.2V2123.4H621.7V2126.3H624.1V2129.2H627V2131.6H630V2134.1H635.8V2138H639.7V2140H660.2V2140.9H663.1V2143.9H669V2148.7H679.7H682.1V2152.1H684.5V2155.6H687.5V2159H690.4V2162.4H692.3V2166.3H696.2V2169.2H701.1V2170.2H706V2174.1H707V2178.9H708.6V2181.8H710.2V2184.8H711.8V2187.7H714.2V2190.6H716.7V2193.6H722.6V2197.5H724.5V2199.4H725.5V2202.4H726.5V2205.3H733.3V2209.2H736.2V2212.1H746H746.9V2218.9H749.3V2222.8H751.8V2226.7H755.7V2228.7H756.7V2232.6H757.6V2236.5H758.6V2239.9H759.6V2243.3H764.5V2244.2H767.4V2247.1H770.3V2250.1H771.3V2253H772.2V2255.9H773.2V2258.9H774.2V2261.8H780V2261.4H796.4V2265.1H798.5V2267.8H800.5V2270.6H802V2274.2H803.5V2277.8H804.3V2281.1H805V2284.4H805.8V2287.8H806.6V2291.1H812.7V2294.1H815.8V2298.2H828.1V2299.3H829.1V2301.9H830.1V2304.4H830.8V2307.8H831.5V2311.2H832.2V2314.6H837.3V2315.6H838.3V2319H839.4V2322.4H846.5V2325.9H847.2V2329H847.9V2332H848.6V2335.1H853.7V2338.1H859.8V2342.2H886.4H886.4V2349.4H898.7H899.7V2352.5H906.9V2353.5H908.9V2357.6H916.1V2359.6H917.1V2362.7H923.3V2365.8H932.5H934.5V2369.7H936.6V2373.6H962.2H963.2V2376.8H964.2V2380.1H976.1" stroke="#e01818" stroke-width="2.3" fill="none"/><path d="M597.8 2108.2H648.5H650.4V2110.7H654.3V2114.6H659.2V2118.5H668H671.9V2122.4H674.8V2124.9H677.7V2127.3H680.7V2129.8H683.6V2132.2H688.4V2136.1H690.4V2139H693.3V2140.9H699.2H701.1V2143.9H702.1V2150.7H703.1V2156.5H706V2159.4H708.9V2162.4H711.8V2165.3H714.8V2168.2H716.8V2172.1H718.7V2176H721.6V2178.9H724.5V2181.9H727V2184.8H729.4V2187.7H730.4V2190.6H738.1V2191.6H741V2195.5H744V2199.4H746.9V2202.8H749.8V2206.2H752.8V2209.1H755.7V2212.1H766.4H767.1V2215H767.7V2218H768.4V2220.9H771.3V2224.3H774.2V2227.7H777.2V2230.6H780.1V2233.5H783V2236.4H785.9V2239.4H790.2V2242H797.4V2245H798.4V2248.1H799.5V2251.1H800.5V2254.2H801.9V2257.3H803.2V2260.3H804.6V2263.4H810.7V2265.5H814.8V2269.6H816.3V2273.5H817.9V2277.4H831.2H832.2V2280.8H838.3V2281.9H839.3V2284.8H840.4V2287.6H849.6V2288.4H851.7V2291.2H853.7V2294.1H862.9V2295.2H863.9V2297.8H871.1V2298.2H872.1V2301.3H873.1V2304.4H874.1V2307.5H878.2V2311.5H897.7H898.7V2314.6H904.8V2317.7H927.4V2318.3H927.4V2322.2H943.7H944.8V2325.3H971.4H972.4V2328.2H973.4V2331H976.1V2335.1" stroke="#1414e0" stroke-width="2.3" fill="none"/><path d="M600 2103.7v9M605 2107.2v9M616 2114v9M619 2116v9M627 2124.7v9M632 2129.6v9M646 2135.5v9M652 2135.5v9M660 2135.5v9M663 2136.4v9M666 2139.4v9M669 2144.2v9M680 2144.2v9M692 2157.9v9M741 2207.6v9M746 2207.6v9M756 2224.2v9M844 2317.9v9M936 2361.3v9M976 2375.6v9" stroke="#e01818" stroke-width="1.3" fill="none"/><path d="M602 2103.7v9M604 2103.7v9M606 2103.7v9M608 2103.7v9M614 2103.7v9M621 2103.7v9M631 2103.7v9M634 2103.7v9M637 2103.7v9M658 2110.1v9M668 2114v9M687 2127.7v9M691 2134.5v9M693 2134.5v9M695 2136.4v9M728 2177.4v9M730 2183.2v9M733 2186.1v9M755 2201.7v9M786 2234.9v9M790 2234.9v9M814 2261v9M815 2265.1v9M880 2307v9M941 2317.7v9M974 2326.5v9M976 2326.5v9" stroke="#1414e0" stroke-width="1.3" fill="none"/></svg></body></html>
